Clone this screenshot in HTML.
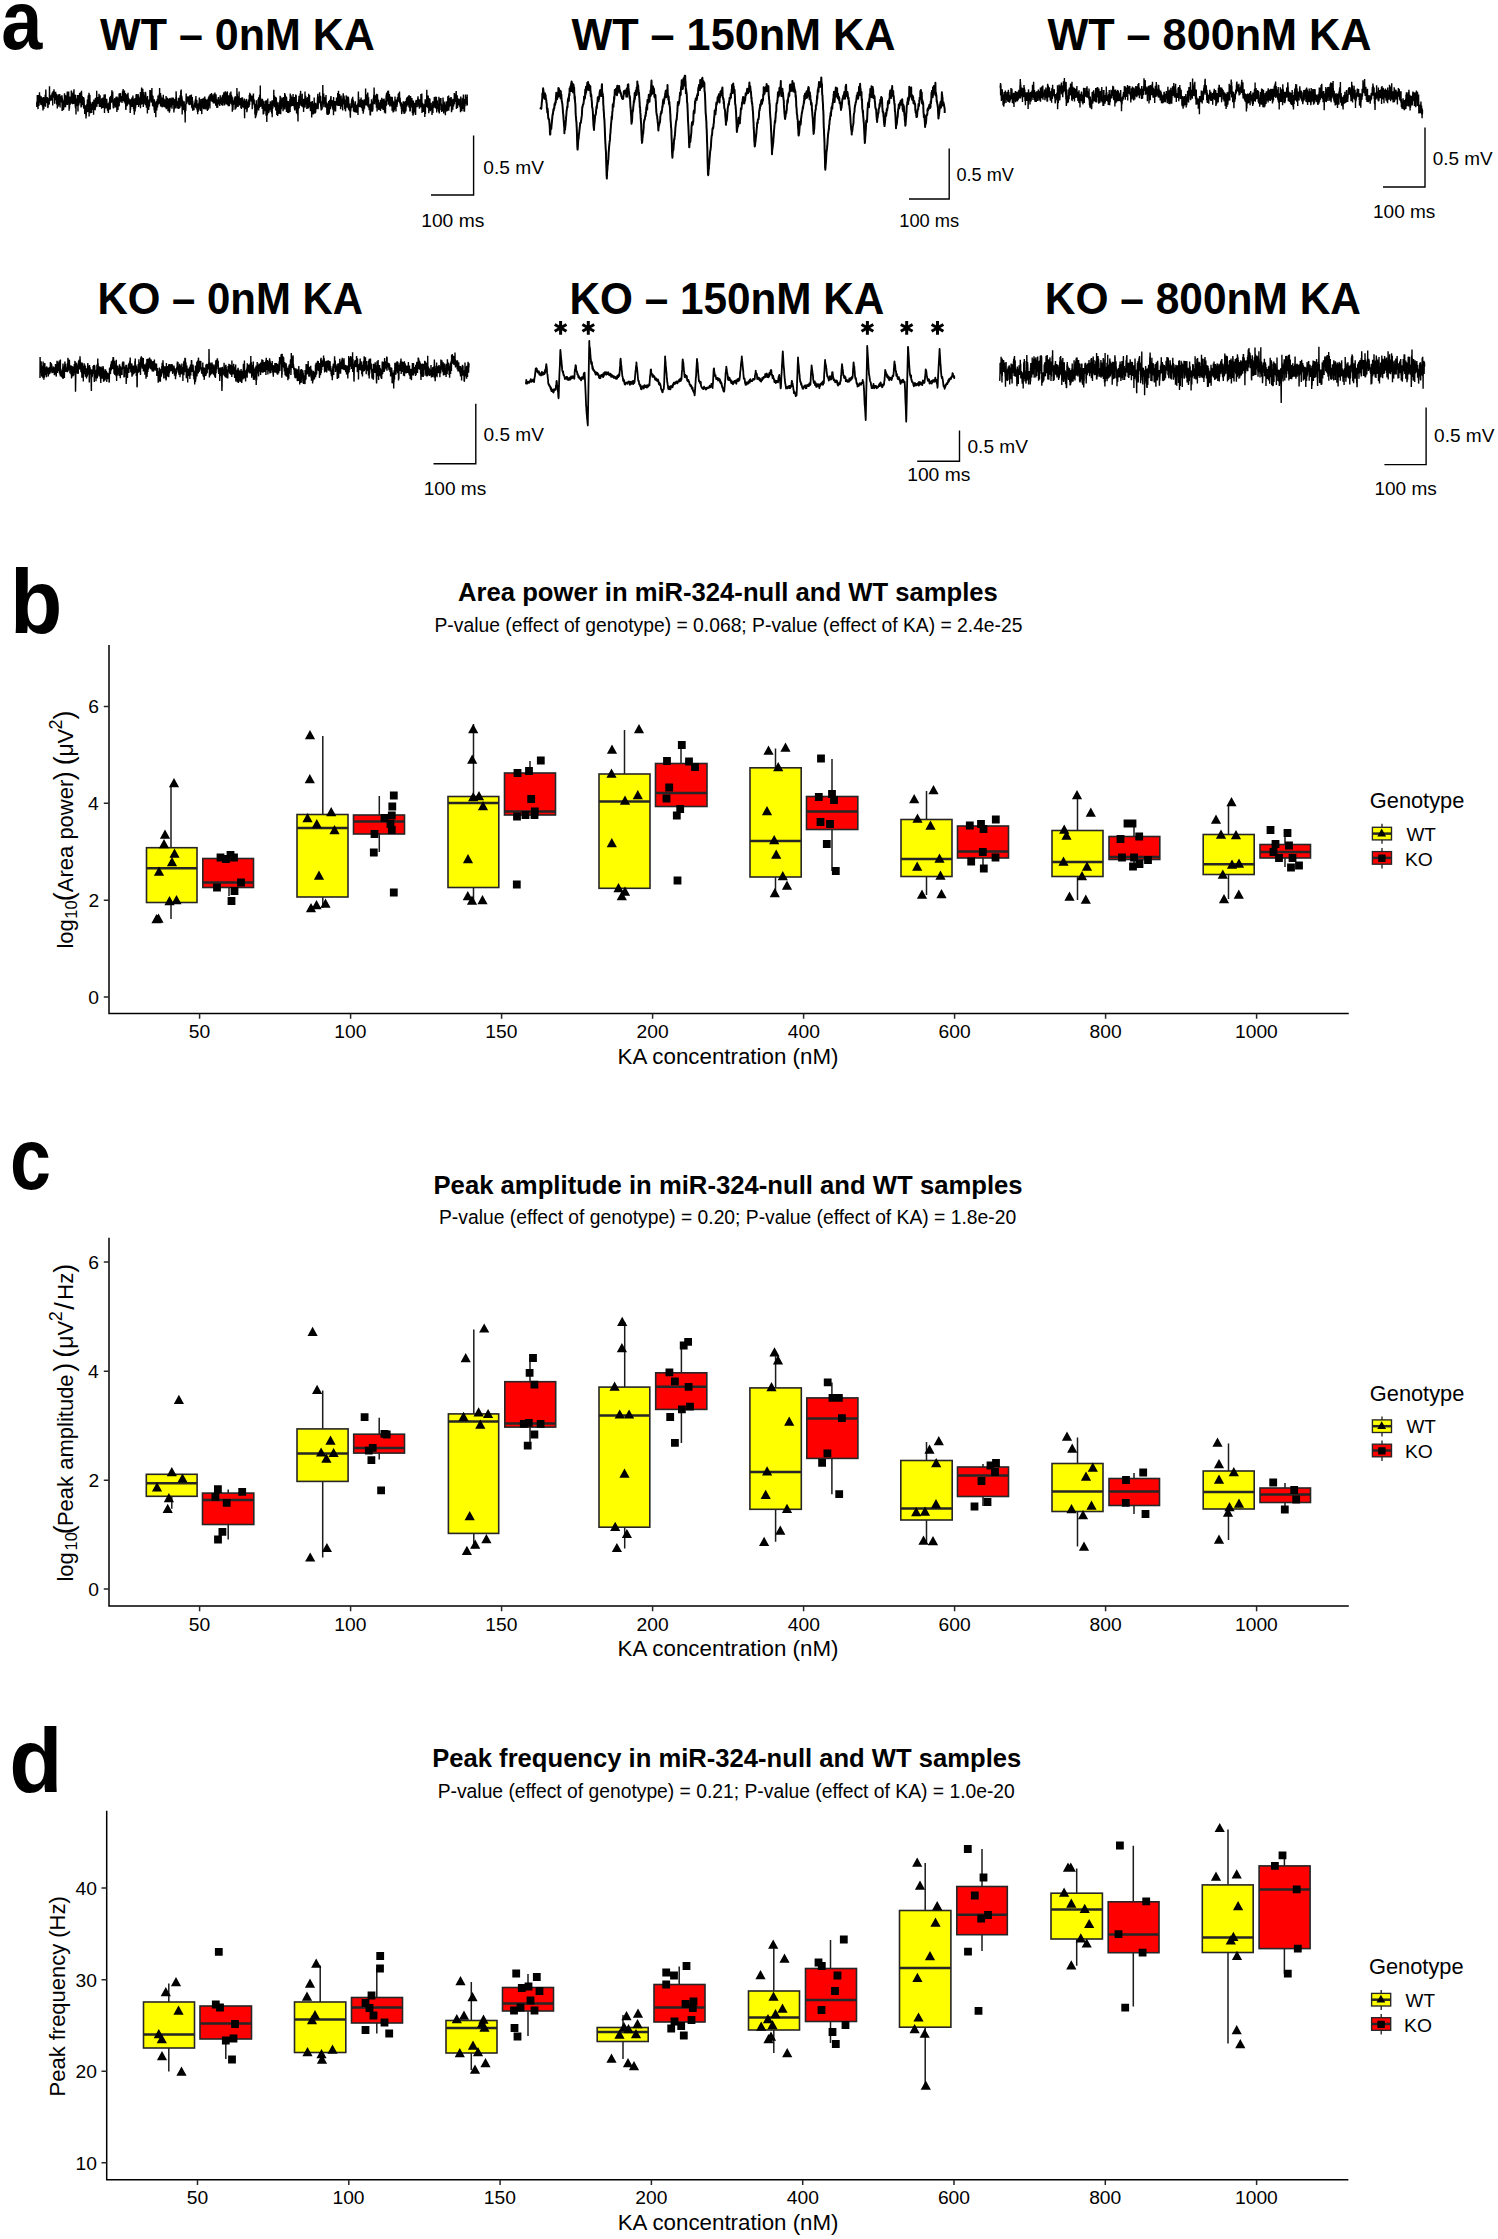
<!DOCTYPE html>
<html><head><meta charset="utf-8"><title>Figure</title><style>html,body{margin:0;padding:0;background:#fff;}svg{display:block;}text{font-family:"Liberation Sans",sans-serif;}</style></head><body>
<svg width="1498" height="2239" viewBox="0 0 1498 2239">
<rect width="1498" height="2239" fill="#fff"/>
<text transform="translate(1.17,48.57) scale(0.7383,0.8292)" x="0" y="0" font-size="100" font-weight="bold">a</text>
<text x="100.1" y="49.9" font-size="44" font-weight="bold" textLength="274.8" lengthAdjust="spacingAndGlyphs" fill="#000">WT – 0nM KA</text>
<text x="571.4" y="49.9" font-size="44" font-weight="bold" textLength="324.15" lengthAdjust="spacingAndGlyphs" fill="#000">WT – 150nM KA</text>
<text x="1047.4" y="49.9" font-size="44" font-weight="bold" textLength="324.15" lengthAdjust="spacingAndGlyphs" fill="#000">WT – 800nM KA</text>
<text x="97.38" y="313.6" font-size="44" font-weight="bold" textLength="265.74" lengthAdjust="spacingAndGlyphs" fill="#000">KO – 0nM KA</text>
<text x="569.56" y="313.6" font-size="44" font-weight="bold" textLength="314.72" lengthAdjust="spacingAndGlyphs" fill="#000">KO – 150nM KA</text>
<text x="1044.75" y="313.6" font-size="44" font-weight="bold" textLength="316.23" lengthAdjust="spacingAndGlyphs" fill="#000">KO – 800nM KA</text>
<path d="M431 195H473.6V135.5" fill="none" stroke="#000" stroke-width="1.4"/>
<text x="483.29" y="173.5" font-size="18.8" textLength="60.61" lengthAdjust="spacingAndGlyphs" fill="#000">0.5 mV</text>
<text x="421.22" y="226.5" font-size="18.8" textLength="63.04" lengthAdjust="spacingAndGlyphs" fill="#000">100 ms</text>
<path d="M909 199H949.2V148.5" fill="none" stroke="#000" stroke-width="1.4"/>
<text x="956.52" y="180.5" font-size="18.8" textLength="57.39" lengthAdjust="spacingAndGlyphs" fill="#000">0.5 mV</text>
<text x="899.28" y="226.5" font-size="18.8" textLength="59.94" lengthAdjust="spacingAndGlyphs" fill="#000">100 ms</text>
<path d="M1383 187H1425V127.4" fill="none" stroke="#000" stroke-width="1.4"/>
<text x="1432.7" y="164.7" font-size="18.8" textLength="59.91" lengthAdjust="spacingAndGlyphs" fill="#000">0.5 mV</text>
<text x="1373.03" y="218.1" font-size="18.8" textLength="62.32" lengthAdjust="spacingAndGlyphs" fill="#000">100 ms</text>
<path d="M433.5 463.8H475.8V403.8" fill="none" stroke="#000" stroke-width="1.4"/>
<text x="483.49" y="441" font-size="18.8" textLength="60.41" lengthAdjust="spacingAndGlyphs" fill="#000">0.5 mV</text>
<text x="423.73" y="495" font-size="18.8" textLength="62.53" lengthAdjust="spacingAndGlyphs" fill="#000">100 ms</text>
<path d="M917.2 461.2H959.5V430.5" fill="none" stroke="#000" stroke-width="1.4"/>
<text x="967.49" y="453" font-size="18.8" textLength="60.41" lengthAdjust="spacingAndGlyphs" fill="#000">0.5 mV</text>
<text x="907.22" y="480.8" font-size="18.8" textLength="63.04" lengthAdjust="spacingAndGlyphs" fill="#000">100 ms</text>
<path d="M1384.4 464.6H1426.1V407.4" fill="none" stroke="#000" stroke-width="1.4"/>
<text x="1434.09" y="442.4" font-size="18.8" textLength="60.31" lengthAdjust="spacingAndGlyphs" fill="#000">0.5 mV</text>
<text x="1374.43" y="494.5" font-size="18.8" textLength="62.32" lengthAdjust="spacingAndGlyphs" fill="#000">100 ms</text>
<polyline points="36.7,102.3 36.8,106.9 37.0,103.8 37.1,100.7 37.2,104.0 37.3,95.1 37.5,102.9 37.6,99.5 37.7,96.1 37.8,103.9 38.0,109.1 38.1,106.1 38.2,103.4 38.3,97.8 38.5,95.1 38.6,98.9 38.7,97.2 38.8,100.4 39.0,105.9 39.1,102.1 39.2,100.0 39.3,99.8 39.5,92.2 39.6,100.8 39.7,98.6 39.8,95.0 40.0,97.6 40.1,97.2 40.2,100.5 40.3,96.5 40.5,102.9 40.6,99.0 40.7,97.2 40.8,104.8 41.0,99.0 41.1,100.0 41.2,96.2 41.3,105.1 41.5,100.8 41.6,103.4 41.7,100.5 41.8,103.0 42.0,97.4 42.1,100.9 42.2,98.0 42.3,102.0 42.5,106.4 42.6,101.7 42.7,103.6 42.8,104.7 43.0,110.4 43.1,107.1 43.2,97.5 43.3,108.9 43.5,97.0 43.6,97.6 43.7,103.9 43.8,108.9 44.0,99.5 44.1,97.6 44.2,100.6 44.3,102.1 44.5,106.3 44.6,101.0 44.7,98.7 44.8,98.2 45.0,99.9 45.1,100.9 45.2,94.8 45.3,97.7 45.5,101.1 45.6,106.7 45.7,99.9 45.8,89.5 46.0,95.9 46.1,99.9 46.2,97.2 46.3,103.3 46.5,98.1 46.6,101.5 46.7,101.6 46.8,98.3 47.0,98.4 47.1,99.4 47.2,96.9 47.3,101.5 47.5,98.9 47.6,101.8 47.7,97.7 47.8,108.1 48.0,103.9 48.1,107.2 48.2,99.2 48.3,100.1 48.5,103.2 48.6,102.5 48.7,102.1 48.8,103.8 49.0,102.4 49.1,104.7 49.2,98.1 49.3,103.9 49.5,86.2 49.6,101.0 49.7,101.6 49.8,97.7 50.0,99.4 50.1,99.1 50.2,100.8 50.3,95.4 50.5,96.9 50.6,100.5 50.7,96.9 50.8,97.1 51.0,100.6 51.1,99.1 51.2,95.9 51.3,94.7 51.5,99.5 51.6,100.0 51.7,99.2 51.8,98.5 52.0,95.1 52.1,92.7 52.2,95.3 52.3,94.7 52.5,92.5 52.6,95.6 52.7,105.5 52.8,92.2 53.0,92.7 53.1,96.7 53.2,91.1 53.3,92.4 53.5,92.4 53.6,94.0 53.7,97.6 53.8,96.6 54.0,89.3 54.1,93.8 54.2,91.5 54.3,96.8 54.5,93.9 54.6,100.2 54.7,103.8 54.8,95.6 55.0,97.8 55.1,100.3 55.2,95.1 55.3,92.4 55.5,100.2 55.6,99.8 55.7,91.7 55.8,98.8 56.0,97.4 56.1,97.1 56.2,99.8 56.3,94.2 56.5,94.4 56.6,104.5 56.7,102.0 56.8,99.2 57.0,99.9 57.1,100.6 57.2,99.6 57.3,108.5 57.5,97.4 57.6,102.0 57.7,95.5 57.8,102.4 58.0,106.9 58.1,100.1 58.2,97.4 58.3,94.2 58.5,104.8 58.6,97.8 58.7,101.2 58.8,103.1 59.0,96.7 59.1,100.5 59.2,105.4 59.3,97.0 59.5,99.0 59.6,100.2 59.7,93.9 59.8,98.3 60.0,103.4 60.1,107.6 60.2,96.2 60.3,100.0 60.5,101.2 60.6,98.7 60.7,97.5 60.8,99.1 61.0,98.4 61.1,101.4 61.2,99.7 61.3,100.4 61.5,95.5 61.6,102.2 61.7,101.4 61.8,102.8 62.0,95.3 62.1,110.9 62.2,103.7 62.3,97.7 62.5,108.2 62.6,106.7 62.7,102.2 62.8,109.1 63.0,106.4 63.1,100.4 63.2,101.5 63.3,105.5 63.5,110.1 63.6,101.9 63.7,108.7 63.8,103.7 64.0,100.0 64.1,107.6 64.2,98.7 64.3,101.1 64.5,93.3 64.6,99.9 64.7,104.1 64.8,95.9 65.0,94.7 65.1,106.4 65.2,102.7 65.3,97.3 65.5,99.7 65.6,107.3 65.7,95.3 65.8,103.6 66.0,101.9 66.1,101.1 66.2,99.4 66.3,102.7 66.5,96.0 66.6,99.9 66.7,104.8 66.8,98.9 67.0,100.1 67.1,102.9 67.2,93.2 67.3,91.5 67.5,105.1 67.6,101.1 67.7,101.9 67.8,98.4 68.0,100.5 68.1,103.5 68.2,100.2 68.3,98.5 68.5,97.3 68.6,95.0 68.7,91.5 68.8,99.4 69.0,99.3 69.1,110.7 69.2,98.7 69.3,96.7 69.5,108.4 69.6,98.2 69.7,99.6 69.8,104.6 70.0,104.6 70.1,104.5 70.2,103.0 70.3,96.6 70.5,97.7 70.6,98.2 70.7,102.3 70.8,98.7 71.0,103.8 71.1,100.4 71.2,100.6 71.3,90.6 71.5,99.7 71.6,94.2 71.7,102.4 71.8,98.3 72.0,101.8 72.1,101.6 72.2,96.9 72.3,96.3 72.5,103.2 72.6,104.3 72.7,96.0 72.8,92.9 73.0,102.6 73.1,93.7 73.2,99.3 73.3,91.4 73.5,103.9 73.6,101.2 73.7,98.3 73.8,95.1 74.0,89.2 74.1,99.8 74.2,103.0 74.3,101.4 74.5,95.6 74.6,103.7 74.7,102.3 74.8,95.0 75.0,94.6 75.1,97.6 75.2,106.2 75.3,99.0 75.5,108.3 75.6,106.3 75.7,94.9 75.8,100.5 76.0,114.6 76.1,101.7 76.2,104.6 76.3,103.3 76.5,100.9 76.6,99.2 76.7,103.3 76.8,104.1 77.0,104.8 77.1,105.9 77.2,98.3 77.3,99.1 77.5,105.7 77.6,103.3 77.7,95.0 77.8,98.6 78.0,111.4 78.1,100.5 78.2,100.5 78.3,102.6 78.5,102.7 78.6,95.0 78.7,97.3 78.8,105.6 79.0,95.2 79.1,98.7 79.2,103.5 79.3,97.0 79.5,96.6 79.6,92.9 79.7,93.1 79.8,100.2 80.0,97.8 80.1,96.5 80.2,93.5 80.3,102.0 80.5,102.7 80.6,96.6 80.7,93.0 80.8,92.3 81.0,105.8 81.1,107.5 81.2,95.2 81.3,98.9 81.5,90.7 81.6,95.8 81.7,106.8 81.8,102.7 82.0,103.2 82.1,98.8 82.2,96.1 82.3,99.1 82.5,104.9 82.6,102.1 82.7,103.3 82.8,103.5 83.0,98.1 83.1,101.7 83.2,97.8 83.3,97.5 83.5,103.8 83.6,97.0 83.7,108.5 83.8,103.9 84.0,98.2 84.1,101.7 84.2,100.3 84.3,109.0 84.5,108.2 84.6,106.9 84.7,114.0 84.9,108.4 85.0,107.9 85.1,105.8 85.2,105.3 85.4,112.1 85.5,114.3 85.6,111.1 85.7,112.8 85.9,112.1 86.0,118.6 86.1,112.7 86.2,116.2 86.4,110.6 86.5,107.6 86.6,104.3 86.7,105.6 86.9,110.9 87.0,104.7 87.1,112.3 87.2,105.8 87.4,99.4 87.5,106.7 87.6,103.4 87.7,112.0 87.9,106.7 88.0,99.3 88.1,103.0 88.2,96.4 88.4,95.4 88.5,100.7 88.6,102.7 88.7,98.4 88.9,104.6 89.0,92.8 89.1,116.6 89.2,100.9 89.4,94.2 89.5,101.9 89.6,99.2 89.7,105.4 89.9,95.0 90.0,104.2 90.1,101.0 90.2,108.6 90.4,113.3 90.5,102.4 90.6,103.4 90.7,104.7 90.9,105.3 91.0,110.0 91.1,104.2 91.2,103.8 91.4,106.8 91.5,107.2 91.6,113.0 91.7,105.4 91.9,105.2 92.0,109.9 92.1,109.6 92.2,103.5 92.4,105.9 92.5,101.8 92.6,110.0 92.7,103.7 92.9,104.2 93.0,105.1 93.1,103.1 93.2,106.8 93.4,110.0 93.5,107.6 93.6,114.7 93.7,106.8 93.9,99.6 94.0,105.9 94.1,103.6 94.2,109.5 94.4,104.8 94.5,106.9 94.6,99.9 94.7,102.3 94.9,105.4 95.0,103.3 95.1,104.3 95.2,110.2 95.4,98.6 95.5,98.2 95.6,107.7 95.7,102.9 95.9,98.9 96.0,102.6 96.1,104.3 96.2,97.5 96.4,103.6 96.5,99.2 96.6,105.1 96.7,90.8 96.9,106.7 97.0,98.9 97.1,103.9 97.2,97.1 97.4,101.5 97.5,104.0 97.6,100.2 97.7,98.4 97.9,97.3 98.0,97.5 98.1,103.6 98.2,96.9 98.4,103.6 98.5,101.1 98.6,100.2 98.7,98.6 98.9,99.7 99.0,93.8 99.1,104.3 99.2,100.2 99.4,107.0 99.5,99.3 99.6,99.3 99.7,102.4 99.9,101.2 100.0,98.5 100.1,95.2 100.2,100.0 100.4,101.0 100.5,106.4 100.6,106.7 100.7,99.8 100.9,106.9 101.0,99.8 101.1,101.0 101.2,101.8 101.4,99.8 101.5,105.9 101.6,108.7 101.7,98.2 101.9,103.4 102.0,101.4 102.1,103.0 102.2,98.5 102.4,105.4 102.5,102.9 102.6,102.3 102.7,108.1 102.9,97.4 103.0,100.0 103.1,103.2 103.2,104.8 103.4,101.5 103.5,104.2 103.6,107.8 103.7,101.9 103.9,102.1 104.0,103.9 104.1,94.4 104.2,106.7 104.4,107.0 104.5,113.0 104.6,100.2 104.7,107.1 104.9,107.8 105.0,109.0 105.1,101.6 105.2,94.2 105.4,106.4 105.5,107.2 105.6,107.2 105.7,103.4 105.9,102.7 106.0,105.6 106.1,102.2 106.2,102.2 106.4,106.9 106.5,108.0 106.6,101.6 106.7,98.7 106.9,101.9 107.0,108.6 107.1,104.7 107.2,108.7 107.4,108.5 107.5,110.8 107.6,105.0 107.7,107.0 107.9,110.1 108.0,105.2 108.1,103.2 108.2,111.4 108.4,113.0 108.5,103.8 108.6,109.2 108.7,108.9 108.9,107.9 109.0,105.4 109.1,103.4 109.2,101.7 109.4,109.8 109.5,105.5 109.6,107.2 109.7,97.2 109.9,107.5 110.0,106.6 110.1,103.4 110.2,109.6 110.4,101.8 110.5,101.0 110.6,96.1 110.7,96.8 110.9,100.8 111.0,99.9 111.1,103.0 111.2,96.0 111.4,100.1 111.5,94.7 111.6,97.7 111.7,96.1 111.9,90.2 112.0,102.3 112.1,96.0 112.2,96.6 112.4,101.0 112.5,96.2 112.6,97.4 112.7,91.4 112.9,101.7 113.0,104.5 113.1,100.5 113.2,106.8 113.4,108.4 113.5,105.5 113.6,101.7 113.7,105.9 113.9,106.0 114.0,103.8 114.1,107.7 114.2,105.1 114.4,98.8 114.5,102.6 114.6,104.1 114.7,99.0 114.9,98.3 115.0,104.3 115.1,106.0 115.2,100.2 115.4,106.1 115.5,100.3 115.6,99.3 115.7,107.5 115.9,104.4 116.0,96.7 116.1,97.3 116.2,103.8 116.4,100.0 116.5,100.0 116.6,97.7 116.7,102.0 116.9,112.0 117.0,96.5 117.1,109.2 117.2,99.2 117.4,97.9 117.5,105.8 117.6,101.5 117.7,101.3 117.9,106.8 118.0,110.1 118.1,103.9 118.2,98.2 118.4,98.1 118.5,101.9 118.6,106.2 118.7,103.9 118.9,103.3 119.0,106.5 119.1,93.4 119.2,105.4 119.4,102.1 119.5,101.7 119.6,103.1 119.7,100.1 119.9,96.8 120.0,92.9 120.1,101.9 120.2,95.6 120.4,99.8 120.5,93.3 120.6,99.6 120.7,101.4 120.9,97.8 121.0,100.7 121.1,95.9 121.2,96.6 121.4,99.0 121.5,98.0 121.6,99.5 121.7,97.8 121.9,100.8 122.0,103.0 122.1,98.8 122.2,99.8 122.4,97.2 122.5,91.4 122.6,98.7 122.7,98.6 122.9,90.8 123.0,94.4 123.1,89.1 123.2,96.4 123.4,101.2 123.5,96.2 123.6,93.1 123.7,100.4 123.9,98.6 124.0,97.7 124.1,100.6 124.2,97.0 124.4,102.5 124.5,90.6 124.6,101.3 124.7,96.6 124.9,101.7 125.0,97.7 125.1,94.9 125.2,103.7 125.4,96.8 125.5,92.9 125.6,101.7 125.7,108.0 125.9,109.8 126.0,108.9 126.1,95.4 126.2,102.5 126.4,98.7 126.5,103.1 126.6,94.6 126.7,104.2 126.9,102.2 127.0,106.2 127.1,105.7 127.2,101.1 127.4,94.2 127.5,102.7 127.6,97.7 127.7,100.4 127.9,104.8 128.0,92.7 128.1,99.2 128.2,96.5 128.4,101.4 128.5,102.5 128.6,102.2 128.7,102.9 128.9,98.4 129.0,99.6 129.1,102.0 129.2,103.5 129.4,102.6 129.5,99.7 129.6,102.4 129.7,104.5 129.9,99.5 130.0,100.4 130.1,105.9 130.2,112.9 130.4,104.4 130.5,99.3 130.6,109.8 130.7,105.5 130.9,99.2 131.0,104.2 131.1,104.5 131.2,106.8 131.4,98.9 131.5,106.6 131.6,100.8 131.7,103.4 131.9,97.4 132.0,107.0 132.1,103.0 132.2,98.7 132.4,103.9 132.5,105.1 132.6,106.1 132.8,105.9 132.9,95.5 133.0,98.9 133.1,103.2 133.3,104.6 133.4,99.5 133.5,109.0 133.6,107.0 133.8,98.6 133.9,101.1 134.0,110.9 134.1,99.3 134.3,114.8 134.4,113.2 134.5,101.9 134.6,108.3 134.8,110.6 134.9,100.9 135.0,98.5 135.1,111.6 135.3,104.2 135.4,98.0 135.5,108.4 135.6,107.7 135.8,104.5 135.9,101.9 136.0,97.7 136.1,94.4 136.3,103.6 136.4,102.1 136.5,94.1 136.6,95.9 136.8,96.1 136.9,97.4 137.0,98.8 137.1,104.9 137.3,99.6 137.4,103.8 137.5,100.0 137.6,103.8 137.8,99.5 137.9,104.0 138.0,97.6 138.1,93.9 138.3,105.0 138.4,95.8 138.5,96.4 138.6,106.9 138.8,99.7 138.9,101.4 139.0,102.2 139.1,103.1 139.3,105.0 139.4,100.0 139.5,97.2 139.6,104.7 139.8,100.3 139.9,98.6 140.0,103.0 140.1,103.2 140.3,101.1 140.4,91.9 140.5,108.3 140.6,99.7 140.8,94.2 140.9,101.8 141.0,104.6 141.1,103.8 141.3,100.5 141.4,100.6 141.5,91.4 141.6,87.5 141.8,103.1 141.9,98.9 142.0,98.7 142.1,91.6 142.3,104.3 142.4,95.0 142.5,100.7 142.6,91.7 142.8,88.8 142.9,98.2 143.0,99.4 143.1,92.8 143.3,107.1 143.4,95.4 143.5,103.1 143.6,102.2 143.8,92.2 143.9,99.9 144.0,94.7 144.1,99.1 144.3,98.0 144.4,102.6 144.5,96.0 144.6,101.4 144.8,102.5 144.9,104.2 145.0,96.8 145.1,103.1 145.3,103.5 145.4,105.1 145.5,91.7 145.6,93.7 145.8,93.8 145.9,99.8 146.0,97.2 146.1,100.9 146.3,102.0 146.4,107.6 146.5,107.5 146.6,102.2 146.8,103.9 146.9,97.8 147.0,102.6 147.1,104.5 147.3,103.5 147.4,113.5 147.5,96.0 147.6,103.8 147.8,106.2 147.9,109.7 148.0,107.8 148.1,99.5 148.3,102.3 148.4,107.9 148.5,106.2 148.6,109.9 148.8,107.4 148.9,103.9 149.0,102.9 149.1,106.6 149.3,100.4 149.4,101.5 149.5,106.5 149.6,99.6 149.8,102.5 149.9,89.9 150.0,96.3 150.1,98.9 150.3,100.5 150.4,97.2 150.5,97.6 150.6,93.6 150.8,96.3 150.9,99.3 151.0,92.2 151.1,90.2 151.3,99.5 151.4,102.6 151.5,101.1 151.6,93.1 151.8,94.9 151.9,88.1 152.0,99.0 152.1,100.6 152.3,95.2 152.4,101.2 152.5,101.0 152.6,106.0 152.8,100.4 152.9,103.2 153.0,95.7 153.1,101.7 153.3,106.7 153.4,99.9 153.5,102.2 153.6,105.9 153.8,105.2 153.9,103.4 154.0,105.2 154.1,109.8 154.3,99.2 154.4,111.5 154.5,109.1 154.6,113.1 154.8,101.5 154.9,111.7 155.0,107.2 155.1,106.1 155.3,103.6 155.4,105.6 155.5,107.0 155.6,102.3 155.8,117.3 155.9,106.0 156.0,110.0 156.1,108.3 156.3,108.0 156.4,100.8 156.5,101.4 156.6,101.6 156.8,110.4 156.9,101.1 157.0,107.4 157.1,105.8 157.3,99.1 157.4,104.0 157.5,107.4 157.6,104.5 157.8,102.5 157.9,105.5 158.0,95.4 158.1,98.5 158.3,100.3 158.4,102.6 158.5,104.3 158.6,96.6 158.8,98.9 158.9,103.1 159.0,102.6 159.1,95.4 159.3,94.0 159.4,96.1 159.5,98.9 159.6,88.1 159.8,103.2 159.9,97.0 160.0,102.1 160.1,104.2 160.3,97.1 160.4,93.3 160.5,92.9 160.6,106.4 160.8,97.7 160.9,100.5 161.0,95.6 161.1,99.3 161.3,102.7 161.4,104.0 161.5,102.1 161.6,98.4 161.8,101.7 161.9,101.5 162.0,107.3 162.1,100.2 162.3,97.5 162.4,103.8 162.5,98.5 162.6,107.0 162.8,106.8 162.9,100.0 163.0,99.8 163.1,103.8 163.3,94.8 163.4,105.3 163.5,106.5 163.6,102.3 163.8,101.9 163.9,99.2 164.0,98.6 164.1,103.7 164.3,103.6 164.4,100.4 164.5,106.9 164.6,101.7 164.8,107.1 164.9,99.6 165.0,104.8 165.1,106.0 165.3,107.5 165.4,102.4 165.5,103.7 165.6,103.9 165.8,107.7 165.9,99.8 166.0,102.3 166.1,96.0 166.3,109.3 166.4,103.5 166.5,101.4 166.6,102.3 166.8,105.8 166.9,101.7 167.0,104.2 167.1,97.7 167.3,98.6 167.4,108.4 167.5,104.4 167.6,98.2 167.8,105.2 167.9,108.0 168.0,111.3 168.1,102.2 168.3,106.0 168.4,102.2 168.5,98.7 168.6,101.3 168.8,104.8 168.9,102.7 169.0,103.6 169.1,102.4 169.3,104.9 169.4,112.7 169.5,105.9 169.6,107.5 169.8,111.2 169.9,97.9 170.0,98.6 170.1,100.2 170.3,98.3 170.4,107.6 170.5,98.7 170.6,100.6 170.8,106.9 170.9,99.8 171.0,104.0 171.1,106.0 171.3,100.0 171.4,107.0 171.5,100.2 171.6,103.5 171.8,101.0 171.9,97.6 172.0,108.7 172.1,98.7 172.3,99.8 172.4,100.2 172.5,100.0 172.6,102.9 172.8,97.7 172.9,100.9 173.0,105.2 173.1,97.6 173.3,102.2 173.4,98.0 173.5,102.9 173.6,105.0 173.8,101.4 173.9,112.6 174.0,100.0 174.1,110.5 174.3,105.5 174.4,107.5 174.5,102.4 174.6,108.5 174.8,107.5 174.9,99.1 175.0,104.4 175.1,103.6 175.3,107.4 175.4,98.8 175.5,106.0 175.6,104.0 175.8,108.3 175.9,96.9 176.0,105.7 176.1,91.3 176.3,96.8 176.4,100.6 176.5,97.5 176.6,105.1 176.8,100.5 176.9,103.1 177.0,103.0 177.1,106.3 177.3,101.3 177.4,108.5 177.5,104.2 177.6,107.2 177.8,108.3 177.9,108.2 178.0,103.4 178.1,104.5 178.3,104.5 178.4,107.8 178.5,107.5 178.6,98.1 178.8,98.3 178.9,109.0 179.0,101.1 179.1,107.0 179.3,101.7 179.4,105.9 179.5,105.0 179.6,99.5 179.8,107.8 179.9,107.5 180.0,104.7 180.1,95.2 180.3,99.1 180.4,103.6 180.5,105.1 180.7,97.9 180.8,90.8 180.9,96.6 181.0,103.0 181.2,89.4 181.3,105.8 181.4,98.9 181.5,106.5 181.7,95.7 181.8,100.1 181.9,103.4 182.0,97.2 182.2,114.4 182.3,106.0 182.4,99.8 182.5,103.6 182.7,100.7 182.8,101.5 182.9,107.7 183.0,103.7 183.2,109.9 183.3,103.4 183.4,107.4 183.5,106.8 183.7,109.4 183.8,104.1 183.9,107.6 184.0,108.0 184.2,101.2 184.3,110.6 184.4,109.1 184.5,105.2 184.7,111.3 184.8,112.5 184.9,107.3 185.0,110.8 185.2,122.4 185.3,110.0 185.4,108.5 185.5,107.2 185.7,103.7 185.8,110.9 185.9,105.7 186.0,102.0 186.2,93.5 186.3,104.0 186.4,100.7 186.5,101.7 186.7,101.8 186.8,100.1 186.9,102.0 187.0,103.6 187.2,97.6 187.3,100.1 187.4,96.4 187.5,101.4 187.7,97.3 187.8,97.2 187.9,99.4 188.0,98.4 188.2,96.2 188.3,99.7 188.4,101.7 188.5,99.1 188.7,97.4 188.8,104.5 188.9,100.4 189.0,96.9 189.2,96.8 189.3,99.6 189.4,104.8 189.5,105.0 189.7,102.9 189.8,95.3 189.9,98.4 190.0,104.7 190.2,102.6 190.3,100.1 190.4,102.0 190.5,97.6 190.7,99.8 190.8,100.1 190.9,94.9 191.0,101.9 191.2,96.6 191.3,100.7 191.4,94.5 191.5,104.1 191.7,107.5 191.8,97.3 191.9,102.7 192.0,97.0 192.2,108.6 192.3,96.9 192.4,101.5 192.5,101.5 192.7,110.8 192.8,100.8 192.9,106.9 193.0,110.2 193.2,107.7 193.3,105.1 193.4,108.3 193.5,105.4 193.7,109.9 193.8,109.5 193.9,107.9 194.0,110.3 194.2,104.7 194.3,104.7 194.4,106.3 194.5,106.9 194.7,102.5 194.8,105.9 194.9,105.5 195.0,102.9 195.2,101.7 195.3,100.1 195.4,106.7 195.5,98.7 195.7,107.8 195.8,100.3 195.9,96.0 196.0,104.6 196.2,102.9 196.3,108.6 196.4,102.6 196.5,102.7 196.7,106.6 196.8,99.9 196.9,100.8 197.0,109.8 197.2,107.5 197.3,104.9 197.4,111.7 197.5,104.1 197.7,114.3 197.8,103.5 197.9,107.5 198.0,107.2 198.2,111.9 198.3,108.4 198.4,107.8 198.5,108.2 198.7,109.2 198.8,109.2 198.9,102.6 199.0,102.7 199.2,105.4 199.3,98.1 199.4,97.6 199.5,105.1 199.7,105.5 199.8,102.5 199.9,101.0 200.0,100.6 200.2,105.0 200.3,111.0 200.4,103.1 200.5,106.2 200.7,104.4 200.8,103.9 200.9,108.0 201.0,99.1 201.2,103.0 201.3,106.4 201.4,105.6 201.5,98.9 201.7,111.6 201.8,114.1 201.9,102.3 202.0,108.0 202.2,106.0 202.3,104.3 202.4,98.4 202.5,106.0 202.7,104.3 202.8,99.1 202.9,106.2 203.0,99.7 203.2,106.1 203.3,102.1 203.4,99.7 203.5,109.3 203.7,106.7 203.8,103.9 203.9,97.7 204.0,99.7 204.2,103.5 204.3,99.3 204.4,98.9 204.5,103.1 204.7,102.6 204.8,96.4 204.9,108.7 205.0,101.5 205.2,109.4 205.3,101.3 205.4,101.1 205.5,98.9 205.7,104.3 205.8,100.7 205.9,102.7 206.0,106.6 206.2,108.2 206.3,104.0 206.4,102.3 206.5,103.1 206.7,100.0 206.8,109.5 206.9,106.9 207.0,99.6 207.2,100.1 207.3,102.3 207.4,110.9 207.5,99.3 207.7,104.3 207.8,105.1 207.9,100.2 208.0,102.9 208.2,109.7 208.3,107.9 208.4,97.5 208.5,104.2 208.7,102.1 208.8,105.9 208.9,96.4 209.0,100.9 209.2,102.9 209.3,95.5 209.4,99.2 209.5,98.9 209.7,100.5 209.8,96.3 209.9,108.6 210.0,101.0 210.2,94.3 210.3,95.3 210.4,94.1 210.5,98.7 210.7,98.6 210.8,101.2 210.9,99.6 211.0,95.8 211.2,96.6 211.3,100.5 211.4,101.1 211.5,93.1 211.7,96.1 211.8,101.2 211.9,95.5 212.0,98.3 212.2,94.4 212.3,102.1 212.4,96.4 212.5,95.8 212.7,99.3 212.8,96.9 212.9,98.5 213.0,102.2 213.2,97.4 213.3,97.8 213.4,103.4 213.5,97.2 213.7,97.2 213.8,101.7 213.9,93.7 214.0,103.3 214.2,98.4 214.3,96.8 214.4,97.9 214.5,97.1 214.7,103.0 214.8,98.2 214.9,92.6 215.0,98.3 215.2,103.6 215.3,100.1 215.4,98.7 215.5,97.1 215.7,105.8 215.8,99.4 215.9,104.1 216.0,94.3 216.2,101.2 216.3,99.1 216.4,101.8 216.5,103.7 216.7,101.7 216.8,105.0 216.9,108.0 217.0,104.2 217.2,99.4 217.3,107.6 217.4,101.1 217.5,103.7 217.7,107.7 217.8,103.8 217.9,102.5 218.0,102.0 218.2,97.7 218.3,100.5 218.4,97.0 218.5,103.0 218.7,99.2 218.8,100.7 218.9,104.5 219.0,103.4 219.2,101.3 219.3,103.3 219.4,102.9 219.5,100.3 219.7,102.9 219.8,106.0 219.9,99.9 220.0,102.1 220.2,95.2 220.3,98.3 220.4,102.2 220.5,100.3 220.7,102.9 220.8,100.9 220.9,101.2 221.0,101.6 221.2,99.2 221.3,104.0 221.4,98.3 221.5,100.9 221.7,105.2 221.8,100.4 221.9,97.2 222.0,97.2 222.2,101.0 222.3,101.1 222.4,95.6 222.5,95.7 222.7,105.7 222.8,94.7 222.9,103.8 223.0,98.8 223.2,95.6 223.3,97.3 223.4,97.0 223.5,97.2 223.7,100.1 223.8,92.2 223.9,103.0 224.0,100.7 224.2,95.8 224.3,92.9 224.4,105.4 224.5,92.6 224.7,99.9 224.8,100.8 224.9,93.9 225.0,103.1 225.2,92.3 225.3,91.3 225.4,93.1 225.5,94.5 225.7,103.0 225.8,92.6 225.9,104.6 226.0,97.7 226.2,100.8 226.3,98.8 226.4,93.7 226.5,95.4 226.7,98.3 226.8,98.2 226.9,104.4 227.0,93.1 227.2,91.5 227.3,92.0 227.4,91.8 227.5,96.4 227.7,98.6 227.8,105.1 227.9,98.2 228.0,95.6 228.2,100.4 228.3,106.3 228.4,96.6 228.6,95.3 228.7,100.7 228.8,101.7 228.9,101.7 229.1,101.2 229.2,102.7 229.3,105.8 229.4,105.8 229.6,102.6 229.7,100.0 229.8,95.2 229.9,95.9 230.1,92.9 230.2,96.0 230.3,98.8 230.4,101.5 230.6,93.6 230.7,103.7 230.8,97.8 230.9,91.4 231.1,100.2 231.2,95.5 231.3,96.0 231.4,99.4 231.6,95.6 231.7,100.5 231.8,101.3 231.9,105.3 232.1,97.5 232.2,96.7 232.3,111.7 232.4,99.4 232.6,107.1 232.7,101.4 232.8,100.5 232.9,110.3 233.1,105.3 233.2,100.3 233.3,101.0 233.4,104.9 233.6,101.6 233.7,104.4 233.8,101.2 233.9,102.0 234.1,103.8 234.2,102.1 234.3,97.6 234.4,103.3 234.6,98.9 234.7,101.2 234.8,100.8 234.9,98.3 235.1,109.7 235.2,96.2 235.3,106.6 235.4,96.9 235.6,99.7 235.7,104.9 235.8,101.4 235.9,101.9 236.1,108.4 236.2,103.5 236.3,105.7 236.4,101.5 236.6,100.8 236.7,100.6 236.8,106.7 236.9,88.0 237.1,101.9 237.2,102.3 237.3,93.8 237.4,101.4 237.6,99.7 237.7,97.0 237.8,101.7 237.9,96.6 238.1,106.9 238.2,96.3 238.3,96.8 238.4,99.8 238.6,101.5 238.7,104.1 238.8,102.8 238.9,101.9 239.1,91.5 239.2,99.9 239.3,101.4 239.4,105.5 239.6,97.8 239.7,103.5 239.8,100.5 239.9,99.0 240.1,102.1 240.2,101.4 240.3,102.7 240.4,101.9 240.6,105.7 240.7,105.4 240.8,98.0 240.9,108.0 241.1,107.4 241.2,105.2 241.3,102.5 241.4,109.1 241.6,100.0 241.7,102.3 241.8,97.5 241.9,101.9 242.1,105.7 242.2,99.4 242.3,104.1 242.4,97.3 242.6,103.1 242.7,107.6 242.8,100.4 242.9,101.2 243.1,106.2 243.2,106.2 243.3,102.5 243.4,104.0 243.6,103.7 243.7,107.8 243.8,107.1 243.9,106.1 244.1,102.5 244.2,99.9 244.3,98.6 244.4,107.9 244.6,118.3 244.7,108.9 244.8,110.1 244.9,106.3 245.1,108.0 245.2,102.2 245.3,106.5 245.4,101.2 245.6,107.9 245.7,100.5 245.8,109.1 245.9,104.9 246.1,107.5 246.2,106.3 246.3,99.0 246.4,99.4 246.6,108.4 246.7,105.9 246.8,107.4 246.9,112.3 247.1,106.9 247.2,110.5 247.3,103.5 247.4,101.6 247.6,104.8 247.7,104.4 247.8,105.0 247.9,106.7 248.1,106.6 248.2,108.0 248.3,101.0 248.4,99.6 248.6,103.5 248.7,104.4 248.8,102.0 248.9,101.4 249.1,107.1 249.2,101.3 249.3,94.9 249.4,96.7 249.6,104.9 249.7,101.6 249.8,92.7 249.9,94.7 250.1,99.6 250.2,96.8 250.3,100.1 250.4,94.0 250.6,98.1 250.7,99.5 250.8,100.8 250.9,98.8 251.1,98.4 251.2,98.4 251.3,101.0 251.4,101.7 251.6,96.6 251.7,96.5 251.8,100.1 251.9,95.6 252.1,98.9 252.2,109.2 252.3,102.0 252.4,98.3 252.6,98.2 252.7,97.6 252.8,96.2 252.9,99.4 253.1,103.4 253.2,104.4 253.3,104.1 253.4,93.5 253.6,102.6 253.7,99.0 253.8,103.1 253.9,102.7 254.1,102.3 254.2,99.4 254.3,104.5 254.4,105.4 254.6,107.9 254.7,106.9 254.8,103.7 254.9,113.5 255.1,114.5 255.2,107.4 255.3,103.9 255.4,118.3 255.6,115.9 255.7,112.7 255.8,103.7 255.9,116.6 256.1,114.2 256.2,107.4 256.3,100.3 256.4,115.1 256.6,106.8 256.7,109.5 256.8,111.3 256.9,112.7 257.1,107.1 257.2,110.1 257.3,108.4 257.4,106.2 257.6,108.6 257.7,105.2 257.8,104.8 257.9,104.7 258.1,98.9 258.2,102.0 258.3,99.8 258.4,106.5 258.6,97.4 258.7,110.6 258.8,103.4 258.9,102.3 259.1,97.1 259.2,99.8 259.3,107.9 259.4,101.4 259.6,94.7 259.7,104.1 259.8,107.0 259.9,98.6 260.1,100.2 260.2,106.3 260.3,85.5 260.4,105.1 260.6,97.9 260.7,102.2 260.8,105.7 260.9,104.3 261.1,103.4 261.2,106.7 261.3,99.5 261.4,103.1 261.6,99.9 261.7,104.6 261.8,101.8 261.9,100.5 262.1,101.1 262.2,108.9 262.3,98.8 262.4,101.0 262.6,99.4 262.7,102.3 262.8,100.2 262.9,102.7 263.1,103.5 263.2,114.5 263.3,108.9 263.4,105.6 263.6,101.3 263.7,105.8 263.8,114.0 263.9,106.8 264.1,111.5 264.2,109.2 264.3,107.9 264.4,106.3 264.6,106.5 264.7,105.5 264.8,104.0 264.9,106.8 265.1,110.6 265.2,108.8 265.3,100.7 265.4,109.2 265.6,108.6 265.7,105.2 265.8,111.0 265.9,110.4 266.1,115.6 266.2,100.3 266.3,111.9 266.4,105.1 266.6,110.2 266.7,112.0 266.8,122.1 266.9,111.2 267.1,107.4 267.2,113.8 267.3,112.7 267.4,115.2 267.6,100.0 267.7,110.6 267.8,98.4 267.9,110.9 268.1,109.4 268.2,105.9 268.3,110.4 268.4,109.2 268.6,112.3 268.7,113.3 268.8,107.9 268.9,106.4 269.1,104.0 269.2,111.6 269.3,106.3 269.4,105.6 269.6,108.9 269.7,104.0 269.8,105.4 269.9,106.2 270.1,110.0 270.2,102.0 270.3,101.4 270.4,103.4 270.6,102.9 270.7,102.4 270.8,108.2 270.9,103.1 271.1,112.0 271.2,108.5 271.3,104.7 271.4,104.0 271.6,107.0 271.7,113.6 271.8,105.9 271.9,100.4 272.1,104.2 272.2,117.2 272.3,100.3 272.4,102.7 272.6,103.9 272.7,101.5 272.8,108.8 272.9,100.9 273.1,103.0 273.2,105.4 273.3,105.6 273.4,102.4 273.6,103.9 273.7,102.9 273.8,89.8 273.9,106.0 274.1,103.9 274.2,102.3 274.3,106.3 274.4,95.5 274.6,107.3 274.7,99.9 274.8,98.3 274.9,97.9 275.1,103.4 275.2,99.4 275.3,104.9 275.4,96.7 275.6,107.3 275.7,102.0 275.8,110.4 276.0,105.3 276.1,102.5 276.2,103.6 276.3,97.6 276.5,104.5 276.6,101.0 276.7,103.7 276.8,115.1 277.0,102.9 277.1,109.7 277.2,109.8 277.3,106.9 277.5,107.9 277.6,106.0 277.7,116.0 277.8,111.3 278.0,113.3 278.1,102.2 278.2,108.6 278.3,104.8 278.5,113.4 278.6,107.7 278.7,105.6 278.8,108.8 279.0,108.8 279.1,107.5 279.2,113.9 279.3,111.1 279.5,107.7 279.6,108.9 279.7,104.8 279.8,100.3 280.0,105.4 280.1,95.8 280.2,108.4 280.3,102.7 280.5,96.6 280.6,104.4 280.7,114.2 280.8,100.8 281.0,102.8 281.1,105.2 281.2,98.5 281.3,109.3 281.5,101.8 281.6,104.7 281.7,106.8 281.8,103.1 282.0,106.5 282.1,97.5 282.2,98.3 282.3,104.7 282.5,101.2 282.6,101.5 282.7,104.0 282.8,106.3 283.0,109.0 283.1,111.2 283.2,109.0 283.3,106.8 283.5,99.3 283.6,98.7 283.7,97.0 283.8,99.8 284.0,102.0 284.1,108.7 284.2,97.6 284.3,102.8 284.5,98.0 284.6,99.7 284.7,92.9 284.8,109.4 285.0,100.8 285.1,99.8 285.2,100.2 285.3,94.5 285.5,103.8 285.6,102.0 285.7,104.4 285.8,107.5 286.0,104.6 286.1,99.8 286.2,100.8 286.3,96.6 286.5,112.0 286.6,97.4 286.7,108.2 286.8,100.2 287.0,105.1 287.1,104.4 287.2,100.9 287.3,108.8 287.5,108.4 287.6,106.2 287.7,109.4 287.8,113.1 288.0,101.7 288.1,104.4 288.2,101.1 288.3,103.6 288.5,105.5 288.6,105.6 288.7,106.9 288.8,113.1 289.0,110.0 289.1,104.8 289.2,108.3 289.3,103.7 289.5,109.6 289.6,103.7 289.7,104.6 289.8,99.3 290.0,102.5 290.1,112.0 290.2,93.6 290.3,102.9 290.5,100.3 290.6,100.3 290.7,107.1 290.8,98.7 291.0,95.3 291.1,100.3 291.2,100.4 291.3,103.3 291.5,106.1 291.6,103.3 291.7,103.7 291.8,97.6 292.0,96.8 292.1,101.4 292.2,102.4 292.3,103.7 292.5,102.6 292.6,98.4 292.7,98.0 292.8,105.8 293.0,104.7 293.1,94.0 293.2,103.7 293.3,103.5 293.5,98.7 293.6,97.1 293.7,105.6 293.8,104.1 294.0,97.0 294.1,102.2 294.2,107.2 294.3,100.7 294.5,109.1 294.6,97.0 294.7,110.5 294.8,101.7 295.0,98.9 295.1,101.5 295.2,106.3 295.3,97.9 295.5,107.8 295.6,106.3 295.7,94.5 295.8,105.4 296.0,109.5 296.1,102.3 296.2,95.2 296.3,109.5 296.5,111.0 296.6,113.4 296.7,103.9 296.8,103.8 297.0,106.1 297.1,113.6 297.2,104.8 297.3,109.0 297.5,102.1 297.6,114.6 297.7,108.5 297.8,108.8 298.0,121.6 298.1,111.8 298.2,109.5 298.3,106.7 298.5,105.4 298.6,99.6 298.7,108.7 298.8,103.6 299.0,95.7 299.1,97.1 299.2,108.0 299.3,103.1 299.5,102.8 299.6,99.7 299.7,103.6 299.8,104.6 300.0,103.2 300.1,96.4 300.2,93.5 300.3,100.1 300.5,102.7 300.6,90.7 300.7,97.2 300.8,98.9 301.0,101.4 301.1,105.9 301.2,99.9 301.3,105.4 301.5,100.7 301.6,106.1 301.7,99.9 301.8,102.7 302.0,106.6 302.1,103.2 302.2,93.7 302.3,102.3 302.5,105.5 302.6,103.9 302.7,99.4 302.8,101.8 303.0,106.7 303.1,107.4 303.2,105.6 303.3,100.7 303.5,99.7 303.6,111.9 303.7,98.7 303.8,107.9 304.0,103.5 304.1,105.2 304.2,104.3 304.3,101.6 304.5,105.2 304.6,98.7 304.7,100.9 304.8,103.0 305.0,91.6 305.1,107.5 305.2,101.2 305.3,100.7 305.5,97.4 305.6,100.8 305.7,95.9 305.8,97.4 306.0,98.8 306.1,101.8 306.2,101.7 306.3,99.4 306.5,100.3 306.6,105.0 306.7,99.8 306.8,109.0 307.0,105.7 307.1,100.5 307.2,97.8 307.3,103.7 307.5,107.4 307.6,103.7 307.7,103.4 307.8,96.9 308.0,106.0 308.1,98.2 308.2,108.6 308.3,102.4 308.5,108.6 308.6,104.6 308.7,93.8 308.8,101.2 309.0,103.9 309.1,107.1 309.2,100.9 309.3,103.6 309.5,95.0 309.6,102.8 309.7,101.6 309.8,105.3 310.0,102.9 310.1,102.8 310.2,103.8 310.3,107.4 310.5,111.2 310.6,109.7 310.7,111.0 310.8,103.1 311.0,101.9 311.1,103.5 311.2,103.9 311.3,110.5 311.5,107.9 311.6,107.3 311.7,117.5 311.8,107.3 312.0,111.8 312.1,108.3 312.2,103.6 312.3,101.0 312.5,105.2 312.6,109.1 312.7,109.5 312.8,112.3 313.0,109.3 313.1,114.5 313.2,104.2 313.3,104.2 313.5,110.1 313.6,106.4 313.7,111.4 313.8,113.6 314.0,108.8 314.1,106.0 314.2,97.5 314.3,106.5 314.5,108.7 314.6,102.2 314.7,109.3 314.8,108.5 315.0,108.2 315.1,111.2 315.2,113.5 315.3,103.0 315.5,106.3 315.6,107.9 315.7,112.6 315.8,106.4 316.0,108.3 316.1,105.9 316.2,106.1 316.3,105.9 316.5,109.3 316.6,106.7 316.7,108.1 316.8,104.7 317.0,102.9 317.1,103.6 317.2,107.6 317.3,103.9 317.5,97.2 317.6,105.0 317.7,98.3 317.8,93.8 318.0,102.2 318.1,109.3 318.2,105.7 318.3,104.5 318.5,98.6 318.6,97.2 318.7,97.2 318.8,99.6 319.0,98.1 319.1,101.3 319.2,101.8 319.3,97.2 319.5,103.0 319.6,92.2 319.7,98.8 319.8,99.1 320.0,98.5 320.1,100.9 320.2,101.0 320.3,103.2 320.5,104.0 320.6,95.7 320.7,106.5 320.8,104.8 321.0,108.2 321.1,109.1 321.2,110.4 321.3,108.6 321.5,103.3 321.6,109.1 321.7,103.2 321.8,101.4 322.0,102.9 322.1,109.4 322.2,106.0 322.3,102.0 322.5,101.0 322.6,96.9 322.7,103.6 322.8,85.0 323.0,99.4 323.1,97.3 323.2,96.0 323.3,101.8 323.5,97.1 323.6,104.4 323.7,93.5 323.9,107.2 324.0,96.7 324.1,102.2 324.2,97.4 324.4,97.6 324.5,100.5 324.6,103.7 324.7,99.1 324.9,98.7 325.0,99.9 325.1,97.2 325.2,97.8 325.4,104.0 325.5,107.1 325.6,107.3 325.7,104.2 325.9,105.6 326.0,95.0 326.1,102.0 326.2,103.7 326.4,107.2 326.5,107.3 326.6,105.2 326.7,105.8 326.9,114.4 327.0,102.4 327.1,106.2 327.2,104.3 327.4,103.7 327.5,105.3 327.6,107.4 327.7,104.2 327.9,114.9 328.0,107.0 328.1,107.3 328.2,114.4 328.4,114.4 328.5,113.6 328.6,112.9 328.7,100.9 328.9,106.2 329.0,107.0 329.1,104.9 329.2,113.6 329.4,111.2 329.5,103.5 329.6,101.0 329.7,99.7 329.9,100.4 330.0,105.5 330.1,106.8 330.2,101.5 330.4,109.2 330.5,101.9 330.6,103.9 330.7,97.3 330.9,100.3 331.0,96.1 331.1,101.2 331.2,104.2 331.4,100.3 331.5,100.6 331.6,106.1 331.7,100.1 331.9,106.6 332.0,103.9 332.1,100.5 332.2,100.2 332.4,105.0 332.5,108.4 332.6,104.3 332.7,100.4 332.9,103.9 333.0,110.1 333.1,108.0 333.2,106.1 333.4,106.9 333.5,115.3 333.6,96.9 333.7,102.3 333.9,111.7 334.0,109.9 334.1,108.9 334.2,103.8 334.4,110.6 334.5,103.7 334.6,104.3 334.7,102.8 334.9,108.4 335.0,101.1 335.1,108.0 335.2,103.3 335.4,108.0 335.5,103.4 335.6,111.6 335.7,103.7 335.9,104.4 336.0,102.5 336.1,102.2 336.2,104.1 336.4,104.7 336.5,97.4 336.6,100.5 336.7,103.4 336.9,99.4 337.0,101.8 337.1,104.8 337.2,104.6 337.4,105.5 337.5,102.4 337.6,105.3 337.7,93.0 337.9,96.6 338.0,95.0 338.1,96.3 338.2,101.5 338.4,98.1 338.5,90.7 338.6,105.9 338.7,102.1 338.9,98.9 339.0,96.9 339.1,95.2 339.2,94.8 339.4,94.8 339.5,102.5 339.6,93.9 339.7,102.8 339.9,105.7 340.0,100.7 340.1,106.1 340.2,104.3 340.4,101.8 340.5,101.8 340.6,108.8 340.7,109.2 340.9,97.0 341.0,102.5 341.1,95.6 341.2,100.3 341.4,106.7 341.5,102.5 341.6,98.8 341.7,104.7 341.9,104.4 342.0,104.0 342.1,105.3 342.2,102.4 342.4,102.2 342.5,103.1 342.6,103.6 342.7,110.6 342.9,96.4 343.0,96.8 343.1,96.8 343.2,93.2 343.4,96.5 343.5,95.7 343.6,103.5 343.7,104.5 343.9,95.4 344.0,100.7 344.1,96.2 344.2,99.1 344.4,103.2 344.5,101.8 344.6,102.4 344.7,109.3 344.9,106.0 345.0,101.6 345.1,101.8 345.2,99.5 345.4,105.2 345.5,111.3 345.6,110.5 345.7,105.2 345.9,102.0 346.0,104.2 346.1,100.3 346.2,95.9 346.4,95.5 346.5,105.6 346.6,101.5 346.7,97.8 346.9,106.5 347.0,105.8 347.1,107.8 347.2,102.1 347.4,98.7 347.5,104.0 347.6,96.5 347.7,99.3 347.9,105.3 348.0,96.4 348.1,101.5 348.2,100.1 348.4,97.1 348.5,109.6 348.6,98.6 348.7,101.3 348.9,104.5 349.0,109.9 349.1,108.0 349.2,104.1 349.4,104.5 349.5,111.3 349.6,108.7 349.7,108.7 349.9,109.8 350.0,111.1 350.1,109.0 350.2,114.9 350.4,117.8 350.5,105.9 350.6,107.5 350.7,111.5 350.9,109.4 351.0,105.3 351.1,103.1 351.2,103.4 351.4,108.0 351.5,108.2 351.6,100.5 351.7,104.8 351.9,98.7 352.0,107.6 352.1,101.0 352.2,100.0 352.4,98.1 352.5,104.3 352.6,105.9 352.7,96.8 352.9,106.9 353.0,99.5 353.1,101.3 353.2,100.1 353.4,107.3 353.5,111.3 353.6,101.2 353.7,108.3 353.9,103.6 354.0,111.8 354.1,106.4 354.2,103.6 354.4,112.3 354.5,107.1 354.6,108.3 354.7,110.7 354.9,105.7 355.0,108.9 355.1,109.5 355.2,109.5 355.4,101.2 355.5,108.3 355.6,112.0 355.7,112.1 355.9,107.3 356.0,109.7 356.1,107.1 356.2,107.2 356.4,104.8 356.5,110.2 356.6,112.7 356.7,110.5 356.9,112.7 357.0,110.3 357.1,110.8 357.2,109.7 357.4,109.9 357.5,104.5 357.6,107.6 357.7,104.1 357.9,103.3 358.0,115.0 358.1,103.9 358.2,102.6 358.4,91.5 358.5,105.5 358.6,105.6 358.7,96.9 358.9,103.9 359.0,106.4 359.1,99.6 359.2,107.3 359.4,102.9 359.5,104.9 359.6,99.6 359.7,103.1 359.9,104.7 360.0,105.6 360.1,100.1 360.2,100.4 360.4,107.1 360.5,100.3 360.6,100.6 360.7,102.7 360.9,99.0 361.0,107.6 361.1,97.6 361.2,101.0 361.4,106.2 361.5,104.5 361.6,100.9 361.7,108.2 361.9,107.7 362.0,106.9 362.1,103.4 362.2,108.5 362.4,99.7 362.5,111.0 362.6,110.3 362.7,100.7 362.9,101.9 363.0,104.0 363.1,107.3 363.2,113.7 363.4,106.2 363.5,111.9 363.6,108.7 363.7,106.1 363.9,102.2 364.0,109.5 364.1,107.3 364.2,99.2 364.4,101.4 364.5,108.4 364.6,99.9 364.7,106.2 364.9,103.4 365.0,103.1 365.1,99.8 365.2,100.9 365.4,105.3 365.5,102.8 365.6,88.6 365.7,96.1 365.9,103.7 366.0,93.9 366.1,97.2 366.2,95.7 366.4,103.7 366.5,94.7 366.6,101.0 366.7,100.9 366.9,105.6 367.0,101.1 367.1,99.6 367.2,100.5 367.4,99.2 367.5,99.2 367.6,103.4 367.7,92.5 367.9,96.0 368.0,102.4 368.1,107.2 368.2,101.9 368.4,100.4 368.5,101.1 368.6,97.3 368.7,104.4 368.9,108.0 369.0,107.2 369.1,106.9 369.2,110.3 369.4,105.6 369.5,109.2 369.6,108.0 369.7,104.4 369.9,107.6 370.0,108.9 370.1,115.3 370.2,110.9 370.4,110.6 370.5,115.5 370.6,104.1 370.7,103.8 370.9,109.7 371.0,111.6 371.1,110.6 371.2,111.2 371.4,110.3 371.5,99.3 371.6,107.7 371.8,103.7 371.9,110.6 372.0,109.9 372.1,102.2 372.3,104.3 372.4,101.4 372.5,111.8 372.6,106.3 372.8,110.2 372.9,108.1 373.0,103.2 373.1,104.1 373.3,98.0 373.4,102.3 373.5,101.1 373.6,98.4 373.8,95.0 373.9,103.0 374.0,97.2 374.1,87.5 374.3,98.8 374.4,104.2 374.5,103.8 374.6,100.9 374.8,97.0 374.9,99.2 375.0,100.8 375.1,95.7 375.3,95.8 375.4,96.7 375.5,99.0 375.6,99.3 375.8,97.3 375.9,102.2 376.0,101.8 376.1,104.9 376.3,96.6 376.4,107.7 376.5,93.8 376.6,103.2 376.8,105.2 376.9,107.1 377.0,106.0 377.1,111.6 377.3,102.8 377.4,97.9 377.5,94.3 377.6,102.5 377.8,103.2 377.9,98.7 378.0,107.7 378.1,108.5 378.3,105.2 378.4,105.3 378.5,99.9 378.6,107.1 378.8,110.0 378.9,104.3 379.0,104.9 379.1,102.2 379.3,109.0 379.4,103.5 379.5,108.6 379.6,103.4 379.8,106.3 379.9,109.6 380.0,107.1 380.1,108.3 380.3,106.3 380.4,102.4 380.5,110.9 380.6,99.7 380.8,105.1 380.9,108.7 381.0,104.4 381.1,106.4 381.3,100.2 381.4,106.2 381.5,108.7 381.6,104.1 381.8,97.8 381.9,99.7 382.0,108.7 382.1,105.0 382.3,100.7 382.4,100.2 382.5,102.9 382.6,102.4 382.8,105.6 382.9,104.2 383.0,105.2 383.1,109.9 383.3,102.4 383.4,98.9 383.5,102.7 383.6,109.6 383.8,105.7 383.9,104.5 384.0,105.0 384.1,98.6 384.3,106.3 384.4,102.1 384.5,112.8 384.6,102.7 384.8,102.4 384.9,103.8 385.0,108.4 385.1,101.0 385.3,105.4 385.4,100.6 385.5,113.5 385.6,106.9 385.8,102.4 385.9,101.0 386.0,103.0 386.1,95.2 386.3,101.1 386.4,105.7 386.5,93.2 386.6,93.3 386.8,92.7 386.9,98.3 387.0,94.7 387.1,97.2 387.3,101.5 387.4,97.7 387.5,94.6 387.6,100.5 387.8,90.8 387.9,94.1 388.0,99.7 388.1,96.5 388.3,104.8 388.4,91.0 388.5,90.7 388.6,97.6 388.8,98.1 388.9,101.8 389.0,99.9 389.1,101.2 389.3,100.9 389.4,94.0 389.5,97.2 389.6,96.4 389.8,106.6 389.9,98.9 390.0,102.7 390.1,98.0 390.3,99.9 390.4,101.3 390.5,96.5 390.6,97.3 390.8,101.8 390.9,102.4 391.0,105.4 391.1,99.5 391.3,105.3 391.4,106.5 391.5,101.5 391.6,100.4 391.8,101.1 391.9,105.8 392.0,96.7 392.1,110.7 392.3,97.2 392.4,102.4 392.5,104.2 392.6,106.0 392.8,103.3 392.9,100.6 393.0,104.5 393.1,112.5 393.3,105.2 393.4,109.6 393.5,101.7 393.6,107.5 393.8,111.9 393.9,106.3 394.0,101.4 394.1,109.9 394.3,110.5 394.4,109.8 394.5,104.3 394.6,105.1 394.8,104.2 394.9,103.8 395.0,96.6 395.1,108.4 395.3,105.7 395.4,99.8 395.5,108.7 395.6,99.7 395.8,107.9 395.9,108.8 396.0,111.4 396.1,99.6 396.3,104.5 396.4,106.5 396.5,100.8 396.6,106.8 396.8,101.0 396.9,107.0 397.0,102.4 397.1,105.1 397.3,102.6 397.4,97.3 397.5,100.2 397.6,100.5 397.8,99.5 397.9,101.4 398.0,99.0 398.1,100.7 398.3,93.8 398.4,101.7 398.5,98.3 398.6,94.8 398.8,96.9 398.9,93.1 399.0,94.5 399.1,101.0 399.3,102.1 399.4,97.7 399.5,91.5 399.6,95.9 399.8,103.2 399.9,102.6 400.0,103.3 400.1,97.7 400.3,101.4 400.4,104.4 400.5,105.6 400.6,102.5 400.8,103.9 400.9,106.6 401.0,102.8 401.1,102.3 401.3,109.1 401.4,107.3 401.5,102.4 401.6,112.4 401.8,114.1 401.9,110.5 402.0,107.7 402.1,109.4 402.3,110.7 402.4,107.2 402.5,110.7 402.6,106.0 402.8,109.0 402.9,104.1 403.0,107.2 403.1,107.9 403.3,101.2 403.4,109.6 403.5,110.6 403.6,112.1 403.8,111.5 403.9,109.5 404.0,104.6 404.1,114.0 404.3,108.1 404.4,102.0 404.5,105.3 404.6,107.9 404.8,109.8 404.9,108.6 405.0,113.2 405.1,101.5 405.3,106.1 405.4,101.1 405.5,101.5 405.6,109.3 405.8,105.0 405.9,111.4 406.0,108.6 406.1,106.7 406.3,105.4 406.4,99.0 406.5,99.2 406.6,99.9 406.8,97.9 406.9,99.5 407.0,106.6 407.1,100.8 407.3,97.9 407.4,97.0 407.5,99.4 407.6,104.1 407.8,99.5 407.9,97.7 408.0,104.9 408.1,98.2 408.3,96.1 408.4,97.7 408.5,98.3 408.6,97.1 408.8,101.5 408.9,107.6 409.0,100.8 409.1,95.1 409.3,103.6 409.4,104.8 409.5,99.6 409.6,99.4 409.8,106.0 409.9,111.5 410.0,101.6 410.1,111.4 410.3,109.8 410.4,105.2 410.5,102.0 410.6,96.1 410.8,104.2 410.9,99.2 411.0,107.6 411.1,101.3 411.3,106.8 411.4,100.1 411.5,105.1 411.6,101.0 411.8,106.1 411.9,98.0 412.0,100.8 412.1,100.4 412.3,103.5 412.4,113.2 412.5,105.9 412.6,104.0 412.8,102.5 412.9,115.5 413.0,115.2 413.1,107.4 413.3,103.3 413.4,100.6 413.5,112.5 413.6,114.4 413.8,105.7 413.9,109.3 414.0,110.9 414.1,111.9 414.3,105.0 414.4,106.8 414.5,105.9 414.6,102.7 414.8,109.3 414.9,105.0 415.0,112.6 415.1,108.0 415.3,104.3 415.4,104.9 415.5,103.3 415.6,114.9 415.8,103.4 415.9,100.5 416.0,102.3 416.1,101.3 416.3,99.9 416.4,105.5 416.5,104.0 416.6,103.6 416.8,106.4 416.9,106.7 417.0,101.0 417.1,107.1 417.3,104.2 417.4,102.2 417.5,104.4 417.6,102.9 417.8,98.1 417.9,102.1 418.0,96.2 418.1,104.9 418.3,98.4 418.4,103.2 418.5,103.3 418.6,98.9 418.8,106.7 418.9,100.5 419.0,103.5 419.1,99.5 419.3,106.1 419.4,108.7 419.5,104.4 419.7,104.6 419.8,99.5 419.9,103.3 420.0,100.6 420.2,107.5 420.3,99.2 420.4,103.8 420.5,102.3 420.7,107.1 420.8,104.0 420.9,93.9 421.0,106.8 421.2,98.0 421.3,105.1 421.4,95.6 421.5,102.7 421.7,105.2 421.8,93.5 421.9,97.7 422.0,113.0 422.2,103.3 422.3,111.9 422.4,105.7 422.5,102.8 422.7,103.7 422.8,104.4 422.9,105.5 423.0,108.6 423.2,106.7 423.3,112.0 423.4,107.2 423.5,104.2 423.7,109.5 423.8,106.5 423.9,112.1 424.0,109.0 424.2,106.0 424.3,110.0 424.4,105.7 424.5,108.4 424.7,104.0 424.8,117.1 424.9,107.3 425.0,104.1 425.2,99.3 425.3,113.5 425.4,113.9 425.5,108.6 425.7,104.0 425.8,107.3 425.9,103.7 426.0,102.0 426.2,106.8 426.3,106.9 426.4,100.3 426.5,106.8 426.7,100.4 426.8,89.8 426.9,96.1 427.0,103.7 427.2,101.5 427.3,104.2 427.4,102.6 427.5,105.8 427.7,96.4 427.8,103.7 427.9,108.2 428.0,98.7 428.2,95.4 428.3,100.1 428.4,102.5 428.5,103.5 428.7,103.2 428.8,113.3 428.9,98.2 429.0,98.9 429.2,104.8 429.3,100.2 429.4,100.8 429.5,103.3 429.7,109.5 429.8,101.1 429.9,98.5 430.0,105.8 430.2,106.5 430.3,111.2 430.4,105.5 430.5,105.5 430.7,105.1 430.8,106.5 430.9,103.6 431.0,107.3 431.2,102.8 431.3,110.3 431.4,107.8 431.5,109.4 431.7,105.7 431.8,108.1 431.9,105.8 432.0,114.9 432.2,109.8 432.3,106.4 432.4,109.1 432.5,109.3 432.7,106.9 432.8,101.2 432.9,112.9 433.0,105.2 433.2,103.6 433.3,103.1 433.4,107.6 433.5,103.0 433.7,106.2 433.8,105.0 433.9,105.8 434.0,107.7 434.2,101.4 434.3,97.1 434.4,101.8 434.5,104.4 434.7,105.5 434.8,105.4 434.9,99.8 435.0,102.0 435.2,102.4 435.3,97.3 435.4,96.7 435.5,108.4 435.7,98.2 435.8,102.4 435.9,99.9 436.0,102.0 436.2,101.6 436.3,99.2 436.4,96.7 436.5,101.1 436.7,112.6 436.8,104.9 436.9,100.3 437.0,106.0 437.2,108.4 437.3,100.4 437.4,104.1 437.5,107.0 437.7,104.4 437.8,104.2 437.9,108.9 438.0,106.2 438.2,105.8 438.3,105.9 438.4,108.8 438.5,110.9 438.7,105.6 438.8,112.2 438.9,96.8 439.0,107.2 439.2,109.2 439.3,113.5 439.4,111.5 439.5,98.5 439.7,104.5 439.8,105.0 439.9,99.1 440.0,98.9 440.2,100.7 440.3,101.4 440.4,105.5 440.5,104.6 440.7,97.9 440.8,101.2 440.9,98.0 441.0,110.3 441.2,103.6 441.3,104.6 441.4,106.4 441.5,104.6 441.7,112.0 441.8,108.9 441.9,110.6 442.0,106.7 442.2,110.0 442.3,105.1 442.4,110.5 442.5,108.4 442.7,111.3 442.8,105.1 442.9,107.7 443.0,97.5 443.2,101.1 443.3,106.7 443.4,102.6 443.5,105.7 443.7,113.4 443.8,102.8 443.9,109.5 444.0,102.7 444.2,105.6 444.3,107.5 444.4,104.7 444.5,103.9 444.7,109.8 444.8,111.5 444.9,101.5 445.0,104.6 445.2,108.4 445.3,112.7 445.4,115.2 445.5,106.2 445.7,111.3 445.8,111.9 445.9,104.4 446.0,106.6 446.2,104.5 446.3,109.0 446.4,105.3 446.5,108.1 446.7,102.7 446.8,101.2 446.9,106.1 447.0,104.7 447.2,111.3 447.3,107.2 447.4,110.2 447.5,108.0 447.7,108.2 447.8,96.2 447.9,101.5 448.0,101.4 448.2,104.1 448.3,105.4 448.4,107.6 448.5,105.1 448.7,95.4 448.8,110.7 448.9,104.0 449.0,105.1 449.2,102.3 449.3,107.1 449.4,105.8 449.5,98.0 449.7,101.2 449.8,104.6 449.9,104.4 450.0,106.3 450.2,100.0 450.3,102.0 450.4,100.3 450.5,101.2 450.7,98.8 450.8,104.6 450.9,96.9 451.0,101.7 451.2,97.3 451.3,103.8 451.4,102.5 451.5,112.3 451.7,100.5 451.8,111.2 451.9,102.0 452.0,106.7 452.2,106.5 452.3,99.7 452.4,105.0 452.5,108.6 452.7,100.1 452.8,109.8 452.9,98.8 453.0,106.2 453.2,100.9 453.3,100.7 453.4,106.4 453.5,106.5 453.7,105.0 453.8,100.8 453.9,103.5 454.0,100.5 454.2,104.4 454.3,93.1 454.4,100.7 454.5,104.2 454.7,97.7 454.8,97.1 454.9,94.9 455.0,99.1 455.2,97.5 455.3,102.0 455.4,94.6 455.5,100.4 455.7,96.9 455.8,93.9 455.9,95.6 456.0,92.9 456.2,91.1 456.3,97.6 456.4,109.0 456.5,97.8 456.7,102.2 456.8,99.5 456.9,96.6 457.0,102.7 457.2,95.2 457.3,105.6 457.4,97.6 457.5,108.0 457.7,104.7 457.8,102.2 457.9,100.7 458.0,100.0 458.2,100.3 458.3,102.2 458.4,103.3 458.5,101.8 458.7,99.6 458.8,102.2 458.9,98.6 459.0,105.6 459.2,98.9 459.3,104.9 459.4,99.6 459.5,104.2 459.7,102.9 459.8,104.1 459.9,107.2 460.0,102.2 460.2,100.6 460.3,103.5 460.4,108.4 460.5,112.3 460.7,102.2 460.8,96.4 460.9,100.6 461.0,107.9 461.2,106.5 461.3,109.8 461.4,107.3 461.5,111.0 461.7,107.9 461.8,105.9 461.9,111.2 462.0,105.0 462.2,104.2 462.3,107.7 462.4,98.3 462.5,101.1 462.7,101.2 462.8,104.9 462.9,104.6 463.0,97.8 463.2,108.9 463.3,106.5 463.4,94.6 463.5,106.4 463.7,100.5 463.8,99.4 463.9,100.2 464.0,111.6 464.2,100.8 464.3,106.1 464.4,103.9 464.5,111.8 464.7,100.7 464.8,99.0 464.9,104.6 465.0,106.6 465.2,100.7 465.3,103.8 465.4,96.0 465.5,94.5 465.7,103.8 465.8,99.7 465.9,102.3 466.0,98.3 466.2,97.3 466.3,99.7 466.4,100.1 466.5,101.3 466.7,101.4 466.8,100.7 466.9,105.8 467.0,100.7 467.2,94.6 467.3,105.0" fill="none" stroke="#000" stroke-width="1.4" stroke-linejoin="bevel"/>
<polyline points="1000.0,86.0 1000.1,85.7 1000.3,86.9 1000.4,88.2 1000.5,83.1 1000.6,95.3 1000.8,84.4 1000.9,85.3 1001.0,89.9 1001.1,95.1 1001.3,96.7 1001.4,100.9 1001.5,95.0 1001.6,92.6 1001.8,91.7 1001.9,94.9 1002.0,98.5 1002.1,97.5 1002.3,89.3 1002.4,98.0 1002.5,100.0 1002.6,95.3 1002.8,95.5 1002.9,94.5 1003.0,102.8 1003.1,105.3 1003.3,102.7 1003.4,96.3 1003.5,96.7 1003.6,105.5 1003.8,106.6 1003.9,103.0 1004.0,98.0 1004.1,92.0 1004.3,100.6 1004.4,103.8 1004.5,97.9 1004.6,94.7 1004.8,98.9 1004.9,99.0 1005.0,96.7 1005.1,97.2 1005.3,90.6 1005.4,98.0 1005.5,91.6 1005.6,96.0 1005.8,95.9 1005.9,98.6 1006.0,103.1 1006.1,95.9 1006.3,100.2 1006.4,94.4 1006.5,99.3 1006.6,98.6 1006.8,97.8 1006.9,96.8 1007.0,95.9 1007.1,92.2 1007.3,93.4 1007.4,91.8 1007.5,100.3 1007.6,94.6 1007.8,101.6 1007.9,100.3 1008.0,96.7 1008.1,102.0 1008.3,95.9 1008.4,89.8 1008.5,94.7 1008.6,97.0 1008.8,96.5 1008.9,92.1 1009.0,99.8 1009.1,94.6 1009.3,101.3 1009.4,97.9 1009.5,102.7 1009.6,100.6 1009.8,95.3 1009.9,101.7 1010.0,95.3 1010.1,97.2 1010.3,100.4 1010.4,96.3 1010.5,99.2 1010.6,98.6 1010.8,97.0 1010.9,92.5 1011.0,88.0 1011.1,91.0 1011.3,91.0 1011.4,99.3 1011.5,94.5 1011.6,95.4 1011.8,93.5 1011.9,88.8 1012.0,92.7 1012.1,97.2 1012.3,100.4 1012.4,103.0 1012.5,100.6 1012.6,102.2 1012.8,95.7 1012.9,101.3 1013.0,100.8 1013.1,93.3 1013.3,98.4 1013.4,98.1 1013.5,104.0 1013.6,98.7 1013.8,92.8 1013.9,98.3 1014.0,106.9 1014.1,92.7 1014.3,97.4 1014.4,99.1 1014.5,97.5 1014.6,99.1 1014.8,93.2 1014.9,95.3 1015.0,95.6 1015.1,97.9 1015.3,93.6 1015.4,91.1 1015.5,100.4 1015.6,102.2 1015.8,99.8 1015.9,97.9 1016.0,100.7 1016.1,96.4 1016.3,99.0 1016.4,93.0 1016.5,91.8 1016.6,95.5 1016.8,97.6 1016.9,98.8 1017.0,99.5 1017.1,92.5 1017.3,99.3 1017.4,101.4 1017.5,95.6 1017.6,94.1 1017.8,93.4 1017.9,97.8 1018.0,91.5 1018.1,100.1 1018.3,96.8 1018.4,93.5 1018.5,97.0 1018.6,98.3 1018.8,93.3 1018.9,89.8 1019.0,92.3 1019.1,90.4 1019.3,95.4 1019.4,95.0 1019.5,98.4 1019.6,92.5 1019.8,94.0 1019.9,90.8 1020.0,85.6 1020.1,85.8 1020.3,79.0 1020.4,91.7 1020.5,82.0 1020.6,98.5 1020.8,84.8 1020.9,90.6 1021.0,90.7 1021.1,96.5 1021.3,89.2 1021.4,93.1 1021.5,91.1 1021.6,94.0 1021.8,92.4 1021.9,87.5 1022.0,91.4 1022.1,91.6 1022.3,96.7 1022.4,88.4 1022.5,102.1 1022.6,90.8 1022.8,95.6 1022.9,95.8 1023.0,95.4 1023.1,89.5 1023.3,96.2 1023.4,87.9 1023.5,92.6 1023.6,92.1 1023.8,89.1 1023.9,97.2 1024.0,85.1 1024.1,97.0 1024.3,91.1 1024.4,87.6 1024.5,94.6 1024.6,94.6 1024.8,89.5 1024.9,93.6 1025.0,101.0 1025.1,94.4 1025.3,94.2 1025.4,105.3 1025.5,96.2 1025.6,96.7 1025.8,97.0 1025.9,94.5 1026.0,92.2 1026.1,99.2 1026.3,99.5 1026.4,96.1 1026.5,92.6 1026.6,95.7 1026.8,98.7 1026.9,101.0 1027.0,92.9 1027.1,95.6 1027.3,98.1 1027.4,98.7 1027.5,97.3 1027.6,95.9 1027.8,100.7 1027.9,99.2 1028.0,92.1 1028.1,109.1 1028.3,101.3 1028.4,93.3 1028.5,89.4 1028.6,90.6 1028.8,93.3 1028.9,92.9 1029.0,95.4 1029.1,101.1 1029.3,97.6 1029.4,96.1 1029.5,97.3 1029.6,95.1 1029.8,98.0 1029.9,100.1 1030.0,104.4 1030.1,96.9 1030.3,92.9 1030.4,99.8 1030.5,92.8 1030.6,92.6 1030.8,96.8 1030.9,101.0 1031.0,91.8 1031.1,101.4 1031.3,94.4 1031.4,98.6 1031.5,93.6 1031.6,92.4 1031.8,96.0 1031.9,90.4 1032.0,91.5 1032.1,97.0 1032.3,93.0 1032.4,93.3 1032.5,84.7 1032.6,89.8 1032.8,89.1 1032.9,89.3 1033.0,99.9 1033.1,87.2 1033.3,86.7 1033.4,89.2 1033.5,88.9 1033.6,81.8 1033.8,88.3 1033.9,98.1 1034.0,93.8 1034.1,94.3 1034.3,92.8 1034.4,92.9 1034.5,90.0 1034.6,95.1 1034.8,100.6 1034.9,93.9 1035.0,98.6 1035.1,101.9 1035.3,92.6 1035.4,97.9 1035.5,95.9 1035.6,96.0 1035.8,94.4 1035.9,97.7 1036.0,93.8 1036.1,92.1 1036.3,102.1 1036.4,96.4 1036.5,91.2 1036.6,96.4 1036.8,100.6 1036.9,99.5 1037.0,97.2 1037.1,92.6 1037.3,101.1 1037.4,96.8 1037.5,94.9 1037.6,95.9 1037.8,93.4 1037.9,97.4 1038.0,90.7 1038.1,94.3 1038.3,93.4 1038.4,89.6 1038.5,96.1 1038.6,92.0 1038.8,93.3 1038.9,100.8 1039.0,95.8 1039.1,98.0 1039.3,92.6 1039.4,98.5 1039.5,91.0 1039.6,92.7 1039.8,94.1 1039.9,99.4 1040.0,92.9 1040.1,95.2 1040.3,96.8 1040.4,87.5 1040.5,101.7 1040.6,97.7 1040.8,90.3 1040.9,91.0 1041.0,97.7 1041.1,96.8 1041.3,94.0 1041.4,88.6 1041.5,96.8 1041.6,97.8 1041.8,86.6 1041.9,92.3 1042.0,98.2 1042.1,88.2 1042.3,92.2 1042.4,96.6 1042.5,88.6 1042.6,93.9 1042.8,85.6 1042.9,97.2 1043.0,99.8 1043.1,94.7 1043.3,94.4 1043.4,94.7 1043.5,95.8 1043.6,92.2 1043.8,95.2 1043.9,96.6 1044.0,94.5 1044.1,95.7 1044.3,93.2 1044.4,95.8 1044.5,89.6 1044.6,91.4 1044.8,92.6 1044.9,100.3 1045.0,99.2 1045.1,90.1 1045.3,92.8 1045.4,91.8 1045.5,89.7 1045.6,90.9 1045.8,96.8 1045.9,87.6 1046.0,98.3 1046.1,91.7 1046.3,94.8 1046.4,94.3 1046.5,92.4 1046.6,96.2 1046.8,92.4 1046.9,94.5 1047.0,101.4 1047.1,91.7 1047.3,98.5 1047.4,88.5 1047.5,101.7 1047.6,83.7 1047.8,91.8 1047.9,84.7 1048.0,91.4 1048.1,90.9 1048.3,85.7 1048.4,91.8 1048.5,95.4 1048.6,92.7 1048.8,89.6 1048.9,95.7 1049.0,97.5 1049.1,88.2 1049.3,93.3 1049.4,87.2 1049.5,89.2 1049.6,94.3 1049.8,94.7 1049.9,96.0 1050.0,91.0 1050.1,96.6 1050.3,100.5 1050.4,95.4 1050.5,97.1 1050.6,93.9 1050.8,97.4 1050.9,100.7 1051.0,95.4 1051.1,91.6 1051.3,94.1 1051.4,96.7 1051.5,93.3 1051.6,102.7 1051.8,88.2 1051.9,95.7 1052.0,96.1 1052.1,98.6 1052.3,98.7 1052.4,93.9 1052.5,95.6 1052.6,84.8 1052.8,90.6 1052.9,93.9 1053.0,92.7 1053.1,94.4 1053.3,90.6 1053.4,92.1 1053.5,95.3 1053.6,96.1 1053.8,92.2 1053.9,95.5 1054.0,89.3 1054.1,96.6 1054.3,89.3 1054.4,95.4 1054.5,94.1 1054.6,98.6 1054.8,97.1 1054.9,98.2 1055.0,95.8 1055.1,101.6 1055.3,103.4 1055.4,94.1 1055.5,97.6 1055.6,99.1 1055.8,98.8 1055.9,94.6 1056.0,96.7 1056.1,95.6 1056.3,94.7 1056.4,96.9 1056.5,99.6 1056.6,95.8 1056.8,92.8 1056.9,95.9 1057.0,95.6 1057.1,97.6 1057.3,101.8 1057.4,101.0 1057.5,85.2 1057.6,109.3 1057.8,102.2 1057.9,91.0 1058.0,96.4 1058.1,91.0 1058.3,103.0 1058.4,89.9 1058.5,97.5 1058.6,93.1 1058.8,95.5 1058.9,92.8 1059.0,86.5 1059.1,84.5 1059.3,91.0 1059.4,90.3 1059.5,88.4 1059.6,95.3 1059.8,100.4 1059.9,87.8 1060.0,97.8 1060.1,90.6 1060.3,88.6 1060.4,87.4 1060.5,87.4 1060.6,86.0 1060.8,86.2 1060.9,86.1 1061.0,84.8 1061.1,84.3 1061.3,90.8 1061.4,82.4 1061.5,89.9 1061.6,93.8 1061.8,87.4 1061.9,89.5 1062.0,94.6 1062.1,92.2 1062.3,85.6 1062.4,89.3 1062.5,88.7 1062.6,94.1 1062.8,97.3 1062.9,87.1 1063.0,92.2 1063.1,92.7 1063.3,91.9 1063.4,81.3 1063.5,84.5 1063.6,85.0 1063.8,85.0 1063.9,82.9 1064.0,90.9 1064.1,89.2 1064.3,87.1 1064.4,77.9 1064.5,91.3 1064.6,81.0 1064.8,90.7 1064.9,87.0 1065.0,91.7 1065.1,87.5 1065.3,90.7 1065.4,87.5 1065.5,93.9 1065.6,94.3 1065.8,92.6 1065.9,99.5 1066.0,91.4 1066.1,82.0 1066.3,105.1 1066.4,105.9 1066.5,99.7 1066.6,94.6 1066.8,97.5 1066.9,89.5 1067.0,94.2 1067.1,97.3 1067.3,99.8 1067.4,98.0 1067.5,103.2 1067.6,102.2 1067.8,100.6 1067.9,96.1 1068.0,99.1 1068.1,102.4 1068.3,97.6 1068.4,102.0 1068.5,95.3 1068.6,98.3 1068.8,90.4 1068.9,89.4 1069.0,91.7 1069.1,99.3 1069.3,87.4 1069.4,90.4 1069.5,92.1 1069.6,93.4 1069.8,91.6 1069.9,89.2 1070.0,88.5 1070.1,92.0 1070.3,95.4 1070.4,94.1 1070.5,85.6 1070.6,83.5 1070.8,88.1 1070.9,93.4 1071.0,94.9 1071.1,89.0 1071.3,85.6 1071.4,86.4 1071.5,92.3 1071.6,89.3 1071.8,100.1 1071.9,88.5 1072.0,81.7 1072.1,101.1 1072.3,96.6 1072.4,86.6 1072.5,87.2 1072.6,86.4 1072.8,95.6 1072.9,91.6 1073.0,94.7 1073.1,87.4 1073.3,91.4 1073.4,98.9 1073.5,88.6 1073.6,90.0 1073.8,99.3 1073.9,93.4 1074.0,93.7 1074.1,89.9 1074.3,92.6 1074.4,87.8 1074.5,101.5 1074.6,94.6 1074.8,95.4 1074.9,91.2 1075.0,89.8 1075.1,92.4 1075.3,88.8 1075.4,91.7 1075.5,89.6 1075.6,95.1 1075.8,90.2 1075.9,96.1 1076.0,97.9 1076.1,91.1 1076.3,91.6 1076.4,93.5 1076.5,88.5 1076.6,95.2 1076.8,97.2 1076.9,86.0 1077.0,96.2 1077.1,93.1 1077.3,91.5 1077.4,92.6 1077.5,91.8 1077.6,98.3 1077.8,92.6 1077.9,101.1 1078.0,95.8 1078.1,99.7 1078.3,92.1 1078.4,94.6 1078.5,101.1 1078.6,94.7 1078.8,93.0 1078.9,102.9 1079.0,90.2 1079.1,99.5 1079.3,94.7 1079.4,102.6 1079.5,97.5 1079.6,94.7 1079.8,103.6 1079.9,93.8 1080.0,107.5 1080.1,98.7 1080.3,96.6 1080.4,96.3 1080.5,97.9 1080.6,95.7 1080.8,98.9 1080.9,97.1 1081.0,95.0 1081.1,100.9 1081.3,97.4 1081.4,91.6 1081.5,98.5 1081.6,92.0 1081.8,96.8 1081.9,95.5 1082.0,98.4 1082.1,100.8 1082.3,102.8 1082.4,97.9 1082.5,99.8 1082.6,97.5 1082.8,100.4 1082.9,102.7 1083.0,104.4 1083.1,94.5 1083.3,101.1 1083.4,96.5 1083.5,97.0 1083.6,87.8 1083.8,100.4 1083.9,91.7 1084.0,93.0 1084.1,94.5 1084.3,102.9 1084.4,89.6 1084.5,90.2 1084.7,87.9 1084.8,92.4 1084.9,91.6 1085.0,96.4 1085.2,94.4 1085.3,91.2 1085.4,94.8 1085.5,93.7 1085.7,95.4 1085.8,94.7 1085.9,95.9 1086.0,95.2 1086.2,97.1 1086.3,87.7 1086.4,95.5 1086.5,95.4 1086.7,93.4 1086.8,97.0 1086.9,92.2 1087.0,86.3 1087.2,90.6 1087.3,96.2 1087.4,97.8 1087.5,95.3 1087.7,91.2 1087.8,96.1 1087.9,97.2 1088.0,96.1 1088.2,95.2 1088.3,96.4 1088.4,93.4 1088.5,97.7 1088.7,95.7 1088.8,99.2 1088.9,96.4 1089.0,88.4 1089.2,97.2 1089.3,101.6 1089.4,99.4 1089.5,105.0 1089.7,97.0 1089.8,105.9 1089.9,102.7 1090.0,107.7 1090.2,106.5 1090.3,96.5 1090.4,99.5 1090.5,105.5 1090.7,107.1 1090.8,106.9 1090.9,99.4 1091.0,104.7 1091.2,100.9 1091.3,108.7 1091.4,106.5 1091.5,99.6 1091.7,109.2 1091.8,100.4 1091.9,100.5 1092.0,101.3 1092.2,91.9 1092.3,103.7 1092.4,101.1 1092.5,97.5 1092.7,103.7 1092.8,92.8 1092.9,102.5 1093.0,95.0 1093.2,101.5 1093.3,90.9 1093.4,91.0 1093.5,99.4 1093.7,90.3 1093.8,95.2 1093.9,93.2 1094.0,96.6 1094.2,100.4 1094.3,93.8 1094.4,101.2 1094.5,98.5 1094.7,97.4 1094.8,100.4 1094.9,94.7 1095.0,100.8 1095.2,95.1 1095.3,95.8 1095.4,102.2 1095.5,95.3 1095.7,88.1 1095.8,98.1 1095.9,92.8 1096.0,94.8 1096.2,101.1 1096.3,88.6 1096.4,99.0 1096.5,98.9 1096.7,102.5 1096.8,90.7 1096.9,87.8 1097.0,95.3 1097.2,97.3 1097.3,91.0 1097.4,96.3 1097.5,86.9 1097.7,95.4 1097.8,87.6 1097.9,89.4 1098.0,93.5 1098.2,94.4 1098.3,97.2 1098.4,97.3 1098.5,94.6 1098.7,103.8 1098.8,94.1 1098.9,88.5 1099.0,101.2 1099.2,99.5 1099.3,97.2 1099.4,97.4 1099.5,93.6 1099.7,100.5 1099.8,100.9 1099.9,102.9 1100.0,91.7 1100.2,96.0 1100.3,91.1 1100.4,98.0 1100.5,98.4 1100.7,99.9 1100.8,99.0 1100.9,99.5 1101.0,98.5 1101.2,95.2 1101.3,95.4 1101.4,101.4 1101.5,89.2 1101.7,94.4 1101.8,87.1 1101.9,99.6 1102.0,100.2 1102.2,102.2 1102.3,98.4 1102.4,97.9 1102.5,102.8 1102.7,101.8 1102.8,98.4 1102.9,96.7 1103.0,106.0 1103.2,98.5 1103.3,100.5 1103.4,89.9 1103.5,101.0 1103.7,106.0 1103.8,101.7 1103.9,90.0 1104.0,96.8 1104.2,102.7 1104.3,99.4 1104.4,98.6 1104.5,98.8 1104.7,95.1 1104.8,95.8 1104.9,103.7 1105.0,95.4 1105.2,98.2 1105.3,102.2 1105.4,99.8 1105.5,101.4 1105.7,95.2 1105.8,100.6 1105.9,100.6 1106.0,92.9 1106.2,98.4 1106.3,86.6 1106.4,94.6 1106.5,97.5 1106.7,98.6 1106.8,91.9 1106.9,97.7 1107.0,99.3 1107.2,101.0 1107.3,99.2 1107.4,100.8 1107.5,100.7 1107.7,100.1 1107.8,101.8 1107.9,99.8 1108.0,95.4 1108.2,100.0 1108.3,104.9 1108.4,98.0 1108.5,95.3 1108.7,94.0 1108.8,101.7 1108.9,96.5 1109.0,99.6 1109.2,90.0 1109.3,94.5 1109.4,105.1 1109.5,104.6 1109.7,105.3 1109.8,95.0 1109.9,96.4 1110.0,98.5 1110.2,102.3 1110.3,95.3 1110.4,97.0 1110.5,97.3 1110.7,94.4 1110.8,94.5 1110.9,96.1 1111.0,89.8 1111.2,98.1 1111.3,94.0 1111.4,90.3 1111.5,98.5 1111.7,91.5 1111.8,98.3 1111.9,98.0 1112.0,94.7 1112.2,91.7 1112.3,95.4 1112.4,91.4 1112.5,95.3 1112.7,92.1 1112.8,85.8 1112.9,91.0 1113.0,95.9 1113.2,92.4 1113.3,95.4 1113.4,90.0 1113.5,86.5 1113.7,98.4 1113.8,100.1 1113.9,97.5 1114.0,90.7 1114.2,91.3 1114.3,94.7 1114.4,89.8 1114.5,92.9 1114.7,97.0 1114.8,99.6 1114.9,106.4 1115.0,94.9 1115.2,91.1 1115.3,94.4 1115.4,100.0 1115.5,89.4 1115.7,96.6 1115.8,93.9 1115.9,103.3 1116.0,100.2 1116.2,97.3 1116.3,93.7 1116.4,96.4 1116.5,94.8 1116.7,101.7 1116.8,97.7 1116.9,99.5 1117.0,91.1 1117.2,98.0 1117.3,95.6 1117.4,101.0 1117.5,89.9 1117.7,94.1 1117.8,94.6 1117.9,90.6 1118.0,101.3 1118.2,90.6 1118.3,93.0 1118.4,92.3 1118.5,91.8 1118.7,97.8 1118.8,95.0 1118.9,101.3 1119.0,97.5 1119.2,100.0 1119.3,95.9 1119.4,98.3 1119.5,93.3 1119.7,94.1 1119.8,97.0 1119.9,97.6 1120.0,100.9 1120.2,98.6 1120.3,96.8 1120.4,100.7 1120.5,92.3 1120.7,90.1 1120.8,98.4 1120.9,102.3 1121.0,97.5 1121.2,101.8 1121.3,102.8 1121.4,101.1 1121.5,111.2 1121.7,100.3 1121.8,101.7 1121.9,98.8 1122.0,104.3 1122.2,99.5 1122.3,97.3 1122.4,98.9 1122.5,96.5 1122.7,100.2 1122.8,100.1 1122.9,99.6 1123.0,97.7 1123.2,94.0 1123.3,99.3 1123.4,96.7 1123.5,92.0 1123.7,95.3 1123.8,96.3 1123.9,97.2 1124.0,93.5 1124.2,95.0 1124.3,89.9 1124.4,86.0 1124.5,91.1 1124.7,91.9 1124.8,88.5 1124.9,89.5 1125.0,92.5 1125.2,94.6 1125.3,99.8 1125.4,86.6 1125.5,92.1 1125.7,89.3 1125.8,92.1 1125.9,87.6 1126.0,94.8 1126.2,93.2 1126.3,96.1 1126.4,95.5 1126.5,92.7 1126.7,94.3 1126.8,97.0 1126.9,91.7 1127.0,88.1 1127.2,88.9 1127.3,90.9 1127.4,91.0 1127.5,84.9 1127.7,100.6 1127.8,94.3 1127.9,94.5 1128.0,92.9 1128.2,92.3 1128.3,90.4 1128.4,86.3 1128.5,88.8 1128.7,86.3 1128.8,91.5 1128.9,93.6 1129.0,87.0 1129.2,89.0 1129.3,91.1 1129.4,88.6 1129.5,93.0 1129.7,86.7 1129.8,85.9 1129.9,90.1 1130.0,94.7 1130.2,92.7 1130.3,95.5 1130.4,92.1 1130.5,93.3 1130.7,96.9 1130.8,102.6 1130.9,95.6 1131.0,96.4 1131.2,96.8 1131.3,95.7 1131.4,93.3 1131.5,88.3 1131.7,94.6 1131.8,98.3 1131.9,89.3 1132.0,99.4 1132.2,94.5 1132.3,90.1 1132.4,86.5 1132.5,93.8 1132.7,89.7 1132.8,91.6 1132.9,96.1 1133.0,97.8 1133.2,94.2 1133.3,87.8 1133.4,91.0 1133.5,92.4 1133.7,100.4 1133.8,95.1 1133.9,92.0 1134.0,87.6 1134.2,89.8 1134.3,97.2 1134.4,90.7 1134.5,95.3 1134.7,93.1 1134.8,99.4 1134.9,92.0 1135.0,90.0 1135.2,92.4 1135.3,96.4 1135.4,92.4 1135.5,89.5 1135.7,90.8 1135.8,86.1 1135.9,91.5 1136.0,90.9 1136.2,88.3 1136.3,86.3 1136.4,95.8 1136.5,88.1 1136.7,88.9 1136.8,97.3 1136.9,88.8 1137.0,87.0 1137.2,89.6 1137.3,95.7 1137.4,88.1 1137.5,88.6 1137.7,86.9 1137.8,86.8 1137.9,85.9 1138.0,84.1 1138.2,85.8 1138.3,87.6 1138.4,86.2 1138.5,95.4 1138.7,94.1 1138.8,83.1 1138.9,91.4 1139.0,91.3 1139.2,87.6 1139.3,91.2 1139.4,98.3 1139.5,90.1 1139.7,95.6 1139.8,91.7 1139.9,91.9 1140.0,88.6 1140.2,94.8 1140.3,92.6 1140.4,89.0 1140.5,91.4 1140.7,92.2 1140.8,92.9 1140.9,93.3 1141.0,89.5 1141.2,92.2 1141.3,95.9 1141.4,89.9 1141.5,98.9 1141.7,87.0 1141.8,86.0 1141.9,94.9 1142.0,90.1 1142.2,89.2 1142.3,89.0 1142.4,97.2 1142.5,98.7 1142.7,94.4 1142.8,95.9 1142.9,90.2 1143.0,89.2 1143.2,91.6 1143.3,91.3 1143.4,94.9 1143.5,88.7 1143.7,86.9 1143.8,90.1 1143.9,91.0 1144.0,78.3 1144.2,90.1 1144.3,80.0 1144.4,89.4 1144.5,86.1 1144.7,88.1 1144.8,79.9 1144.9,88.2 1145.0,88.6 1145.2,80.3 1145.3,86.6 1145.4,94.7 1145.5,92.9 1145.7,87.7 1145.8,86.2 1145.9,89.3 1146.0,88.8 1146.2,87.4 1146.3,90.0 1146.4,93.0 1146.5,88.5 1146.7,87.5 1146.8,91.5 1146.9,93.7 1147.0,93.9 1147.2,95.0 1147.3,92.8 1147.4,101.3 1147.5,90.5 1147.7,94.0 1147.8,89.0 1147.9,94.0 1148.0,86.8 1148.2,86.8 1148.3,93.1 1148.4,94.3 1148.5,95.5 1148.7,85.8 1148.8,95.2 1148.9,90.8 1149.0,103.4 1149.2,89.4 1149.3,88.6 1149.4,92.1 1149.5,97.4 1149.7,91.4 1149.8,89.1 1149.9,89.2 1150.0,91.0 1150.2,85.1 1150.3,100.2 1150.4,94.0 1150.5,90.6 1150.7,90.6 1150.8,91.5 1150.9,89.8 1151.0,92.0 1151.2,88.5 1151.3,89.3 1151.4,85.4 1151.5,95.2 1151.7,89.2 1151.8,88.7 1151.9,92.1 1152.0,84.3 1152.2,91.2 1152.3,92.4 1152.4,90.2 1152.5,81.7 1152.7,94.6 1152.8,94.3 1152.9,87.8 1153.0,97.4 1153.2,87.9 1153.3,89.1 1153.4,97.7 1153.5,96.1 1153.7,91.9 1153.8,95.0 1153.9,90.2 1154.0,88.8 1154.2,90.5 1154.3,97.9 1154.4,97.0 1154.5,93.6 1154.7,103.0 1154.8,95.4 1154.9,90.4 1155.0,95.0 1155.2,94.3 1155.3,85.8 1155.4,87.0 1155.5,96.9 1155.7,86.7 1155.8,91.2 1155.9,95.9 1156.0,97.0 1156.2,90.4 1156.3,81.9 1156.4,91.6 1156.5,94.5 1156.7,90.4 1156.8,84.5 1156.9,89.6 1157.0,95.4 1157.2,94.9 1157.3,89.6 1157.4,93.3 1157.5,90.6 1157.7,93.9 1157.8,89.0 1157.9,92.7 1158.0,89.5 1158.2,97.6 1158.3,90.9 1158.4,93.4 1158.5,89.6 1158.7,84.9 1158.8,92.2 1158.9,88.1 1159.0,96.6 1159.2,97.6 1159.3,91.9 1159.4,89.5 1159.5,96.5 1159.7,91.9 1159.8,96.6 1159.9,97.1 1160.0,92.7 1160.2,100.6 1160.3,95.3 1160.4,97.1 1160.5,94.5 1160.7,90.4 1160.8,95.3 1160.9,93.5 1161.0,99.1 1161.2,92.3 1161.3,96.4 1161.4,98.4 1161.5,103.2 1161.7,94.8 1161.8,97.9 1161.9,94.7 1162.0,94.6 1162.2,96.5 1162.3,103.3 1162.4,103.1 1162.5,99.1 1162.7,95.8 1162.8,103.2 1162.9,96.2 1163.0,100.0 1163.2,99.9 1163.3,102.7 1163.4,99.2 1163.5,96.5 1163.7,95.2 1163.8,95.5 1163.9,95.2 1164.0,92.1 1164.2,92.1 1164.3,102.2 1164.4,99.8 1164.5,93.3 1164.7,95.6 1164.8,94.7 1164.9,98.0 1165.0,95.0 1165.2,96.7 1165.3,98.2 1165.4,102.3 1165.5,97.0 1165.7,98.0 1165.8,94.0 1165.9,95.1 1166.0,98.5 1166.2,95.5 1166.3,90.9 1166.4,95.0 1166.5,97.8 1166.7,96.5 1166.8,97.6 1166.9,94.9 1167.0,99.2 1167.2,100.7 1167.3,103.2 1167.4,99.2 1167.5,95.8 1167.7,99.7 1167.8,90.7 1167.9,86.8 1168.0,101.8 1168.2,95.6 1168.3,90.4 1168.4,100.9 1168.5,101.2 1168.7,97.5 1168.8,93.7 1168.9,104.1 1169.1,93.8 1169.2,94.7 1169.3,94.5 1169.4,96.2 1169.6,89.7 1169.7,94.1 1169.8,98.5 1169.9,104.2 1170.1,95.9 1170.2,96.2 1170.3,98.4 1170.4,101.0 1170.6,102.6 1170.7,96.0 1170.8,91.2 1170.9,87.7 1171.1,103.2 1171.2,98.3 1171.3,100.1 1171.4,99.8 1171.6,98.6 1171.7,103.7 1171.8,97.0 1171.9,100.6 1172.1,92.1 1172.2,96.0 1172.3,91.3 1172.4,90.8 1172.6,86.2 1172.7,92.4 1172.8,91.6 1172.9,96.1 1173.1,89.4 1173.2,87.9 1173.3,88.5 1173.4,87.3 1173.6,94.5 1173.7,94.0 1173.8,83.1 1173.9,94.8 1174.1,88.5 1174.2,93.7 1174.3,87.5 1174.4,97.5 1174.6,86.3 1174.7,89.5 1174.8,94.3 1174.9,88.8 1175.1,95.1 1175.2,88.7 1175.3,95.3 1175.4,97.8 1175.6,83.7 1175.7,96.2 1175.8,95.3 1175.9,89.2 1176.1,93.8 1176.2,93.4 1176.3,102.1 1176.4,93.0 1176.6,96.5 1176.7,96.0 1176.8,95.0 1176.9,96.2 1177.1,93.2 1177.2,97.9 1177.3,93.2 1177.4,93.8 1177.6,93.4 1177.7,93.7 1177.8,97.1 1177.9,97.6 1178.1,87.7 1178.2,90.1 1178.3,94.0 1178.4,94.5 1178.6,87.0 1178.7,96.6 1178.8,101.3 1178.9,92.1 1179.1,90.4 1179.2,87.8 1179.3,90.3 1179.4,88.6 1179.6,91.3 1179.7,92.3 1179.8,85.0 1179.9,94.5 1180.1,93.6 1180.2,88.0 1180.3,96.9 1180.4,99.1 1180.6,90.5 1180.7,96.2 1180.8,92.5 1180.9,93.6 1181.1,95.4 1181.2,89.7 1181.3,97.4 1181.4,95.3 1181.6,96.9 1181.7,97.7 1181.8,96.5 1181.9,104.8 1182.1,100.3 1182.2,106.2 1182.3,96.1 1182.4,98.9 1182.6,97.1 1182.7,97.7 1182.8,101.6 1182.9,103.2 1183.1,108.8 1183.2,98.0 1183.3,101.9 1183.4,99.5 1183.6,97.3 1183.7,97.4 1183.8,96.6 1183.9,106.4 1184.1,99.3 1184.2,101.0 1184.3,95.9 1184.4,100.2 1184.6,98.1 1184.7,96.8 1184.8,98.5 1184.9,96.0 1185.1,105.0 1185.2,98.2 1185.3,97.8 1185.4,97.0 1185.6,97.6 1185.7,98.5 1185.8,94.1 1185.9,98.7 1186.1,103.7 1186.2,107.4 1186.3,104.4 1186.4,103.9 1186.6,105.6 1186.7,96.6 1186.8,104.9 1186.9,102.9 1187.1,100.5 1187.2,98.1 1187.3,100.5 1187.4,100.8 1187.6,90.8 1187.7,97.6 1187.8,98.1 1187.9,97.6 1188.1,90.6 1188.2,91.9 1188.3,90.6 1188.4,95.9 1188.6,102.6 1188.7,94.8 1188.8,95.5 1188.9,87.0 1189.1,89.3 1189.2,93.9 1189.3,90.7 1189.4,89.5 1189.6,89.7 1189.7,91.0 1189.8,94.4 1189.9,93.8 1190.1,96.2 1190.2,92.7 1190.3,99.5 1190.4,81.9 1190.6,92.1 1190.7,100.2 1190.8,92.4 1190.9,89.9 1191.1,91.1 1191.2,94.9 1191.3,97.4 1191.4,91.1 1191.6,96.3 1191.7,90.4 1191.8,95.1 1191.9,93.5 1192.1,97.3 1192.2,95.8 1192.3,98.7 1192.4,90.8 1192.6,78.4 1192.7,95.9 1192.8,94.3 1192.9,91.6 1193.1,89.2 1193.2,86.8 1193.3,91.0 1193.4,93.2 1193.6,94.5 1193.7,88.6 1193.8,85.4 1193.9,93.5 1194.1,95.8 1194.2,92.1 1194.3,83.3 1194.4,96.3 1194.6,84.9 1194.7,94.6 1194.8,81.8 1194.9,87.7 1195.1,93.9 1195.2,91.5 1195.3,94.6 1195.4,96.3 1195.6,99.2 1195.7,98.8 1195.8,89.3 1195.9,94.1 1196.1,104.7 1196.2,95.6 1196.3,90.0 1196.4,100.9 1196.6,97.0 1196.7,97.2 1196.8,103.4 1196.9,102.7 1197.1,98.9 1197.2,104.6 1197.3,99.0 1197.4,99.7 1197.6,103.2 1197.7,98.4 1197.8,100.4 1197.9,102.4 1198.1,101.0 1198.2,98.6 1198.3,108.8 1198.4,101.3 1198.6,105.4 1198.7,99.6 1198.8,103.2 1198.9,98.9 1199.1,108.2 1199.2,102.0 1199.3,102.3 1199.4,114.3 1199.6,95.9 1199.7,101.6 1199.8,101.1 1199.9,101.3 1200.1,101.8 1200.2,95.9 1200.3,96.5 1200.4,101.8 1200.6,96.5 1200.7,99.5 1200.8,98.2 1200.9,101.9 1201.1,101.5 1201.2,101.2 1201.3,90.4 1201.4,98.5 1201.6,96.5 1201.7,100.7 1201.8,97.3 1201.9,101.3 1202.1,90.7 1202.2,103.6 1202.3,96.3 1202.4,96.9 1202.6,94.5 1202.7,92.6 1202.8,98.7 1202.9,94.1 1203.1,99.8 1203.2,100.1 1203.3,98.7 1203.4,95.9 1203.6,92.4 1203.7,90.1 1203.8,87.5 1203.9,90.5 1204.1,94.7 1204.2,85.1 1204.3,90.1 1204.4,88.0 1204.6,84.8 1204.7,87.2 1204.8,86.8 1204.9,81.2 1205.1,79.6 1205.2,78.8 1205.3,93.2 1205.4,91.1 1205.6,85.6 1205.7,92.8 1205.8,90.5 1205.9,88.5 1206.1,95.0 1206.2,86.5 1206.3,85.3 1206.4,89.2 1206.6,91.0 1206.7,99.6 1206.8,100.2 1206.9,90.1 1207.1,95.7 1207.2,102.0 1207.3,102.6 1207.4,92.8 1207.6,103.0 1207.7,100.0 1207.8,99.1 1207.9,102.2 1208.1,94.6 1208.2,99.9 1208.3,96.7 1208.4,99.7 1208.6,96.9 1208.7,100.2 1208.8,103.8 1208.9,97.5 1209.1,95.9 1209.2,95.0 1209.3,95.6 1209.4,95.1 1209.6,99.4 1209.7,94.3 1209.8,89.8 1209.9,96.3 1210.1,96.8 1210.2,98.0 1210.3,97.3 1210.4,93.6 1210.6,96.3 1210.7,99.9 1210.8,100.6 1210.9,91.7 1211.1,100.9 1211.2,93.7 1211.3,96.6 1211.4,100.8 1211.6,100.1 1211.7,98.5 1211.8,98.3 1211.9,99.3 1212.1,93.5 1212.2,96.4 1212.3,96.5 1212.4,96.7 1212.6,93.1 1212.7,104.7 1212.8,96.4 1212.9,99.2 1213.1,93.9 1213.2,95.7 1213.3,93.9 1213.4,93.4 1213.6,94.4 1213.7,91.5 1213.8,96.1 1213.9,98.9 1214.1,90.5 1214.2,90.8 1214.3,88.7 1214.4,97.2 1214.6,99.8 1214.7,97.8 1214.8,92.3 1214.9,96.1 1215.1,98.6 1215.2,100.1 1215.3,100.0 1215.4,91.7 1215.6,90.0 1215.7,95.7 1215.8,91.3 1215.9,106.1 1216.1,95.0 1216.2,104.7 1216.3,101.8 1216.4,97.9 1216.6,97.9 1216.7,101.9 1216.8,103.7 1216.9,95.4 1217.1,97.2 1217.2,92.9 1217.3,100.5 1217.4,94.8 1217.6,97.6 1217.7,95.2 1217.8,93.2 1217.9,97.2 1218.1,96.0 1218.2,102.4 1218.3,95.9 1218.4,87.7 1218.6,98.6 1218.7,92.9 1218.8,94.8 1218.9,96.9 1219.1,84.8 1219.2,86.0 1219.3,84.8 1219.4,92.5 1219.6,88.4 1219.7,93.2 1219.8,93.1 1219.9,87.1 1220.1,89.1 1220.2,94.1 1220.3,97.0 1220.4,96.7 1220.6,90.7 1220.7,93.4 1220.8,94.5 1220.9,94.7 1221.1,90.1 1221.2,94.8 1221.3,90.2 1221.4,87.8 1221.6,102.2 1221.7,87.5 1221.8,89.2 1221.9,92.2 1222.1,90.8 1222.2,95.3 1222.3,91.9 1222.4,88.9 1222.6,94.9 1222.7,90.8 1222.8,93.7 1222.9,91.7 1223.1,89.9 1223.2,99.6 1223.3,98.1 1223.4,94.8 1223.6,96.4 1223.7,91.6 1223.8,92.7 1223.9,97.3 1224.1,101.5 1224.2,95.5 1224.3,96.9 1224.4,92.6 1224.6,99.6 1224.7,95.0 1224.8,95.2 1224.9,92.8 1225.1,98.7 1225.2,106.0 1225.3,102.9 1225.4,93.7 1225.6,106.0 1225.7,97.2 1225.8,101.1 1225.9,100.5 1226.1,108.9 1226.2,94.2 1226.3,101.1 1226.4,98.8 1226.6,96.8 1226.7,100.7 1226.8,93.9 1226.9,107.0 1227.1,102.1 1227.2,92.2 1227.3,99.1 1227.4,94.1 1227.6,99.7 1227.7,97.2 1227.8,104.7 1227.9,104.1 1228.1,92.8 1228.2,96.7 1228.3,91.7 1228.4,99.1 1228.6,96.5 1228.7,99.6 1228.8,100.8 1228.9,92.7 1229.1,94.9 1229.2,83.8 1229.3,94.0 1229.4,91.4 1229.6,92.5 1229.7,88.8 1229.8,100.4 1229.9,86.2 1230.1,87.9 1230.2,87.8 1230.3,94.2 1230.4,91.9 1230.6,91.7 1230.7,84.9 1230.8,94.0 1230.9,91.2 1231.1,86.8 1231.2,79.4 1231.3,93.8 1231.4,90.8 1231.6,82.0 1231.7,96.8 1231.8,97.4 1231.9,85.9 1232.1,96.9 1232.2,97.2 1232.3,91.9 1232.4,93.8 1232.6,95.0 1232.7,102.3 1232.8,95.4 1232.9,97.9 1233.1,97.0 1233.2,95.1 1233.3,100.1 1233.4,92.9 1233.6,92.1 1233.7,92.0 1233.8,101.9 1233.9,108.3 1234.1,101.0 1234.2,98.7 1234.3,98.9 1234.4,100.3 1234.6,97.2 1234.7,94.0 1234.8,101.8 1234.9,96.0 1235.1,94.5 1235.2,97.0 1235.3,99.3 1235.4,93.5 1235.6,95.0 1235.7,89.9 1235.8,89.6 1235.9,93.3 1236.1,93.5 1236.2,91.4 1236.3,93.2 1236.4,86.7 1236.6,83.2 1236.7,82.9 1236.8,89.7 1236.9,81.4 1237.1,90.6 1237.2,89.0 1237.3,91.5 1237.4,85.4 1237.6,84.5 1237.7,90.8 1237.8,85.4 1237.9,87.9 1238.1,89.4 1238.2,88.9 1238.3,90.4 1238.4,91.4 1238.6,89.2 1238.7,90.8 1238.8,92.6 1238.9,83.8 1239.1,95.5 1239.2,92.2 1239.3,88.0 1239.4,90.1 1239.6,94.5 1239.7,90.0 1239.8,91.5 1239.9,93.6 1240.1,94.6 1240.2,89.7 1240.3,89.6 1240.4,87.4 1240.6,88.6 1240.7,91.7 1240.8,89.9 1240.9,85.7 1241.1,91.2 1241.2,85.6 1241.3,84.9 1241.4,85.2 1241.6,82.0 1241.7,92.9 1241.8,79.7 1241.9,87.3 1242.1,89.2 1242.2,83.6 1242.3,92.1 1242.4,93.1 1242.6,92.7 1242.7,89.2 1242.8,95.2 1242.9,82.3 1243.1,98.4 1243.2,93.5 1243.3,94.0 1243.4,92.2 1243.6,96.8 1243.7,91.2 1243.8,94.4 1243.9,95.7 1244.1,98.6 1244.2,89.2 1244.3,96.6 1244.4,96.8 1244.6,100.5 1244.7,94.7 1244.8,93.1 1244.9,97.3 1245.1,97.7 1245.2,95.6 1245.3,96.6 1245.4,102.0 1245.6,99.4 1245.7,101.7 1245.8,94.0 1245.9,98.6 1246.1,94.5 1246.2,103.5 1246.3,104.9 1246.4,111.5 1246.6,102.8 1246.7,99.9 1246.8,108.4 1246.9,107.2 1247.1,96.6 1247.2,99.3 1247.3,95.1 1247.4,95.8 1247.6,93.5 1247.7,95.7 1247.8,103.1 1247.9,102.1 1248.1,103.5 1248.2,93.9 1248.3,99.4 1248.4,98.7 1248.6,94.6 1248.7,102.0 1248.8,102.5 1248.9,97.8 1249.1,101.1 1249.2,97.5 1249.3,102.8 1249.4,102.5 1249.6,92.8 1249.7,95.3 1249.8,101.8 1249.9,99.0 1250.1,105.3 1250.2,97.0 1250.3,94.6 1250.4,100.4 1250.6,96.2 1250.7,91.0 1250.8,94.2 1250.9,99.8 1251.1,97.3 1251.2,97.1 1251.3,98.1 1251.4,98.9 1251.6,99.8 1251.7,96.1 1251.8,101.6 1251.9,98.5 1252.1,95.1 1252.2,101.3 1252.3,103.8 1252.4,94.3 1252.6,101.2 1252.7,106.0 1252.8,101.3 1252.9,92.5 1253.1,100.1 1253.2,104.2 1253.3,103.8 1253.4,99.4 1253.6,99.3 1253.7,97.2 1253.8,95.0 1254.0,95.1 1254.1,99.7 1254.2,96.4 1254.3,92.2 1254.5,89.3 1254.6,93.5 1254.7,101.1 1254.8,88.6 1255.0,96.1 1255.1,82.6 1255.2,100.4 1255.3,101.6 1255.5,98.0 1255.6,98.3 1255.7,97.1 1255.8,94.6 1256.0,97.5 1256.1,88.0 1256.2,93.2 1256.3,90.4 1256.5,96.9 1256.6,98.3 1256.7,99.2 1256.8,97.5 1257.0,94.2 1257.1,98.0 1257.2,98.2 1257.3,94.9 1257.5,95.1 1257.6,93.1 1257.7,89.9 1257.8,98.0 1258.0,95.7 1258.1,97.8 1258.2,96.9 1258.3,102.1 1258.5,91.0 1258.6,97.6 1258.7,102.2 1258.8,103.5 1259.0,98.7 1259.1,103.3 1259.2,100.3 1259.3,98.2 1259.5,99.3 1259.6,101.2 1259.7,106.8 1259.8,97.8 1260.0,98.1 1260.1,98.2 1260.2,94.4 1260.3,99.5 1260.5,92.1 1260.6,104.6 1260.7,101.2 1260.8,92.1 1261.0,98.3 1261.1,94.6 1261.2,98.5 1261.3,99.2 1261.5,97.0 1261.6,88.4 1261.7,104.7 1261.8,100.6 1262.0,97.0 1262.1,90.9 1262.2,96.2 1262.3,88.9 1262.5,100.9 1262.6,98.9 1262.7,97.7 1262.8,100.8 1263.0,107.2 1263.1,98.0 1263.2,100.5 1263.3,98.4 1263.5,89.8 1263.6,105.9 1263.7,102.3 1263.8,102.9 1264.0,99.6 1264.1,107.6 1264.2,101.2 1264.3,98.4 1264.5,103.1 1264.6,99.2 1264.7,94.9 1264.8,99.3 1265.0,106.4 1265.1,93.1 1265.2,97.6 1265.3,97.9 1265.5,97.5 1265.6,100.8 1265.7,101.3 1265.8,93.1 1266.0,101.5 1266.1,103.9 1266.2,94.1 1266.3,91.2 1266.5,96.8 1266.6,95.4 1266.7,95.6 1266.8,94.9 1267.0,91.8 1267.1,100.1 1267.2,100.5 1267.3,91.7 1267.5,96.9 1267.6,97.8 1267.7,97.2 1267.8,91.1 1268.0,90.1 1268.1,102.5 1268.2,88.2 1268.3,91.5 1268.5,93.6 1268.6,95.8 1268.7,89.7 1268.8,92.3 1269.0,100.2 1269.1,100.3 1269.2,94.9 1269.3,92.0 1269.5,91.9 1269.6,97.7 1269.7,90.9 1269.8,98.5 1270.0,92.3 1270.1,89.6 1270.2,90.0 1270.3,101.1 1270.5,91.6 1270.6,94.2 1270.7,94.4 1270.8,88.7 1271.0,95.4 1271.1,96.4 1271.2,99.1 1271.3,92.8 1271.5,92.7 1271.6,96.0 1271.7,97.8 1271.8,99.8 1272.0,89.1 1272.1,92.6 1272.2,98.2 1272.3,96.5 1272.5,103.4 1272.6,99.5 1272.7,88.8 1272.8,101.9 1273.0,94.3 1273.1,94.4 1273.2,94.8 1273.3,89.8 1273.5,100.6 1273.6,90.0 1273.7,88.9 1273.8,94.1 1274.0,93.9 1274.1,97.0 1274.2,86.3 1274.3,91.8 1274.5,90.3 1274.6,85.5 1274.7,86.0 1274.8,96.4 1275.0,84.6 1275.1,90.0 1275.2,83.3 1275.3,89.0 1275.5,93.0 1275.6,81.5 1275.7,89.1 1275.8,97.9 1276.0,90.9 1276.1,93.0 1276.2,85.9 1276.3,91.3 1276.5,89.1 1276.6,96.7 1276.7,91.9 1276.8,91.8 1277.0,94.6 1277.1,89.7 1277.2,94.8 1277.3,93.6 1277.5,96.4 1277.6,97.3 1277.7,97.6 1277.8,99.7 1278.0,99.1 1278.1,93.1 1278.2,87.1 1278.3,101.7 1278.5,101.0 1278.6,101.0 1278.7,97.4 1278.8,103.0 1279.0,94.1 1279.1,93.2 1279.2,109.4 1279.3,95.3 1279.5,99.6 1279.6,99.2 1279.7,100.7 1279.8,97.3 1280.0,100.1 1280.1,101.9 1280.2,93.3 1280.3,87.3 1280.5,99.5 1280.6,88.2 1280.7,98.7 1280.8,97.1 1281.0,101.5 1281.1,97.7 1281.2,101.9 1281.3,95.5 1281.5,89.3 1281.6,100.1 1281.7,99.3 1281.8,97.0 1282.0,99.4 1282.1,96.8 1282.2,91.3 1282.3,92.9 1282.5,97.8 1282.6,105.3 1282.7,99.2 1282.8,84.3 1283.0,94.8 1283.1,89.3 1283.2,92.6 1283.3,89.2 1283.5,97.3 1283.6,96.7 1283.7,96.1 1283.8,97.6 1284.0,95.3 1284.1,97.1 1284.2,102.7 1284.3,95.9 1284.5,92.3 1284.6,100.2 1284.7,91.7 1284.8,103.2 1285.0,96.6 1285.1,99.3 1285.2,93.8 1285.3,101.6 1285.5,94.0 1285.6,91.7 1285.7,94.0 1285.8,93.8 1286.0,94.9 1286.1,96.7 1286.2,97.7 1286.3,95.7 1286.5,94.6 1286.6,92.2 1286.7,87.6 1286.8,91.9 1287.0,96.7 1287.1,93.8 1287.2,96.2 1287.3,94.3 1287.5,97.5 1287.6,87.1 1287.7,87.2 1287.8,82.3 1288.0,87.1 1288.1,92.3 1288.2,87.2 1288.3,101.3 1288.5,92.5 1288.6,91.0 1288.7,97.5 1288.8,97.3 1289.0,100.4 1289.1,94.7 1289.2,95.2 1289.3,98.6 1289.5,101.9 1289.6,100.0 1289.7,98.4 1289.8,93.8 1290.0,92.2 1290.1,101.5 1290.2,96.1 1290.3,98.8 1290.5,92.9 1290.6,103.8 1290.7,103.1 1290.8,99.2 1291.0,102.5 1291.1,94.5 1291.2,94.5 1291.3,92.7 1291.5,105.1 1291.6,100.9 1291.7,101.8 1291.8,103.3 1292.0,101.3 1292.1,98.1 1292.2,89.9 1292.3,102.0 1292.5,104.8 1292.6,102.1 1292.7,97.4 1292.8,100.4 1293.0,106.7 1293.1,103.6 1293.2,97.2 1293.3,102.7 1293.5,109.6 1293.6,98.0 1293.7,95.0 1293.8,100.4 1294.0,98.6 1294.1,104.1 1294.2,95.0 1294.3,92.0 1294.5,97.6 1294.6,91.6 1294.7,97.4 1294.8,88.4 1295.0,91.5 1295.1,90.4 1295.2,94.0 1295.3,100.5 1295.5,98.5 1295.6,86.5 1295.7,99.9 1295.8,84.0 1296.0,98.0 1296.1,88.8 1296.2,92.0 1296.3,93.8 1296.5,93.5 1296.6,84.4 1296.7,101.8 1296.8,97.9 1297.0,97.0 1297.1,88.4 1297.2,94.9 1297.3,91.4 1297.5,99.1 1297.6,95.5 1297.7,106.0 1297.8,96.3 1298.0,99.2 1298.1,100.2 1298.2,95.7 1298.3,99.1 1298.5,94.8 1298.6,96.5 1298.7,91.5 1298.8,96.5 1299.0,94.3 1299.1,100.4 1299.2,93.8 1299.3,92.2 1299.5,96.0 1299.6,87.7 1299.7,94.1 1299.8,86.2 1300.0,91.5 1300.1,95.0 1300.2,91.2 1300.3,91.5 1300.5,96.7 1300.6,91.7 1300.7,98.0 1300.8,98.1 1301.0,96.9 1301.1,90.4 1301.2,99.4 1301.3,91.4 1301.5,91.6 1301.6,94.6 1301.7,92.1 1301.8,101.2 1302.0,92.2 1302.1,97.3 1302.2,100.2 1302.3,101.2 1302.5,101.8 1302.6,97.8 1302.7,102.5 1302.8,104.1 1303.0,99.8 1303.1,102.3 1303.2,99.3 1303.3,97.3 1303.5,98.7 1303.6,93.1 1303.7,98.2 1303.8,90.0 1304.0,99.8 1304.1,96.6 1304.2,100.6 1304.3,92.4 1304.5,94.2 1304.6,93.3 1304.7,91.4 1304.8,94.2 1305.0,96.1 1305.1,89.7 1305.2,96.6 1305.3,91.4 1305.5,94.6 1305.6,94.8 1305.7,98.8 1305.8,94.5 1306.0,101.7 1306.1,88.5 1306.2,99.2 1306.3,99.8 1306.5,99.7 1306.6,102.1 1306.7,87.4 1306.8,100.4 1307.0,99.8 1307.1,98.6 1307.2,97.6 1307.3,89.6 1307.5,100.3 1307.6,105.1 1307.7,98.4 1307.8,95.4 1308.0,91.2 1308.1,102.3 1308.2,95.5 1308.3,94.2 1308.5,92.1 1308.6,92.3 1308.7,96.4 1308.8,93.7 1309.0,98.0 1309.1,92.8 1309.2,88.5 1309.3,96.5 1309.5,102.0 1309.6,99.7 1309.7,96.1 1309.8,96.7 1310.0,98.8 1310.1,91.7 1310.2,91.6 1310.3,102.5 1310.5,94.4 1310.6,100.6 1310.7,100.6 1310.8,105.2 1311.0,103.2 1311.1,97.3 1311.2,88.1 1311.3,96.0 1311.5,97.6 1311.6,96.1 1311.7,101.8 1311.8,91.5 1312.0,96.2 1312.1,101.8 1312.2,92.4 1312.3,94.5 1312.5,93.7 1312.6,95.5 1312.7,99.4 1312.8,89.1 1313.0,95.0 1313.1,96.0 1313.2,92.4 1313.3,93.3 1313.5,97.1 1313.6,104.8 1313.7,95.4 1313.8,93.1 1314.0,92.1 1314.1,103.3 1314.2,97.7 1314.3,89.0 1314.5,103.4 1314.6,91.5 1314.7,97.7 1314.8,90.1 1315.0,94.6 1315.1,89.2 1315.2,99.1 1315.3,95.6 1315.5,94.2 1315.6,100.2 1315.7,93.9 1315.8,98.3 1316.0,99.3 1316.1,95.6 1316.2,101.7 1316.3,96.0 1316.5,96.6 1316.6,95.0 1316.7,97.9 1316.8,101.9 1317.0,98.9 1317.1,100.5 1317.2,100.6 1317.3,102.2 1317.5,98.4 1317.6,103.5 1317.7,104.5 1317.8,95.8 1318.0,105.0 1318.1,98.9 1318.2,94.0 1318.3,99.9 1318.5,100.9 1318.6,101.6 1318.7,101.2 1318.8,99.0 1319.0,103.6 1319.1,92.1 1319.2,97.1 1319.3,87.4 1319.5,100.5 1319.6,101.7 1319.7,88.5 1319.8,87.6 1320.0,95.9 1320.1,87.9 1320.2,92.5 1320.3,99.6 1320.5,94.5 1320.6,99.5 1320.7,90.8 1320.8,91.9 1321.0,97.5 1321.1,85.1 1321.2,95.9 1321.3,92.1 1321.5,97.0 1321.6,89.1 1321.7,94.3 1321.8,83.8 1322.0,97.6 1322.1,97.9 1322.2,92.4 1322.3,97.0 1322.5,93.6 1322.6,95.4 1322.7,99.0 1322.8,91.5 1323.0,93.8 1323.1,102.2 1323.2,95.4 1323.3,94.3 1323.5,96.7 1323.6,91.1 1323.7,95.5 1323.8,91.3 1324.0,97.1 1324.1,102.3 1324.2,110.2 1324.3,104.6 1324.5,93.5 1324.6,100.3 1324.7,97.6 1324.8,101.6 1325.0,99.4 1325.1,96.7 1325.2,99.3 1325.3,96.5 1325.5,99.1 1325.6,97.8 1325.7,96.8 1325.8,86.9 1326.0,97.9 1326.1,92.1 1326.2,89.8 1326.3,102.1 1326.5,99.2 1326.6,91.4 1326.7,94.1 1326.8,94.2 1327.0,88.6 1327.1,90.8 1327.2,92.3 1327.3,98.1 1327.5,90.3 1327.6,91.7 1327.7,98.2 1327.8,87.1 1328.0,101.0 1328.1,100.4 1328.2,87.2 1328.3,97.5 1328.5,87.9 1328.6,91.8 1328.7,96.1 1328.8,88.7 1329.0,92.2 1329.1,91.8 1329.2,86.7 1329.3,88.3 1329.5,90.0 1329.6,89.0 1329.7,95.2 1329.8,100.8 1330.0,91.2 1330.1,89.9 1330.2,84.1 1330.3,91.4 1330.5,89.1 1330.6,84.6 1330.7,82.5 1330.8,94.9 1331.0,88.7 1331.1,102.3 1331.2,94.3 1331.3,93.8 1331.5,82.8 1331.6,84.7 1331.7,92.1 1331.8,90.1 1332.0,98.5 1332.1,83.1 1332.2,89.1 1332.3,90.1 1332.5,89.3 1332.6,94.6 1332.7,96.8 1332.8,95.7 1333.0,87.2 1333.1,81.0 1333.2,95.0 1333.3,88.1 1333.5,96.0 1333.6,92.2 1333.7,94.4 1333.8,99.8 1334.0,100.5 1334.1,93.0 1334.2,90.8 1334.3,102.4 1334.5,94.4 1334.6,99.7 1334.7,93.4 1334.8,99.1 1335.0,97.6 1335.1,102.3 1335.2,105.5 1335.3,101.3 1335.5,99.6 1335.6,100.1 1335.7,94.5 1335.8,96.4 1336.0,104.7 1336.1,96.2 1336.2,93.3 1336.3,97.0 1336.5,96.0 1336.6,96.4 1336.7,100.2 1336.8,96.1 1337.0,98.3 1337.1,95.3 1337.2,103.0 1337.3,100.3 1337.5,108.0 1337.6,101.0 1337.7,94.7 1337.8,93.5 1338.0,97.2 1338.1,100.1 1338.2,99.0 1338.4,97.5 1338.5,100.0 1338.6,100.1 1338.7,101.5 1338.9,104.6 1339.0,91.4 1339.1,93.4 1339.2,97.4 1339.4,93.1 1339.5,88.6 1339.6,98.5 1339.7,90.0 1339.9,87.1 1340.0,94.7 1340.1,93.2 1340.2,92.1 1340.4,82.0 1340.5,93.8 1340.6,98.0 1340.7,102.8 1340.9,102.3 1341.0,99.9 1341.1,93.1 1341.2,95.5 1341.4,97.5 1341.5,96.3 1341.6,105.8 1341.7,100.3 1341.9,98.0 1342.0,97.1 1342.1,100.2 1342.2,101.1 1342.4,97.7 1342.5,97.9 1342.6,102.2 1342.7,97.6 1342.9,107.6 1343.0,104.6 1343.1,109.6 1343.2,99.9 1343.4,101.9 1343.5,96.5 1343.6,99.4 1343.7,103.6 1343.9,103.9 1344.0,95.0 1344.1,96.5 1344.2,99.7 1344.4,98.2 1344.5,101.1 1344.6,95.7 1344.7,97.6 1344.9,91.8 1345.0,103.2 1345.1,98.5 1345.2,98.9 1345.4,99.4 1345.5,97.6 1345.6,99.5 1345.7,101.1 1345.9,98.4 1346.0,100.8 1346.1,102.6 1346.2,94.6 1346.4,102.0 1346.5,89.9 1346.6,96.5 1346.7,97.4 1346.9,100.0 1347.0,96.2 1347.1,95.9 1347.2,94.4 1347.4,97.4 1347.5,98.9 1347.6,94.0 1347.7,102.0 1347.9,94.6 1348.0,98.5 1348.1,95.2 1348.2,91.4 1348.4,89.2 1348.5,92.1 1348.6,88.1 1348.7,92.4 1348.9,93.2 1349.0,93.7 1349.1,90.5 1349.2,87.1 1349.4,92.0 1349.5,93.8 1349.6,94.8 1349.7,93.6 1349.9,87.3 1350.0,90.0 1350.1,93.5 1350.2,92.7 1350.4,90.6 1350.5,90.8 1350.6,91.3 1350.7,96.8 1350.9,88.6 1351.0,101.3 1351.1,93.9 1351.2,98.3 1351.4,95.4 1351.5,101.1 1351.6,94.8 1351.7,81.7 1351.9,91.5 1352.0,101.1 1352.1,90.4 1352.2,89.8 1352.4,85.2 1352.5,96.3 1352.6,102.5 1352.7,91.3 1352.9,88.4 1353.0,97.8 1353.1,94.6 1353.2,90.1 1353.4,89.3 1353.5,96.5 1353.6,92.8 1353.7,89.9 1353.9,89.5 1354.0,92.0 1354.1,85.7 1354.2,99.1 1354.4,94.9 1354.5,98.0 1354.6,94.5 1354.7,94.8 1354.9,100.3 1355.0,90.9 1355.1,89.8 1355.2,95.2 1355.4,94.3 1355.5,107.9 1355.6,95.9 1355.7,97.3 1355.9,96.9 1356.0,101.3 1356.1,96.0 1356.2,99.2 1356.4,96.0 1356.5,97.5 1356.6,95.0 1356.7,92.6 1356.9,94.4 1357.0,97.2 1357.1,94.2 1357.2,89.0 1357.4,95.1 1357.5,88.6 1357.6,89.6 1357.7,92.3 1357.9,93.6 1358.0,94.8 1358.1,94.8 1358.2,89.1 1358.4,96.2 1358.5,92.9 1358.6,89.0 1358.7,97.1 1358.9,95.5 1359.0,96.7 1359.1,93.2 1359.2,100.1 1359.4,98.6 1359.5,105.6 1359.6,103.8 1359.7,95.7 1359.9,96.1 1360.0,99.3 1360.1,94.6 1360.2,93.9 1360.4,95.3 1360.5,93.2 1360.6,96.2 1360.7,107.8 1360.9,103.4 1361.0,95.8 1361.1,102.1 1361.2,98.8 1361.4,99.0 1361.5,95.6 1361.6,99.6 1361.7,98.5 1361.9,94.0 1362.0,99.8 1362.1,92.8 1362.2,88.7 1362.4,90.1 1362.5,96.5 1362.6,89.3 1362.7,89.6 1362.9,90.6 1363.0,80.3 1363.1,92.6 1363.2,90.4 1363.4,92.0 1363.5,90.5 1363.6,85.5 1363.7,88.9 1363.9,88.5 1364.0,89.3 1364.1,82.4 1364.2,92.9 1364.4,87.5 1364.5,93.4 1364.6,79.1 1364.7,85.4 1364.9,89.8 1365.0,92.4 1365.1,94.1 1365.2,96.0 1365.4,89.1 1365.5,93.8 1365.6,91.6 1365.7,88.4 1365.9,86.8 1366.0,89.5 1366.1,94.2 1366.2,93.6 1366.4,100.1 1366.5,93.4 1366.6,95.7 1366.7,89.9 1366.9,93.3 1367.0,102.1 1367.1,97.7 1367.2,97.4 1367.4,97.9 1367.5,88.7 1367.6,101.3 1367.7,100.5 1367.9,97.5 1368.0,99.1 1368.1,99.2 1368.2,97.3 1368.4,102.2 1368.5,95.4 1368.6,97.7 1368.7,99.5 1368.9,99.8 1369.0,98.9 1369.1,95.0 1369.2,97.0 1369.4,101.1 1369.5,98.2 1369.6,101.1 1369.7,96.2 1369.9,99.1 1370.0,100.0 1370.1,99.2 1370.2,103.8 1370.4,98.1 1370.5,100.5 1370.6,98.7 1370.7,100.5 1370.9,95.9 1371.0,100.2 1371.1,93.3 1371.2,96.9 1371.4,99.6 1371.5,96.4 1371.6,98.2 1371.7,94.9 1371.9,92.9 1372.0,95.2 1372.1,93.3 1372.2,90.3 1372.4,87.1 1372.5,87.8 1372.6,89.8 1372.7,93.0 1372.9,83.6 1373.0,90.2 1373.1,95.7 1373.2,85.6 1373.4,88.1 1373.5,89.2 1373.6,89.5 1373.7,92.2 1373.9,90.1 1374.0,95.8 1374.1,87.4 1374.2,99.3 1374.4,97.6 1374.5,103.7 1374.6,93.9 1374.7,97.7 1374.9,104.2 1375.0,109.9 1375.1,107.3 1375.2,97.5 1375.4,100.1 1375.5,96.6 1375.6,92.6 1375.7,94.9 1375.9,99.5 1376.0,92.7 1376.1,95.9 1376.2,96.5 1376.4,94.4 1376.5,98.4 1376.6,85.3 1376.7,95.1 1376.9,96.7 1377.0,97.7 1377.1,93.9 1377.2,93.3 1377.4,94.2 1377.5,91.4 1377.6,94.2 1377.7,95.6 1377.9,92.1 1378.0,100.5 1378.1,94.6 1378.2,98.5 1378.4,87.6 1378.5,94.0 1378.6,101.6 1378.7,94.0 1378.9,94.6 1379.0,100.4 1379.1,93.6 1379.2,93.0 1379.4,95.2 1379.5,91.2 1379.6,92.9 1379.7,92.1 1379.9,90.1 1380.0,98.3 1380.1,93.0 1380.2,95.5 1380.4,95.5 1380.5,97.8 1380.6,97.6 1380.7,92.3 1380.9,91.7 1381.0,94.6 1381.1,89.1 1381.2,96.1 1381.4,95.5 1381.5,86.9 1381.6,103.9 1381.7,92.8 1381.9,97.2 1382.0,85.9 1382.1,93.7 1382.2,94.8 1382.4,99.1 1382.5,90.5 1382.6,99.0 1382.7,90.2 1382.9,92.4 1383.0,99.2 1383.1,91.9 1383.2,87.8 1383.4,92.1 1383.5,93.9 1383.6,97.9 1383.7,99.7 1383.9,96.2 1384.0,103.2 1384.1,89.7 1384.2,93.0 1384.4,97.4 1384.5,94.6 1384.6,89.9 1384.7,96.4 1384.9,96.9 1385.0,93.7 1385.1,93.5 1385.2,93.2 1385.4,88.5 1385.5,96.6 1385.6,92.3 1385.7,96.7 1385.9,98.6 1386.0,92.7 1386.1,94.9 1386.2,100.7 1386.4,96.7 1386.5,94.4 1386.6,90.6 1386.7,89.7 1386.9,99.6 1387.0,92.0 1387.1,97.2 1387.2,102.0 1387.4,101.1 1387.5,94.0 1387.6,103.3 1387.7,87.4 1387.9,96.8 1388.0,97.6 1388.1,97.3 1388.2,98.1 1388.4,97.0 1388.5,95.4 1388.6,94.5 1388.7,92.7 1388.9,92.6 1389.0,99.6 1389.1,98.8 1389.2,90.4 1389.4,93.1 1389.5,84.8 1389.6,91.2 1389.7,92.0 1389.9,90.8 1390.0,95.8 1390.1,94.1 1390.2,91.3 1390.4,89.1 1390.5,91.8 1390.6,101.3 1390.7,86.5 1390.9,91.6 1391.0,97.1 1391.1,92.3 1391.2,90.4 1391.4,90.8 1391.5,96.2 1391.6,99.2 1391.7,83.2 1391.9,95.7 1392.0,93.1 1392.1,99.7 1392.2,97.6 1392.4,98.5 1392.5,96.9 1392.6,94.9 1392.7,91.2 1392.9,94.2 1393.0,96.6 1393.1,102.6 1393.2,96.5 1393.4,91.3 1393.5,96.9 1393.6,99.3 1393.7,101.7 1393.9,100.6 1394.0,94.9 1394.1,95.1 1394.2,87.2 1394.4,102.3 1394.5,88.8 1394.6,95.5 1394.7,101.0 1394.9,97.6 1395.0,89.8 1395.1,99.2 1395.2,98.3 1395.4,90.1 1395.5,93.0 1395.6,99.5 1395.7,97.0 1395.9,98.1 1396.0,89.7 1396.1,96.5 1396.2,99.6 1396.4,93.6 1396.5,95.8 1396.6,95.0 1396.7,96.0 1396.9,97.4 1397.0,91.4 1397.1,97.5 1397.2,95.3 1397.4,104.6 1397.5,96.1 1397.6,97.0 1397.7,93.9 1397.9,95.6 1398.0,91.8 1398.1,94.2 1398.2,93.1 1398.4,88.1 1398.5,89.9 1398.6,93.3 1398.7,96.7 1398.9,91.1 1399.0,91.8 1399.1,91.3 1399.2,89.0 1399.4,93.2 1399.5,99.4 1399.6,92.9 1399.7,91.3 1399.9,95.8 1400.0,99.6 1400.1,100.0 1400.2,96.9 1400.4,101.0 1400.5,92.0 1400.6,94.2 1400.7,96.5 1400.9,102.4 1401.0,91.3 1401.1,100.3 1401.2,99.0 1401.4,107.0 1401.5,99.1 1401.6,105.7 1401.7,104.2 1401.9,106.2 1402.0,108.6 1402.1,107.3 1402.2,105.9 1402.4,105.3 1402.5,102.7 1402.6,102.9 1402.7,108.7 1402.9,101.5 1403.0,105.3 1403.1,98.3 1403.2,107.5 1403.4,109.2 1403.5,106.1 1403.6,103.2 1403.7,105.8 1403.9,107.9 1404.0,99.9 1404.1,108.4 1404.2,102.1 1404.4,110.3 1404.5,106.3 1404.6,105.2 1404.7,104.4 1404.9,100.8 1405.0,105.3 1405.1,100.4 1405.2,105.6 1405.4,101.9 1405.5,99.7 1405.6,99.5 1405.7,104.2 1405.9,109.1 1406.0,94.8 1406.1,105.1 1406.2,102.5 1406.4,92.2 1406.5,98.9 1406.6,94.4 1406.7,96.0 1406.9,98.2 1407.0,103.1 1407.1,94.6 1407.2,106.3 1407.4,99.5 1407.5,101.5 1407.6,100.5 1407.7,93.6 1407.9,96.0 1408.0,98.9 1408.1,101.8 1408.2,92.0 1408.4,97.1 1408.5,103.5 1408.6,97.7 1408.7,106.5 1408.9,89.7 1409.0,92.6 1409.1,92.7 1409.2,106.4 1409.4,97.9 1409.5,105.2 1409.6,103.1 1409.7,96.7 1409.9,94.8 1410.0,101.2 1410.1,110.4 1410.2,99.6 1410.4,108.0 1410.5,95.9 1410.6,107.0 1410.7,98.4 1410.9,99.1 1411.0,102.5 1411.1,104.6 1411.2,99.7 1411.4,105.2 1411.5,102.7 1411.6,95.8 1411.7,101.0 1411.9,101.5 1412.0,100.9 1412.1,95.8 1412.2,105.5 1412.4,100.0 1412.5,100.8 1412.6,99.2 1412.7,95.9 1412.9,91.5 1413.0,101.0 1413.1,94.2 1413.2,98.2 1413.4,99.0 1413.5,96.0 1413.6,94.7 1413.7,95.6 1413.9,92.2 1414.0,101.0 1414.1,96.3 1414.2,100.1 1414.4,106.1 1414.5,95.7 1414.6,103.7 1414.7,98.8 1414.9,102.4 1415.0,94.0 1415.1,103.8 1415.2,92.6 1415.4,97.3 1415.5,100.5 1415.6,107.3 1415.7,104.2 1415.9,94.3 1416.0,106.3 1416.1,106.6 1416.2,94.0 1416.4,90.5 1416.5,98.8 1416.6,98.0 1416.7,99.1 1416.9,98.0 1417.0,97.3 1417.1,94.0 1417.2,97.0 1417.4,98.2 1417.5,91.7 1417.6,102.6 1417.7,106.0 1417.9,104.1 1418.0,97.1 1418.1,100.1 1418.2,98.4 1418.4,99.0 1418.5,105.2 1418.6,94.5 1418.7,102.6 1418.9,113.4 1419.0,104.4 1419.1,111.1 1419.2,110.2 1419.4,105.0 1419.5,105.1 1419.6,113.1 1419.7,112.2 1419.9,111.3 1420.0,104.4 1420.1,108.3 1420.2,108.7 1420.4,108.5 1420.5,110.4 1420.6,108.5 1420.7,113.3 1420.9,101.6 1421.0,104.3 1421.1,112.6 1421.2,109.9 1421.4,106.8 1421.5,108.8 1421.6,105.4 1421.7,114.4 1421.9,111.7 1422.0,113.0 1422.1,118.2 1422.2,108.4 1422.4,114.2 1422.5,110.3" fill="none" stroke="#000" stroke-width="1.4" stroke-linejoin="bevel"/>
<polyline points="40.0,378.1 40.1,357.1 40.3,366.6 40.4,366.9 40.5,370.1 40.6,363.0 40.8,368.3 40.9,369.3 41.0,373.1 41.1,361.2 41.3,366.1 41.4,366.4 41.5,372.8 41.6,376.6 41.8,375.8 41.9,366.3 42.0,369.9 42.1,368.2 42.3,369.6 42.4,365.9 42.5,369.3 42.6,368.1 42.8,370.6 42.9,367.6 43.0,378.2 43.1,361.5 43.3,365.6 43.4,365.6 43.5,368.5 43.6,371.4 43.8,367.6 43.9,379.7 44.0,369.4 44.1,373.7 44.3,367.9 44.4,365.4 44.5,377.5 44.6,365.4 44.8,363.0 44.9,366.3 45.0,370.2 45.1,375.2 45.3,368.8 45.4,369.1 45.5,371.4 45.6,373.5 45.8,367.3 45.9,371.7 46.0,368.2 46.1,372.1 46.3,372.2 46.4,374.2 46.5,377.2 46.6,368.0 46.8,366.4 46.9,370.5 47.0,370.1 47.1,370.1 47.3,373.3 47.4,370.8 47.5,373.7 47.6,370.7 47.8,370.2 47.9,367.5 48.0,373.7 48.1,371.5 48.3,376.4 48.4,374.3 48.5,370.1 48.6,373.2 48.8,372.2 48.9,372.2 49.0,367.5 49.1,373.7 49.3,373.2 49.4,368.1 49.5,373.7 49.6,373.7 49.8,367.5 49.9,367.0 50.0,371.8 50.1,373.2 50.3,370.7 50.4,362.1 50.5,364.1 50.6,369.8 50.8,363.3 50.9,370.9 51.0,370.8 51.1,363.0 51.3,366.9 51.4,368.7 51.5,367.8 51.6,364.3 51.8,365.5 51.9,366.3 52.0,373.2 52.1,370.0 52.3,372.4 52.4,369.4 52.5,371.1 52.6,372.9 52.8,369.4 52.9,367.7 53.0,372.5 53.1,369.7 53.3,369.4 53.4,368.8 53.5,366.5 53.6,372.4 53.8,368.4 53.9,369.0 54.0,370.8 54.1,367.2 54.3,373.9 54.4,375.2 54.5,367.5 54.6,370.4 54.8,370.9 54.9,370.8 55.0,372.0 55.1,373.0 55.3,369.1 55.4,374.3 55.5,364.0 55.6,367.3 55.8,374.6 55.9,369.2 56.0,371.9 56.1,374.8 56.3,376.6 56.4,365.5 56.5,366.5 56.6,366.2 56.8,365.9 56.9,369.4 57.0,360.7 57.1,369.4 57.3,367.4 57.4,373.1 57.5,361.4 57.6,369.7 57.8,365.8 57.9,364.6 58.0,370.7 58.1,370.9 58.3,362.6 58.4,371.2 58.5,367.2 58.6,367.1 58.8,366.9 58.9,368.7 59.0,367.0 59.1,369.9 59.3,360.4 59.4,373.5 59.5,371.3 59.6,368.2 59.8,372.0 59.9,369.9 60.0,373.2 60.1,375.1 60.3,373.0 60.4,359.6 60.5,376.4 60.6,371.7 60.8,374.2 60.9,368.7 61.0,371.3 61.1,371.2 61.3,374.4 61.4,375.2 61.5,373.9 61.6,373.7 61.8,376.2 61.9,377.2 62.0,375.6 62.1,371.7 62.3,376.1 62.4,370.6 62.5,373.7 62.6,378.2 62.8,366.9 62.9,367.9 63.0,363.5 63.1,379.0 63.3,372.2 63.4,373.2 63.5,372.2 63.6,370.5 63.8,367.4 63.9,371.4 64.0,366.7 64.1,372.4 64.3,375.7 64.4,378.0 64.5,365.6 64.6,367.1 64.8,364.9 64.9,361.6 65.0,363.3 65.1,367.0 65.3,371.2 65.4,372.0 65.5,363.9 65.6,369.8 65.8,366.5 65.9,368.2 66.0,371.3 66.1,371.2 66.3,371.0 66.4,368.6 66.5,368.5 66.6,368.4 66.8,369.6 66.9,368.1 67.0,369.0 67.1,367.7 67.3,372.3 67.4,363.3 67.5,365.4 67.6,367.0 67.8,366.2 67.9,357.8 68.0,370.2 68.1,371.5 68.3,359.3 68.4,360.3 68.5,370.3 68.6,359.5 68.8,365.5 68.9,364.8 69.0,363.7 69.1,366.8 69.3,361.6 69.4,359.8 69.5,364.0 69.6,365.9 69.8,367.8 69.9,370.6 70.0,373.6 70.1,370.4 70.3,368.7 70.4,371.2 70.5,365.3 70.6,367.6 70.8,367.9 70.9,365.3 71.0,374.5 71.1,368.0 71.3,366.9 71.4,368.8 71.5,378.4 71.6,377.7 71.8,374.0 71.9,375.5 72.0,366.0 72.1,369.3 72.3,373.7 72.4,368.3 72.5,366.5 72.6,368.7 72.8,374.1 72.9,376.4 73.0,366.5 73.1,376.2 73.3,368.3 73.4,375.2 73.5,374.1 73.6,370.4 73.8,375.4 73.9,370.4 74.0,367.3 74.1,370.8 74.3,363.9 74.4,367.9 74.5,371.5 74.6,367.4 74.8,373.1 74.9,361.5 75.0,360.9 75.1,364.5 75.3,368.9 75.4,376.9 75.5,391.8 75.6,388.0 75.8,375.8 75.9,368.1 76.0,368.5 76.1,362.5 76.3,369.0 76.4,364.0 76.5,368.1 76.6,369.7 76.8,363.6 76.9,367.8 77.0,368.4 77.1,370.7 77.3,373.4 77.4,370.4 77.5,365.6 77.6,369.3 77.8,367.3 77.9,369.7 78.0,373.9 78.1,373.2 78.3,373.6 78.4,365.4 78.5,361.3 78.6,363.2 78.8,365.9 78.9,362.8 79.0,359.7 79.1,363.2 79.3,367.5 79.4,361.1 79.5,363.4 79.6,369.5 79.8,359.4 79.9,364.7 80.0,356.2 80.1,358.9 80.3,361.8 80.4,367.1 80.5,364.1 80.6,362.3 80.8,367.3 80.9,371.3 81.0,371.8 81.1,363.6 81.3,369.9 81.4,365.9 81.5,371.2 81.6,373.1 81.8,364.9 81.9,377.7 82.0,362.4 82.1,370.5 82.3,363.2 82.4,368.1 82.5,376.0 82.6,375.2 82.8,377.5 82.9,369.0 83.0,366.5 83.1,366.5 83.3,381.5 83.4,374.2 83.5,366.7 83.6,370.4 83.8,370.0 83.9,373.9 84.0,367.9 84.1,363.3 84.3,367.0 84.4,372.0 84.5,370.0 84.6,367.5 84.8,364.6 84.9,374.2 85.0,371.8 85.1,366.2 85.3,367.5 85.4,376.8 85.5,368.8 85.6,375.2 85.8,369.7 85.9,369.9 86.0,369.0 86.1,373.3 86.3,373.2 86.4,368.2 86.5,378.6 86.6,370.6 86.8,370.3 86.9,377.1 87.0,369.8 87.1,372.0 87.3,373.7 87.4,376.2 87.5,366.3 87.6,368.6 87.8,362.9 87.9,374.1 88.0,372.8 88.1,373.8 88.3,372.6 88.4,368.8 88.5,373.4 88.6,367.0 88.8,367.4 88.9,369.7 89.0,374.9 89.1,365.9 89.3,382.5 89.4,368.1 89.5,364.9 89.6,371.6 89.8,367.7 89.9,373.6 90.0,374.4 90.1,367.2 90.3,373.1 90.4,369.0 90.5,372.2 90.6,369.2 90.8,370.6 90.9,372.4 91.0,379.4 91.1,378.4 91.3,388.0 91.4,390.9 91.5,376.8 91.6,377.9 91.8,369.6 91.9,372.1 92.0,372.6 92.1,369.8 92.3,376.6 92.4,375.9 92.5,371.6 92.6,371.0 92.8,371.5 92.9,373.4 93.0,373.4 93.1,366.1 93.3,374.0 93.4,373.4 93.5,370.1 93.6,368.6 93.8,365.1 93.9,372.9 94.0,369.2 94.1,370.2 94.3,382.0 94.4,366.6 94.5,364.9 94.6,375.6 94.8,366.1 94.9,371.2 95.0,373.5 95.1,369.9 95.3,378.3 95.4,374.0 95.5,374.5 95.6,371.3 95.8,370.0 95.9,373.1 96.0,381.2 96.1,373.5 96.3,375.7 96.4,375.2 96.5,369.7 96.6,375.8 96.8,370.5 96.9,365.4 97.0,364.7 97.1,373.9 97.3,378.4 97.4,373.2 97.5,374.6 97.6,365.6 97.8,358.5 97.9,376.5 98.0,373.4 98.1,363.3 98.3,370.6 98.4,369.7 98.5,369.6 98.6,366.3 98.8,372.3 98.9,373.8 99.0,366.2 99.1,373.2 99.3,366.4 99.4,375.0 99.5,371.9 99.6,376.5 99.8,375.0 99.9,367.1 100.0,369.5 100.1,374.0 100.3,376.1 100.4,378.6 100.5,369.3 100.6,373.2 100.8,383.0 100.9,374.0 101.0,369.9 101.1,366.5 101.3,375.0 101.4,376.8 101.5,370.2 101.6,376.4 101.8,377.4 101.9,378.6 102.0,375.6 102.1,371.9 102.3,370.1 102.4,376.5 102.5,367.6 102.6,378.8 102.8,375.4 102.9,371.9 103.0,365.9 103.1,369.7 103.3,367.2 103.4,368.9 103.5,374.9 103.6,381.8 103.8,369.0 103.9,369.9 104.0,381.3 104.1,373.6 104.3,374.8 104.4,370.8 104.5,379.8 104.6,374.2 104.8,377.0 104.9,377.5 105.0,380.6 105.1,376.4 105.3,372.8 105.4,377.6 105.5,375.5 105.6,369.3 105.8,374.0 105.9,370.7 106.0,376.3 106.1,375.2 106.3,375.9 106.4,371.0 106.5,379.6 106.6,378.3 106.8,381.9 106.9,373.1 107.0,375.8 107.1,375.1 107.3,379.3 107.4,374.7 107.5,379.2 107.6,372.5 107.8,378.2 107.9,376.7 108.0,375.5 108.1,374.5 108.3,374.4 108.4,378.1 108.5,378.1 108.6,377.3 108.8,374.1 108.9,373.3 109.0,377.2 109.1,382.0 109.3,382.4 109.4,376.5 109.5,369.3 109.6,367.6 109.8,374.3 109.9,368.5 110.0,370.7 110.1,368.9 110.3,371.4 110.4,368.9 110.5,374.0 110.6,370.0 110.8,364.5 110.9,368.6 111.0,363.8 111.1,366.2 111.3,370.6 111.4,361.3 111.5,368.2 111.6,365.3 111.8,369.0 111.9,364.5 112.0,367.6 112.1,364.0 112.3,367.7 112.4,363.8 112.5,359.8 112.6,363.2 112.8,362.7 112.9,369.3 113.0,359.7 113.1,357.0 113.3,368.1 113.4,361.1 113.5,357.3 113.6,360.6 113.8,361.6 113.9,363.4 114.0,373.8 114.1,364.9 114.3,368.6 114.4,368.6 114.5,364.9 114.6,360.8 114.8,375.1 114.9,366.5 115.0,365.5 115.1,371.2 115.3,366.0 115.4,367.5 115.5,373.5 115.6,368.2 115.8,371.0 115.9,368.9 116.0,376.2 116.1,364.3 116.3,359.7 116.4,370.8 116.5,369.0 116.6,381.1 116.8,370.5 116.9,370.4 117.0,372.9 117.1,371.0 117.3,372.2 117.4,366.4 117.5,368.7 117.6,375.6 117.8,365.5 117.9,368.7 118.0,371.8 118.1,373.4 118.3,370.8 118.4,373.2 118.5,374.0 118.6,371.4 118.8,368.2 118.9,373.0 119.0,369.0 119.1,369.2 119.3,376.1 119.4,373.1 119.5,366.9 119.6,364.3 119.8,367.8 119.9,371.8 120.0,373.0 120.1,370.4 120.3,378.2 120.4,369.8 120.5,366.3 120.6,369.6 120.8,373.4 120.9,371.4 121.0,370.8 121.1,374.4 121.3,373.3 121.4,375.1 121.5,367.2 121.6,370.2 121.8,369.4 121.9,368.8 122.0,375.1 122.1,369.5 122.3,369.2 122.4,362.4 122.5,365.4 122.6,368.1 122.8,366.3 122.9,361.6 123.0,367.4 123.1,364.6 123.3,368.7 123.4,367.2 123.5,368.6 123.6,361.5 123.8,362.7 123.9,369.0 124.0,377.4 124.1,369.5 124.3,369.8 124.4,366.8 124.5,377.0 124.6,371.0 124.8,370.4 124.9,372.7 125.0,369.9 125.1,366.5 125.3,373.2 125.4,372.3 125.5,367.7 125.6,368.9 125.8,371.9 125.9,364.7 126.0,369.8 126.2,383.9 126.3,372.9 126.4,381.2 126.5,364.9 126.7,371.6 126.8,370.6 126.9,372.9 127.0,370.4 127.2,368.1 127.3,371.4 127.4,369.1 127.5,378.0 127.7,368.1 127.8,370.9 127.9,372.3 128.0,370.1 128.2,367.4 128.3,367.5 128.4,366.7 128.5,363.9 128.7,367.2 128.8,372.9 128.9,371.9 129.0,362.7 129.2,369.0 129.3,365.4 129.4,364.6 129.5,363.9 129.7,368.1 129.8,361.2 129.9,361.1 130.0,369.2 130.2,357.6 130.3,362.4 130.4,366.2 130.5,364.4 130.7,363.7 130.8,372.2 130.9,370.4 131.0,366.9 131.2,369.7 131.3,366.0 131.4,365.3 131.5,371.6 131.7,372.6 131.8,363.3 131.9,374.2 132.0,376.8 132.2,373.0 132.3,365.4 132.4,373.0 132.5,368.1 132.7,375.5 132.8,371.0 132.9,370.8 133.0,367.9 133.2,370.9 133.3,371.7 133.4,365.6 133.5,368.4 133.7,366.7 133.8,374.2 133.9,370.6 134.0,367.7 134.2,373.3 134.3,369.4 134.4,367.8 134.5,366.8 134.7,372.6 134.8,368.3 134.9,361.0 135.0,365.2 135.2,366.4 135.3,358.5 135.4,371.2 135.5,372.6 135.7,364.4 135.8,372.1 135.9,370.2 136.0,369.4 136.2,365.4 136.3,376.1 136.4,370.6 136.5,366.6 136.7,372.7 136.8,373.1 136.9,375.9 137.0,387.3 137.2,385.8 137.3,371.5 137.4,372.1 137.5,370.7 137.7,372.5 137.8,373.2 137.9,369.3 138.0,369.7 138.2,364.1 138.3,367.8 138.4,365.4 138.5,371.2 138.7,372.5 138.8,365.6 138.9,359.2 139.0,368.9 139.2,371.6 139.3,366.7 139.4,362.2 139.5,370.3 139.7,364.6 139.8,368.2 139.9,367.1 140.0,370.6 140.2,362.4 140.3,372.2 140.4,368.4 140.5,375.1 140.7,362.4 140.8,357.5 140.9,364.9 141.0,359.4 141.2,364.5 141.3,356.3 141.4,366.7 141.5,363.5 141.7,365.6 141.8,362.3 141.9,357.3 142.0,366.7 142.2,367.5 142.3,368.6 142.4,360.9 142.5,363.7 142.7,365.6 142.8,361.6 142.9,364.2 143.0,365.0 143.2,368.4 143.3,358.1 143.4,371.4 143.5,366.2 143.7,366.7 143.8,364.5 143.9,371.0 144.0,369.8 144.2,367.7 144.3,371.2 144.4,365.3 144.5,370.7 144.7,364.3 144.8,366.3 144.9,374.8 145.0,365.4 145.2,365.0 145.3,367.2 145.4,368.9 145.5,370.3 145.7,368.8 145.8,368.6 145.9,368.8 146.0,378.8 146.2,362.7 146.3,370.3 146.4,372.5 146.5,365.6 146.7,371.7 146.8,371.6 146.9,359.0 147.0,376.9 147.2,373.3 147.3,371.1 147.4,365.8 147.5,368.1 147.7,365.8 147.8,365.5 147.9,372.1 148.0,359.3 148.2,358.6 148.3,364.7 148.4,369.6 148.5,362.3 148.7,368.8 148.8,363.0 148.9,364.8 149.0,364.6 149.2,365.8 149.3,366.3 149.4,363.0 149.5,359.6 149.7,357.5 149.8,367.7 149.9,364.3 150.0,367.0 150.2,360.2 150.3,365.4 150.4,366.8 150.5,368.4 150.7,363.5 150.8,369.2 150.9,359.3 151.0,363.8 151.2,361.2 151.3,360.3 151.4,366.1 151.5,369.8 151.7,363.4 151.8,364.7 151.9,364.6 152.0,365.0 152.2,370.6 152.3,371.5 152.4,361.8 152.5,369.6 152.7,369.5 152.8,365.9 152.9,361.0 153.0,366.7 153.2,362.4 153.3,368.5 153.4,368.0 153.5,371.7 153.7,367.0 153.8,366.0 153.9,363.6 154.0,366.3 154.2,361.9 154.3,362.1 154.4,359.6 154.5,364.0 154.7,364.2 154.8,370.5 154.9,365.4 155.0,363.2 155.2,368.5 155.3,368.6 155.4,363.6 155.5,366.5 155.7,365.1 155.8,366.0 155.9,367.9 156.0,367.4 156.2,366.4 156.3,371.1 156.4,368.1 156.5,363.5 156.7,368.9 156.8,376.0 156.9,373.7 157.0,375.2 157.2,374.1 157.3,370.4 157.4,368.0 157.5,368.7 157.7,374.0 157.8,373.0 157.9,374.7 158.0,371.8 158.2,382.8 158.3,370.9 158.4,379.5 158.5,372.7 158.7,379.3 158.8,381.7 158.9,381.2 159.0,380.0 159.2,376.4 159.3,368.3 159.4,367.6 159.5,375.0 159.7,377.5 159.8,368.5 159.9,378.2 160.0,373.6 160.2,368.9 160.3,373.8 160.4,381.7 160.5,369.9 160.7,373.2 160.8,373.1 160.9,369.8 161.0,375.6 161.2,376.7 161.3,373.2 161.4,376.5 161.5,371.0 161.7,373.3 161.8,365.9 161.9,374.4 162.0,369.3 162.2,362.7 162.3,369.3 162.4,363.7 162.5,365.0 162.7,372.4 162.8,372.3 162.9,365.3 163.0,360.3 163.2,371.8 163.3,364.7 163.4,372.6 163.5,372.8 163.7,371.7 163.8,378.4 163.9,373.4 164.0,370.1 164.2,369.0 164.3,371.0 164.4,372.6 164.5,366.3 164.7,370.6 164.8,372.2 164.9,366.3 165.0,367.4 165.2,374.2 165.3,367.5 165.4,378.4 165.5,375.9 165.7,376.2 165.8,375.0 165.9,375.5 166.0,380.5 166.2,379.1 166.3,379.1 166.4,363.1 166.5,375.6 166.7,376.5 166.8,370.6 166.9,374.3 167.0,370.1 167.2,370.0 167.3,365.9 167.4,374.2 167.5,371.4 167.7,369.3 167.8,369.2 167.9,371.8 168.0,376.2 168.2,376.2 168.3,371.2 168.4,367.3 168.5,373.2 168.7,364.3 168.8,377.3 168.9,374.5 169.0,369.4 169.2,370.8 169.3,368.8 169.4,373.3 169.5,368.1 169.7,371.9 169.8,368.9 169.9,364.1 170.0,370.9 170.2,369.0 170.3,366.8 170.4,364.9 170.5,367.5 170.7,367.4 170.8,365.7 170.9,366.1 171.0,367.2 171.2,364.5 171.3,371.2 171.4,369.0 171.5,370.1 171.7,364.0 171.8,365.7 171.9,368.1 172.0,367.3 172.2,364.9 172.3,365.1 172.4,369.9 172.5,371.3 172.7,374.0 172.8,366.8 172.9,370.9 173.0,371.3 173.2,369.3 173.3,368.8 173.4,368.4 173.5,371.8 173.7,371.9 173.8,365.5 173.9,367.7 174.0,365.9 174.2,370.1 174.3,367.8 174.4,371.4 174.5,375.7 174.7,368.7 174.8,375.1 174.9,372.1 175.0,370.9 175.2,371.2 175.3,371.4 175.4,374.6 175.5,379.3 175.7,372.3 175.8,370.5 175.9,376.2 176.0,373.9 176.2,368.1 176.3,374.0 176.4,369.1 176.5,370.9 176.7,372.4 176.8,367.1 176.9,368.3 177.0,370.6 177.2,362.9 177.3,367.0 177.4,361.4 177.5,369.2 177.7,367.7 177.8,364.5 177.9,365.8 178.0,362.0 178.2,368.4 178.3,365.6 178.4,369.4 178.5,372.8 178.7,367.7 178.8,365.6 178.9,374.8 179.0,367.6 179.2,374.4 179.3,371.9 179.4,374.7 179.5,368.4 179.7,363.8 179.8,368.3 179.9,370.9 180.0,377.3 180.2,367.2 180.3,372.4 180.4,365.3 180.5,369.1 180.7,374.7 180.8,374.3 180.9,372.2 181.0,370.8 181.2,372.2 181.3,374.0 181.4,369.8 181.5,369.7 181.7,370.9 181.8,371.4 181.9,363.4 182.0,369.1 182.2,368.7 182.3,369.7 182.4,367.3 182.5,373.7 182.7,372.5 182.8,369.8 182.9,380.9 183.0,372.2 183.2,373.9 183.3,370.0 183.4,370.8 183.5,372.2 183.7,365.2 183.8,361.9 183.9,375.2 184.0,360.7 184.2,361.6 184.3,365.7 184.4,364.0 184.5,366.7 184.7,372.2 184.8,369.1 184.9,357.7 185.0,363.4 185.2,366.6 185.3,365.3 185.4,358.3 185.5,363.8 185.7,370.8 185.8,366.9 185.9,365.1 186.0,362.5 186.2,372.1 186.3,378.3 186.4,366.2 186.5,373.7 186.7,370.6 186.8,366.6 186.9,365.6 187.0,373.0 187.2,371.5 187.3,369.3 187.4,373.2 187.5,374.1 187.7,382.4 187.8,372.0 187.9,369.5 188.0,368.4 188.2,374.3 188.3,375.4 188.4,371.5 188.5,375.9 188.7,372.4 188.8,371.0 188.9,370.0 189.0,372.1 189.2,372.8 189.3,370.5 189.4,367.8 189.5,367.7 189.7,376.4 189.8,369.7 189.9,379.1 190.0,366.6 190.2,371.6 190.3,370.6 190.4,366.5 190.5,364.5 190.7,367.8 190.8,375.5 190.9,367.0 191.0,371.4 191.2,371.3 191.3,371.7 191.4,359.9 191.5,366.0 191.7,360.2 191.8,369.6 191.9,370.4 192.0,371.7 192.2,370.2 192.3,372.0 192.4,371.3 192.5,369.0 192.7,371.1 192.8,364.6 192.9,369.2 193.0,364.8 193.2,366.9 193.3,370.6 193.4,376.1 193.5,370.7 193.7,374.7 193.8,373.3 193.9,379.1 194.0,377.4 194.2,373.5 194.3,380.0 194.4,378.1 194.5,377.0 194.7,384.6 194.8,378.4 194.9,376.1 195.0,370.2 195.2,372.7 195.3,382.0 195.4,365.4 195.5,381.7 195.7,372.7 195.8,372.0 195.9,379.6 196.0,368.0 196.2,371.5 196.3,369.2 196.4,370.7 196.5,375.0 196.7,376.6 196.8,361.7 196.9,363.1 197.0,376.3 197.2,368.5 197.3,372.8 197.4,371.8 197.5,364.2 197.7,360.5 197.8,367.0 197.9,365.1 198.0,369.6 198.2,365.4 198.3,373.5 198.4,357.8 198.5,358.0 198.7,363.1 198.8,361.0 198.9,366.5 199.0,363.7 199.2,372.1 199.3,368.0 199.4,369.4 199.5,365.8 199.7,368.1 199.8,366.8 199.9,364.8 200.0,369.6 200.2,360.7 200.3,366.5 200.4,365.8 200.5,368.3 200.7,366.9 200.8,361.0 200.9,367.3 201.0,369.3 201.2,369.7 201.3,371.3 201.4,371.1 201.5,370.1 201.7,373.8 201.8,367.2 201.9,371.0 202.0,369.9 202.2,371.0 202.3,371.7 202.4,368.9 202.5,369.5 202.7,371.0 202.8,362.4 202.9,373.0 203.0,375.7 203.2,371.4 203.3,370.9 203.4,371.7 203.5,377.1 203.7,370.8 203.8,376.9 203.9,367.3 204.0,370.6 204.2,379.2 204.3,379.8 204.4,367.9 204.5,374.8 204.7,372.0 204.8,373.7 204.9,376.3 205.0,372.3 205.2,376.0 205.3,373.2 205.4,374.3 205.5,373.0 205.7,368.5 205.8,370.1 205.9,364.6 206.0,375.8 206.2,369.2 206.3,368.1 206.4,372.2 206.5,373.9 206.7,371.1 206.8,368.9 206.9,363.7 207.0,370.9 207.2,373.1 207.3,367.3 207.4,368.9 207.5,364.4 207.7,364.8 207.8,367.7 207.9,366.4 208.0,368.9 208.2,367.7 208.3,365.1 208.4,364.6 208.5,369.3 208.7,362.7 208.8,369.5 208.9,366.3 209.0,349.0 209.2,364.3 209.3,366.5 209.4,377.6 209.5,367.4 209.7,363.0 209.8,371.6 209.9,363.8 210.0,362.5 210.2,369.1 210.3,371.6 210.4,375.5 210.5,369.0 210.7,364.5 210.8,367.8 210.9,372.9 211.0,374.0 211.2,364.4 211.3,374.3 211.4,366.9 211.5,363.2 211.7,370.5 211.8,368.5 211.9,362.4 212.1,364.5 212.2,368.5 212.3,370.3 212.4,364.3 212.6,373.2 212.7,365.6 212.8,365.4 212.9,372.0 213.1,374.2 213.2,368.4 213.3,368.9 213.4,371.3 213.6,374.6 213.7,368.7 213.8,369.8 213.9,368.4 214.1,364.4 214.2,373.8 214.3,369.7 214.4,375.4 214.6,369.6 214.7,376.8 214.8,372.5 214.9,375.5 215.1,366.3 215.2,368.5 215.3,368.7 215.4,377.9 215.6,371.9 215.7,367.7 215.8,360.5 215.9,364.8 216.1,373.3 216.2,365.5 216.3,369.2 216.4,359.8 216.6,367.3 216.7,369.4 216.8,366.5 216.9,360.6 217.1,360.0 217.2,366.3 217.3,359.8 217.4,358.3 217.6,364.7 217.7,360.0 217.8,361.5 217.9,364.4 218.1,365.3 218.2,361.0 218.3,367.1 218.4,372.6 218.6,371.3 218.7,373.4 218.8,373.8 218.9,370.9 219.1,372.2 219.2,368.0 219.3,368.7 219.4,369.7 219.6,368.5 219.7,380.9 219.8,378.6 219.9,367.4 220.1,375.9 220.2,373.7 220.3,374.8 220.4,374.4 220.6,376.2 220.7,367.4 220.8,367.9 220.9,369.5 221.1,374.4 221.2,370.5 221.3,369.7 221.4,368.7 221.6,372.4 221.7,373.5 221.8,383.9 221.9,390.9 222.1,385.9 222.2,374.7 222.3,366.9 222.4,368.3 222.6,369.8 222.7,369.2 222.8,370.4 222.9,369.5 223.1,374.8 223.2,369.6 223.3,374.8 223.4,371.0 223.6,369.0 223.7,371.0 223.8,368.8 223.9,371.5 224.1,362.7 224.2,371.7 224.3,375.3 224.4,375.9 224.6,368.8 224.7,367.5 224.8,376.4 224.9,366.3 225.1,371.3 225.2,370.5 225.3,372.9 225.4,375.5 225.6,377.4 225.7,364.7 225.8,371.1 225.9,364.7 226.1,370.2 226.2,367.1 226.3,372.1 226.4,371.3 226.6,374.6 226.7,375.9 226.8,374.2 226.9,376.6 227.1,378.1 227.2,373.2 227.3,373.4 227.4,370.3 227.6,369.4 227.7,375.5 227.8,378.5 227.9,372.7 228.1,365.9 228.2,368.5 228.3,372.0 228.4,371.1 228.6,366.7 228.7,370.5 228.8,370.0 228.9,363.8 229.1,365.2 229.2,371.3 229.3,365.4 229.4,368.1 229.6,373.7 229.7,372.2 229.8,371.7 229.9,364.4 230.1,366.3 230.2,369.1 230.3,369.0 230.4,372.2 230.6,372.0 230.7,373.2 230.8,374.8 230.9,368.6 231.1,365.1 231.2,372.4 231.3,369.4 231.4,369.4 231.6,366.6 231.7,367.7 231.8,377.1 231.9,360.6 232.1,370.4 232.2,368.7 232.3,370.0 232.4,365.5 232.6,367.5 232.7,365.7 232.8,366.6 232.9,366.1 233.1,374.4 233.2,372.4 233.3,370.8 233.4,370.6 233.6,367.1 233.7,363.8 233.8,371.3 233.9,366.7 234.1,368.5 234.2,367.4 234.3,369.5 234.4,369.6 234.6,377.0 234.7,378.0 234.8,372.5 234.9,375.0 235.1,372.9 235.2,374.5 235.3,371.9 235.4,375.4 235.6,367.9 235.7,364.5 235.8,381.4 235.9,374.9 236.1,374.4 236.2,376.5 236.3,375.1 236.4,377.6 236.6,370.3 236.7,372.1 236.8,379.8 236.9,376.0 237.1,372.3 237.2,369.9 237.3,382.3 237.4,379.4 237.6,377.7 237.7,369.7 237.8,372.9 237.9,370.7 238.1,367.7 238.2,372.8 238.3,373.4 238.4,383.1 238.6,369.6 238.7,378.6 238.8,375.9 238.9,377.3 239.1,375.0 239.2,378.2 239.3,374.0 239.4,378.9 239.6,377.2 239.7,370.6 239.8,373.6 239.9,381.5 240.1,381.3 240.2,371.3 240.3,376.0 240.4,381.4 240.6,377.0 240.7,372.7 240.8,377.9 240.9,376.2 241.1,369.1 241.2,377.7 241.3,376.5 241.4,378.3 241.6,382.8 241.7,382.7 241.8,381.7 241.9,381.8 242.1,371.3 242.2,370.7 242.3,376.0 242.4,374.3 242.6,375.8 242.7,371.9 242.8,375.7 242.9,379.4 243.1,372.3 243.2,372.1 243.3,370.2 243.4,363.8 243.6,370.9 243.7,370.7 243.8,372.4 243.9,368.5 244.1,376.7 244.2,375.2 244.3,378.6 244.4,360.5 244.6,368.8 244.7,373.8 244.8,373.0 244.9,372.9 245.1,371.3 245.2,375.6 245.3,370.3 245.4,371.0 245.6,381.6 245.7,370.8 245.8,375.8 245.9,372.6 246.1,375.1 246.2,372.1 246.3,375.7 246.4,376.4 246.6,371.2 246.7,369.5 246.8,368.9 246.9,367.6 247.1,376.8 247.2,377.8 247.3,363.2 247.4,367.0 247.6,370.5 247.7,373.2 247.8,364.8 247.9,367.0 248.1,369.5 248.2,372.1 248.3,365.0 248.4,372.2 248.6,364.5 248.7,371.3 248.8,364.9 248.9,365.8 249.1,370.0 249.2,368.3 249.3,369.4 249.4,365.8 249.6,365.2 249.7,371.0 249.8,373.5 249.9,367.8 250.1,367.8 250.2,363.2 250.3,373.6 250.4,364.9 250.6,368.1 250.7,372.0 250.8,355.9 250.9,365.7 251.1,361.9 251.2,365.7 251.3,367.7 251.4,362.2 251.6,372.7 251.7,377.8 251.8,367.5 251.9,368.9 252.1,375.9 252.2,370.8 252.3,365.0 252.4,371.7 252.6,367.0 252.7,374.7 252.8,366.9 252.9,375.3 253.1,364.6 253.2,368.8 253.3,361.4 253.4,379.8 253.6,369.9 253.7,368.7 253.8,371.7 253.9,370.9 254.1,372.5 254.2,380.0 254.3,377.7 254.4,369.9 254.6,373.3 254.7,372.0 254.8,374.6 254.9,368.8 255.1,371.6 255.2,367.2 255.3,375.6 255.4,370.9 255.6,378.3 255.7,374.4 255.8,368.1 255.9,380.6 256.1,365.6 256.2,385.0 256.3,380.3 256.4,379.9 256.6,380.1 256.7,377.7 256.8,372.2 256.9,369.5 257.1,372.5 257.2,361.9 257.3,373.2 257.4,371.1 257.6,372.1 257.7,369.2 257.8,365.1 257.9,371.2 258.1,369.2 258.2,369.3 258.3,371.2 258.4,374.5 258.6,376.4 258.7,366.4 258.8,372.0 258.9,363.4 259.1,366.5 259.2,366.6 259.3,369.8 259.4,370.4 259.6,371.7 259.7,370.4 259.8,369.5 259.9,364.0 260.1,371.0 260.2,364.6 260.3,370.6 260.4,366.2 260.6,374.9 260.7,362.4 260.8,367.9 260.9,369.9 261.1,363.5 261.2,363.9 261.3,371.8 261.4,363.0 261.6,366.5 261.7,363.1 261.8,363.3 261.9,359.3 262.1,372.5 262.2,366.4 262.3,368.9 262.4,372.1 262.6,370.0 262.7,366.5 262.8,372.7 262.9,360.0 263.1,372.5 263.2,369.4 263.3,367.2 263.4,370.1 263.6,371.8 263.7,364.5 263.8,368.2 263.9,365.4 264.1,366.2 264.2,369.8 264.3,364.6 264.4,362.0 264.6,364.7 264.7,372.0 264.8,370.9 264.9,368.7 265.1,371.7 265.2,364.7 265.3,362.8 265.4,362.1 265.6,366.9 265.7,367.1 265.8,360.4 265.9,374.9 266.1,368.4 266.2,358.9 266.3,357.8 266.4,365.8 266.6,365.7 266.7,360.4 266.8,364.9 266.9,364.8 267.1,364.4 267.2,370.1 267.3,360.0 267.4,364.8 267.6,360.3 267.7,365.8 267.8,366.3 267.9,374.4 268.1,362.0 268.2,366.7 268.3,365.4 268.4,366.4 268.6,363.3 268.7,361.4 268.8,363.5 268.9,362.9 269.1,369.8 269.2,365.1 269.3,371.5 269.4,362.0 269.6,358.3 269.7,363.0 269.8,363.7 269.9,373.4 270.1,360.6 270.2,368.3 270.3,363.7 270.4,362.6 270.6,369.0 270.7,362.9 270.8,373.0 270.9,368.4 271.1,369.1 271.2,365.3 271.3,368.0 271.4,370.5 271.6,363.7 271.7,366.7 271.8,363.8 271.9,366.4 272.1,368.7 272.2,360.9 272.3,368.8 272.4,366.5 272.6,372.6 272.7,364.9 272.8,368.4 272.9,369.1 273.1,374.7 273.2,370.4 273.3,376.7 273.4,374.0 273.6,366.9 273.7,365.3 273.8,369.6 273.9,372.9 274.1,369.7 274.2,366.2 274.3,372.1 274.4,368.9 274.6,366.6 274.7,370.8 274.8,368.9 274.9,363.1 275.1,368.8 275.2,370.9 275.3,365.8 275.4,363.0 275.6,371.3 275.7,372.7 275.8,367.7 275.9,369.2 276.1,365.4 276.2,368.6 276.3,362.9 276.4,367.1 276.6,369.4 276.7,366.1 276.8,368.2 276.9,369.1 277.1,374.1 277.2,367.1 277.3,363.8 277.4,366.5 277.6,366.7 277.7,371.5 277.8,374.7 277.9,364.9 278.1,370.2 278.2,371.5 278.3,368.3 278.4,368.5 278.6,365.5 278.7,373.1 278.8,370.5 278.9,363.3 279.1,367.8 279.2,361.3 279.3,367.4 279.4,368.7 279.6,356.9 279.7,362.4 279.8,362.3 279.9,371.0 280.1,364.4 280.2,364.4 280.3,360.8 280.4,361.5 280.6,363.2 280.7,361.0 280.8,362.4 280.9,359.4 281.1,354.9 281.2,360.8 281.3,359.9 281.4,353.9 281.6,358.1 281.7,365.4 281.8,377.7 281.9,374.5 282.1,374.2 282.2,353.8 282.3,361.7 282.4,366.4 282.6,358.8 282.7,362.6 282.8,357.5 282.9,362.9 283.1,361.6 283.2,356.5 283.3,367.0 283.4,363.3 283.6,365.3 283.7,357.5 283.8,367.9 283.9,362.8 284.1,368.6 284.2,361.9 284.3,371.4 284.4,366.0 284.6,368.1 284.7,366.4 284.8,362.3 284.9,368.5 285.1,374.3 285.2,374.8 285.3,368.9 285.4,375.6 285.6,370.3 285.7,366.4 285.8,370.8 285.9,371.6 286.1,375.6 286.2,363.3 286.3,376.6 286.4,375.4 286.6,374.6 286.7,367.0 286.8,366.5 286.9,376.6 287.1,371.6 287.2,376.8 287.3,368.5 287.4,375.8 287.6,375.3 287.7,368.1 287.8,372.2 287.9,380.3 288.1,370.3 288.2,377.5 288.3,373.0 288.4,369.1 288.6,370.4 288.7,368.2 288.8,378.7 288.9,365.4 289.1,366.3 289.2,370.5 289.3,373.8 289.4,364.3 289.6,365.5 289.7,367.4 289.8,366.5 289.9,367.5 290.1,364.4 290.2,366.4 290.3,369.0 290.4,361.3 290.6,359.3 290.7,362.4 290.8,365.6 290.9,375.1 291.1,368.0 291.2,366.5 291.3,352.9 291.4,356.8 291.6,366.4 291.7,361.5 291.8,360.8 291.9,366.6 292.1,368.0 292.2,365.5 292.3,364.0 292.4,356.3 292.6,362.7 292.7,367.1 292.8,363.3 292.9,358.6 293.1,355.4 293.2,364.0 293.3,368.2 293.4,363.8 293.6,366.6 293.7,369.8 293.8,366.9 293.9,369.2 294.1,367.9 294.2,368.2 294.3,373.6 294.4,374.6 294.6,372.1 294.7,367.9 294.8,375.6 294.9,377.5 295.1,377.5 295.2,377.7 295.3,375.2 295.4,374.4 295.6,377.5 295.7,377.9 295.8,377.9 295.9,372.2 296.1,368.4 296.2,377.0 296.3,376.9 296.4,376.6 296.6,377.6 296.7,369.6 296.8,373.2 296.9,378.1 297.1,373.7 297.2,374.9 297.3,381.1 297.5,378.3 297.6,373.4 297.7,376.4 297.8,372.4 298.0,376.9 298.1,370.0 298.2,368.7 298.3,381.0 298.5,379.0 298.6,371.7 298.7,377.1 298.8,365.9 299.0,375.5 299.1,379.8 299.2,378.5 299.3,376.4 299.5,375.7 299.6,377.1 299.7,384.4 299.8,374.8 300.0,377.6 300.1,379.8 300.2,373.6 300.3,382.9 300.5,369.6 300.6,376.1 300.7,375.3 300.8,376.7 301.0,371.9 301.1,375.3 301.2,377.9 301.3,373.5 301.5,380.1 301.6,369.0 301.7,375.9 301.8,382.7 302.0,372.8 302.1,376.7 302.2,374.9 302.3,374.0 302.5,378.5 302.6,370.8 302.7,377.7 302.8,370.2 303.0,374.5 303.1,378.4 303.2,373.1 303.3,375.5 303.5,384.1 303.6,376.1 303.7,376.7 303.8,378.3 304.0,378.1 304.1,376.0 304.2,375.2 304.3,377.3 304.5,377.8 304.6,381.7 304.7,376.9 304.8,379.7 305.0,384.1 305.1,370.0 305.2,375.3 305.3,374.8 305.5,374.8 305.6,380.3 305.7,373.2 305.8,374.4 306.0,379.4 306.1,364.0 306.2,366.6 306.3,366.3 306.5,370.2 306.6,371.5 306.7,365.6 306.8,373.9 307.0,374.5 307.1,365.1 307.2,366.0 307.3,364.3 307.5,370.9 307.6,367.0 307.7,372.7 307.8,373.7 308.0,369.9 308.1,367.0 308.2,361.0 308.3,372.4 308.5,373.5 308.6,372.0 308.7,368.9 308.8,376.5 309.0,372.4 309.1,375.4 309.2,375.9 309.3,376.7 309.5,375.4 309.6,366.7 309.7,374.2 309.8,372.3 310.0,370.6 310.1,369.2 310.2,369.0 310.3,370.9 310.5,371.7 310.6,373.2 310.7,365.8 310.8,369.7 311.0,375.9 311.1,377.6 311.2,372.3 311.3,371.6 311.5,380.8 311.6,369.6 311.7,377.6 311.8,376.8 312.0,375.0 312.1,377.7 312.2,376.2 312.3,373.1 312.5,376.5 312.6,383.5 312.7,374.6 312.8,378.0 313.0,381.6 313.1,370.8 313.2,374.4 313.3,371.0 313.5,375.4 313.6,373.1 313.7,379.8 313.8,374.3 314.0,378.1 314.1,376.3 314.2,377.3 314.3,372.0 314.5,379.2 314.6,375.1 314.7,374.5 314.8,372.1 315.0,376.7 315.1,372.6 315.2,371.3 315.3,373.5 315.5,364.5 315.6,377.2 315.7,370.4 315.8,375.4 316.0,366.4 316.1,362.8 316.2,366.5 316.3,371.1 316.5,374.0 316.6,374.0 316.7,372.5 316.8,364.7 317.0,365.2 317.1,368.3 317.2,369.3 317.3,362.5 317.5,362.3 317.6,360.8 317.7,370.5 317.8,362.4 318.0,367.3 318.1,366.7 318.2,368.5 318.3,361.0 318.5,367.5 318.6,371.1 318.7,370.3 318.8,366.8 319.0,371.5 319.1,369.8 319.2,367.8 319.3,369.5 319.5,378.0 319.6,367.3 319.7,363.1 319.8,371.6 320.0,371.8 320.1,370.5 320.2,367.8 320.3,371.9 320.5,375.3 320.6,373.0 320.7,359.0 320.8,363.4 321.0,359.1 321.1,357.8 321.2,372.9 321.3,368.9 321.5,362.7 321.6,361.7 321.7,370.0 321.8,364.1 322.0,366.4 322.1,361.0 322.2,360.5 322.3,362.8 322.5,364.4 322.6,367.1 322.7,361.6 322.8,366.3 323.0,361.3 323.1,359.5 323.2,361.1 323.3,360.8 323.5,357.9 323.6,355.6 323.7,365.0 323.8,364.1 324.0,366.5 324.1,357.9 324.2,363.1 324.3,359.6 324.5,370.5 324.6,372.4 324.7,368.7 324.8,372.1 325.0,361.3 325.1,366.6 325.2,368.2 325.3,369.6 325.5,367.8 325.6,370.0 325.7,368.2 325.8,365.7 326.0,371.4 326.1,364.5 326.2,368.6 326.3,367.7 326.5,360.8 326.6,363.0 326.7,372.5 326.8,364.4 327.0,366.7 327.1,362.2 327.2,368.1 327.3,364.2 327.5,367.7 327.6,367.4 327.7,360.8 327.8,364.1 328.0,366.7 328.1,360.3 328.2,364.5 328.3,370.6 328.5,366.9 328.6,360.4 328.7,366.2 328.8,368.1 329.0,362.8 329.1,363.2 329.2,367.8 329.3,363.2 329.5,367.3 329.6,370.3 329.7,360.9 329.8,368.1 330.0,371.5 330.1,361.6 330.2,366.7 330.3,370.0 330.5,367.2 330.6,370.3 330.7,365.9 330.8,370.6 331.0,368.1 331.1,374.3 331.2,372.1 331.3,372.6 331.5,376.3 331.6,374.4 331.7,370.6 331.8,372.1 332.0,370.3 332.1,375.0 332.2,377.8 332.3,380.1 332.5,375.6 332.6,369.3 332.7,374.8 332.8,367.6 333.0,365.9 333.1,366.9 333.2,371.9 333.3,363.7 333.5,371.6 333.6,368.6 333.7,375.1 333.8,368.2 334.0,366.3 334.1,363.3 334.2,364.0 334.3,367.7 334.5,361.2 334.6,356.2 334.7,364.1 334.8,365.5 335.0,365.1 335.1,364.7 335.2,362.8 335.3,360.4 335.5,372.0 335.6,369.4 335.7,368.2 335.8,365.2 336.0,364.2 336.1,366.5 336.2,370.1 336.3,368.3 336.5,368.1 336.6,370.7 336.7,366.2 336.8,365.7 337.0,367.9 337.1,368.9 337.2,376.8 337.3,379.0 337.5,366.4 337.6,367.7 337.7,370.9 337.8,363.6 338.0,368.9 338.1,376.5 338.2,368.5 338.3,371.5 338.5,375.5 338.6,378.1 338.7,370.2 338.8,370.7 339.0,371.6 339.1,373.7 339.2,363.1 339.3,370.6 339.5,367.4 339.6,369.7 339.7,370.6 339.8,358.7 340.0,371.3 340.1,367.3 340.2,365.3 340.3,368.3 340.5,368.0 340.6,373.7 340.7,368.4 340.8,368.5 341.0,366.1 341.1,367.7 341.2,361.5 341.3,367.8 341.5,365.7 341.6,368.1 341.7,368.4 341.8,359.6 342.0,366.8 342.1,367.9 342.2,369.2 342.3,357.7 342.5,366.9 342.6,360.2 342.7,362.7 342.8,366.8 343.0,367.8 343.1,366.1 343.2,364.6 343.3,364.5 343.5,369.2 343.6,369.7 343.7,367.2 343.8,360.2 344.0,358.3 344.1,361.1 344.2,365.4 344.3,370.3 344.5,365.9 344.6,365.5 344.7,367.0 344.8,366.7 345.0,366.0 345.1,364.9 345.2,365.3 345.3,367.5 345.5,368.4 345.6,366.4 345.7,372.1 345.8,364.9 346.0,371.2 346.1,367.0 346.2,372.4 346.3,366.4 346.5,370.6 346.6,374.6 346.7,374.2 346.8,368.0 347.0,369.1 347.1,367.0 347.2,370.2 347.3,365.5 347.5,369.9 347.6,368.1 347.7,370.7 347.8,378.6 348.0,370.3 348.1,370.3 348.2,373.5 348.3,368.5 348.5,366.9 348.6,372.6 348.7,356.1 348.8,363.7 349.0,363.0 349.1,372.4 349.2,368.4 349.3,367.7 349.5,365.2 349.6,366.2 349.7,369.8 349.8,357.5 350.0,360.2 350.1,365.0 350.2,359.8 350.3,365.8 350.5,365.7 350.6,366.8 350.7,356.0 350.8,362.9 351.0,366.2 351.1,360.5 351.2,366.0 351.3,361.1 351.5,357.8 351.6,369.0 351.7,357.2 351.8,363.4 352.0,362.7 352.1,361.1 352.2,361.4 352.3,357.3 352.5,365.3 352.6,352.3 352.7,372.0 352.8,363.4 353.0,358.9 353.1,366.8 353.2,368.9 353.3,370.2 353.5,364.5 353.6,365.7 353.7,367.5 353.8,374.9 354.0,381.6 354.1,380.1 354.2,371.1 354.3,367.3 354.5,365.5 354.6,363.3 354.7,361.2 354.8,363.3 355.0,366.7 355.1,366.4 355.2,360.1 355.3,365.1 355.5,362.9 355.6,364.8 355.7,366.2 355.8,365.4 356.0,367.2 356.1,366.4 356.2,367.0 356.3,363.5 356.5,357.8 356.6,356.0 356.7,364.3 356.8,364.4 357.0,359.8 357.1,360.8 357.2,358.2 357.3,372.0 357.5,358.8 357.6,359.9 357.7,370.7 357.8,372.2 358.0,366.9 358.1,371.2 358.2,371.6 358.3,367.2 358.5,379.5 358.6,371.4 358.7,370.7 358.8,368.7 359.0,370.0 359.1,364.1 359.2,366.9 359.3,367.2 359.5,367.4 359.6,364.2 359.7,366.0 359.8,362.8 360.0,369.9 360.1,359.8 360.2,358.5 360.3,363.7 360.5,366.6 360.6,361.8 360.7,364.3 360.8,364.4 361.0,365.9 361.1,370.8 361.2,361.4 361.3,363.2 361.5,366.5 361.6,365.7 361.7,368.7 361.8,374.3 362.0,370.7 362.1,366.7 362.2,371.6 362.3,371.0 362.5,376.5 362.6,364.8 362.7,369.6 362.8,372.0 363.0,370.8 363.1,368.0 363.2,364.0 363.3,362.5 363.5,361.5 363.6,365.5 363.7,366.0 363.8,362.4 364.0,360.6 364.1,363.2 364.2,356.2 364.3,371.2 364.5,358.8 364.6,362.6 364.7,361.6 364.8,361.6 365.0,363.0 365.1,357.9 365.2,369.8 365.3,363.8 365.5,357.3 365.6,369.2 365.7,366.8 365.8,364.3 366.0,366.0 366.1,362.4 366.2,374.3 366.3,367.3 366.5,365.1 366.6,361.5 366.7,364.1 366.8,361.0 367.0,367.8 367.1,366.6 367.2,365.3 367.3,367.8 367.5,370.1 367.6,368.8 367.7,366.7 367.8,371.3 368.0,368.1 368.1,369.6 368.2,367.9 368.3,366.8 368.5,375.6 368.6,364.7 368.7,360.6 368.8,361.6 369.0,363.0 369.1,374.4 369.2,378.4 369.3,358.8 369.5,369.9 369.6,365.8 369.7,373.4 369.8,367.2 370.0,363.2 370.1,369.0 370.2,366.0 370.3,365.9 370.5,358.6 370.6,367.0 370.7,367.0 370.8,366.8 371.0,366.0 371.1,369.2 371.2,367.4 371.3,363.5 371.5,370.5 371.6,364.1 371.7,371.4 371.8,371.6 372.0,378.5 372.1,375.7 372.2,377.0 372.3,376.7 372.5,371.5 372.6,376.3 372.7,376.7 372.8,368.7 373.0,371.2 373.1,378.8 373.2,379.2 373.3,379.6 373.5,377.1 373.6,363.7 373.7,368.1 373.8,364.1 374.0,364.7 374.1,372.7 374.2,367.9 374.3,366.7 374.5,366.2 374.6,366.6 374.7,364.9 374.8,364.2 375.0,372.9 375.1,368.9 375.2,362.3 375.3,366.8 375.5,368.8 375.6,365.6 375.7,370.6 375.8,366.4 376.0,369.7 376.1,370.6 376.2,370.9 376.3,374.4 376.5,382.2 376.6,383.5 376.7,380.8 376.8,371.5 377.0,361.5 377.1,372.8 377.2,361.3 377.3,363.2 377.5,376.0 377.6,369.0 377.7,376.2 377.8,368.5 378.0,368.2 378.1,360.1 378.2,369.0 378.3,372.1 378.5,371.2 378.6,380.0 378.7,374.0 378.8,373.1 379.0,375.5 379.1,373.5 379.2,374.1 379.3,369.2 379.5,364.9 379.6,371.4 379.7,370.9 379.8,373.6 380.0,375.8 380.1,372.8 380.2,367.8 380.3,373.9 380.5,376.5 380.6,368.7 380.7,376.4 380.8,370.2 381.0,370.8 381.1,378.3 381.2,372.2 381.3,376.0 381.5,375.2 381.6,373.1 381.7,378.9 381.8,373.9 382.0,375.0 382.1,372.1 382.2,363.0 382.3,361.6 382.5,367.2 382.6,368.7 382.7,374.1 382.8,370.8 383.0,364.7 383.1,366.1 383.2,366.4 383.4,367.0 383.5,366.5 383.6,361.8 383.7,367.3 383.9,366.9 384.0,368.9 384.1,371.9 384.2,369.2 384.4,371.2 384.5,366.0 384.6,357.9 384.7,370.0 384.9,363.4 385.0,363.0 385.1,362.9 385.2,362.1 385.4,367.6 385.5,363.3 385.6,361.3 385.7,362.3 385.9,365.1 386.0,361.4 386.1,363.6 386.2,368.8 386.4,363.4 386.5,364.8 386.6,366.4 386.7,356.5 386.9,369.5 387.0,370.8 387.1,357.2 387.2,363.9 387.4,366.6 387.5,363.7 387.6,366.8 387.7,363.7 387.9,363.9 388.0,367.4 388.1,365.2 388.2,367.5 388.4,362.8 388.5,363.9 388.6,364.1 388.7,366.6 388.9,369.6 389.0,364.8 389.1,364.5 389.2,363.2 389.4,370.4 389.5,366.5 389.6,364.6 389.7,369.1 389.9,368.2 390.0,372.1 390.1,370.1 390.2,371.0 390.4,367.7 390.5,367.5 390.6,376.6 390.7,370.8 390.9,367.2 391.0,375.4 391.1,374.8 391.2,374.2 391.4,371.7 391.5,375.0 391.6,375.6 391.7,367.8 391.9,376.4 392.0,370.5 392.1,383.2 392.2,379.6 392.4,373.5 392.5,374.8 392.6,375.8 392.7,374.3 392.9,375.1 393.0,372.4 393.1,383.4 393.2,378.5 393.4,376.0 393.5,381.1 393.6,374.7 393.7,388.4 393.9,372.6 394.0,382.2 394.1,370.3 394.2,371.7 394.4,372.5 394.5,379.4 394.6,371.4 394.7,374.6 394.9,362.7 395.0,365.2 395.1,371.6 395.2,369.0 395.4,374.8 395.5,370.2 395.6,373.5 395.7,369.4 395.9,365.1 396.0,374.4 396.1,363.8 396.2,362.6 396.4,369.9 396.5,365.8 396.6,365.9 396.7,365.4 396.9,371.4 397.0,362.3 397.1,361.2 397.2,366.2 397.4,361.3 397.5,367.6 397.6,369.4 397.7,373.2 397.9,365.3 398.0,362.3 398.1,365.0 398.2,372.5 398.4,370.4 398.5,380.6 398.6,373.3 398.7,375.1 398.9,379.0 399.0,366.5 399.1,364.7 399.2,367.9 399.4,368.3 399.5,368.3 399.6,366.1 399.7,367.7 399.9,366.8 400.0,363.0 400.1,368.4 400.2,369.8 400.4,370.9 400.5,362.3 400.6,361.6 400.7,360.8 400.9,362.2 401.0,358.6 401.1,364.4 401.2,373.9 401.4,364.5 401.5,366.2 401.6,362.6 401.7,365.5 401.9,365.0 402.0,367.3 402.1,366.5 402.2,361.5 402.4,370.0 402.5,372.0 402.6,363.5 402.7,364.7 402.9,364.3 403.0,367.3 403.1,371.5 403.2,363.2 403.4,362.1 403.5,375.8 403.6,368.7 403.7,369.5 403.9,362.4 404.0,368.6 404.1,370.1 404.2,365.1 404.4,361.2 404.5,376.2 404.6,367.9 404.7,363.0 404.9,364.7 405.0,367.9 405.1,363.9 405.2,364.3 405.4,365.6 405.5,370.5 405.6,371.7 405.7,370.4 405.9,367.7 406.0,373.4 406.1,371.5 406.2,365.7 406.4,372.0 406.5,371.4 406.6,367.8 406.7,369.5 406.9,365.6 407.0,368.1 407.1,369.2 407.2,371.0 407.4,372.8 407.5,372.6 407.6,370.2 407.7,368.2 407.9,366.2 408.0,369.8 408.1,373.1 408.2,372.1 408.4,361.9 408.5,370.1 408.6,367.9 408.7,370.6 408.9,370.2 409.0,374.2 409.1,374.7 409.2,372.3 409.4,370.6 409.5,365.4 409.6,375.7 409.7,371.4 409.9,375.1 410.0,370.5 410.1,375.3 410.2,379.0 410.4,375.4 410.5,372.6 410.6,377.4 410.7,374.3 410.9,368.8 411.0,377.9 411.1,370.3 411.2,372.5 411.4,380.2 411.5,379.4 411.6,373.2 411.7,370.8 411.9,372.3 412.0,375.5 412.1,368.9 412.2,373.2 412.4,363.0 412.5,373.7 412.6,364.9 412.7,365.7 412.9,372.0 413.0,371.6 413.1,368.3 413.2,366.5 413.4,375.5 413.5,362.9 413.6,369.8 413.7,369.0 413.9,370.7 414.0,367.9 414.1,369.9 414.2,369.7 414.4,367.0 414.5,370.1 414.6,370.7 414.7,370.5 414.9,373.8 415.0,367.5 415.1,373.0 415.2,369.9 415.4,368.7 415.5,376.0 415.6,372.3 415.7,364.7 415.9,370.0 416.0,370.7 416.1,374.9 416.2,367.4 416.4,366.6 416.5,366.9 416.6,371.5 416.7,362.8 416.9,362.5 417.0,361.8 417.1,365.1 417.2,368.3 417.4,363.7 417.5,372.9 417.6,368.6 417.7,363.5 417.9,363.0 418.0,363.2 418.1,365.5 418.2,357.6 418.4,368.0 418.5,369.3 418.6,358.6 418.7,358.6 418.9,363.4 419.0,364.4 419.1,364.2 419.2,360.6 419.4,364.9 419.5,362.3 419.6,363.7 419.7,369.1 419.9,361.6 420.0,370.0 420.1,363.5 420.2,363.7 420.4,365.0 420.5,368.2 420.6,374.0 420.7,371.4 420.9,375.1 421.0,379.9 421.1,368.3 421.2,368.9 421.4,371.4 421.5,364.1 421.6,375.4 421.7,370.0 421.9,372.5 422.0,369.6 422.1,371.9 422.2,363.6 422.4,376.8 422.5,368.2 422.6,367.7 422.7,375.7 422.9,370.5 423.0,372.2 423.1,368.7 423.2,376.9 423.4,368.7 423.5,363.9 423.6,368.2 423.7,363.7 423.9,367.4 424.0,366.4 424.1,368.8 424.2,368.0 424.4,367.3 424.5,369.7 424.6,367.4 424.7,360.8 424.9,363.8 425.0,362.8 425.1,375.8 425.2,369.6 425.4,367.1 425.5,361.6 425.6,366.7 425.7,373.7 425.9,367.3 426.0,364.8 426.1,371.2 426.2,365.7 426.4,370.1 426.5,369.0 426.6,367.3 426.7,376.4 426.9,362.7 427.0,373.6 427.1,371.2 427.2,371.5 427.4,369.6 427.5,376.2 427.6,371.3 427.7,355.8 427.9,371.3 428.0,368.7 428.1,371.6 428.2,371.9 428.4,366.6 428.5,367.8 428.6,368.1 428.7,369.7 428.9,371.9 429.0,375.1 429.1,370.0 429.2,368.2 429.4,376.0 429.5,370.3 429.6,374.7 429.7,369.4 429.9,373.4 430.0,370.1 430.1,370.2 430.2,373.0 430.4,373.9 430.5,375.4 430.6,373.8 430.7,369.8 430.9,370.1 431.0,365.1 431.1,368.0 431.2,369.9 431.4,377.6 431.5,371.3 431.6,377.5 431.7,370.3 431.9,375.0 432.0,373.6 432.1,373.0 432.2,369.6 432.4,372.5 432.5,376.9 432.6,372.1 432.7,367.9 432.9,367.3 433.0,370.9 433.1,368.7 433.2,369.1 433.4,369.0 433.5,375.2 433.6,371.3 433.7,367.8 433.9,366.7 434.0,368.5 434.1,377.5 434.2,368.2 434.4,359.5 434.5,367.5 434.6,370.3 434.7,365.7 434.9,369.0 435.0,378.2 435.1,378.6 435.2,381.3 435.4,372.6 435.5,373.1 435.6,369.8 435.7,368.4 435.9,375.9 436.0,374.5 436.1,368.0 436.2,371.1 436.4,365.5 436.5,373.0 436.6,362.6 436.7,373.9 436.9,365.9 437.0,377.2 437.1,375.1 437.2,369.5 437.4,369.5 437.5,366.3 437.6,366.9 437.7,366.7 437.9,367.2 438.0,372.6 438.1,368.1 438.2,373.1 438.4,368.4 438.5,370.3 438.6,370.9 438.7,369.8 438.9,365.1 439.0,373.1 439.1,364.9 439.2,371.4 439.4,371.0 439.5,368.4 439.6,369.5 439.7,370.7 439.9,377.2 440.0,370.1 440.1,366.5 440.2,373.0 440.4,373.5 440.5,368.8 440.6,372.1 440.7,373.4 440.9,359.5 441.0,370.1 441.1,364.8 441.2,363.4 441.4,364.2 441.5,365.3 441.6,361.6 441.7,363.4 441.9,360.3 442.0,365.9 442.1,366.3 442.2,363.2 442.4,365.0 442.5,371.7 442.6,362.2 442.7,371.4 442.9,371.4 443.0,369.5 443.1,372.2 443.2,362.2 443.4,375.3 443.5,365.9 443.6,375.1 443.7,375.4 443.9,368.5 444.0,373.5 444.1,373.0 444.2,371.7 444.4,370.8 444.5,372.1 444.6,364.7 444.7,363.5 444.9,374.7 445.0,364.9 445.1,365.3 445.2,371.3 445.4,367.7 445.5,367.9 445.6,368.8 445.7,374.9 445.9,371.1 446.0,369.2 446.1,377.1 446.2,370.5 446.4,369.2 446.5,372.2 446.6,367.3 446.7,363.7 446.9,365.2 447.0,366.7 447.1,374.3 447.2,372.5 447.4,359.3 447.5,362.0 447.6,366.9 447.7,367.4 447.9,366.8 448.0,364.8 448.1,370.7 448.2,367.4 448.4,362.4 448.5,366.4 448.6,369.4 448.7,370.1 448.9,365.9 449.0,363.5 449.1,375.0 449.2,366.5 449.4,369.0 449.5,365.8 449.6,377.8 449.7,374.7 449.9,366.6 450.0,371.6 450.1,367.5 450.2,371.1 450.4,369.7 450.5,369.7 450.6,374.1 450.7,362.8 450.9,367.6 451.0,361.8 451.1,367.9 451.2,360.7 451.4,371.1 451.5,365.4 451.6,355.1 451.7,362.5 451.9,355.5 452.0,361.8 452.1,360.0 452.2,354.1 452.4,358.9 452.5,360.2 452.6,363.0 452.7,355.2 452.9,363.7 453.0,359.9 453.1,356.4 453.2,360.6 453.4,357.3 453.5,359.4 453.6,363.7 453.7,364.6 453.9,363.7 454.0,356.0 454.1,359.2 454.2,362.3 454.4,361.4 454.5,361.7 454.6,359.5 454.7,356.3 454.9,358.6 455.0,352.5 455.1,362.2 455.2,365.7 455.4,359.4 455.5,367.4 455.6,364.5 455.7,360.0 455.9,364.6 456.0,365.7 456.1,364.6 456.2,362.3 456.4,364.6 456.5,363.0 456.6,366.6 456.7,361.1 456.9,363.9 457.0,361.9 457.1,366.3 457.2,369.4 457.4,360.2 457.5,362.5 457.6,360.7 457.7,364.6 457.9,367.8 458.0,371.4 458.1,363.9 458.2,368.3 458.4,366.3 458.5,367.0 458.6,363.2 458.7,362.4 458.9,367.6 459.0,369.4 459.1,365.9 459.2,370.7 459.4,365.9 459.5,372.0 459.6,371.4 459.7,369.3 459.9,369.1 460.0,373.2 460.1,373.6 460.2,371.4 460.4,368.6 460.5,376.5 460.6,375.0 460.7,366.0 460.9,369.8 461.0,374.0 461.1,374.2 461.2,367.4 461.4,371.4 461.5,371.7 461.6,380.5 461.7,371.3 461.9,373.2 462.0,370.4 462.1,375.7 462.2,371.6 462.4,374.1 462.5,364.8 462.6,374.3 462.7,374.9 462.9,375.3 463.0,365.8 463.1,371.2 463.2,375.8 463.4,372.4 463.5,371.5 463.6,370.8 463.7,370.4 463.9,370.9 464.0,374.0 464.1,381.0 464.2,381.4 464.4,381.3 464.5,379.9 464.6,377.6 464.7,372.1 464.9,377.3 465.0,362.5 465.1,370.2 465.2,370.9 465.4,366.9 465.5,369.3 465.6,372.5 465.7,375.9 465.9,366.9 466.0,375.9 466.1,372.6 466.2,374.8 466.4,372.1 466.5,368.9 466.6,378.7 466.7,366.1 466.9,371.1 467.0,365.7 467.1,370.6 467.2,366.7 467.4,371.8 467.5,377.1 467.6,371.3 467.7,371.6 467.9,364.4 468.0,364.1 468.1,361.7 468.2,365.1 468.4,364.6 468.5,370.8 468.6,372.8 468.7,365.9 468.9,367.5 469.0,363.3" fill="none" stroke="#000" stroke-width="1.4" stroke-linejoin="bevel"/>
<polyline points="999.7,380.9 999.8,379.1 1000.0,374.0 1000.1,363.1 1000.2,371.3 1000.3,370.2 1000.5,362.4 1000.6,370.9 1000.7,373.8 1000.8,372.6 1001.0,370.9 1001.1,356.7 1001.2,361.5 1001.3,367.8 1001.5,363.7 1001.6,359.5 1001.7,372.3 1001.8,375.5 1002.0,382.5 1002.1,366.8 1002.2,358.5 1002.3,375.7 1002.5,368.4 1002.6,368.7 1002.7,370.7 1002.8,367.0 1003.0,364.1 1003.1,365.0 1003.2,368.9 1003.3,366.4 1003.5,372.0 1003.6,360.1 1003.7,362.6 1003.8,365.8 1004.0,365.4 1004.1,370.6 1004.2,365.1 1004.3,369.1 1004.5,363.4 1004.6,362.6 1004.7,372.8 1004.8,371.4 1005.0,372.0 1005.1,372.9 1005.2,377.1 1005.3,371.7 1005.5,386.7 1005.6,367.8 1005.7,370.8 1005.8,371.9 1006.0,379.7 1006.1,362.0 1006.2,373.1 1006.3,380.4 1006.5,378.1 1006.6,373.4 1006.7,376.1 1006.8,375.1 1007.0,374.7 1007.1,371.5 1007.2,370.5 1007.3,369.9 1007.5,380.9 1007.6,369.4 1007.7,372.6 1007.8,368.5 1008.0,380.0 1008.1,375.9 1008.2,371.4 1008.3,366.4 1008.5,374.0 1008.6,373.3 1008.7,370.5 1008.8,372.2 1009.0,369.9 1009.1,370.8 1009.2,365.2 1009.3,367.1 1009.5,367.9 1009.6,372.7 1009.7,384.6 1009.8,367.6 1010.0,378.9 1010.1,375.0 1010.2,377.2 1010.3,378.0 1010.5,375.3 1010.6,370.6 1010.7,377.8 1010.8,375.4 1011.0,379.3 1011.1,363.5 1011.2,372.2 1011.3,375.0 1011.5,374.9 1011.6,375.3 1011.7,374.1 1011.8,376.8 1012.0,375.2 1012.1,383.5 1012.2,364.3 1012.3,365.9 1012.5,366.7 1012.6,369.0 1012.7,367.3 1012.8,366.3 1013.0,367.0 1013.1,373.2 1013.2,369.4 1013.3,366.5 1013.5,361.2 1013.6,369.1 1013.7,359.1 1013.8,373.0 1014.0,367.3 1014.1,376.0 1014.2,357.4 1014.3,372.6 1014.5,356.0 1014.6,375.8 1014.7,360.0 1014.8,364.2 1015.0,365.0 1015.1,376.1 1015.2,360.4 1015.3,376.8 1015.5,373.8 1015.6,368.5 1015.7,376.0 1015.8,373.4 1016.0,376.4 1016.1,374.1 1016.2,375.4 1016.3,369.6 1016.5,370.4 1016.6,371.4 1016.7,370.8 1016.8,381.7 1017.0,386.2 1017.1,375.2 1017.2,382.9 1017.3,366.5 1017.5,373.7 1017.6,375.2 1017.7,372.5 1017.8,377.0 1018.0,376.2 1018.1,376.2 1018.2,368.7 1018.3,384.0 1018.5,369.7 1018.6,372.1 1018.7,369.1 1018.8,374.2 1019.0,369.3 1019.1,365.2 1019.2,373.4 1019.3,374.9 1019.5,371.3 1019.6,365.2 1019.7,373.2 1019.8,368.2 1020.0,366.7 1020.1,367.1 1020.2,364.6 1020.3,359.8 1020.5,373.3 1020.6,372.1 1020.7,363.7 1020.8,378.0 1021.0,376.2 1021.1,373.8 1021.2,378.7 1021.3,371.2 1021.5,372.6 1021.6,372.4 1021.7,372.6 1021.8,377.0 1022.0,373.2 1022.1,381.5 1022.2,382.3 1022.3,383.8 1022.5,374.9 1022.6,377.5 1022.7,381.1 1022.8,373.6 1023.0,382.1 1023.1,379.5 1023.2,388.4 1023.3,371.8 1023.5,379.1 1023.6,376.0 1023.7,365.9 1023.8,362.2 1024.0,369.9 1024.1,371.6 1024.2,366.6 1024.3,358.9 1024.5,372.1 1024.6,370.6 1024.7,370.7 1024.8,376.2 1025.0,381.5 1025.1,372.3 1025.2,375.3 1025.3,374.5 1025.5,373.3 1025.6,378.4 1025.7,374.6 1025.8,376.3 1026.0,383.3 1026.1,383.6 1026.2,361.1 1026.3,380.8 1026.5,372.1 1026.6,366.5 1026.7,369.3 1026.8,355.1 1027.0,364.3 1027.1,379.7 1027.2,371.7 1027.3,367.0 1027.5,377.4 1027.6,362.1 1027.7,372.5 1027.8,364.4 1028.0,376.0 1028.1,373.7 1028.2,380.9 1028.3,371.0 1028.5,378.0 1028.6,384.5 1028.7,383.6 1028.8,371.5 1029.0,379.0 1029.1,378.1 1029.2,373.9 1029.3,376.6 1029.5,371.0 1029.6,371.7 1029.7,375.4 1029.8,376.5 1030.0,372.5 1030.1,377.7 1030.2,373.4 1030.3,384.5 1030.5,367.4 1030.6,381.5 1030.7,377.0 1030.8,363.0 1031.0,376.8 1031.1,374.3 1031.2,372.2 1031.3,368.5 1031.5,368.6 1031.6,374.6 1031.7,377.5 1031.8,373.4 1032.0,363.9 1032.1,368.6 1032.2,357.4 1032.3,369.7 1032.5,372.6 1032.6,361.9 1032.7,371.9 1032.8,367.1 1033.0,367.9 1033.1,365.0 1033.2,374.5 1033.3,373.2 1033.5,368.9 1033.6,372.6 1033.7,359.1 1033.8,366.9 1034.0,356.2 1034.1,365.9 1034.2,377.7 1034.3,362.8 1034.5,360.5 1034.6,367.3 1034.7,359.4 1034.8,361.4 1035.0,362.8 1035.1,360.6 1035.2,365.0 1035.3,367.1 1035.5,358.2 1035.6,368.6 1035.7,359.7 1035.8,377.5 1036.0,357.2 1036.1,374.4 1036.2,364.7 1036.3,372.5 1036.5,363.8 1036.6,372.9 1036.7,375.9 1036.8,366.1 1037.0,359.7 1037.1,372.1 1037.2,361.7 1037.3,364.2 1037.5,367.2 1037.6,365.0 1037.7,356.6 1037.8,361.1 1038.0,365.7 1038.1,371.7 1038.2,364.9 1038.3,366.5 1038.5,376.5 1038.6,380.7 1038.7,370.1 1038.8,361.0 1039.0,373.9 1039.1,370.7 1039.2,371.0 1039.3,374.5 1039.5,367.0 1039.6,379.5 1039.7,363.4 1039.8,360.4 1040.0,368.6 1040.1,359.9 1040.2,362.7 1040.3,355.7 1040.5,371.3 1040.6,368.2 1040.7,364.6 1040.8,361.5 1041.0,355.2 1041.1,355.8 1041.2,366.9 1041.3,374.1 1041.5,372.9 1041.6,356.2 1041.7,362.1 1041.8,385.8 1042.0,372.4 1042.1,375.0 1042.2,374.9 1042.3,382.9 1042.5,373.6 1042.6,376.0 1042.7,378.8 1042.8,378.3 1043.0,382.3 1043.1,378.8 1043.2,380.1 1043.3,372.3 1043.5,375.5 1043.6,375.7 1043.7,380.5 1043.8,380.3 1044.0,375.7 1044.1,373.5 1044.2,364.5 1044.3,365.6 1044.5,371.4 1044.6,376.5 1044.7,370.8 1044.8,362.8 1045.0,363.7 1045.1,362.1 1045.2,366.4 1045.3,365.8 1045.5,376.3 1045.6,370.1 1045.7,365.9 1045.8,369.0 1046.0,360.8 1046.1,355.8 1046.2,369.3 1046.3,372.2 1046.5,368.8 1046.6,362.0 1046.7,360.6 1046.8,373.2 1047.0,365.4 1047.1,370.8 1047.2,354.9 1047.3,362.4 1047.5,360.6 1047.6,362.7 1047.7,368.4 1047.8,379.6 1048.0,359.2 1048.1,366.4 1048.2,370.1 1048.3,365.9 1048.5,366.8 1048.6,359.4 1048.7,365.0 1048.8,379.7 1049.0,360.7 1049.1,363.8 1049.2,367.9 1049.3,365.9 1049.5,368.8 1049.6,365.4 1049.7,365.6 1049.8,360.4 1050.0,357.4 1050.1,363.0 1050.2,374.7 1050.3,366.1 1050.5,363.0 1050.6,370.6 1050.7,361.4 1050.8,365.1 1051.0,380.9 1051.1,367.0 1051.2,364.2 1051.3,367.5 1051.5,376.6 1051.6,367.5 1051.7,362.7 1051.8,362.0 1052.0,366.6 1052.1,367.4 1052.2,355.9 1052.3,357.7 1052.5,363.6 1052.6,350.2 1052.7,356.3 1052.8,371.4 1053.0,367.2 1053.1,368.2 1053.2,369.4 1053.3,381.1 1053.5,372.5 1053.6,365.2 1053.7,374.4 1053.8,379.4 1054.0,365.9 1054.1,380.2 1054.2,377.7 1054.3,366.6 1054.5,365.7 1054.6,366.1 1054.7,366.5 1054.8,367.0 1055.0,370.8 1055.1,363.8 1055.2,371.2 1055.3,366.2 1055.5,361.1 1055.6,371.7 1055.7,373.5 1055.8,374.7 1056.0,364.7 1056.1,371.6 1056.2,367.8 1056.3,369.3 1056.5,375.6 1056.6,364.1 1056.7,369.5 1056.8,368.2 1057.0,377.4 1057.1,373.1 1057.2,369.8 1057.3,367.1 1057.5,373.4 1057.6,367.8 1057.7,374.7 1057.8,364.7 1058.0,367.7 1058.1,367.2 1058.2,367.9 1058.3,370.2 1058.5,375.8 1058.6,380.1 1058.7,368.8 1058.8,369.5 1059.0,369.4 1059.1,367.8 1059.2,378.2 1059.3,374.7 1059.5,365.2 1059.6,371.2 1059.7,361.4 1059.8,375.5 1060.0,362.2 1060.1,356.9 1060.2,361.9 1060.3,361.7 1060.5,366.1 1060.6,359.4 1060.7,355.9 1060.8,374.5 1061.0,361.5 1061.1,361.8 1061.2,359.6 1061.3,367.6 1061.5,370.6 1061.6,372.5 1061.7,371.9 1061.8,385.1 1062.0,366.5 1062.1,371.5 1062.2,361.8 1062.3,369.6 1062.5,366.8 1062.6,371.5 1062.7,367.0 1062.8,358.1 1063.0,374.3 1063.1,363.1 1063.2,380.6 1063.3,374.9 1063.5,366.1 1063.6,382.1 1063.7,377.2 1063.8,369.7 1064.0,381.2 1064.1,366.1 1064.2,362.7 1064.3,362.3 1064.5,378.4 1064.6,377.9 1064.7,371.7 1064.8,379.2 1065.0,371.6 1065.1,370.3 1065.2,377.1 1065.3,372.7 1065.5,371.6 1065.6,384.3 1065.7,379.5 1065.8,373.9 1066.0,380.2 1066.1,382.4 1066.2,374.3 1066.3,388.1 1066.5,387.5 1066.6,388.0 1066.7,383.3 1066.8,373.4 1067.0,364.2 1067.1,370.6 1067.2,369.2 1067.3,361.9 1067.5,372.4 1067.6,365.5 1067.7,370.6 1067.8,367.2 1068.0,366.6 1068.1,368.0 1068.2,376.9 1068.3,378.3 1068.5,379.8 1068.6,376.3 1068.7,371.2 1068.8,367.7 1069.0,377.5 1069.1,379.1 1069.2,374.0 1069.3,374.1 1069.5,368.9 1069.6,368.2 1069.7,382.0 1069.8,374.9 1070.0,376.8 1070.1,385.5 1070.2,370.0 1070.3,376.8 1070.5,385.0 1070.6,382.5 1070.7,381.1 1070.9,379.1 1071.0,383.3 1071.1,381.6 1071.2,373.6 1071.4,381.2 1071.5,376.3 1071.6,370.1 1071.7,372.3 1071.9,369.5 1072.0,368.0 1072.1,373.9 1072.2,363.5 1072.4,380.7 1072.5,373.8 1072.6,372.4 1072.7,381.8 1072.9,369.9 1073.0,369.8 1073.1,381.5 1073.2,369.8 1073.4,375.5 1073.5,374.9 1073.6,375.6 1073.7,379.0 1073.9,370.0 1074.0,367.0 1074.1,360.2 1074.2,367.9 1074.4,364.4 1074.5,372.9 1074.6,372.3 1074.7,368.5 1074.9,375.1 1075.0,380.4 1075.1,365.8 1075.2,371.8 1075.4,368.7 1075.5,369.7 1075.6,364.5 1075.7,361.3 1075.9,375.7 1076.0,367.3 1076.1,358.9 1076.2,365.5 1076.4,357.5 1076.5,363.0 1076.6,367.2 1076.7,375.5 1076.9,364.0 1077.0,370.1 1077.1,357.5 1077.2,370.5 1077.4,364.3 1077.5,368.6 1077.6,362.8 1077.7,364.8 1077.9,376.4 1078.0,370.1 1078.1,370.9 1078.2,362.8 1078.4,360.0 1078.5,371.1 1078.6,360.1 1078.7,366.6 1078.9,374.3 1079.0,371.8 1079.1,372.4 1079.2,371.9 1079.4,363.3 1079.5,376.1 1079.6,381.5 1079.7,371.1 1079.9,372.3 1080.0,382.6 1080.1,374.4 1080.2,380.1 1080.4,381.4 1080.5,375.5 1080.6,374.5 1080.7,367.8 1080.9,369.8 1081.0,370.6 1081.1,363.7 1081.2,370.4 1081.4,379.4 1081.5,377.3 1081.6,374.6 1081.7,366.8 1081.9,363.5 1082.0,375.7 1082.1,380.1 1082.2,382.9 1082.4,370.4 1082.5,380.0 1082.6,384.7 1082.7,377.5 1082.9,374.6 1083.0,373.6 1083.1,375.3 1083.2,383.1 1083.4,367.9 1083.5,379.1 1083.6,372.3 1083.7,387.5 1083.9,381.1 1084.0,376.6 1084.1,380.9 1084.2,372.6 1084.4,370.9 1084.5,369.2 1084.6,373.8 1084.7,370.5 1084.9,364.0 1085.0,373.0 1085.1,368.6 1085.2,362.8 1085.4,371.8 1085.5,362.8 1085.6,367.8 1085.7,365.1 1085.9,367.9 1086.0,379.2 1086.1,379.1 1086.2,383.5 1086.4,375.6 1086.5,364.7 1086.6,374.0 1086.7,364.7 1086.9,366.1 1087.0,369.9 1087.1,371.3 1087.2,375.3 1087.4,363.5 1087.5,365.4 1087.6,368.1 1087.7,373.2 1087.9,367.9 1088.0,373.2 1088.1,371.8 1088.2,364.6 1088.4,369.7 1088.5,363.0 1088.6,364.5 1088.7,371.2 1088.9,367.5 1089.0,359.9 1089.1,366.8 1089.2,364.6 1089.4,364.9 1089.5,367.3 1089.6,376.3 1089.7,370.0 1089.9,373.5 1090.0,368.1 1090.1,368.5 1090.2,362.7 1090.4,368.9 1090.5,365.4 1090.6,369.3 1090.7,372.8 1090.9,369.8 1091.0,358.7 1091.1,367.9 1091.2,360.0 1091.4,378.3 1091.5,358.1 1091.6,375.2 1091.7,365.0 1091.9,368.1 1092.0,367.3 1092.1,377.8 1092.2,364.9 1092.4,373.4 1092.5,381.1 1092.6,361.9 1092.7,368.3 1092.9,366.4 1093.0,360.4 1093.1,360.5 1093.2,356.5 1093.4,366.4 1093.5,366.5 1093.6,368.0 1093.7,373.7 1093.9,361.1 1094.0,359.9 1094.1,372.0 1094.2,371.9 1094.4,375.3 1094.5,373.4 1094.6,364.0 1094.7,374.1 1094.9,367.9 1095.0,373.5 1095.1,375.0 1095.2,367.4 1095.4,366.8 1095.5,367.7 1095.6,368.7 1095.7,364.4 1095.9,360.8 1096.0,365.3 1096.1,367.6 1096.2,365.8 1096.4,367.1 1096.5,379.5 1096.6,353.1 1096.7,368.8 1096.9,379.5 1097.0,360.7 1097.1,375.8 1097.2,364.8 1097.4,376.4 1097.5,361.2 1097.6,370.5 1097.7,370.0 1097.9,364.6 1098.0,356.1 1098.1,362.7 1098.2,364.9 1098.4,360.1 1098.5,358.5 1098.6,359.4 1098.7,374.1 1098.9,362.2 1099.0,371.8 1099.1,376.4 1099.2,376.5 1099.4,373.7 1099.5,371.6 1099.6,376.5 1099.7,368.1 1099.9,374.5 1100.0,376.8 1100.1,371.8 1100.2,370.8 1100.4,376.1 1100.5,370.4 1100.6,369.9 1100.7,369.0 1100.9,360.0 1101.0,372.1 1101.1,377.8 1101.2,370.0 1101.4,364.9 1101.5,362.9 1101.6,376.1 1101.7,362.4 1101.9,373.3 1102.0,369.6 1102.1,376.2 1102.2,376.1 1102.4,372.0 1102.5,366.2 1102.6,366.7 1102.7,372.0 1102.9,367.1 1103.0,364.5 1103.1,368.2 1103.2,358.0 1103.4,379.1 1103.5,373.4 1103.6,359.4 1103.7,374.0 1103.9,372.4 1104.0,365.5 1104.1,377.0 1104.2,373.4 1104.4,377.7 1104.5,382.4 1104.6,373.9 1104.7,370.6 1104.9,386.6 1105.0,375.5 1105.1,353.0 1105.2,381.8 1105.4,378.8 1105.5,379.1 1105.6,376.0 1105.7,373.1 1105.9,376.3 1106.0,379.1 1106.1,366.8 1106.2,371.5 1106.4,375.2 1106.5,372.6 1106.6,373.5 1106.7,372.0 1106.9,373.7 1107.0,362.7 1107.1,381.2 1107.2,369.9 1107.4,365.2 1107.5,365.5 1107.6,369.5 1107.7,354.7 1107.9,374.1 1108.0,378.7 1108.1,376.9 1108.2,377.7 1108.4,376.9 1108.5,371.9 1108.6,371.0 1108.7,372.1 1108.9,370.0 1109.0,367.8 1109.1,377.8 1109.2,364.7 1109.4,376.0 1109.5,371.7 1109.6,373.5 1109.7,361.0 1109.9,358.5 1110.0,369.3 1110.1,369.6 1110.2,369.1 1110.4,376.4 1110.5,363.4 1110.6,361.6 1110.7,366.0 1110.9,367.3 1111.0,362.9 1111.1,374.6 1111.2,363.2 1111.4,369.9 1111.5,371.3 1111.6,374.4 1111.7,365.9 1111.9,370.2 1112.0,370.2 1112.1,366.3 1112.2,384.7 1112.4,370.0 1112.5,367.1 1112.6,361.8 1112.7,379.4 1112.9,372.1 1113.0,367.3 1113.1,363.0 1113.2,362.2 1113.4,371.1 1113.5,379.0 1113.6,368.7 1113.7,370.2 1113.9,367.6 1114.0,366.8 1114.1,361.7 1114.2,363.8 1114.4,365.5 1114.5,378.4 1114.6,368.8 1114.7,367.2 1114.9,355.3 1115.0,364.1 1115.1,357.0 1115.2,364.1 1115.4,370.2 1115.5,361.4 1115.6,368.8 1115.7,367.9 1115.9,361.2 1116.0,363.0 1116.1,377.7 1116.2,366.3 1116.4,377.9 1116.5,378.5 1116.6,372.2 1116.7,377.5 1116.9,373.2 1117.0,386.2 1117.1,371.3 1117.2,379.5 1117.4,369.6 1117.5,372.9 1117.6,376.8 1117.7,382.1 1117.9,373.7 1118.0,371.1 1118.1,368.9 1118.2,376.2 1118.4,377.6 1118.5,367.9 1118.6,374.2 1118.7,369.6 1118.9,374.5 1119.0,368.9 1119.1,370.1 1119.2,377.6 1119.4,368.3 1119.5,365.2 1119.6,365.3 1119.7,364.9 1119.9,373.9 1120.0,366.7 1120.1,361.5 1120.2,364.7 1120.4,376.8 1120.5,366.6 1120.6,375.3 1120.7,369.6 1120.9,380.9 1121.0,374.4 1121.1,374.5 1121.2,368.5 1121.4,378.1 1121.5,376.2 1121.6,364.0 1121.7,372.2 1121.9,362.9 1122.0,361.1 1122.1,370.5 1122.2,372.6 1122.4,371.3 1122.5,372.8 1122.6,371.7 1122.7,378.2 1122.9,372.4 1123.0,379.9 1123.1,364.8 1123.2,366.8 1123.4,356.0 1123.5,370.8 1123.6,372.3 1123.7,373.9 1123.9,374.3 1124.0,367.2 1124.1,369.4 1124.2,366.0 1124.4,372.9 1124.5,372.2 1124.6,380.1 1124.7,373.9 1124.9,373.2 1125.0,368.0 1125.1,373.1 1125.2,375.7 1125.4,370.1 1125.5,371.7 1125.6,376.4 1125.7,372.9 1125.9,364.9 1126.0,366.8 1126.1,360.2 1126.2,360.3 1126.4,367.4 1126.5,357.4 1126.6,357.7 1126.7,355.3 1126.9,355.6 1127.0,365.9 1127.1,369.5 1127.2,372.8 1127.4,364.2 1127.5,366.6 1127.6,372.8 1127.7,368.0 1127.9,362.8 1128.0,365.9 1128.1,377.0 1128.2,366.5 1128.4,370.5 1128.5,369.0 1128.6,376.2 1128.7,378.0 1128.9,376.3 1129.0,367.4 1129.1,368.0 1129.2,365.8 1129.4,362.6 1129.5,368.5 1129.6,368.2 1129.7,374.1 1129.9,367.2 1130.0,362.8 1130.1,375.1 1130.2,359.2 1130.4,372.1 1130.5,369.7 1130.6,371.9 1130.7,373.4 1130.9,361.8 1131.0,369.1 1131.1,369.0 1131.2,368.3 1131.4,380.2 1131.5,371.3 1131.6,367.1 1131.7,376.3 1131.9,373.8 1132.0,363.6 1132.1,364.6 1132.2,362.7 1132.4,362.0 1132.5,366.4 1132.6,373.3 1132.7,374.9 1132.9,375.3 1133.0,366.7 1133.1,367.3 1133.2,375.9 1133.4,374.0 1133.5,365.3 1133.6,368.3 1133.7,365.6 1133.9,388.1 1134.0,371.2 1134.1,375.9 1134.2,377.1 1134.4,377.2 1134.5,367.9 1134.6,379.1 1134.7,373.2 1134.9,364.3 1135.0,358.5 1135.1,362.7 1135.2,371.1 1135.4,373.1 1135.5,369.9 1135.6,373.9 1135.7,371.9 1135.9,371.2 1136.0,377.2 1136.1,370.7 1136.2,380.4 1136.4,379.6 1136.5,377.2 1136.6,391.0 1136.7,393.3 1136.9,375.5 1137.0,369.0 1137.1,370.3 1137.2,370.4 1137.4,363.0 1137.5,381.5 1137.6,375.6 1137.7,372.1 1137.9,377.3 1138.0,360.9 1138.1,367.6 1138.2,382.5 1138.4,374.9 1138.5,375.3 1138.6,372.5 1138.7,365.7 1138.9,359.0 1139.0,371.2 1139.1,357.5 1139.2,367.4 1139.4,370.5 1139.5,359.2 1139.6,356.1 1139.7,365.6 1139.9,363.9 1140.0,365.6 1140.1,364.2 1140.2,362.6 1140.4,367.0 1140.5,367.8 1140.6,383.3 1140.7,377.0 1140.9,370.4 1141.0,363.7 1141.1,369.3 1141.2,370.1 1141.4,376.8 1141.5,367.0 1141.6,373.5 1141.8,351.5 1141.9,368.0 1142.0,374.6 1142.1,371.7 1142.3,380.4 1142.4,367.4 1142.5,375.1 1142.6,376.6 1142.8,384.5 1142.9,378.6 1143.0,374.8 1143.1,370.2 1143.3,367.8 1143.4,375.1 1143.5,376.8 1143.6,371.4 1143.8,376.1 1143.9,373.8 1144.0,369.7 1144.1,376.7 1144.3,375.7 1144.4,370.8 1144.5,374.6 1144.6,395.3 1144.8,379.9 1144.9,383.2 1145.0,375.2 1145.1,383.6 1145.3,376.9 1145.4,381.3 1145.5,372.3 1145.6,366.0 1145.8,369.8 1145.9,373.9 1146.0,369.8 1146.1,369.7 1146.3,368.9 1146.4,375.5 1146.5,376.8 1146.6,373.2 1146.8,387.6 1146.9,378.2 1147.0,372.9 1147.1,388.0 1147.3,379.3 1147.4,368.6 1147.5,377.8 1147.6,376.3 1147.8,384.9 1147.9,376.5 1148.0,373.0 1148.1,368.7 1148.3,368.0 1148.4,372.4 1148.5,369.6 1148.6,364.7 1148.8,376.1 1148.9,378.3 1149.0,369.3 1149.1,368.2 1149.3,365.1 1149.4,366.2 1149.5,369.7 1149.6,368.8 1149.8,357.2 1149.9,362.8 1150.0,357.7 1150.1,352.6 1150.3,358.8 1150.4,373.7 1150.5,361.6 1150.6,366.7 1150.8,369.8 1150.9,381.0 1151.0,370.6 1151.1,376.0 1151.3,373.0 1151.4,370.1 1151.5,373.4 1151.6,372.5 1151.8,379.6 1151.9,357.8 1152.0,381.3 1152.1,366.2 1152.3,369.7 1152.4,368.3 1152.5,369.4 1152.6,375.6 1152.8,366.0 1152.9,367.9 1153.0,363.2 1153.1,363.0 1153.3,375.1 1153.4,367.4 1153.5,364.5 1153.6,371.7 1153.8,375.4 1153.9,372.4 1154.0,373.3 1154.1,380.6 1154.3,382.2 1154.4,375.4 1154.5,382.4 1154.6,375.5 1154.8,368.3 1154.9,374.5 1155.0,377.6 1155.1,374.0 1155.3,364.1 1155.4,366.3 1155.5,381.5 1155.6,381.7 1155.8,380.9 1155.9,386.7 1156.0,380.3 1156.1,374.6 1156.3,370.6 1156.4,362.2 1156.5,365.0 1156.6,377.2 1156.8,364.1 1156.9,364.8 1157.0,367.9 1157.1,369.4 1157.3,372.8 1157.4,380.5 1157.5,367.7 1157.6,360.8 1157.8,363.6 1157.9,370.4 1158.0,370.5 1158.1,374.3 1158.3,373.8 1158.4,375.2 1158.5,375.3 1158.6,372.6 1158.8,370.9 1158.9,377.1 1159.0,369.9 1159.1,378.4 1159.3,369.9 1159.4,385.7 1159.5,383.7 1159.6,375.9 1159.8,380.7 1159.9,377.7 1160.0,375.4 1160.1,373.9 1160.3,369.8 1160.4,373.7 1160.5,365.5 1160.6,368.3 1160.8,369.3 1160.9,369.5 1161.0,366.4 1161.1,364.9 1161.3,357.3 1161.4,371.8 1161.5,368.9 1161.6,371.7 1161.8,373.1 1161.9,370.6 1162.0,373.0 1162.1,370.6 1162.3,373.6 1162.4,362.1 1162.5,373.3 1162.6,380.6 1162.8,367.1 1162.9,363.9 1163.0,367.6 1163.1,380.9 1163.3,378.8 1163.4,381.1 1163.5,373.4 1163.6,373.2 1163.8,378.3 1163.9,368.5 1164.0,368.9 1164.1,369.5 1164.3,370.8 1164.4,365.1 1164.5,380.3 1164.6,371.8 1164.8,372.7 1164.9,377.8 1165.0,370.8 1165.1,373.6 1165.3,369.0 1165.4,371.5 1165.5,378.2 1165.6,366.2 1165.8,373.6 1165.9,373.1 1166.0,368.1 1166.1,360.8 1166.3,366.6 1166.4,366.3 1166.5,366.3 1166.6,370.8 1166.8,366.1 1166.9,361.7 1167.0,357.0 1167.1,358.9 1167.3,365.4 1167.4,361.1 1167.5,362.0 1167.6,361.4 1167.8,365.3 1167.9,364.1 1168.0,375.2 1168.1,357.5 1168.3,359.7 1168.4,360.3 1168.5,366.4 1168.6,373.0 1168.8,378.2 1168.9,372.9 1169.0,370.6 1169.1,370.5 1169.3,369.4 1169.4,364.4 1169.5,364.7 1169.6,372.5 1169.8,365.4 1169.9,369.6 1170.0,365.2 1170.1,360.2 1170.3,363.5 1170.4,374.4 1170.5,378.4 1170.6,364.9 1170.8,373.0 1170.9,373.3 1171.0,367.4 1171.1,373.5 1171.3,379.2 1171.4,365.7 1171.5,367.4 1171.6,379.4 1171.8,366.0 1171.9,367.4 1172.0,371.0 1172.1,371.0 1172.3,365.3 1172.4,363.8 1172.5,365.0 1172.6,368.8 1172.8,357.7 1172.9,366.6 1173.0,372.8 1173.1,372.9 1173.3,363.0 1173.4,374.6 1173.5,379.7 1173.6,369.0 1173.8,378.2 1173.9,364.2 1174.0,366.8 1174.1,366.4 1174.3,369.3 1174.4,371.8 1174.5,370.4 1174.6,376.4 1174.8,376.4 1174.9,374.4 1175.0,368.4 1175.1,369.7 1175.3,374.4 1175.4,371.9 1175.5,384.8 1175.6,370.7 1175.8,367.2 1175.9,364.8 1176.0,372.4 1176.1,373.4 1176.3,371.7 1176.4,365.9 1176.5,365.6 1176.6,372.0 1176.8,385.8 1176.9,372.3 1177.0,375.6 1177.1,376.1 1177.3,369.2 1177.4,373.2 1177.5,366.9 1177.6,365.3 1177.8,372.4 1177.9,374.8 1178.0,374.3 1178.1,373.9 1178.3,370.3 1178.4,377.2 1178.5,382.9 1178.6,371.0 1178.8,361.0 1178.9,375.7 1179.0,375.7 1179.1,382.2 1179.3,360.2 1179.4,381.6 1179.5,389.9 1179.6,370.2 1179.8,376.1 1179.9,365.7 1180.0,382.3 1180.1,370.7 1180.3,378.0 1180.4,385.9 1180.5,365.1 1180.6,376.0 1180.8,374.4 1180.9,378.2 1181.0,373.7 1181.1,360.7 1181.3,371.1 1181.4,367.7 1181.5,374.5 1181.6,374.6 1181.8,362.4 1181.9,372.2 1182.0,363.4 1182.1,375.3 1182.3,386.9 1182.4,372.3 1182.5,372.0 1182.6,378.3 1182.8,370.0 1182.9,372.3 1183.0,367.4 1183.1,365.5 1183.3,364.2 1183.4,371.9 1183.5,369.7 1183.6,370.5 1183.8,367.2 1183.9,368.2 1184.0,360.8 1184.1,369.1 1184.3,378.7 1184.4,364.3 1184.5,362.5 1184.6,375.3 1184.8,372.5 1184.9,372.2 1185.0,364.2 1185.1,367.7 1185.3,369.7 1185.4,361.0 1185.5,375.4 1185.6,368.2 1185.8,362.6 1185.9,369.4 1186.0,370.6 1186.1,377.2 1186.3,370.3 1186.4,378.0 1186.5,373.3 1186.6,375.3 1186.8,369.5 1186.9,361.0 1187.0,372.5 1187.1,382.4 1187.3,369.6 1187.4,374.2 1187.5,370.7 1187.6,377.8 1187.8,378.3 1187.9,367.7 1188.0,376.6 1188.1,377.1 1188.3,380.4 1188.4,384.9 1188.5,380.8 1188.6,383.8 1188.8,376.6 1188.9,379.6 1189.0,369.9 1189.1,368.7 1189.3,380.9 1189.4,369.7 1189.5,367.3 1189.6,361.6 1189.8,372.2 1189.9,374.9 1190.0,367.8 1190.1,366.2 1190.3,372.8 1190.4,376.9 1190.5,374.3 1190.6,377.3 1190.8,370.9 1190.9,371.0 1191.0,379.1 1191.1,390.5 1191.3,373.1 1191.4,373.3 1191.5,374.8 1191.6,376.0 1191.8,384.6 1191.9,370.8 1192.0,372.0 1192.1,376.6 1192.3,370.1 1192.4,377.5 1192.5,371.6 1192.6,369.7 1192.8,364.0 1192.9,371.0 1193.0,367.1 1193.1,366.9 1193.3,364.7 1193.4,375.4 1193.5,375.4 1193.6,372.3 1193.8,370.7 1193.9,373.7 1194.0,371.5 1194.1,368.4 1194.3,378.7 1194.4,373.0 1194.5,372.9 1194.6,373.4 1194.8,374.8 1194.9,376.6 1195.0,375.4 1195.1,356.2 1195.3,366.6 1195.4,369.5 1195.5,374.4 1195.6,365.1 1195.8,379.4 1195.9,377.3 1196.0,363.4 1196.1,376.1 1196.3,374.5 1196.4,365.8 1196.5,375.2 1196.6,367.5 1196.8,379.6 1196.9,358.8 1197.0,375.7 1197.1,373.7 1197.3,361.4 1197.4,383.6 1197.5,367.1 1197.6,358.0 1197.8,377.7 1197.9,364.6 1198.0,373.4 1198.1,371.3 1198.3,375.9 1198.4,362.8 1198.5,374.1 1198.6,375.1 1198.8,370.0 1198.9,374.5 1199.0,372.5 1199.1,361.7 1199.3,372.2 1199.4,376.3 1199.5,366.5 1199.6,369.4 1199.8,362.4 1199.9,377.9 1200.0,371.4 1200.1,366.0 1200.3,366.5 1200.4,369.8 1200.5,368.9 1200.6,376.4 1200.8,367.8 1200.9,366.5 1201.0,369.0 1201.1,366.6 1201.3,372.0 1201.4,373.1 1201.5,354.7 1201.6,376.1 1201.8,377.3 1201.9,371.4 1202.0,368.3 1202.1,371.3 1202.3,373.4 1202.4,367.2 1202.5,358.6 1202.6,369.7 1202.8,377.3 1202.9,370.2 1203.0,377.9 1203.1,376.6 1203.3,374.0 1203.4,378.4 1203.5,376.1 1203.6,377.2 1203.8,364.5 1203.9,381.9 1204.0,370.3 1204.1,358.7 1204.3,377.5 1204.4,368.6 1204.5,366.2 1204.6,375.8 1204.8,365.7 1204.9,367.9 1205.0,356.9 1205.1,371.4 1205.3,372.4 1205.4,363.5 1205.5,375.2 1205.6,367.0 1205.8,360.6 1205.9,362.3 1206.0,370.3 1206.1,368.6 1206.3,366.0 1206.4,378.5 1206.5,370.4 1206.6,373.6 1206.8,371.9 1206.9,365.1 1207.0,374.5 1207.1,375.9 1207.3,376.5 1207.4,379.0 1207.5,384.0 1207.6,387.0 1207.8,384.2 1207.9,375.0 1208.0,365.8 1208.1,373.9 1208.3,386.7 1208.4,372.3 1208.5,370.9 1208.6,368.3 1208.8,380.5 1208.9,371.3 1209.0,376.3 1209.1,383.2 1209.3,378.6 1209.4,378.7 1209.5,374.6 1209.6,382.2 1209.8,372.8 1209.9,370.8 1210.0,375.6 1210.1,382.0 1210.3,382.2 1210.4,375.9 1210.5,377.6 1210.6,377.3 1210.8,375.2 1210.9,376.0 1211.0,364.8 1211.1,385.8 1211.3,370.0 1211.4,367.9 1211.5,369.4 1211.6,376.5 1211.8,370.8 1211.9,370.2 1212.0,375.8 1212.2,372.7 1212.3,369.6 1212.4,373.2 1212.5,374.5 1212.7,371.4 1212.8,372.1 1212.9,367.9 1213.0,368.8 1213.2,369.2 1213.3,363.5 1213.4,377.5 1213.5,375.2 1213.7,370.2 1213.8,365.1 1213.9,371.2 1214.0,361.5 1214.2,367.2 1214.3,370.5 1214.4,369.1 1214.5,369.1 1214.7,380.0 1214.8,373.8 1214.9,375.2 1215.0,369.6 1215.2,375.8 1215.3,375.8 1215.4,363.9 1215.5,374.1 1215.7,374.8 1215.8,373.7 1215.9,379.2 1216.0,365.4 1216.2,366.1 1216.3,373.5 1216.4,376.3 1216.5,368.8 1216.7,378.1 1216.8,372.9 1216.9,373.4 1217.0,372.0 1217.2,363.8 1217.3,363.5 1217.4,372.7 1217.5,370.5 1217.7,372.1 1217.8,380.9 1217.9,372.7 1218.0,369.9 1218.2,377.1 1218.3,372.3 1218.4,374.6 1218.5,365.6 1218.7,376.5 1218.8,373.6 1218.9,371.2 1219.0,363.7 1219.2,373.1 1219.3,381.6 1219.4,375.3 1219.5,367.4 1219.7,376.7 1219.8,368.3 1219.9,367.3 1220.0,364.7 1220.2,370.8 1220.3,370.2 1220.4,373.7 1220.5,365.7 1220.7,362.2 1220.8,361.2 1220.9,366.1 1221.0,364.6 1221.2,360.5 1221.3,372.0 1221.4,369.6 1221.5,365.6 1221.7,366.4 1221.8,358.9 1221.9,364.8 1222.0,374.2 1222.2,369.7 1222.3,364.0 1222.4,372.4 1222.5,374.5 1222.7,377.1 1222.8,363.4 1222.9,369.7 1223.0,364.3 1223.2,377.9 1223.3,381.1 1223.4,377.5 1223.5,372.8 1223.7,371.5 1223.8,370.7 1223.9,370.1 1224.0,367.3 1224.2,373.8 1224.3,376.4 1224.4,370.9 1224.5,364.7 1224.7,366.5 1224.8,353.4 1224.9,374.5 1225.0,373.7 1225.2,364.0 1225.3,365.1 1225.4,367.3 1225.5,370.4 1225.7,369.2 1225.8,373.1 1225.9,373.7 1226.0,355.6 1226.2,368.5 1226.3,365.1 1226.4,370.6 1226.5,356.3 1226.7,356.7 1226.8,365.2 1226.9,370.1 1227.0,365.3 1227.2,369.0 1227.3,356.3 1227.4,372.6 1227.5,381.4 1227.7,373.6 1227.8,364.9 1227.9,377.5 1228.0,368.1 1228.2,364.4 1228.3,380.0 1228.4,366.8 1228.5,376.6 1228.7,370.9 1228.8,371.6 1228.9,364.5 1229.0,379.2 1229.2,376.5 1229.3,360.7 1229.4,375.1 1229.5,365.5 1229.7,365.6 1229.8,360.1 1229.9,368.4 1230.0,367.6 1230.2,376.9 1230.3,367.4 1230.4,375.5 1230.5,369.7 1230.7,373.3 1230.8,379.0 1230.9,366.5 1231.0,358.6 1231.2,365.2 1231.3,373.1 1231.4,383.4 1231.5,379.6 1231.7,366.1 1231.8,363.3 1231.9,370.2 1232.0,367.7 1232.2,360.7 1232.3,364.2 1232.4,360.5 1232.5,364.5 1232.7,378.0 1232.8,356.0 1232.9,363.5 1233.0,357.9 1233.2,365.9 1233.3,368.2 1233.4,368.8 1233.5,364.2 1233.7,370.2 1233.8,378.8 1233.9,368.9 1234.0,381.6 1234.2,367.6 1234.3,366.2 1234.4,372.0 1234.5,361.4 1234.7,370.1 1234.8,367.2 1234.9,365.3 1235.0,368.5 1235.2,365.7 1235.3,358.9 1235.4,367.3 1235.5,364.7 1235.7,373.7 1235.8,372.4 1235.9,366.2 1236.0,371.4 1236.2,369.8 1236.3,372.6 1236.4,381.7 1236.5,357.9 1236.7,365.8 1236.8,363.6 1236.9,365.4 1237.0,369.0 1237.2,377.3 1237.3,367.2 1237.4,354.2 1237.5,357.4 1237.7,375.4 1237.8,356.6 1237.9,359.5 1238.0,357.8 1238.2,365.0 1238.3,368.0 1238.4,359.9 1238.5,373.2 1238.7,361.8 1238.8,365.0 1238.9,373.0 1239.0,378.8 1239.2,369.0 1239.3,365.2 1239.4,369.0 1239.5,377.0 1239.7,372.0 1239.8,377.8 1239.9,362.4 1240.0,362.2 1240.2,363.4 1240.3,372.4 1240.4,370.4 1240.5,362.1 1240.7,363.4 1240.8,360.2 1240.9,370.0 1241.0,373.1 1241.2,375.6 1241.3,372.7 1241.4,374.8 1241.5,366.7 1241.7,366.3 1241.8,366.5 1241.9,369.6 1242.0,368.9 1242.2,361.2 1242.3,369.9 1242.4,362.2 1242.5,368.7 1242.7,373.8 1242.8,357.0 1242.9,361.9 1243.0,364.2 1243.2,360.5 1243.3,354.0 1243.4,361.6 1243.5,354.1 1243.7,371.0 1243.8,364.2 1243.9,363.1 1244.0,363.5 1244.2,357.4 1244.3,365.3 1244.4,368.3 1244.5,369.0 1244.7,371.8 1244.8,371.8 1244.9,385.3 1245.0,373.4 1245.2,369.7 1245.3,360.6 1245.4,373.0 1245.5,373.5 1245.7,364.2 1245.8,365.3 1245.9,365.4 1246.0,364.8 1246.2,367.2 1246.3,360.2 1246.4,364.0 1246.5,364.8 1246.7,366.3 1246.8,369.2 1246.9,363.7 1247.0,363.9 1247.2,371.2 1247.3,366.1 1247.4,361.4 1247.5,357.1 1247.7,368.6 1247.8,371.3 1247.9,355.2 1248.0,360.1 1248.2,353.0 1248.3,349.6 1248.4,365.9 1248.5,367.4 1248.7,360.5 1248.8,351.5 1248.9,348.3 1249.0,348.6 1249.2,363.2 1249.3,363.4 1249.4,352.5 1249.5,351.9 1249.7,363.5 1249.8,356.1 1249.9,356.7 1250.0,352.9 1250.2,368.3 1250.3,356.6 1250.4,355.5 1250.5,359.6 1250.7,362.9 1250.8,366.2 1250.9,366.1 1251.0,364.9 1251.2,361.9 1251.3,368.6 1251.4,377.8 1251.5,380.3 1251.7,379.8 1251.8,366.6 1251.9,359.0 1252.0,365.7 1252.2,373.1 1252.3,355.3 1252.4,372.4 1252.5,364.6 1252.7,371.1 1252.8,360.3 1252.9,364.7 1253.0,364.3 1253.2,376.0 1253.3,367.0 1253.4,361.2 1253.5,363.7 1253.7,366.2 1253.8,373.8 1253.9,362.2 1254.0,362.7 1254.2,370.5 1254.3,364.5 1254.4,357.1 1254.5,375.3 1254.7,373.1 1254.8,369.3 1254.9,361.2 1255.0,347.6 1255.2,362.8 1255.3,361.2 1255.4,354.3 1255.5,358.1 1255.7,367.3 1255.8,369.1 1255.9,375.1 1256.0,371.0 1256.2,363.0 1256.3,369.4 1256.4,355.9 1256.5,358.3 1256.7,355.5 1256.8,368.0 1256.9,359.7 1257.0,361.8 1257.2,366.3 1257.3,360.0 1257.4,366.8 1257.5,356.2 1257.7,361.9 1257.8,371.5 1257.9,363.2 1258.0,376.8 1258.2,371.5 1258.3,364.0 1258.4,366.0 1258.5,372.4 1258.7,365.4 1258.8,366.1 1258.9,351.2 1259.0,367.5 1259.2,358.7 1259.3,366.2 1259.4,364.8 1259.5,364.6 1259.7,370.0 1259.8,362.3 1259.9,365.8 1260.0,377.6 1260.2,366.8 1260.3,373.6 1260.4,372.3 1260.5,370.2 1260.7,369.6 1260.8,347.3 1260.9,368.9 1261.0,370.3 1261.2,365.6 1261.3,368.0 1261.4,367.0 1261.5,361.4 1261.7,376.7 1261.8,365.2 1261.9,367.2 1262.0,366.8 1262.2,374.8 1262.3,369.5 1262.4,373.8 1262.5,383.2 1262.7,378.6 1262.8,377.0 1262.9,372.8 1263.0,373.1 1263.2,365.5 1263.3,362.4 1263.4,366.6 1263.5,368.3 1263.7,365.7 1263.8,368.3 1263.9,364.0 1264.0,366.4 1264.2,362.3 1264.3,365.2 1264.4,358.8 1264.5,376.2 1264.7,371.5 1264.8,364.9 1264.9,363.8 1265.0,374.7 1265.2,372.1 1265.3,376.5 1265.4,362.3 1265.5,371.6 1265.7,364.1 1265.8,371.5 1265.9,377.9 1266.0,386.1 1266.2,367.3 1266.3,373.9 1266.4,372.6 1266.5,372.6 1266.7,378.7 1266.8,369.3 1266.9,378.3 1267.0,377.5 1267.2,372.1 1267.3,370.3 1267.4,379.0 1267.5,374.1 1267.7,376.7 1267.8,368.9 1267.9,373.3 1268.0,378.8 1268.2,376.2 1268.3,370.9 1268.4,366.9 1268.5,380.4 1268.7,377.8 1268.8,367.4 1268.9,365.9 1269.0,366.2 1269.2,375.9 1269.3,370.3 1269.4,375.2 1269.5,372.0 1269.7,383.8 1269.8,375.1 1269.9,375.7 1270.0,373.2 1270.2,357.7 1270.3,370.1 1270.4,374.3 1270.5,375.4 1270.7,365.4 1270.8,377.2 1270.9,368.3 1271.0,360.0 1271.2,367.6 1271.3,370.9 1271.4,376.2 1271.5,361.3 1271.7,385.2 1271.8,362.5 1271.9,373.2 1272.0,382.3 1272.2,377.9 1272.3,371.2 1272.4,369.3 1272.5,381.8 1272.7,376.2 1272.8,386.3 1272.9,369.1 1273.0,373.2 1273.2,385.8 1273.3,375.0 1273.4,364.1 1273.5,373.2 1273.7,378.6 1273.8,361.5 1273.9,368.5 1274.0,381.9 1274.2,364.3 1274.3,363.1 1274.4,374.6 1274.5,373.8 1274.7,373.6 1274.8,374.9 1274.9,371.3 1275.0,373.1 1275.2,367.9 1275.3,368.7 1275.4,363.4 1275.5,374.2 1275.7,373.0 1275.8,367.3 1275.9,376.6 1276.0,372.9 1276.2,371.7 1276.3,369.0 1276.4,384.9 1276.5,375.0 1276.7,372.2 1276.8,374.9 1276.9,371.1 1277.0,357.5 1277.2,372.4 1277.3,370.2 1277.4,375.2 1277.5,371.5 1277.7,377.0 1277.8,371.6 1277.9,369.6 1278.0,381.0 1278.2,371.6 1278.3,375.2 1278.4,372.1 1278.5,374.9 1278.7,370.6 1278.8,375.2 1278.9,372.1 1279.0,382.1 1279.2,369.8 1279.3,386.1 1279.4,380.5 1279.5,371.4 1279.7,383.4 1279.8,376.9 1279.9,375.2 1280.0,374.0 1280.2,375.1 1280.3,383.4 1280.4,377.8 1280.5,375.4 1280.7,368.3 1280.8,378.3 1280.9,384.8 1281.0,386.8 1281.2,403.0 1281.3,390.8 1281.4,380.1 1281.5,378.6 1281.7,377.8 1281.8,377.3 1281.9,354.8 1282.0,372.6 1282.2,363.0 1282.3,377.8 1282.4,366.3 1282.5,377.6 1282.7,376.4 1282.8,374.2 1282.9,370.7 1283.1,381.4 1283.2,375.3 1283.3,373.6 1283.4,370.3 1283.6,364.8 1283.7,372.9 1283.8,369.8 1283.9,363.2 1284.1,361.6 1284.2,359.2 1284.3,363.6 1284.4,364.9 1284.6,363.9 1284.7,370.4 1284.8,380.4 1284.9,372.1 1285.1,371.9 1285.2,373.6 1285.3,370.3 1285.4,371.6 1285.6,364.1 1285.7,356.3 1285.8,372.5 1285.9,355.9 1286.1,359.6 1286.2,364.0 1286.3,366.1 1286.4,377.8 1286.6,369.0 1286.7,367.3 1286.8,367.0 1286.9,355.9 1287.1,357.9 1287.2,369.8 1287.3,363.4 1287.4,361.4 1287.6,370.9 1287.7,365.2 1287.8,367.9 1287.9,368.7 1288.1,366.2 1288.2,365.9 1288.3,370.8 1288.4,374.1 1288.6,355.0 1288.7,370.8 1288.8,365.9 1288.9,380.6 1289.1,373.1 1289.2,372.1 1289.3,366.3 1289.4,354.4 1289.6,366.5 1289.7,366.6 1289.8,370.4 1289.9,364.5 1290.1,365.8 1290.2,379.1 1290.3,359.5 1290.4,377.4 1290.6,369.2 1290.7,365.3 1290.8,375.5 1290.9,372.6 1291.1,375.5 1291.2,374.6 1291.3,370.3 1291.4,371.6 1291.6,378.6 1291.7,379.2 1291.8,369.7 1291.9,364.8 1292.1,365.8 1292.2,371.0 1292.3,377.2 1292.4,372.8 1292.6,373.2 1292.7,372.2 1292.8,363.2 1292.9,371.1 1293.1,371.6 1293.2,376.7 1293.3,376.0 1293.4,366.4 1293.6,366.6 1293.7,372.0 1293.8,368.8 1293.9,374.0 1294.1,370.3 1294.2,372.5 1294.3,373.2 1294.4,368.0 1294.6,376.8 1294.7,364.5 1294.8,372.1 1294.9,365.7 1295.1,356.5 1295.2,368.5 1295.3,365.0 1295.4,364.8 1295.6,368.9 1295.7,364.5 1295.8,374.1 1295.9,378.8 1296.1,374.2 1296.2,373.6 1296.3,375.9 1296.4,370.9 1296.6,374.4 1296.7,372.8 1296.8,373.7 1296.9,363.8 1297.1,364.2 1297.2,376.8 1297.3,366.9 1297.4,369.6 1297.6,370.0 1297.7,373.8 1297.8,365.3 1297.9,367.1 1298.1,373.0 1298.2,373.3 1298.3,369.8 1298.4,365.5 1298.6,364.7 1298.7,375.6 1298.8,371.5 1298.9,373.1 1299.1,386.4 1299.2,375.5 1299.3,365.5 1299.4,369.4 1299.6,375.5 1299.7,368.8 1299.8,364.2 1299.9,369.4 1300.1,370.1 1300.2,369.4 1300.3,361.1 1300.4,372.2 1300.6,373.9 1300.7,367.3 1300.8,364.3 1300.9,366.0 1301.1,368.2 1301.2,372.7 1301.3,382.0 1301.4,367.9 1301.6,367.9 1301.7,359.8 1301.8,368.4 1301.9,372.1 1302.1,369.4 1302.2,362.9 1302.3,368.9 1302.4,364.0 1302.6,363.6 1302.7,363.0 1302.8,368.1 1302.9,370.4 1303.1,371.6 1303.2,372.0 1303.3,380.5 1303.4,365.2 1303.6,380.3 1303.7,368.1 1303.8,376.7 1303.9,377.1 1304.1,379.6 1304.2,369.7 1304.3,377.5 1304.4,378.9 1304.6,375.7 1304.7,371.0 1304.8,366.8 1304.9,375.9 1305.1,375.4 1305.2,373.7 1305.3,376.5 1305.4,367.2 1305.6,377.9 1305.7,370.2 1305.8,387.1 1305.9,369.4 1306.1,367.6 1306.2,370.0 1306.3,375.8 1306.4,377.5 1306.6,380.8 1306.7,375.8 1306.8,370.8 1306.9,376.9 1307.1,361.9 1307.2,364.4 1307.3,374.9 1307.4,375.4 1307.6,370.8 1307.7,367.6 1307.8,369.5 1307.9,365.1 1308.1,363.9 1308.2,369.0 1308.3,367.5 1308.4,370.7 1308.6,369.2 1308.7,361.1 1308.8,371.1 1308.9,372.1 1309.1,365.8 1309.2,380.8 1309.3,366.0 1309.4,375.2 1309.6,372.4 1309.7,364.5 1309.8,371.5 1309.9,368.9 1310.1,365.1 1310.2,367.4 1310.3,375.9 1310.4,377.0 1310.6,374.2 1310.7,368.1 1310.8,373.9 1310.9,373.8 1311.1,369.8 1311.2,370.0 1311.3,371.0 1311.4,370.6 1311.6,372.3 1311.7,389.1 1311.8,381.6 1311.9,366.0 1312.1,385.5 1312.2,375.1 1312.3,366.1 1312.4,367.5 1312.6,365.6 1312.7,364.8 1312.8,372.3 1312.9,367.6 1313.1,360.4 1313.2,369.6 1313.3,372.5 1313.4,380.9 1313.6,369.3 1313.7,373.5 1313.8,378.1 1313.9,370.6 1314.1,366.9 1314.2,360.9 1314.3,369.7 1314.4,369.9 1314.6,367.7 1314.7,376.4 1314.8,377.9 1314.9,366.9 1315.1,369.3 1315.2,361.4 1315.3,364.1 1315.4,370.2 1315.6,369.7 1315.7,373.5 1315.8,377.3 1315.9,369.7 1316.1,369.1 1316.2,370.6 1316.3,369.1 1316.4,372.0 1316.6,358.9 1316.7,372.1 1316.8,365.3 1316.9,373.8 1317.1,366.8 1317.2,368.4 1317.3,370.3 1317.4,379.2 1317.6,385.9 1317.7,367.1 1317.8,378.8 1317.9,364.2 1318.1,364.9 1318.2,362.0 1318.3,362.6 1318.4,361.8 1318.6,364.2 1318.7,364.7 1318.8,362.3 1318.9,346.8 1319.1,367.8 1319.2,371.4 1319.3,364.4 1319.4,367.1 1319.6,383.1 1319.7,371.6 1319.8,369.5 1319.9,375.8 1320.1,373.8 1320.2,377.4 1320.3,373.7 1320.4,378.1 1320.6,382.6 1320.7,369.4 1320.8,381.0 1320.9,372.7 1321.1,384.8 1321.2,384.1 1321.3,376.8 1321.4,375.9 1321.6,384.7 1321.7,380.2 1321.8,383.8 1321.9,375.8 1322.1,371.1 1322.2,364.9 1322.3,362.4 1322.4,375.2 1322.6,374.8 1322.7,378.4 1322.8,372.8 1322.9,372.2 1323.1,370.9 1323.2,373.8 1323.3,369.0 1323.4,360.3 1323.6,365.6 1323.7,369.5 1323.8,370.1 1323.9,364.7 1324.1,375.1 1324.2,366.4 1324.3,365.1 1324.4,362.6 1324.6,362.5 1324.7,364.2 1324.8,356.6 1324.9,361.3 1325.1,364.6 1325.2,363.0 1325.3,365.4 1325.4,366.7 1325.6,363.5 1325.7,371.0 1325.8,370.7 1325.9,367.5 1326.1,364.8 1326.2,362.5 1326.3,356.2 1326.4,372.5 1326.6,359.8 1326.7,364.8 1326.8,359.4 1326.9,360.3 1327.1,361.1 1327.2,355.0 1327.3,365.0 1327.4,371.0 1327.6,373.8 1327.7,367.1 1327.8,366.7 1327.9,372.9 1328.1,376.8 1328.2,360.1 1328.3,373.1 1328.4,374.0 1328.6,366.0 1328.7,352.0 1328.8,380.7 1328.9,365.9 1329.1,364.2 1329.2,373.1 1329.3,355.9 1329.4,362.1 1329.6,369.6 1329.7,374.4 1329.8,362.5 1329.9,360.9 1330.1,371.5 1330.2,369.7 1330.3,359.1 1330.4,376.0 1330.6,368.7 1330.7,376.8 1330.8,379.2 1330.9,370.9 1331.1,373.1 1331.2,367.8 1331.3,379.8 1331.4,368.9 1331.6,370.0 1331.7,372.4 1331.8,375.6 1331.9,372.8 1332.1,379.3 1332.2,372.1 1332.3,367.4 1332.4,364.3 1332.6,369.0 1332.7,374.7 1332.8,370.8 1332.9,371.5 1333.1,367.0 1333.2,367.4 1333.3,365.4 1333.4,370.1 1333.6,368.4 1333.7,380.4 1333.8,360.2 1333.9,369.6 1334.1,370.5 1334.2,369.9 1334.3,374.3 1334.4,372.1 1334.6,369.2 1334.7,369.6 1334.8,376.0 1334.9,362.6 1335.1,366.6 1335.2,364.0 1335.3,380.0 1335.4,361.2 1335.6,365.0 1335.7,364.3 1335.8,366.9 1335.9,371.1 1336.1,370.6 1336.2,370.7 1336.3,369.2 1336.4,371.8 1336.6,365.2 1336.7,368.8 1336.8,377.6 1336.9,382.8 1337.1,375.1 1337.2,362.5 1337.3,363.1 1337.4,376.0 1337.6,377.2 1337.7,378.1 1337.8,373.6 1337.9,371.8 1338.1,386.4 1338.2,373.7 1338.3,374.0 1338.4,369.0 1338.6,363.8 1338.7,365.8 1338.8,370.7 1338.9,377.5 1339.1,361.9 1339.2,363.0 1339.3,368.6 1339.4,370.4 1339.6,368.2 1339.7,370.2 1339.8,365.2 1339.9,375.1 1340.1,370.1 1340.2,363.9 1340.3,380.8 1340.4,363.2 1340.6,365.8 1340.7,368.0 1340.8,372.3 1340.9,370.8 1341.1,376.1 1341.2,372.1 1341.3,369.1 1341.4,371.8 1341.6,360.4 1341.7,361.4 1341.8,369.0 1341.9,369.3 1342.1,373.3 1342.2,368.7 1342.3,369.3 1342.4,376.8 1342.6,375.3 1342.7,374.2 1342.8,375.7 1342.9,377.6 1343.1,381.6 1343.2,381.1 1343.3,371.2 1343.4,381.5 1343.6,369.7 1343.7,379.2 1343.8,379.5 1343.9,371.0 1344.1,384.9 1344.2,373.2 1344.3,373.9 1344.4,368.2 1344.6,373.9 1344.7,372.6 1344.8,370.9 1344.9,377.7 1345.1,374.6 1345.2,357.1 1345.3,363.9 1345.4,363.5 1345.6,366.3 1345.7,362.4 1345.8,366.6 1345.9,381.8 1346.1,367.1 1346.2,372.8 1346.3,373.5 1346.4,374.2 1346.6,374.1 1346.7,366.3 1346.8,367.3 1346.9,365.7 1347.1,377.6 1347.2,373.6 1347.3,363.7 1347.4,367.7 1347.6,368.9 1347.7,367.6 1347.8,367.8 1347.9,362.2 1348.1,371.3 1348.2,366.3 1348.3,365.6 1348.4,375.5 1348.6,372.8 1348.7,378.1 1348.8,366.0 1348.9,376.7 1349.1,378.7 1349.2,375.2 1349.3,376.7 1349.4,371.5 1349.6,374.0 1349.7,381.0 1349.8,384.4 1349.9,378.0 1350.1,365.3 1350.2,372.0 1350.3,365.5 1350.4,378.4 1350.6,376.7 1350.7,373.9 1350.8,371.7 1350.9,365.2 1351.1,364.5 1351.2,367.6 1351.3,367.1 1351.4,357.4 1351.6,362.9 1351.7,367.9 1351.8,356.1 1351.9,361.5 1352.1,355.2 1352.2,354.4 1352.3,370.9 1352.4,372.4 1352.6,356.0 1352.7,364.9 1352.8,381.2 1352.9,366.3 1353.1,369.7 1353.2,370.1 1353.3,371.1 1353.4,368.1 1353.6,383.3 1353.7,380.7 1353.8,375.2 1354.0,363.7 1354.1,363.3 1354.2,376.0 1354.3,366.3 1354.5,373.3 1354.6,367.3 1354.7,364.3 1354.8,367.0 1355.0,365.6 1355.1,378.8 1355.2,360.2 1355.3,367.5 1355.5,376.6 1355.6,368.5 1355.7,369.7 1355.8,376.3 1356.0,375.5 1356.1,373.6 1356.2,367.7 1356.3,374.7 1356.5,373.4 1356.6,379.6 1356.7,383.3 1356.8,371.9 1357.0,387.2 1357.1,386.8 1357.2,378.7 1357.3,368.2 1357.5,374.2 1357.6,366.8 1357.7,364.9 1357.8,373.8 1358.0,373.4 1358.1,363.4 1358.2,371.3 1358.3,373.2 1358.5,364.5 1358.6,368.8 1358.7,361.8 1358.8,365.0 1359.0,378.7 1359.1,367.1 1359.2,364.9 1359.3,367.1 1359.5,363.4 1359.6,366.9 1359.7,364.8 1359.8,360.6 1360.0,368.4 1360.1,360.0 1360.2,363.4 1360.3,371.3 1360.5,373.2 1360.6,371.4 1360.7,365.2 1360.8,364.8 1361.0,364.8 1361.1,375.2 1361.2,358.1 1361.3,376.6 1361.5,370.6 1361.6,360.1 1361.7,351.2 1361.8,354.7 1362.0,368.9 1362.1,369.0 1362.2,359.7 1362.3,363.2 1362.5,359.7 1362.6,369.3 1362.7,360.7 1362.8,365.0 1363.0,364.9 1363.1,366.3 1363.2,365.0 1363.3,368.4 1363.5,376.1 1363.6,370.3 1363.7,366.6 1363.8,359.9 1364.0,365.4 1364.1,368.2 1364.2,372.6 1364.3,366.7 1364.5,373.7 1364.6,370.1 1364.7,376.2 1364.8,372.9 1365.0,353.2 1365.1,360.6 1365.2,377.4 1365.3,374.4 1365.5,370.7 1365.6,366.4 1365.7,359.4 1365.8,376.5 1366.0,364.7 1366.1,367.0 1366.2,369.7 1366.3,363.3 1366.5,372.4 1366.6,362.3 1366.7,361.6 1366.8,374.5 1367.0,367.2 1367.1,366.8 1367.2,363.9 1367.3,361.5 1367.5,368.6 1367.6,364.2 1367.7,350.4 1367.8,368.3 1368.0,363.2 1368.1,362.2 1368.2,366.3 1368.3,359.6 1368.5,370.9 1368.6,363.2 1368.7,369.4 1368.8,358.8 1369.0,366.7 1369.1,361.7 1369.2,360.6 1369.3,369.3 1369.5,364.1 1369.6,366.6 1369.7,368.9 1369.8,367.5 1370.0,368.3 1370.1,369.0 1370.2,370.2 1370.3,372.8 1370.5,371.8 1370.6,367.2 1370.7,374.0 1370.8,372.9 1371.0,373.8 1371.1,384.4 1371.2,382.1 1371.3,370.9 1371.5,363.8 1371.6,366.3 1371.7,374.1 1371.8,383.7 1372.0,376.4 1372.1,367.2 1372.2,369.9 1372.3,373.0 1372.5,376.3 1372.6,359.7 1372.7,376.2 1372.8,366.6 1373.0,366.0 1373.1,367.2 1373.2,369.1 1373.3,368.5 1373.5,367.7 1373.6,365.7 1373.7,361.6 1373.8,374.4 1374.0,354.3 1374.1,360.3 1374.2,362.7 1374.3,364.5 1374.5,367.4 1374.6,360.8 1374.7,361.6 1374.8,360.5 1375.0,373.6 1375.1,366.1 1375.2,377.3 1375.3,369.5 1375.5,366.7 1375.6,360.6 1375.7,369.1 1375.8,361.9 1376.0,377.9 1376.1,362.3 1376.2,365.8 1376.3,355.6 1376.5,358.8 1376.6,361.9 1376.7,367.6 1376.8,370.4 1377.0,373.9 1377.1,362.0 1377.2,361.6 1377.3,369.3 1377.5,359.4 1377.6,370.3 1377.7,361.5 1377.8,361.6 1378.0,362.2 1378.1,369.9 1378.2,372.8 1378.3,362.9 1378.5,381.1 1378.6,374.3 1378.7,379.0 1378.8,372.5 1379.0,357.0 1379.1,369.6 1379.2,378.6 1379.3,377.8 1379.5,383.4 1379.6,371.2 1379.7,369.3 1379.8,366.5 1380.0,369.6 1380.1,372.4 1380.2,366.8 1380.3,370.2 1380.5,372.4 1380.6,362.6 1380.7,369.3 1380.8,376.9 1381.0,377.3 1381.1,369.3 1381.2,372.4 1381.3,362.6 1381.5,369.2 1381.6,362.6 1381.7,374.2 1381.8,355.4 1382.0,370.3 1382.1,368.9 1382.2,366.2 1382.3,368.3 1382.5,375.0 1382.6,359.1 1382.7,378.3 1382.8,365.3 1383.0,358.7 1383.1,363.3 1383.2,365.4 1383.3,366.1 1383.5,365.9 1383.6,366.9 1383.7,368.5 1383.8,360.3 1384.0,374.1 1384.1,368.1 1384.2,365.8 1384.3,370.6 1384.5,373.0 1384.6,355.9 1384.7,365.1 1384.8,367.7 1385.0,363.6 1385.1,369.7 1385.2,370.1 1385.3,366.9 1385.5,364.5 1385.6,370.7 1385.7,358.6 1385.8,366.2 1386.0,367.0 1386.1,361.9 1386.2,364.5 1386.3,369.0 1386.5,357.6 1386.6,372.7 1386.7,372.1 1386.8,368.8 1387.0,377.4 1387.1,366.9 1387.2,368.0 1387.3,360.6 1387.5,369.2 1387.6,371.5 1387.7,368.1 1387.8,367.7 1388.0,367.5 1388.1,351.2 1388.2,379.5 1388.3,363.5 1388.5,367.1 1388.6,370.8 1388.7,368.3 1388.8,365.2 1389.0,357.9 1389.1,363.7 1389.2,369.9 1389.3,368.6 1389.5,365.8 1389.6,354.2 1389.7,373.5 1389.8,365.5 1390.0,368.5 1390.1,366.8 1390.2,371.5 1390.3,360.5 1390.5,368.9 1390.6,374.2 1390.7,369.1 1390.8,361.8 1391.0,370.0 1391.1,359.3 1391.2,367.4 1391.3,367.6 1391.5,369.3 1391.6,353.3 1391.7,371.9 1391.8,366.7 1392.0,364.9 1392.1,358.9 1392.2,371.0 1392.3,355.7 1392.5,382.3 1392.6,371.9 1392.7,374.0 1392.8,366.8 1393.0,367.9 1393.1,371.4 1393.2,370.2 1393.3,374.9 1393.5,373.5 1393.6,376.2 1393.7,378.6 1393.8,361.8 1394.0,363.3 1394.1,369.9 1394.2,360.5 1394.3,371.9 1394.5,365.6 1394.6,372.2 1394.7,364.0 1394.8,369.7 1395.0,367.2 1395.1,374.4 1395.2,366.4 1395.3,369.5 1395.5,365.0 1395.6,368.0 1395.7,367.9 1395.8,358.6 1396.0,365.9 1396.1,369.7 1396.2,374.6 1396.3,367.0 1396.5,360.6 1396.6,366.9 1396.7,365.4 1396.8,363.7 1397.0,369.7 1397.1,356.1 1397.2,358.8 1397.3,364.7 1397.5,365.0 1397.6,368.3 1397.7,367.4 1397.8,363.2 1398.0,378.6 1398.1,372.2 1398.2,377.3 1398.3,363.6 1398.5,366.0 1398.6,366.8 1398.7,363.2 1398.8,378.3 1399.0,365.5 1399.1,370.9 1399.2,371.1 1399.3,366.2 1399.5,363.4 1399.6,364.8 1399.7,363.0 1399.8,361.6 1400.0,373.3 1400.1,364.6 1400.2,362.8 1400.3,360.5 1400.5,368.4 1400.6,361.3 1400.7,359.0 1400.8,363.1 1401.0,367.1 1401.1,375.2 1401.2,368.4 1401.3,380.4 1401.5,367.5 1401.6,368.8 1401.7,370.2 1401.8,371.5 1402.0,365.7 1402.1,378.6 1402.2,365.2 1402.3,381.6 1402.5,377.1 1402.6,373.4 1402.7,375.0 1402.8,373.6 1403.0,366.1 1403.1,368.9 1403.2,358.9 1403.3,362.3 1403.5,368.2 1403.6,361.6 1403.7,364.0 1403.8,362.5 1404.0,371.6 1404.1,356.8 1404.2,354.2 1404.3,366.0 1404.5,371.1 1404.6,358.0 1404.7,354.6 1404.8,374.0 1405.0,370.6 1405.1,365.3 1405.2,367.4 1405.3,363.4 1405.5,365.6 1405.6,363.2 1405.7,360.6 1405.8,378.8 1406.0,369.2 1406.1,374.0 1406.2,369.6 1406.3,365.7 1406.5,362.7 1406.6,362.7 1406.7,362.9 1406.8,373.6 1407.0,382.3 1407.1,370.8 1407.2,380.5 1407.3,375.7 1407.5,373.3 1407.6,379.6 1407.7,371.0 1407.8,368.5 1408.0,366.0 1408.1,365.9 1408.2,357.8 1408.3,356.9 1408.5,357.3 1408.6,374.2 1408.7,367.2 1408.8,374.6 1409.0,360.1 1409.1,373.5 1409.2,367.0 1409.3,366.7 1409.5,368.0 1409.6,370.1 1409.7,356.7 1409.8,366.8 1410.0,368.7 1410.1,364.5 1410.2,368.7 1410.3,368.0 1410.5,369.6 1410.6,374.8 1410.7,365.1 1410.8,365.4 1411.0,372.7 1411.1,374.1 1411.2,372.3 1411.3,387.0 1411.5,377.8 1411.6,367.1 1411.7,355.5 1411.8,363.5 1412.0,349.6 1412.1,367.4 1412.2,368.5 1412.3,358.3 1412.5,362.9 1412.6,369.2 1412.7,377.0 1412.8,371.3 1413.0,372.0 1413.1,373.4 1413.2,371.1 1413.3,380.6 1413.5,379.1 1413.6,359.1 1413.7,363.6 1413.8,365.0 1414.0,368.8 1414.1,374.2 1414.2,374.1 1414.3,362.4 1414.5,376.4 1414.6,372.0 1414.7,382.0 1414.8,368.8 1415.0,364.5 1415.1,360.2 1415.2,361.9 1415.3,366.2 1415.5,373.4 1415.6,367.5 1415.7,369.1 1415.8,367.4 1416.0,372.1 1416.1,371.8 1416.2,364.0 1416.3,371.7 1416.5,371.1 1416.6,371.2 1416.7,363.7 1416.8,361.1 1417.0,365.6 1417.1,368.7 1417.2,367.2 1417.3,365.0 1417.5,373.6 1417.6,377.7 1417.7,377.0 1417.8,370.0 1418.0,368.8 1418.1,376.9 1418.2,371.1 1418.3,369.5 1418.5,378.2 1418.6,383.6 1418.7,381.7 1418.8,373.4 1419.0,379.4 1419.1,370.5 1419.2,369.3 1419.3,364.7 1419.5,369.2 1419.6,371.2 1419.7,368.0 1419.8,363.9 1420.0,363.0 1420.1,365.3 1420.2,376.6 1420.3,366.2 1420.5,362.3 1420.6,366.5 1420.7,380.4 1420.8,369.5 1421.0,369.6 1421.1,364.5 1421.2,366.9 1421.3,366.1 1421.5,375.5 1421.6,370.5 1421.7,364.6 1421.8,371.2 1422.0,370.8 1422.1,367.0 1422.2,357.7 1422.3,365.8 1422.5,366.8 1422.6,368.6 1422.7,356.8 1422.8,376.4 1423.0,369.5 1423.1,388.8 1423.2,372.0 1423.3,373.0 1423.5,367.1 1423.6,363.1 1423.7,369.0 1423.8,360.9 1424.0,361.4 1424.1,374.0 1424.2,367.7 1424.3,364.4 1424.5,362.2 1424.6,366.5" fill="none" stroke="#000" stroke-width="1.4" stroke-linejoin="bevel"/>
<polyline points="540.6,109.2 540.6,108.6 540.8,107.8 540.9,108.1 541.1,108.5 541.3,108.7 541.4,107.3 541.6,105.3 541.8,102.6 541.9,101.5 542.1,100.3 542.3,96.8 542.4,93.4 542.6,93.3 542.8,98.1 542.9,94.0 543.1,88.2 543.3,92.2 543.4,93.2 543.4,89.9 543.6,92.2 543.8,93.1 543.9,93.0 544.1,96.4 544.3,95.0 544.4,94.2 544.6,97.4 544.8,98.8 544.9,93.2 545.1,95.9 545.3,94.4 545.4,96.5 545.6,95.3 545.8,98.7 545.9,99.5 546.1,100.0 546.3,100.0 546.4,102.3 546.6,102.8 546.8,104.5 546.9,108.8 547.1,109.1 547.3,112.4 547.4,111.4 547.6,108.6 547.8,111.7 547.9,112.7 548.1,116.3 548.3,118.4 548.4,118.0 548.6,119.4 548.8,119.2 548.9,120.0 549.1,119.3 549.3,121.8 549.4,122.6 549.6,125.3 549.8,127.6 549.9,132.0 550.1,134.6 550.1,134.4 550.3,134.4 550.4,131.3 550.6,128.8 550.8,127.1 550.9,126.4 551.1,127.7 551.3,128.8 551.4,126.7 551.6,125.0 551.8,122.8 551.9,121.9 552.1,119.7 552.3,117.6 552.4,115.9 552.6,114.7 552.8,113.7 552.9,114.8 553.1,112.1 553.3,110.6 553.4,109.2 553.6,110.8 553.8,109.5 553.9,108.6 554.1,107.6 554.3,108.4 554.4,105.4 554.6,104.0 554.8,105.8 554.9,103.3 555.1,104.3 555.3,104.1 555.4,102.1 555.6,101.1 555.8,102.4 555.9,98.5 556.1,95.7 556.3,92.7 556.4,94.7 556.6,95.2 556.8,98.2 556.9,98.5 557.1,99.2 557.3,97.9 557.4,96.8 557.6,96.7 557.8,93.5 557.9,93.0 558.1,96.7 558.3,93.0 558.4,87.9 558.6,96.4 558.8,92.5 558.9,88.5 559.1,92.9 559.3,90.8 559.4,89.9 559.5,91.8 559.6,90.8 559.8,90.8 559.9,93.8 560.1,96.5 560.3,93.2 560.4,95.1 560.6,98.2 560.8,91.3 560.9,94.8 561.1,94.5 561.3,94.4 561.4,96.2 561.6,99.5 561.8,101.5 561.9,101.2 562.1,102.6 562.3,103.6 562.4,104.2 562.6,106.9 562.8,109.1 562.9,111.1 563.1,113.7 563.3,114.6 563.4,116.4 563.6,119.6 563.8,121.4 563.9,123.6 564.1,125.8 564.3,127.8 564.4,133.2 564.4,130.1 564.6,128.8 564.8,128.0 564.9,130.0 565.1,128.9 565.3,126.5 565.4,126.4 565.6,124.1 565.8,121.1 566.0,119.4 566.1,116.5 566.3,115.4 566.5,112.2 566.6,111.2 566.8,109.9 567.0,108.4 567.1,107.0 567.3,107.3 567.5,107.4 567.6,105.3 567.8,101.3 568.0,99.1 568.1,99.7 568.3,98.8 568.5,99.0 568.6,97.2 568.8,101.0 569.0,98.1 569.1,93.9 569.3,95.6 569.5,95.4 569.6,88.4 569.8,90.8 570.0,89.9 570.1,90.2 570.3,87.3 570.5,86.2 570.6,86.2 570.8,90.3 571.0,90.9 571.1,84.5 571.3,83.0 571.5,91.0 571.6,81.6 571.8,82.3 572.0,84.2 572.1,86.5 572.3,89.5 572.5,89.2 572.6,86.3 572.8,89.6 572.9,84.1 573.0,88.5 573.1,92.4 573.3,87.6 573.5,84.8 573.6,86.1 573.8,92.6 574.0,89.1 574.1,87.6 574.3,92.8 574.5,95.7 574.6,99.0 574.8,96.2 575.0,100.1 575.1,102.4 575.3,103.4 575.5,107.3 575.6,112.5 575.8,115.4 576.0,117.3 576.1,119.2 576.3,121.5 576.5,122.6 576.6,125.4 576.8,129.1 577.0,134.7 577.1,139.7 577.3,146.1 577.5,148.9 577.5,147.9 577.6,149.6 577.8,147.4 578.0,143.8 578.1,142.2 578.3,138.6 578.5,139.1 578.6,138.9 578.8,135.6 579.0,134.2 579.1,133.6 579.3,131.4 579.5,129.7 579.6,128.8 579.8,126.8 580.0,125.6 580.1,123.9 580.3,122.8 580.5,122.5 580.6,122.7 580.8,123.0 581.0,121.3 581.1,120.6 581.3,119.3 581.5,117.7 581.6,116.9 581.8,115.9 582.0,113.1 582.1,109.7 582.3,106.9 582.5,107.5 582.6,106.2 582.8,105.4 583.0,104.6 583.1,104.7 583.3,104.0 583.5,103.9 583.6,102.5 583.8,101.4 584.0,99.1 584.1,96.4 584.3,97.2 584.5,98.8 584.6,97.6 584.8,98.3 585.0,97.9 585.1,92.6 585.3,89.6 585.5,94.8 585.6,91.7 585.8,92.1 586.0,86.7 586.1,92.6 586.3,90.1 586.5,88.2 586.6,87.9 586.8,89.1 587.0,88.0 587.1,86.5 587.3,82.8 587.5,87.5 587.6,84.2 587.8,85.5 588.0,87.1 588.1,81.9 588.3,89.9 588.5,87.5 588.6,87.2 588.8,87.7 589.0,84.5 589.0,86.2 589.1,89.1 589.3,85.4 589.5,85.7 589.6,86.5 589.8,89.1 590.0,90.3 590.1,87.3 590.3,86.3 590.5,93.4 590.6,91.0 590.8,96.3 591.0,94.8 591.1,94.3 591.3,95.2 591.5,98.1 591.6,100.3 591.8,101.1 592.0,104.4 592.1,107.5 592.3,107.5 592.5,108.2 592.6,109.5 592.8,111.1 593.0,114.6 593.1,118.4 593.3,121.8 593.5,125.7 593.6,126.0 593.8,128.3 593.9,126.9 594.0,129.9 594.1,126.8 594.3,124.4 594.5,122.8 594.6,122.5 594.8,120.2 595.0,117.7 595.1,115.1 595.3,115.1 595.5,114.9 595.6,115.0 595.8,114.2 596.0,112.7 596.1,110.0 596.3,109.1 596.5,106.4 596.6,107.0 596.8,108.3 597.0,105.3 597.1,104.6 597.3,102.8 597.5,101.9 597.6,100.5 597.8,97.2 598.0,98.9 598.1,99.7 598.3,99.0 598.5,101.2 598.6,99.3 598.8,97.1 599.0,99.2 599.1,98.1 599.3,96.1 599.5,94.1 599.6,93.2 599.8,91.8 600.0,90.8 600.1,91.1 600.3,89.9 600.5,91.8 600.6,92.7 600.8,93.5 601.0,92.3 601.1,93.3 601.3,96.1 601.5,93.8 601.6,91.8 601.6,93.1 601.8,85.5 602.0,84.2 602.1,91.8 602.3,92.1 602.5,95.0 602.6,94.0 602.8,94.0 603.0,95.9 603.1,96.5 603.3,105.0 603.5,105.5 603.6,109.9 603.8,111.6 604.0,114.1 604.1,117.6 604.3,118.6 604.5,121.6 604.6,124.2 604.8,128.4 605.0,134.4 605.1,136.9 605.3,141.9 605.5,144.7 605.6,147.2 605.8,149.9 606.0,152.4 606.1,158.5 606.3,165.4 606.5,170.1 606.6,175.5 606.8,177.3 606.8,178.6 607.0,175.4 607.1,171.4 607.3,170.7 607.5,167.7 607.6,165.0 607.8,164.8 608.0,162.7 608.1,161.1 608.3,159.4 608.5,156.5 608.6,153.7 608.8,151.2 609.0,148.6 609.1,146.7 609.3,144.8 609.5,142.9 609.6,141.5 609.8,140.9 610.0,139.4 610.1,136.0 610.3,133.6 610.5,132.6 610.6,129.8 610.8,128.0 611.0,124.7 611.1,123.8 611.3,121.4 611.5,120.2 611.6,116.8 611.8,119.5 612.0,117.6 612.1,116.4 612.3,112.0 612.5,111.0 612.6,110.3 612.8,104.2 613.0,106.2 613.1,107.0 613.3,105.1 613.5,106.8 613.6,102.9 613.8,103.3 614.0,99.6 614.1,97.1 614.3,99.1 614.5,95.7 614.6,95.8 614.8,89.9 615.0,90.4 615.1,93.4 615.3,93.9 615.5,92.2 615.6,94.3 615.8,89.6 616.0,92.2 616.1,88.8 616.3,93.3 616.5,92.1 616.7,91.7 616.8,92.4 617.0,95.2 617.2,86.0 617.3,85.7 617.5,89.5 617.7,86.0 617.7,87.6 617.8,92.7 618.0,89.4 618.2,89.1 618.3,89.1 618.5,91.5 618.7,88.5 618.8,88.8 619.0,89.1 619.2,86.0 619.3,87.5 619.5,91.1 619.7,89.8 619.8,89.9 620.0,91.1 620.2,91.1 620.3,93.1 620.5,92.5 620.7,93.7 620.8,92.9 621.0,93.9 621.2,95.3 621.3,95.7 621.5,96.6 621.7,96.7 621.8,97.1 622.0,98.3 622.0,97.0 622.2,96.8 622.3,96.9 622.5,98.0 622.7,98.2 622.8,99.1 623.0,98.7 623.2,98.6 623.3,96.5 623.5,96.1 623.7,94.2 623.8,91.5 624.0,91.1 624.2,92.5 624.3,93.8 624.5,90.8 624.7,93.1 624.8,91.9 625.0,90.5 625.2,91.1 625.3,92.3 625.5,90.7 625.7,93.2 625.8,92.3 626.0,91.3 626.2,93.8 626.3,96.6 626.5,90.4 626.7,89.2 626.8,88.6 627.0,96.7 627.2,91.4 627.3,91.9 627.5,89.9 627.7,88.6 627.8,84.7 628.0,89.5 628.2,89.6 628.2,91.1 628.3,84.3 628.5,87.9 628.7,89.5 628.8,91.4 629.0,91.7 629.2,93.9 629.3,95.7 629.5,96.8 629.7,98.5 629.8,96.1 630.0,98.2 630.2,102.0 630.3,104.3 630.5,107.5 630.7,108.6 630.8,110.6 631.0,114.1 631.2,116.5 631.3,119.6 631.5,123.7 631.5,122.0 631.7,122.5 631.8,122.3 632.0,120.5 632.2,118.3 632.3,114.7 632.5,112.3 632.7,110.6 632.8,111.5 633.0,111.0 633.2,107.9 633.3,106.9 633.5,105.2 633.7,103.7 633.8,101.1 634.0,102.3 634.2,102.0 634.3,98.0 634.5,97.5 634.7,93.1 634.8,99.4 635.0,97.6 635.2,96.1 635.3,94.6 635.5,92.7 635.7,92.4 635.8,90.8 636.0,90.3 636.2,90.8 636.3,91.4 636.5,95.0 636.7,87.4 636.8,91.2 637.0,88.3 637.2,85.9 637.3,88.3 637.3,81.4 637.5,88.3 637.7,84.1 637.8,85.1 638.0,88.7 638.2,85.7 638.3,89.0 638.5,89.8 638.7,93.1 638.8,94.8 639.0,92.5 639.2,97.0 639.3,97.6 639.5,100.8 639.7,103.5 639.8,107.2 640.0,106.9 640.2,110.1 640.3,112.9 640.5,114.0 640.7,118.5 640.8,119.1 641.0,122.3 641.2,125.3 641.3,129.5 641.5,133.7 641.7,137.8 641.8,140.8 642.0,140.2 642.0,142.9 642.2,142.0 642.3,140.7 642.5,137.3 642.7,136.9 642.8,134.8 643.0,133.4 643.2,133.7 643.3,131.8 643.5,129.5 643.7,127.3 643.8,123.5 644.0,122.9 644.2,120.2 644.3,119.9 644.5,119.7 644.7,119.9 644.8,119.6 645.0,117.4 645.2,116.8 645.3,115.4 645.5,116.1 645.7,115.8 645.8,112.4 646.0,114.0 646.2,109.7 646.3,107.5 646.5,109.3 646.7,108.8 646.8,105.0 647.0,105.0 647.2,109.5 647.3,104.5 647.5,100.0 647.7,100.4 647.8,103.6 648.0,101.3 648.2,101.0 648.3,101.4 648.5,99.8 648.7,97.2 648.8,94.7 649.0,98.7 649.2,96.0 649.3,98.2 649.5,101.7 649.7,98.5 649.8,96.7 650.0,96.0 650.2,96.6 650.3,96.4 650.5,90.5 650.7,93.2 650.8,95.6 651.0,91.4 651.2,85.4 651.3,84.1 651.5,80.6 651.7,85.5 651.8,94.1 652.0,91.9 652.2,91.0 652.3,91.6 652.5,89.7 652.5,91.7 652.7,90.1 652.8,88.3 653.0,86.6 653.2,90.2 653.3,92.8 653.5,88.1 653.7,88.7 653.8,93.4 654.0,88.9 654.2,92.6 654.3,94.8 654.5,97.0 654.7,96.7 654.8,95.9 655.0,97.6 655.2,95.1 655.3,94.9 655.5,95.7 655.7,101.0 655.8,100.7 656.0,106.0 656.2,108.9 656.3,111.6 656.5,113.0 656.7,114.2 656.8,115.5 657.0,115.7 657.2,116.3 657.3,119.0 657.5,118.9 657.7,122.0 657.8,122.8 658.0,124.2 658.2,126.8 658.3,129.7 658.4,130.4 658.5,128.3 658.7,127.1 658.8,125.7 659.0,125.5 659.2,124.9 659.3,124.1 659.5,123.2 659.7,122.6 659.8,122.9 660.0,121.8 660.2,119.5 660.3,116.4 660.5,115.7 660.7,114.1 660.8,113.3 661.0,114.1 661.2,113.0 661.3,111.4 661.5,111.2 661.7,112.7 661.8,110.7 662.0,110.3 662.2,108.1 662.3,106.2 662.5,106.6 662.7,106.8 662.8,103.8 663.0,100.9 663.2,100.9 663.3,99.6 663.5,99.9 663.7,101.3 663.8,103.6 664.0,101.5 664.2,100.2 664.3,99.8 664.5,98.3 664.7,96.7 664.8,97.4 665.0,96.8 665.2,93.5 665.3,96.1 665.5,92.9 665.7,90.8 665.8,94.3 666.0,91.9 666.2,97.3 666.3,94.4 666.5,93.7 666.7,91.5 666.8,91.9 667.0,94.4 667.2,89.4 667.4,92.5 667.5,92.5 667.5,85.0 667.7,92.0 667.9,95.1 668.0,95.7 668.2,96.6 668.4,100.0 668.5,96.2 668.7,96.9 668.9,100.7 669.0,104.0 669.2,102.9 669.4,102.0 669.5,103.8 669.7,106.3 669.9,107.0 670.0,108.1 670.2,113.0 670.4,115.1 670.5,119.1 670.7,121.4 670.9,124.0 671.0,126.7 671.2,128.3 671.4,131.0 671.5,136.0 671.7,139.7 671.9,145.2 672.0,151.5 672.2,154.6 672.4,157.4 672.4,157.7 672.5,156.9 672.7,152.7 672.9,150.5 673.0,150.0 673.2,150.5 673.4,149.4 673.5,148.4 673.7,145.4 673.9,143.2 674.0,141.0 674.2,138.9 674.4,138.4 674.5,139.1 674.7,135.9 674.9,135.8 675.0,134.0 675.2,131.5 675.4,127.6 675.5,127.1 675.7,125.2 675.9,123.3 676.0,122.0 676.2,121.0 676.4,120.3 676.5,119.3 676.7,119.6 676.9,116.2 677.0,115.6 677.2,112.7 677.4,111.4 677.5,108.2 677.7,105.1 677.9,102.4 678.0,102.0 678.2,103.1 678.4,105.2 678.5,104.9 678.7,102.7 678.9,103.4 679.0,103.3 679.2,101.6 679.4,100.1 679.5,99.3 679.7,97.0 679.9,94.9 680.0,92.7 680.2,95.7 680.4,93.4 680.5,95.2 680.7,94.4 680.9,89.3 681.0,89.3 681.2,86.6 681.4,89.3 681.5,85.2 681.7,80.3 681.9,86.7 682.0,88.3 682.2,87.7 682.4,87.2 682.5,89.1 682.7,89.1 682.9,88.2 683.0,83.5 683.2,83.6 683.4,79.1 683.5,78.5 683.7,80.2 683.9,78.0 684.0,78.7 684.2,85.4 684.4,80.4 684.5,77.9 684.7,75.8 684.9,79.8 685.0,82.0 685.0,78.0 685.2,75.7 685.4,83.3 685.5,81.0 685.7,84.9 685.9,93.3 686.0,88.7 686.2,90.1 686.4,92.1 686.5,92.5 686.7,93.6 686.9,97.3 687.0,102.0 687.2,102.5 687.4,103.8 687.5,107.3 687.7,111.4 687.9,116.2 688.0,120.2 688.2,123.3 688.4,126.7 688.5,128.9 688.7,133.1 688.9,137.2 689.0,142.3 689.2,146.0 689.2,147.2 689.4,146.8 689.5,143.8 689.7,142.3 689.9,142.2 690.0,141.0 690.2,142.2 690.4,141.0 690.5,139.4 690.7,138.4 690.9,136.1 691.0,135.6 691.2,134.0 691.4,131.1 691.5,127.6 691.7,125.2 691.9,124.0 692.0,122.3 692.2,122.9 692.4,124.7 692.5,125.0 692.7,124.4 692.9,123.8 693.0,121.5 693.2,122.2 693.4,118.7 693.5,114.3 693.7,111.7 693.9,110.6 694.0,113.2 694.2,113.3 694.4,111.5 694.5,113.0 694.7,110.1 694.9,105.4 695.0,101.6 695.2,103.9 695.4,101.0 695.5,100.3 695.7,98.5 695.9,99.6 696.0,99.2 696.2,98.3 696.4,97.8 696.5,99.3 696.7,100.0 696.9,96.1 697.0,99.0 697.2,95.1 697.4,94.7 697.5,93.9 697.7,94.8 697.9,94.3 698.0,95.2 698.2,89.6 698.4,87.7 698.5,89.0 698.7,86.9 698.9,89.0 699.0,84.9 699.2,86.4 699.4,88.1 699.5,88.7 699.7,87.6 699.9,90.1 700.0,88.6 700.2,79.9 700.4,83.2 700.5,83.0 700.7,83.8 700.9,85.1 701.0,87.5 701.2,87.8 701.4,86.2 701.5,87.4 701.7,85.2 701.9,80.2 702.0,78.8 702.2,82.2 702.4,77.7 702.5,80.2 702.7,81.6 702.9,83.9 703.0,83.3 703.2,81.3 703.2,86.3 703.4,81.5 703.5,84.5 703.7,81.6 703.9,84.9 704.0,86.3 704.2,85.5 704.4,82.9 704.5,91.3 704.7,91.3 704.9,93.3 705.0,95.3 705.2,100.0 705.4,105.5 705.5,108.8 705.7,113.7 705.9,115.1 706.0,116.1 706.2,119.8 706.4,122.0 706.5,126.8 706.7,129.6 706.9,135.2 707.0,140.4 707.2,144.7 707.4,151.1 707.5,157.9 707.7,163.7 707.9,170.4 708.0,174.7 708.1,173.1 708.2,175.2 708.4,173.5 708.5,170.9 708.7,169.3 708.9,168.2 709.0,165.3 709.2,164.2 709.4,161.4 709.5,159.3 709.7,157.6 709.9,154.8 710.0,153.6 710.2,150.7 710.4,150.7 710.5,149.8 710.7,148.2 710.9,146.8 711.0,144.5 711.2,141.0 711.4,138.1 711.5,137.4 711.7,135.6 711.9,135.6 712.0,135.2 712.2,132.8 712.4,129.7 712.5,128.5 712.7,128.6 712.9,127.5 713.0,128.8 713.2,127.8 713.4,127.1 713.5,124.8 713.7,123.4 713.9,122.7 714.0,119.2 714.2,117.6 714.4,115.4 714.5,115.4 714.7,110.6 714.9,110.5 715.0,112.7 715.2,114.3 715.4,112.6 715.5,114.3 715.7,108.8 715.9,111.0 716.0,108.2 716.2,104.3 716.4,102.5 716.5,103.9 716.7,104.5 716.9,103.6 717.0,102.0 717.2,102.6 717.4,102.1 717.6,97.5 717.7,99.0 717.9,98.0 718.1,100.3 718.2,96.2 718.4,98.7 718.6,95.9 718.7,100.3 718.9,94.3 719.1,94.4 719.2,95.0 719.4,96.5 719.6,102.4 719.7,95.4 719.9,94.6 720.1,95.9 720.2,97.3 720.4,91.8 720.6,95.1 720.7,94.2 720.9,91.7 721.1,91.7 721.2,90.7 721.4,92.5 721.5,90.4 721.6,90.9 721.7,95.1 721.9,94.5 722.1,88.9 722.2,90.0 722.4,87.4 722.6,92.7 722.7,96.5 722.9,97.6 723.1,97.8 723.2,99.3 723.4,98.6 723.6,99.1 723.7,103.5 723.9,101.4 724.1,104.7 724.2,107.2 724.4,108.4 724.6,108.7 724.7,109.2 724.9,109.6 725.1,111.6 725.2,114.5 725.4,116.7 725.6,118.8 725.7,120.5 725.9,123.0 725.9,124.8 726.1,122.5 726.2,122.1 726.4,121.1 726.6,121.0 726.7,120.5 726.9,119.6 727.1,116.5 727.2,115.0 727.4,112.2 727.6,111.2 727.7,108.9 727.9,107.4 728.1,106.1 728.2,105.7 728.4,103.9 728.6,104.8 728.7,104.7 728.9,104.9 729.1,101.7 729.2,100.9 729.4,101.4 729.6,97.7 729.7,99.7 729.9,98.3 730.1,98.6 730.2,98.6 730.4,98.4 730.6,95.5 730.7,94.0 730.9,97.6 731.1,93.5 731.2,93.3 731.4,92.7 731.6,92.0 731.7,89.6 731.9,89.3 732.1,85.0 732.2,88.3 732.4,86.4 732.6,87.7 732.7,92.9 732.9,89.9 733.1,87.8 733.2,83.6 733.4,88.9 733.4,87.6 733.6,91.5 733.7,86.4 733.9,90.6 734.1,89.2 734.2,90.5 734.4,90.8 734.6,90.0 734.7,94.5 734.9,95.9 735.1,103.1 735.2,104.4 735.4,104.5 735.6,106.1 735.7,107.5 735.9,109.9 736.1,112.8 736.2,116.1 736.4,120.4 736.6,124.1 736.7,128.3 736.9,132.0 736.9,130.4 737.1,130.7 737.2,128.5 737.4,128.3 737.6,126.5 737.7,126.3 737.9,126.7 738.1,126.1 738.2,124.6 738.4,121.3 738.6,117.8 738.7,118.2 738.9,121.0 739.1,120.0 739.2,121.1 739.4,118.8 739.6,123.0 739.7,123.4 739.9,123.3 740.0,117.0 740.1,120.0 740.2,117.2 740.4,114.9 740.6,113.5 740.7,111.8 740.9,108.2 741.1,108.8 741.2,109.5 741.4,109.2 741.6,107.4 741.7,106.7 741.9,104.3 742.1,102.4 742.2,103.0 742.4,102.9 742.6,100.6 742.7,99.5 742.9,98.3 743.1,96.9 743.2,100.6 743.4,101.1 743.6,97.8 743.7,100.1 743.9,97.6 744.1,100.4 744.2,103.6 744.4,102.7 744.6,101.9 744.7,97.3 744.9,97.4 745.0,97.4 745.1,100.3 745.2,98.8 745.4,97.0 745.6,94.6 745.7,93.3 745.9,93.2 746.1,94.4 746.2,95.0 746.4,94.3 746.6,93.3 746.7,93.1 746.9,91.1 747.1,89.6 747.2,88.8 747.4,89.6 747.6,89.8 747.7,91.4 747.9,89.8 748.1,93.1 748.2,89.8 748.4,89.6 748.6,88.6 748.7,90.8 748.9,91.5 749.1,88.2 749.2,85.9 749.4,82.5 749.6,86.7 749.7,85.9 749.8,86.9 749.9,86.8 750.1,86.2 750.2,86.3 750.4,88.1 750.6,90.8 750.7,92.5 750.9,91.4 751.1,94.1 751.2,95.8 751.4,98.6 751.6,97.8 751.7,101.9 751.9,101.6 752.1,103.9 752.2,103.0 752.4,105.9 752.6,106.8 752.7,109.6 752.9,111.0 753.1,114.2 753.2,116.7 753.4,120.8 753.6,123.6 753.7,127.7 753.9,130.3 754.1,133.9 754.2,138.0 754.4,141.6 754.6,143.9 754.7,146.5 754.7,146.1 754.9,146.0 755.1,145.1 755.2,143.3 755.4,142.1 755.6,140.7 755.7,139.4 755.9,137.7 756.1,136.2 756.2,134.2 756.4,133.2 756.6,129.8 756.7,129.0 756.9,127.6 757.1,124.2 757.2,122.5 757.4,122.9 757.6,123.4 757.7,123.1 757.9,119.9 758.1,119.3 758.2,119.7 758.4,119.1 758.6,119.1 758.7,117.6 758.9,116.8 759.1,112.8 759.2,111.1 759.4,109.9 759.6,110.4 759.7,108.0 759.9,108.9 760.1,106.5 760.2,104.6 760.4,106.6 760.6,105.3 760.7,105.6 760.9,103.2 761.1,102.5 761.2,101.1 761.4,101.3 761.6,100.0 761.7,103.5 761.9,99.8 762.1,103.8 762.2,100.7 762.4,101.9 762.6,99.9 762.7,99.6 762.9,100.7 763.1,97.4 763.2,94.6 763.4,95.8 763.6,95.1 763.7,87.2 763.9,93.0 764.1,93.0 764.2,87.5 764.4,91.6 764.6,93.8 764.7,88.8 764.9,89.7 765.1,89.2 765.2,90.6 765.4,91.1 765.6,87.3 765.7,87.1 765.9,89.8 766.1,89.8 766.2,88.3 766.4,91.3 766.6,83.9 766.7,88.2 766.9,87.6 767.1,87.7 767.2,88.5 767.3,86.2 767.4,86.2 767.6,91.0 767.7,86.2 767.9,85.9 768.1,89.9 768.3,90.2 768.4,86.2 768.6,92.8 768.8,96.5 768.9,96.1 769.1,99.5 769.3,100.1 769.4,103.6 769.6,103.4 769.8,106.0 769.9,110.5 770.1,113.7 770.3,117.0 770.4,117.9 770.6,120.0 770.8,123.6 770.9,125.9 771.1,130.7 771.3,133.9 771.4,137.4 771.6,142.2 771.8,145.8 771.9,149.3 772.0,154.2 772.1,151.0 772.3,149.8 772.4,148.8 772.6,147.3 772.8,146.4 772.9,144.8 773.1,143.2 773.3,142.0 773.4,139.2 773.6,136.9 773.8,134.6 773.9,132.7 774.1,129.3 774.3,127.8 774.4,125.5 774.6,124.4 774.8,121.6 774.9,120.8 775.1,122.7 775.3,121.5 775.4,118.8 775.6,117.2 775.8,112.9 775.9,112.8 776.1,111.6 776.3,111.1 776.4,106.1 776.6,103.4 776.8,103.0 776.9,102.8 777.1,103.2 777.3,101.7 777.4,101.0 777.6,98.9 777.8,96.0 777.9,92.8 778.1,97.0 778.3,91.9 778.4,94.4 778.6,96.4 778.8,92.6 778.9,95.4 779.1,94.6 779.3,91.8 779.4,88.0 779.6,89.7 779.8,87.6 779.9,91.4 780.1,92.2 780.3,90.6 780.4,89.1 780.6,86.5 780.8,81.0 780.9,88.3 780.9,87.8 781.1,89.5 781.3,95.9 781.4,93.5 781.6,91.8 781.8,92.7 781.9,91.0 782.1,89.5 782.3,89.6 782.4,88.8 782.6,93.0 782.8,96.5 782.9,92.4 783.1,94.5 783.3,97.3 783.4,97.9 783.6,100.0 783.8,100.6 783.9,104.4 784.1,107.7 784.3,110.3 784.4,112.6 784.6,114.1 784.8,116.8 784.9,117.4 785.1,119.0 785.1,117.0 785.3,117.4 785.4,117.4 785.6,115.2 785.8,114.3 785.9,112.0 786.1,113.5 786.3,113.2 786.4,111.7 786.6,110.5 786.8,110.0 786.9,105.3 787.1,104.7 787.3,101.9 787.4,100.2 787.6,103.0 787.8,102.1 787.9,101.2 788.1,98.6 788.3,97.2 788.4,97.2 788.6,94.7 788.8,93.2 788.9,96.5 789.1,93.9 789.3,95.8 789.4,92.8 789.6,92.1 789.8,90.9 789.9,85.0 790.1,88.8 790.3,84.6 790.4,86.1 790.6,90.7 790.8,89.0 790.9,91.0 791.1,89.7 791.3,90.2 791.4,88.9 791.6,90.7 791.8,86.7 791.9,87.3 792.1,83.9 792.3,89.0 792.4,81.0 792.6,87.7 792.8,87.7 792.9,86.5 793.0,84.8 793.1,84.6 793.3,88.4 793.4,91.4 793.6,85.6 793.8,83.2 793.9,85.5 794.1,86.1 794.3,87.6 794.4,88.0 794.6,91.1 794.8,89.3 794.9,91.5 795.1,92.7 795.3,91.1 795.4,91.8 795.6,97.0 795.8,95.3 795.9,97.7 796.1,100.2 796.3,106.7 796.4,107.1 796.6,108.3 796.8,112.9 796.9,114.3 797.1,114.3 797.3,117.0 797.4,118.8 797.6,119.4 797.8,119.8 797.9,124.2 798.1,127.9 798.3,130.0 798.4,132.9 798.6,135.3 798.6,135.6 798.8,135.1 798.9,134.1 799.1,133.0 799.3,131.6 799.4,130.0 799.6,127.4 799.8,123.4 799.9,121.4 800.1,122.5 800.3,124.5 800.4,124.8 800.6,124.7 800.8,122.8 800.9,121.9 801.1,118.2 801.3,117.8 801.4,116.1 801.6,114.9 801.8,112.9 801.9,113.4 802.1,112.0 802.3,110.7 802.4,110.8 802.6,108.9 802.8,107.3 802.9,106.8 803.1,108.1 803.3,105.4 803.4,105.3 803.6,104.0 803.8,103.4 803.9,101.0 804.1,102.9 804.3,95.7 804.4,98.9 804.6,97.8 804.8,99.6 804.9,94.0 805.1,98.6 805.3,93.4 805.4,97.9 805.6,98.4 805.8,97.9 805.9,96.1 806.1,95.3 806.3,96.8 806.4,94.5 806.6,91.3 806.8,91.5 806.9,97.8 807.1,97.6 807.3,96.1 807.4,93.6 807.6,93.0 807.8,92.3 807.9,91.3 808.1,88.6 808.3,88.5 808.4,91.1 808.4,86.9 808.6,90.2 808.8,87.8 808.9,90.9 809.1,95.6 809.3,92.5 809.4,96.8 809.6,99.1 809.8,92.2 809.9,93.4 810.1,97.4 810.3,95.6 810.4,98.8 810.6,100.5 810.8,100.0 810.9,102.9 811.1,104.7 811.3,104.0 811.4,102.4 811.6,104.0 811.8,105.3 811.9,109.5 812.1,110.8 812.3,112.8 812.4,115.0 812.6,116.9 812.8,118.4 812.9,121.5 813.1,124.5 813.3,128.0 813.4,131.1 813.6,132.5 813.6,133.9 813.8,132.8 813.9,132.2 814.1,129.6 814.3,128.4 814.4,125.2 814.6,121.8 814.8,116.4 814.9,115.7 815.1,112.7 815.3,111.4 815.4,110.0 815.6,109.5 815.8,109.6 815.9,105.3 816.1,105.7 816.3,105.4 816.4,104.6 816.6,103.7 816.8,100.5 816.9,100.1 817.1,95.9 817.3,98.6 817.4,96.5 817.6,93.2 817.8,89.9 817.9,91.6 818.1,91.1 818.3,87.8 818.5,91.8 818.6,87.7 818.8,84.7 819.0,82.0 819.1,84.8 819.3,85.1 819.5,87.0 819.6,87.2 819.8,84.0 820.0,84.6 820.1,86.8 820.3,84.8 820.5,82.7 820.6,85.1 820.8,81.9 821.0,83.6 821.0,82.0 821.1,81.2 821.3,77.4 821.5,82.0 821.6,82.2 821.8,86.0 822.0,84.3 822.1,92.4 822.3,95.2 822.5,95.4 822.6,98.9 822.8,102.0 823.0,104.5 823.1,108.8 823.3,110.8 823.5,115.1 823.6,121.0 823.8,127.6 824.0,130.3 824.1,134.1 824.3,138.1 824.5,143.1 824.6,148.9 824.8,154.2 825.0,161.5 825.1,167.9 825.2,166.8 825.3,169.7 825.5,167.3 825.6,165.7 825.8,163.6 826.0,160.6 826.1,159.6 826.3,154.6 826.5,152.2 826.6,151.7 826.8,149.9 827.0,148.4 827.1,147.0 827.3,145.5 827.5,142.9 827.6,140.5 827.8,138.0 828.0,135.8 828.1,133.7 828.3,133.1 828.5,131.2 828.6,130.6 828.8,128.9 829.0,129.2 829.1,125.2 829.3,124.9 829.5,123.3 829.6,120.7 829.8,119.2 830.0,120.0 830.1,117.4 830.3,115.8 830.5,115.6 830.6,113.1 830.8,113.5 831.0,115.7 831.1,111.3 831.3,111.8 831.5,107.5 831.6,108.2 831.8,106.8 832.0,106.3 832.1,107.0 832.3,108.6 832.5,103.4 832.6,104.7 832.8,102.3 833.0,102.8 833.1,99.8 833.3,98.5 833.5,98.0 833.6,94.6 833.8,94.6 834.0,91.8 834.1,94.6 834.3,96.2 834.5,101.6 834.6,102.1 834.8,98.5 835.0,94.6 835.1,95.5 835.3,95.0 835.5,92.4 835.6,90.6 835.8,87.6 836.0,91.5 836.1,96.5 836.3,91.7 836.5,94.2 836.5,92.5 836.6,94.5 836.8,94.5 837.0,94.8 837.1,88.2 837.3,94.0 837.5,96.5 837.6,96.0 837.8,98.2 838.0,93.8 838.1,95.5 838.3,97.7 838.5,96.4 838.6,98.7 838.8,99.2 839.0,100.3 839.1,97.1 839.3,98.6 839.5,101.0 839.6,103.0 839.8,103.3 840.0,102.3 840.1,103.6 840.3,103.0 840.5,103.5 840.6,105.6 840.8,108.0 841.0,109.3 841.0,110.0 841.1,108.4 841.3,108.2 841.5,107.6 841.6,107.1 841.8,104.6 842.0,103.8 842.1,101.1 842.3,100.5 842.5,98.5 842.6,99.0 842.8,97.9 843.0,98.1 843.1,96.8 843.3,95.4 843.5,98.7 843.6,98.1 843.8,96.4 844.0,93.9 844.1,96.0 844.3,91.9 844.5,93.1 844.6,95.6 844.8,95.1 845.0,98.8 845.1,94.4 845.3,93.1 845.5,91.9 845.6,86.6 845.8,89.0 845.8,85.9 846.0,90.6 846.1,84.7 846.3,93.4 846.5,92.5 846.6,95.7 846.8,95.3 847.0,94.7 847.1,96.5 847.3,92.0 847.5,92.2 847.6,95.9 847.8,94.1 848.0,98.8 848.1,98.8 848.3,97.6 848.5,97.5 848.6,97.8 848.8,104.2 849.0,100.8 849.1,102.0 849.3,105.5 849.5,106.7 849.6,108.1 849.8,109.9 850.0,111.7 850.1,113.8 850.3,116.4 850.5,119.6 850.6,122.1 850.8,124.6 851.0,126.6 851.1,127.6 851.3,130.3 851.5,130.4 851.6,130.1 851.7,134.6 851.8,132.5 852.0,131.7 852.1,131.6 852.3,131.0 852.5,129.3 852.6,127.6 852.8,126.3 853.0,125.6 853.1,125.2 853.3,123.7 853.5,122.8 853.6,118.6 853.8,115.5 854.0,113.4 854.1,113.2 854.3,112.5 854.5,111.5 854.6,109.4 854.8,107.3 855.0,106.2 855.1,105.8 855.3,104.6 855.5,104.3 855.6,102.8 855.8,101.9 856.0,102.3 856.1,100.8 856.3,100.2 856.5,98.1 856.6,99.0 856.8,95.4 857.0,96.2 857.1,96.1 857.3,97.6 857.5,94.1 857.6,92.7 857.8,95.5 858.0,95.6 858.1,98.7 858.3,97.3 858.5,95.9 858.6,93.2 858.8,93.6 859.0,89.1 859.1,86.8 859.3,92.9 859.5,88.8 859.6,89.7 859.8,91.4 859.9,91.1 860.0,93.2 860.1,83.8 860.3,89.2 860.5,95.3 860.6,88.7 860.8,95.3 861.0,94.4 861.1,93.6 861.3,95.0 861.5,92.1 861.6,97.1 861.8,100.5 862.0,99.3 862.1,103.6 862.3,108.9 862.5,109.6 862.6,110.0 862.8,112.7 863.0,111.1 863.1,114.6 863.3,117.1 863.5,118.8 863.6,121.5 863.8,122.1 864.0,125.7 864.1,128.1 864.3,132.4 864.5,136.0 864.6,139.3 864.8,140.9 864.8,143.1 865.0,142.2 865.1,139.2 865.3,136.5 865.5,134.5 865.6,131.5 865.8,129.9 866.0,125.8 866.1,122.7 866.3,120.6 866.5,120.8 866.6,122.5 866.8,122.2 867.0,121.8 867.1,119.2 867.3,115.3 867.5,111.0 867.6,108.7 867.8,106.9 868.0,103.5 868.1,104.7 868.3,102.3 868.5,103.6 868.6,103.3 868.8,104.8 869.0,107.3 869.2,99.0 869.3,98.9 869.5,101.2 869.7,94.3 869.8,94.9 870.0,94.5 870.2,94.6 870.3,89.0 870.5,92.0 870.7,91.8 870.8,96.7 871.0,90.9 871.2,90.6 871.3,93.2 871.5,86.2 871.7,94.0 871.8,91.1 871.8,97.3 872.0,93.0 872.2,92.6 872.3,91.4 872.5,91.4 872.7,86.9 872.8,92.9 873.0,88.9 873.2,90.9 873.3,97.7 873.5,95.8 873.7,95.1 873.8,98.1 874.0,95.6 874.2,97.8 874.3,97.1 874.5,96.3 874.7,99.2 874.8,101.9 875.0,102.0 875.2,105.1 875.3,107.3 875.5,108.1 875.7,108.3 875.8,109.0 876.0,109.0 876.2,109.4 876.3,112.5 876.5,115.5 876.7,118.1 876.8,119.7 877.0,118.6 877.1,122.0 877.2,120.0 877.3,118.0 877.5,115.9 877.7,117.6 877.8,115.7 878.0,114.4 878.2,113.8 878.3,113.7 878.5,112.5 878.7,109.5 878.8,108.9 879.0,108.4 879.2,107.7 879.3,107.6 879.5,104.0 879.7,104.5 879.8,106.1 880.0,102.9 880.2,103.5 880.3,99.8 880.5,102.7 880.7,101.0 880.8,101.6 880.9,101.0 881.0,99.3 881.2,97.1 881.3,97.1 881.5,101.3 881.7,100.1 881.8,97.7 882.0,99.6 882.2,103.4 882.3,106.8 882.5,108.9 882.7,111.9 882.8,111.0 883.0,111.9 883.2,111.9 883.3,113.2 883.5,116.3 883.7,116.8 883.8,118.7 884.0,122.1 884.2,124.0 884.3,124.7 884.4,124.0 884.5,126.1 884.7,124.0 884.8,124.1 885.0,121.6 885.2,120.2 885.3,117.3 885.5,116.3 885.7,112.9 885.8,115.0 886.0,116.0 886.2,115.3 886.3,114.1 886.5,113.1 886.7,109.9 886.8,109.0 887.0,110.5 887.2,110.4 887.3,108.3 887.5,108.4 887.7,106.8 887.8,103.3 888.0,101.6 888.2,101.2 888.3,100.7 888.5,103.3 888.7,103.7 888.8,100.8 889.0,103.3 889.2,103.1 889.3,98.8 889.5,98.4 889.7,97.7 889.8,93.1 890.0,95.0 890.2,90.4 890.3,96.4 890.5,93.2 890.7,91.7 890.8,90.7 891.0,91.0 891.2,97.9 891.3,92.8 891.5,92.9 891.7,92.3 891.8,88.6 892.0,94.2 892.2,86.1 892.3,95.5 892.5,91.2 892.7,93.3 892.8,91.1 892.8,94.1 893.0,95.9 893.2,91.0 893.3,96.1 893.5,95.2 893.7,96.1 893.8,97.2 894.0,100.7 894.2,100.5 894.3,102.9 894.5,104.5 894.7,104.0 894.8,108.6 895.0,111.6 895.2,112.0 895.3,113.9 895.5,116.3 895.7,121.6 895.8,122.6 896.0,128.3 896.0,125.9 896.2,123.7 896.3,124.2 896.5,125.3 896.7,123.7 896.8,123.9 897.0,121.8 897.2,119.1 897.3,118.1 897.5,117.4 897.7,116.8 897.8,114.9 898.0,112.0 898.2,108.9 898.3,109.8 898.5,107.8 898.7,106.6 898.8,104.4 899.0,105.4 899.2,108.2 899.3,107.2 899.5,106.4 899.7,104.9 899.8,103.0 900.0,103.8 900.2,103.9 900.3,104.3 900.5,102.5 900.7,100.7 900.8,104.7 901.0,100.8 901.2,103.9 901.3,101.0 901.5,102.6 901.7,101.2 901.8,101.3 901.9,100.2 902.0,101.8 902.2,99.2 902.3,100.2 902.5,104.9 902.7,109.5 902.8,104.3 903.0,104.7 903.2,111.2 903.3,104.6 903.5,106.0 903.7,106.0 903.8,106.2 904.0,108.1 904.2,112.1 904.3,113.7 904.5,115.7 904.7,116.2 904.8,119.4 905.0,120.8 905.2,123.0 905.3,125.8 905.4,125.5 905.5,124.8 905.7,122.5 905.8,120.9 906.0,118.4 906.2,116.5 906.3,113.8 906.5,112.0 906.7,107.4 906.8,105.5 907.0,105.0 907.2,105.0 907.3,102.0 907.5,102.1 907.7,101.5 907.8,98.7 908.0,99.0 908.2,104.1 908.3,97.6 908.5,101.2 908.7,98.8 908.8,100.5 909.0,98.1 909.2,93.0 909.3,86.7 909.5,92.5 909.6,93.2 909.7,91.3 909.8,92.8 910.0,96.2 910.2,93.0 910.3,95.2 910.5,93.8 910.7,89.1 910.8,89.1 911.0,91.5 911.2,87.5 911.3,95.7 911.5,97.7 911.7,97.4 911.8,98.7 912.0,95.0 912.2,98.9 912.3,99.8 912.5,98.8 912.7,98.5 912.8,95.9 913.0,98.3 913.2,97.2 913.3,100.2 913.5,103.2 913.7,102.6 913.8,102.1 914.0,103.1 914.2,100.9 914.3,102.1 914.5,104.2 914.7,102.9 914.8,103.1 915.0,103.9 915.2,105.8 915.3,109.8 915.5,110.9 915.7,112.6 915.8,111.9 916.0,112.2 916.2,113.4 916.3,115.4 916.5,117.1 916.6,114.3 916.7,116.4 916.8,116.3 917.0,116.6 917.2,114.5 917.3,112.7 917.5,111.3 917.7,109.3 917.8,109.5 918.0,108.7 918.2,109.4 918.3,107.0 918.5,104.0 918.7,106.0 918.8,106.2 919.0,105.2 919.2,102.9 919.3,100.4 919.5,101.6 919.7,97.4 919.9,98.6 920.0,98.9 920.2,96.4 920.4,91.1 920.5,95.7 920.7,91.4 920.9,90.1 921.0,94.9 921.2,96.7 921.4,97.2 921.5,98.1 921.5,99.3 921.7,92.4 921.9,99.5 922.0,103.3 922.2,100.4 922.4,100.2 922.5,101.2 922.7,104.1 922.9,102.0 923.0,102.4 923.2,103.2 923.4,109.9 923.5,112.6 923.7,113.7 923.9,117.1 924.0,115.3 924.2,116.0 924.4,115.1 924.5,117.2 924.7,120.5 924.9,123.2 925.0,125.5 925.1,126.9 925.2,125.2 925.4,124.5 925.5,124.3 925.7,124.0 925.9,123.2 926.0,122.2 926.2,120.1 926.4,116.0 926.5,116.3 926.7,115.1 926.9,115.3 927.0,115.1 927.2,114.7 927.4,112.9 927.5,109.6 927.7,110.1 927.9,108.3 928.0,109.7 928.2,110.2 928.4,108.8 928.5,109.5 928.7,108.0 928.9,106.5 929.0,108.5 929.2,106.0 929.4,104.7 929.5,106.9 929.7,105.1 929.9,105.8 930.0,104.2 930.2,107.9 930.4,107.3 930.5,107.1 930.7,101.3 930.9,103.6 931.0,102.9 931.2,100.3 931.4,97.3 931.5,92.7 931.7,95.4 931.9,93.6 932.0,90.7 932.2,95.0 932.4,93.2 932.5,92.7 932.7,97.3 932.9,91.3 933.0,87.5 933.2,87.3 933.4,94.7 933.5,93.2 933.7,91.1 933.9,86.1 934.0,88.1 934.2,86.8 934.4,90.3 934.5,89.7 934.7,90.7 934.9,93.2 934.9,91.8 935.0,90.6 935.2,92.7 935.4,82.8 935.5,88.7 935.7,95.5 935.9,94.5 936.0,92.9 936.2,95.2 936.4,95.4 936.5,97.2 936.7,101.4 936.9,100.8 937.0,102.8 937.2,103.0 937.4,104.3 937.5,104.8 937.7,106.3 937.9,107.6 938.0,109.9 938.2,113.8 938.4,117.9 938.4,118.5 938.5,118.3 938.7,116.3 938.9,115.4 939.0,113.7 939.2,113.2 939.4,110.9 939.5,110.3 939.7,107.9 939.9,105.0 940.0,106.3 940.2,105.5 940.4,102.5 940.5,102.1 940.7,102.2 940.9,107.8 941.0,103.6 941.2,106.1 941.4,102.1 941.5,100.4 941.7,98.5 941.9,92.3 941.9,97.4 942.0,100.4 942.2,95.0 942.4,98.5 942.5,97.4 942.7,102.2 942.9,103.0 943.0,105.5 943.2,103.6 943.4,102.3 943.5,102.6 943.7,104.3 943.9,104.1 944.0,105.6 944.2,106.1 944.4,107.1 944.5,107.9 944.7,109.4 944.7,112.9" fill="none" stroke="#000" stroke-width="2.0" stroke-linejoin="round"/>
<polyline points="525.9,383.5 525.9,382.9 526.1,383.6 526.3,379.8 526.5,381.2 526.7,382.2 526.9,382.9 527.1,382.9 527.3,383.5 527.5,382.2 527.7,381.9 527.9,381.8 528.1,381.7 528.3,382.1 528.5,382.7 528.7,381.8 528.9,382.8 529.1,382.6 529.3,382.7 529.5,381.3 529.7,382.3 529.9,380.8 530.1,380.9 530.3,381.2 530.5,380.8 530.7,379.2 530.9,379.2 531.1,380.9 531.3,380.3 531.5,381.9 531.7,381.5 531.9,381.2 532.1,381.0 532.3,381.4 532.5,380.5 532.7,381.1 532.9,379.6 533.1,379.9 533.3,379.8 533.5,380.6 533.7,380.5 533.9,380.3 534.0,380.0 534.1,382.2 534.3,379.5 534.5,378.1 534.7,376.9 534.9,376.6 535.1,374.1 535.3,373.0 535.5,370.6 535.7,368.6 535.9,370.1 536.1,370.0 536.2,368.2 536.3,368.9 536.5,369.3 536.7,368.6 536.9,369.1 537.1,370.6 537.3,371.8 537.5,371.3 537.7,371.9 537.9,372.7 538.0,372.3 538.1,372.3 538.3,372.5 538.5,372.9 538.7,371.2 538.9,373.1 539.1,372.0 539.3,374.4 539.5,374.7 539.7,374.0 539.9,373.2 540.1,373.8 540.3,373.7 540.5,374.4 540.6,374.0 540.7,374.0 540.9,375.5 541.1,374.3 541.3,374.0 541.5,372.9 541.7,373.6 541.9,371.8 542.1,373.2 542.3,374.9 542.5,373.6 542.7,372.7 542.9,373.6 543.1,373.4 543.3,374.5 543.5,373.5 543.7,374.2 543.9,374.1 544.1,374.0 544.3,372.4 544.5,374.0 544.7,371.6 544.9,370.2 545.1,370.1 545.2,372.6 545.3,370.4 545.5,369.3 545.7,369.0 545.9,367.6 546.1,365.8 546.3,364.2 546.4,364.5 546.5,366.8 546.7,366.7 546.9,369.4 547.1,372.4 547.3,373.9 547.5,374.6 547.7,377.1 547.9,378.5 548.1,379.2 548.2,383.1 548.3,383.1 548.5,384.1 548.7,384.7 548.9,384.2 549.1,385.3 549.3,385.0 549.5,386.3 549.7,385.8 549.9,386.6 550.1,386.4 550.3,388.0 550.5,388.3 550.7,389.0 550.9,387.5 551.1,388.4 551.3,391.0 551.5,390.7 551.6,391.0 551.7,391.1 551.9,390.4 552.1,390.0 552.3,390.2 552.5,389.8 552.7,389.8 552.9,389.4 553.1,392.1 553.3,391.7 553.5,392.6 553.7,391.6 553.9,391.3 554.1,389.5 554.3,389.5 554.5,390.0 554.7,389.6 554.9,389.2 555.1,389.1 555.3,389.2 555.5,389.6 555.5,388.6 555.7,389.8 555.9,386.2 556.1,385.2 556.3,385.2 556.5,381.1 556.7,381.4 556.7,380.9 556.9,383.0 557.1,384.7 557.3,385.5 557.5,386.7 557.7,388.9 557.9,391.2 558.1,392.0 558.3,396.1 558.5,397.6 558.6,398.3 558.7,396.1 558.9,389.7 559.1,382.8 559.3,377.2 559.5,372.4 559.7,368.5 559.9,364.7 560.1,357.5 560.3,351.9 560.4,349.8 560.5,351.3 560.7,353.2 560.9,356.0 561.1,357.9 561.3,359.7 561.5,361.2 561.7,364.1 561.9,366.7 562.1,368.4 562.2,369.9 562.3,370.8 562.5,371.2 562.7,371.3 562.9,373.0 563.1,371.3 563.3,373.5 563.5,375.1 563.7,374.6 563.9,375.1 564.1,375.7 564.3,376.3 564.5,376.8 564.7,378.0 564.9,379.1 565.1,378.4 565.3,377.3 565.5,378.5 565.5,378.4 565.7,378.5 565.9,377.1 566.1,378.1 566.3,377.4 566.5,378.7 566.7,376.9 566.9,377.1 567.1,377.0 567.3,379.5 567.5,379.8 567.7,379.7 567.9,379.5 568.1,379.1 568.3,379.4 568.5,378.3 568.7,380.0 568.9,379.2 569.1,378.6 569.3,377.6 569.5,379.4 569.7,379.0 569.9,378.2 570.1,379.7 570.3,378.8 570.5,377.5 570.7,377.9 570.9,377.5 571.1,376.4 571.3,377.0 571.4,378.5 571.5,378.6 571.7,378.4 571.9,377.9 572.1,376.6 572.3,377.2 572.5,377.7 572.7,377.6 572.9,376.2 573.1,376.3 573.3,377.9 573.5,377.1 573.7,376.7 573.9,376.9 574.1,377.5 574.3,376.5 574.3,378.8 574.5,375.8 574.7,372.0 574.9,369.3 575.1,369.7 575.3,368.0 575.5,365.2 575.5,366.0 575.7,366.4 575.9,365.7 576.1,367.8 576.3,370.7 576.5,371.1 576.7,371.8 576.9,371.4 577.1,371.8 577.3,374.5 577.3,373.7 577.5,373.5 577.7,374.0 577.9,374.6 578.1,375.4 578.3,376.9 578.5,377.6 578.7,375.8 578.9,376.7 579.1,376.6 579.3,378.1 579.5,377.4 579.7,378.8 579.9,378.7 580.1,378.7 580.2,378.5 580.3,377.9 580.5,378.7 580.7,378.4 580.9,379.8 581.1,380.3 581.3,378.3 581.5,378.1 581.7,377.9 581.9,377.2 582.1,378.4 582.3,377.3 582.5,377.8 582.7,377.1 582.9,379.0 583.1,377.9 583.3,378.1 583.4,377.6 583.5,376.9 583.7,374.1 583.9,373.4 584.1,373.1 584.3,374.1 584.5,372.7 584.6,372.6 584.7,375.2 584.9,378.5 585.1,381.9 585.3,386.4 585.5,391.0 585.7,395.1 585.9,400.5 586.1,405.7 586.3,407.1 586.4,409.6 586.5,411.3 586.7,414.1 586.9,415.6 587.1,419.0 587.3,419.8 587.5,422.9 587.7,423.9 587.8,425.4 587.9,417.6 588.1,407.8 588.3,396.7 588.5,385.1 588.7,374.0 588.9,362.3 589.1,350.7 589.3,341.0 589.3,342.9 589.5,346.7 589.7,347.2 589.9,348.1 590.1,349.7 590.3,353.6 590.5,355.9 590.7,358.6 590.9,359.6 591.1,363.1 591.1,362.3 591.3,362.8 591.5,364.5 591.7,363.7 591.9,362.2 592.1,365.1 592.3,367.3 592.5,368.8 592.7,366.4 592.9,368.5 593.1,369.4 593.3,370.3 593.5,370.6 593.7,369.7 593.9,370.5 594.1,370.5 594.3,371.3 594.5,371.6 594.7,371.2 594.9,372.6 594.9,372.3 595.1,371.6 595.3,372.8 595.5,374.0 595.7,374.6 595.9,373.5 596.1,374.2 596.3,373.4 596.5,372.5 596.7,373.7 596.9,373.5 597.1,373.5 597.3,372.9 597.5,374.8 597.7,374.8 597.9,373.3 598.1,375.2 598.3,375.1 598.5,374.3 598.7,375.4 598.9,377.5 599.1,377.0 599.3,377.0 599.3,377.8 599.5,378.2 599.7,376.4 599.9,376.0 600.1,375.9 600.3,377.2 600.5,378.1 600.7,376.7 600.9,375.6 601.1,375.7 601.3,374.8 601.5,375.6 601.7,375.8 601.9,376.1 602.1,376.0 602.3,375.6 602.5,374.7 602.7,374.5 602.9,376.4 603.1,377.2 603.3,375.2 603.5,373.1 603.7,374.7 603.9,376.0 604.1,374.2 604.3,374.7 604.5,374.2 604.7,372.9 604.9,372.2 605.1,373.7 605.3,373.4 605.5,373.5 605.7,374.4 605.9,372.6 606.1,372.2 606.3,374.1 606.5,374.7 606.7,373.1 606.9,373.3 607.1,372.4 607.3,372.8 607.5,374.2 607.7,373.8 607.9,373.3 608.0,373.0 608.1,372.5 608.3,372.3 608.5,372.8 608.7,373.4 608.9,375.0 609.1,374.0 609.3,373.9 609.5,374.5 609.7,374.6 609.9,374.8 610.1,375.6 610.3,375.2 610.5,373.7 610.7,375.3 610.9,375.9 611.1,376.4 611.3,376.9 611.5,375.7 611.7,376.1 611.9,374.8 612.1,375.3 612.3,375.8 612.5,375.6 612.7,376.4 612.9,377.0 613.1,377.2 613.3,376.3 613.5,376.2 613.7,376.7 613.9,377.6 614.0,378.0 614.1,376.5 614.3,377.1 614.5,376.6 614.7,376.9 614.9,376.9 615.1,378.2 615.3,378.0 615.5,378.5 615.7,377.2 615.9,377.3 616.1,377.5 616.3,378.9 616.5,378.8 616.7,376.9 616.9,377.7 617.1,378.7 617.3,375.9 617.5,375.5 617.7,375.9 617.9,376.0 618.1,375.5 618.3,377.2 618.5,376.3 618.7,375.6 618.9,374.1 619.1,374.7 619.3,375.8 619.4,375.1 619.5,373.6 619.7,371.4 619.9,367.9 620.1,365.9 620.3,361.4 620.5,359.3 620.6,358.6 620.7,359.8 620.9,361.3 621.1,365.1 621.3,365.1 621.5,367.6 621.7,370.5 621.9,371.7 622.1,373.2 622.3,375.9 622.4,376.6 622.5,376.4 622.7,377.2 622.9,378.6 623.1,380.5 623.3,379.0 623.5,381.4 623.7,380.5 623.9,381.2 624.1,380.1 624.3,381.5 624.5,383.5 624.7,384.4 624.9,383.9 625.0,384.3 625.1,384.5 625.3,384.5 625.5,383.5 625.7,382.8 625.9,382.9 626.1,382.7 626.3,382.6 626.5,383.2 626.7,382.5 626.9,383.4 627.1,382.9 627.3,382.9 627.5,383.6 627.7,383.8 627.9,382.5 628.1,382.0 628.3,381.6 628.5,381.5 628.7,381.7 628.9,382.1 629.1,382.0 629.3,381.6 629.5,381.6 629.7,382.8 629.9,384.8 630.1,383.3 630.3,382.7 630.5,382.0 630.7,381.7 630.9,383.8 631.1,382.9 631.3,382.7 631.5,382.7 631.7,383.8 631.9,382.8 632.1,382.4 632.3,381.7 632.5,381.2 632.7,382.2 632.9,381.1 633.2,384.2 633.4,380.9 633.6,381.9 633.8,382.8 634.0,383.0 634.2,382.6 634.4,382.8 634.5,381.4 634.6,381.8 634.8,379.3 635.0,377.2 635.2,374.7 635.4,372.5 635.6,370.7 635.8,369.4 636.0,366.7 636.2,365.4 636.4,364.6 636.4,362.3 636.6,364.9 636.8,367.0 637.0,367.3 637.2,369.5 637.4,371.7 637.6,373.7 637.8,376.0 638.0,378.8 638.2,379.9 638.2,380.3 638.4,380.5 638.6,381.6 638.8,380.8 639.0,382.6 639.2,384.3 639.4,383.9 639.6,384.2 639.8,384.4 640.0,385.8 640.2,386.2 640.4,386.7 640.6,385.1 640.8,387.9 641.0,389.1 641.1,388.0 641.2,388.6 641.4,388.0 641.6,389.4 641.8,388.3 642.0,388.0 642.2,387.8 642.4,386.4 642.6,387.1 642.8,387.2 643.0,386.2 643.2,386.7 643.4,387.3 643.6,387.4 643.8,388.5 644.0,387.0 644.2,386.0 644.4,385.2 644.6,385.9 644.8,387.0 645.0,386.0 645.2,386.9 645.4,386.7 645.6,385.9 645.8,385.7 646.0,387.0 646.2,385.4 646.4,386.9 646.6,385.9 646.8,387.7 647.0,387.0 647.2,386.7 647.4,386.8 647.6,385.2 647.8,386.1 648.0,386.0 648.2,386.6 648.4,386.5 648.6,386.0 648.8,385.5 649.0,384.6 649.2,384.6 649.4,383.4 649.5,385.2 649.6,382.5 649.8,380.1 650.0,376.9 650.2,375.3 650.4,374.6 650.6,372.2 650.7,369.6 650.8,371.3 651.0,369.3 651.2,372.0 651.4,373.4 651.6,373.3 651.8,374.6 652.0,374.8 652.2,375.1 652.4,376.2 652.5,376.9 652.6,375.3 652.8,374.5 653.0,376.0 653.2,375.6 653.4,376.1 653.6,376.7 653.8,377.0 654.0,376.0 654.2,376.6 654.4,377.1 654.6,376.8 654.8,378.3 655.0,379.2 655.2,378.7 655.4,379.8 655.6,378.3 655.8,378.9 656.0,379.6 656.2,378.4 656.4,379.2 656.6,380.4 656.8,379.4 657.0,379.9 657.2,381.1 657.4,379.6 657.6,380.5 657.8,379.7 658.0,379.4 658.0,380.0 658.2,380.3 658.4,380.8 658.6,382.7 658.8,383.4 659.0,384.3 659.2,384.1 659.4,382.6 659.6,383.9 659.8,384.4 660.0,385.2 660.2,384.0 660.4,385.4 660.6,386.0 660.8,386.4 661.0,388.5 661.2,389.4 661.4,388.8 661.6,390.0 661.8,390.4 662.0,391.2 662.2,391.4 662.4,392.3 662.4,391.7 662.6,392.2 662.8,391.2 663.0,389.7 663.2,389.8 663.4,389.5 663.6,389.4 663.8,388.9 663.9,386.4 664.0,386.0 664.2,382.3 664.4,375.6 664.6,371.0 664.8,365.6 665.0,361.8 665.1,356.4 665.2,358.4 665.4,360.6 665.6,362.6 665.8,366.5 666.0,367.7 666.2,369.9 666.4,372.3 666.6,373.9 666.8,377.5 666.9,379.0 667.0,378.4 667.2,382.1 667.4,382.1 667.6,384.4 667.8,385.1 668.0,386.4 668.2,388.9 668.3,388.7 668.4,386.2 668.6,388.3 668.8,388.4 669.0,389.4 669.2,388.6 669.4,387.7 669.6,386.9 669.8,386.7 670.0,387.6 670.2,387.0 670.4,389.4 670.6,388.2 670.8,388.1 671.0,385.9 671.2,386.6 671.4,386.1 671.6,386.8 671.8,387.1 672.0,386.1 672.2,386.9 672.4,386.9 672.6,387.2 672.8,384.5 673.0,385.7 673.2,385.1 673.4,383.7 673.6,383.5 673.8,382.7 674.0,384.0 674.2,382.7 674.4,384.1 674.6,383.2 674.8,384.2 675.0,382.6 675.2,383.1 675.4,383.4 675.6,382.5 675.8,382.0 676.0,382.7 676.0,383.0 676.2,382.4 676.4,381.4 676.6,381.4 676.8,382.3 677.0,382.1 677.2,383.1 677.4,383.4 677.6,381.4 677.8,382.4 678.0,381.8 678.2,381.7 678.4,381.8 678.6,381.5 678.8,380.9 679.0,380.4 679.2,379.6 679.4,381.5 679.6,379.8 679.8,381.2 680.0,380.4 680.2,380.0 680.4,378.7 680.6,380.7 680.8,380.8 681.0,380.0 681.2,378.4 681.4,379.2 681.5,379.5 681.6,377.1 681.8,373.5 682.0,370.8 682.2,369.4 682.4,363.2 682.6,360.7 682.7,359.4 682.8,359.7 683.0,361.8 683.2,361.8 683.4,363.4 683.6,366.6 683.8,368.2 684.0,371.2 684.2,372.1 684.4,375.1 684.5,374.8 684.6,377.0 684.8,376.3 685.0,375.3 685.2,376.2 685.4,374.9 685.6,375.6 685.8,376.6 686.0,377.0 686.2,377.3 686.4,377.9 686.6,376.0 686.8,376.2 687.0,378.1 687.2,380.6 687.4,380.5 687.6,379.9 687.8,379.7 688.0,381.4 688.2,381.5 688.4,380.0 688.6,381.0 688.8,382.0 688.9,381.4 689.0,382.5 689.2,381.9 689.4,383.1 689.6,384.7 689.8,384.3 690.0,384.3 690.2,385.0 690.4,386.1 690.6,385.8 690.8,385.5 691.0,385.2 691.2,385.5 691.4,386.7 691.6,387.9 691.8,388.7 692.0,387.3 692.2,388.1 692.4,387.3 692.6,387.8 692.8,390.1 693.0,390.4 693.2,391.3 693.4,390.3 693.6,392.2 693.8,390.8 694.0,393.0 694.2,392.5 694.4,393.6 694.6,395.3 694.7,394.6 694.8,393.8 695.0,390.6 695.2,387.9 695.4,384.5 695.6,382.3 695.8,377.9 696.0,377.2 696.2,373.2 696.4,368.9 696.6,366.3 696.8,362.7 697.0,359.0 697.0,359.4 697.2,361.4 697.4,362.2 697.6,364.2 697.8,367.3 698.0,370.7 698.2,372.8 698.4,375.1 698.6,377.2 698.8,380.0 698.8,379.9 699.0,381.3 699.2,380.4 699.4,380.8 699.6,381.9 699.8,382.4 700.0,382.3 700.2,383.5 700.4,383.0 700.6,382.2 700.8,382.0 701.0,385.8 701.2,386.1 701.4,386.9 701.6,387.1 701.8,387.9 702.0,387.9 702.2,388.1 702.4,387.8 702.6,387.7 702.8,388.6 702.8,388.7 703.0,387.9 703.2,388.7 703.4,389.1 703.6,388.4 703.8,387.6 704.0,386.6 704.2,386.8 704.4,387.4 704.6,387.8 704.8,388.3 705.0,388.3 705.2,388.4 705.4,389.1 705.6,388.2 705.8,389.1 706.0,389.5 706.2,389.3 706.4,388.1 706.6,387.8 706.8,388.7 707.0,388.3 707.2,388.3 707.4,388.1 707.6,387.5 707.8,387.7 708.0,387.7 708.2,387.6 708.4,387.9 708.6,387.3 708.8,388.0 709.0,386.9 709.2,387.3 709.4,387.2 709.6,385.7 709.8,385.8 710.0,386.2 710.2,386.8 710.4,387.0 710.6,387.3 710.8,385.8 711.0,385.3 711.2,385.4 711.4,384.0 711.6,384.4 711.8,383.8 712.0,384.8 712.2,384.8 712.4,385.9 712.6,388.0 712.6,385.7 712.8,384.9 713.0,383.0 713.2,378.3 713.4,374.7 713.6,370.9 713.8,368.6 713.8,368.9 714.0,368.4 714.2,371.1 714.4,372.2 714.6,373.3 714.8,374.3 715.0,375.8 715.2,376.2 715.4,376.1 715.6,375.3 715.6,376.7 715.8,376.7 716.0,377.4 716.2,379.1 716.4,378.2 716.6,379.1 716.8,378.2 717.0,378.5 717.2,377.8 717.4,378.0 717.6,379.7 717.8,379.6 718.0,380.7 718.2,379.3 718.4,379.4 718.6,378.5 718.8,378.7 719.0,379.7 719.2,378.8 719.4,380.4 719.6,379.2 719.7,380.0 719.8,379.5 720.0,382.1 720.2,380.2 720.4,381.7 720.6,383.2 720.8,383.5 721.0,381.8 721.2,384.0 721.4,383.0 721.6,383.2 721.8,385.9 722.0,385.3 722.2,386.5 722.4,387.9 722.6,387.4 722.8,387.9 723.0,388.8 723.2,390.3 723.4,389.4 723.6,391.7 723.8,391.4 724.0,391.1 724.1,391.7 724.2,391.5 724.4,389.3 724.6,387.1 724.8,384.6 725.0,382.9 725.2,380.0 725.4,378.1 725.6,373.0 725.8,372.9 726.0,370.0 726.2,369.2 726.3,366.7 726.4,367.4 726.6,368.7 726.8,370.1 727.0,371.7 727.2,372.3 727.4,373.9 727.6,374.8 727.8,377.3 728.0,379.8 728.1,378.0 728.2,379.0 728.4,378.3 728.6,377.1 728.8,379.3 729.0,380.2 729.2,379.4 729.4,380.2 729.6,378.0 729.8,379.4 730.0,379.5 730.2,380.5 730.4,379.7 730.6,379.9 730.8,382.0 731.0,380.4 731.2,382.3 731.4,383.2 731.5,382.9 731.6,382.7 731.8,382.6 732.0,383.3 732.2,382.7 732.4,381.7 732.6,381.9 732.8,381.8 733.0,384.4 733.2,383.4 733.4,382.4 733.6,382.4 733.8,383.0 734.0,382.4 734.2,381.5 734.4,380.9 734.6,382.5 734.8,381.3 735.0,381.7 735.2,382.7 735.4,381.5 735.6,381.5 735.8,380.4 736.0,381.5 736.2,382.0 736.4,383.8 736.6,380.7 736.8,380.9 737.0,380.0 737.2,379.8 737.4,379.2 737.6,379.3 737.8,380.8 738.0,381.2 738.2,379.6 738.4,379.0 738.6,379.5 738.8,380.9 739.0,379.7 739.2,378.1 739.4,380.1 739.5,379.6 739.6,378.7 739.8,377.5 740.0,375.3 740.2,371.7 740.4,371.2 740.6,369.3 740.8,366.7 741.0,363.7 741.2,362.6 741.4,360.8 741.6,360.2 741.8,356.3 741.8,357.2 742.0,358.9 742.2,360.9 742.4,362.5 742.6,365.0 742.8,366.8 743.0,369.2 743.2,370.2 743.4,373.9 743.6,376.2 743.6,375.9 743.8,378.5 744.0,378.8 744.2,378.1 744.4,379.7 744.6,378.7 744.8,380.5 745.0,382.2 745.2,383.5 745.4,383.1 745.5,384.8 745.6,383.7 745.8,384.2 746.0,382.6 746.2,383.5 746.4,383.2 746.6,384.6 746.8,382.4 747.0,382.9 747.2,383.0 747.4,383.5 747.6,383.0 747.8,383.2 748.0,383.1 748.2,383.7 748.4,381.4 748.6,382.0 748.8,381.8 749.0,381.0 749.2,381.8 749.4,382.1 749.6,380.0 749.8,382.7 750.0,381.0 750.0,381.2 750.2,381.3 750.4,379.1 750.6,380.4 750.8,380.1 751.0,380.3 751.2,381.1 751.4,380.6 751.6,381.2 751.8,380.8 752.0,380.5 752.2,381.1 752.4,380.8 752.6,380.5 752.8,379.8 753.0,378.9 753.2,379.4 753.4,379.4 753.6,378.8 753.8,379.7 754.0,379.1 754.2,378.6 754.4,379.3 754.5,379.4 754.6,379.2 754.8,378.8 755.0,375.1 755.2,374.5 755.4,373.5 755.6,372.8 755.7,370.6 755.8,372.4 756.0,372.4 756.2,373.4 756.4,374.0 756.6,373.6 756.8,374.2 757.0,375.2 757.2,378.9 757.4,378.0 757.5,377.9 757.6,378.3 757.8,379.0 758.0,378.3 758.2,377.9 758.4,378.1 758.6,377.5 758.8,378.0 759.0,379.3 759.2,379.2 759.4,378.1 759.6,380.3 759.8,379.4 760.0,378.7 760.2,380.2 760.4,380.3 760.5,381.0 760.6,380.4 760.8,379.9 761.0,381.7 761.2,381.0 761.4,380.4 761.6,379.9 761.8,379.7 762.0,380.4 762.2,378.0 762.4,378.4 762.6,379.1 762.8,379.2 763.0,378.0 763.2,378.4 763.4,378.0 763.6,376.8 763.8,377.2 764.0,377.6 764.2,377.0 764.4,377.6 764.6,377.2 764.8,376.2 765.0,375.8 765.0,376.5 765.2,374.2 765.4,375.9 765.6,375.1 765.8,377.0 766.0,374.5 766.2,373.8 766.4,373.6 766.6,373.9 766.8,373.6 767.0,374.8 767.2,376.8 767.4,376.3 767.6,377.2 767.8,377.2 768.0,374.9 768.2,375.9 768.4,377.3 768.6,376.2 768.8,374.1 769.0,375.5 769.2,376.4 769.4,372.9 769.6,373.8 769.8,374.9 769.8,374.1 770.0,372.6 770.2,372.2 770.4,372.8 770.6,370.7 770.8,371.3 771.0,369.8 771.0,370.5 771.2,370.5 771.4,370.8 771.6,374.6 771.8,374.4 772.0,375.2 772.2,374.8 772.4,376.4 772.6,378.1 772.8,378.2 772.8,376.8 773.0,376.6 773.2,375.8 773.4,377.9 773.6,378.6 773.8,378.4 774.0,379.8 774.2,380.1 774.4,382.1 774.6,380.0 774.8,381.1 775.0,380.5 775.2,382.3 775.4,382.1 775.6,381.8 775.6,381.8 775.8,383.1 776.0,382.2 776.2,380.9 776.4,381.7 776.6,381.7 776.8,380.9 777.0,381.3 777.2,382.2 777.4,382.1 777.6,381.8 777.8,382.1 778.0,382.4 778.1,380.8 778.2,380.7 778.4,377.9 778.6,377.9 778.8,376.2 779.0,377.2 779.2,375.9 779.3,375.0 779.4,376.9 779.6,378.2 779.8,380.3 780.0,381.0 780.2,382.7 780.4,384.4 780.6,388.3 780.8,387.8 780.8,387.8 781.0,385.9 781.2,381.1 781.4,375.8 781.6,373.7 781.8,369.7 782.0,365.2 782.2,362.4 782.4,358.3 782.6,354.1 782.8,352.2 782.8,351.3 783.0,354.5 783.2,357.7 783.4,361.4 783.6,365.1 783.8,367.0 784.0,369.1 784.2,371.2 784.4,375.1 784.6,377.1 784.6,377.7 784.8,379.2 785.0,381.5 785.2,383.3 785.4,384.1 785.6,385.0 785.8,386.9 786.0,387.8 786.0,388.5 786.2,388.2 786.4,386.7 786.6,387.7 786.8,386.9 787.0,387.8 787.2,387.8 787.4,387.7 787.6,388.4 787.8,387.3 788.0,387.3 788.2,386.3 788.4,386.8 788.6,386.7 788.8,387.1 789.0,387.1 789.2,385.8 789.4,388.1 789.6,387.9 789.8,385.8 790.0,387.4 790.2,388.0 790.4,387.6 790.6,387.1 790.8,386.8 790.8,386.4 791.0,385.7 791.2,386.6 791.4,384.3 791.6,383.5 791.8,380.9 792.0,381.0 792.0,381.0 792.2,382.7 792.4,384.0 792.6,383.3 792.8,386.3 793.0,385.8 793.2,387.1 793.4,389.5 793.6,389.8 793.8,391.0 793.8,393.0 794.0,391.8 794.2,392.7 794.4,393.2 794.6,392.0 794.8,392.8 795.0,393.9 795.2,392.8 795.4,394.1 795.6,395.3 795.8,396.2 796.0,394.3 796.2,395.0 796.4,394.7 796.6,395.3 796.6,394.8 796.8,390.6 797.0,385.5 797.2,378.8 797.4,374.2 797.6,367.8 797.8,362.7 798.0,358.5 798.0,357.5 798.2,361.0 798.4,363.0 798.6,365.0 798.8,366.6 799.0,370.1 799.2,371.6 799.4,373.7 799.6,374.7 799.8,379.0 799.8,378.6 800.0,379.3 800.2,381.6 800.4,382.1 800.6,382.2 800.8,381.9 801.0,384.3 801.2,384.9 801.4,383.6 801.6,385.1 801.8,385.1 802.0,386.3 802.2,387.5 802.4,387.1 802.6,387.8 802.6,388.7 802.8,388.3 803.0,388.5 803.2,388.8 803.4,387.8 803.6,386.9 803.8,387.2 804.0,387.5 804.2,386.0 804.4,386.0 804.6,386.4 804.8,386.7 805.0,385.5 805.2,385.3 805.4,386.9 805.6,386.9 805.8,388.4 806.0,385.8 806.2,388.2 806.4,388.1 806.6,385.3 806.8,385.4 807.0,385.1 807.2,385.5 807.4,385.5 807.6,386.1 807.8,385.7 808.0,384.7 808.2,386.1 808.4,385.2 808.6,384.9 808.8,386.2 809.0,385.3 809.2,384.1 809.4,383.4 809.6,383.1 809.8,384.0 810.0,384.0 810.2,383.6 810.4,384.4 810.4,384.8 810.6,381.5 810.8,377.8 811.0,373.9 811.2,371.0 811.4,369.6 811.6,365.3 811.6,365.5 811.8,367.8 812.0,368.6 812.2,370.3 812.4,371.5 812.6,373.4 812.8,375.0 813.0,375.9 813.2,379.6 813.4,380.0 813.4,380.1 813.6,381.5 813.8,383.0 814.0,383.0 814.2,381.6 814.4,382.3 814.6,382.8 814.8,381.4 815.0,385.1 815.2,384.2 815.4,383.4 815.6,383.7 815.8,383.0 816.0,385.9 816.2,386.8 816.4,385.6 816.6,386.9 816.8,386.4 816.9,386.3 817.0,385.0 817.2,386.4 817.4,384.4 817.6,384.1 817.8,385.6 818.0,385.4 818.2,385.0 818.4,385.1 818.6,384.4 818.8,386.7 819.0,386.3 819.2,386.1 819.4,388.3 819.6,385.6 819.8,385.2 820.0,386.4 820.2,384.8 820.4,383.8 820.6,385.2 820.8,383.9 821.0,383.3 821.2,383.4 821.4,383.6 821.6,384.1 821.8,384.2 822.0,382.5 822.2,384.1 822.4,382.5 822.6,382.6 822.8,381.5 823.0,384.8 823.2,384.1 823.4,383.2 823.6,382.7 823.8,383.1 823.9,382.4 824.0,379.7 824.2,373.9 824.4,372.2 824.6,367.8 824.8,364.2 825.0,361.1 825.1,360.0 825.2,362.2 825.4,362.6 825.6,365.5 825.8,364.7 826.0,365.4 826.2,367.8 826.4,368.4 826.6,371.3 826.8,372.7 826.9,373.7 827.0,373.9 827.2,376.2 827.4,376.6 827.6,376.0 827.8,376.3 828.0,377.0 828.2,378.5 828.4,377.6 828.6,379.0 828.8,380.7 828.9,379.6 829.0,379.6 829.2,379.7 829.4,379.6 829.6,378.9 829.8,378.1 830.0,376.2 830.2,376.9 830.4,378.1 830.6,379.5 830.8,379.1 831.0,378.6 831.2,378.9 831.4,378.6 831.4,378.7 831.6,379.2 831.8,375.4 832.0,374.6 832.2,372.1 832.4,372.2 832.6,372.8 832.6,372.2 832.8,374.5 833.0,376.1 833.2,377.3 833.4,378.1 833.6,378.7 833.8,380.5 834.0,379.6 834.2,379.5 834.4,380.2 834.4,380.1 834.6,380.6 834.8,380.3 835.0,380.1 835.2,382.4 835.4,381.5 835.6,382.0 835.8,381.7 836.0,381.0 836.2,381.4 836.4,380.3 836.6,382.2 836.8,381.4 837.0,380.8 837.2,381.4 837.4,383.9 837.6,384.7 837.8,384.8 838.0,385.6 838.2,383.9 838.4,383.8 838.6,383.3 838.6,383.8 838.8,384.0 839.0,384.0 839.2,384.5 839.4,382.9 839.6,384.2 839.8,383.3 840.0,383.9 840.2,381.6 840.4,381.9 840.6,380.1 840.8,380.5 840.8,380.7 841.0,375.8 841.2,375.7 841.4,371.8 841.6,369.7 841.8,367.1 842.0,364.5 842.0,364.1 842.2,365.8 842.4,366.9 842.6,368.9 842.8,369.7 843.0,371.8 843.2,373.5 843.4,375.4 843.6,376.1 843.8,376.1 843.8,375.5 844.0,377.2 844.2,378.0 844.4,377.5 844.6,376.5 844.8,376.2 845.0,376.6 845.2,378.4 845.4,377.2 845.6,377.5 845.8,381.1 846.0,380.5 846.2,380.5 846.4,379.9 846.6,381.3 846.8,380.8 846.9,381.0 847.0,380.5 847.3,380.2 847.5,381.9 847.7,381.8 847.9,380.5 848.1,380.4 848.3,380.8 848.5,381.2 848.7,380.2 848.9,381.9 849.1,381.0 849.3,378.5 849.5,379.0 849.7,379.3 849.9,380.9 850.1,380.0 850.3,378.9 850.5,378.1 850.7,379.1 850.9,379.4 851.1,379.2 851.3,379.6 851.5,379.4 851.7,377.8 851.9,376.8 852.1,377.9 852.3,377.0 852.4,378.2 852.5,377.4 852.7,376.2 852.9,373.0 853.1,369.1 853.3,366.7 853.5,363.7 853.6,362.3 853.7,362.9 853.9,365.7 854.1,366.0 854.3,366.5 854.5,370.2 854.7,371.1 854.9,375.0 855.1,376.8 855.3,377.2 855.4,378.6 855.5,378.1 855.7,377.7 855.9,378.3 856.1,380.1 856.3,380.8 856.5,383.2 856.7,382.5 856.9,383.9 857.1,384.5 857.3,383.7 857.5,386.5 857.7,385.5 857.9,386.4 858.1,386.0 858.2,385.6 858.3,386.0 858.5,385.7 858.7,385.0 858.9,385.8 859.1,384.3 859.3,384.7 859.5,383.3 859.7,383.1 859.9,383.9 860.1,384.0 860.3,383.4 860.5,384.0 860.7,384.6 860.9,384.3 861.1,384.7 861.3,383.6 861.5,382.8 861.7,382.8 861.9,382.5 862.1,383.0 862.3,382.1 862.5,381.4 862.7,379.9 862.9,381.3 863.1,383.1 863.3,383.5 863.4,381.8 863.5,383.8 863.7,385.7 863.9,387.9 864.1,391.1 864.3,396.1 864.5,400.6 864.7,405.2 864.9,406.1 865.1,409.6 865.3,412.4 865.5,416.5 865.7,419.7 865.7,420.1 865.9,411.8 866.1,403.3 866.3,391.6 866.5,383.1 866.7,372.8 866.9,363.2 867.1,354.6 867.2,345.8 867.3,347.4 867.5,350.9 867.7,353.6 867.9,357.0 868.1,359.0 868.3,363.6 868.5,367.3 868.7,369.8 868.9,372.5 869.0,374.6 869.1,374.5 869.3,375.9 869.5,376.5 869.7,378.8 869.9,379.8 870.1,380.9 870.3,381.6 870.5,381.8 870.7,382.2 870.9,383.4 871.1,385.1 871.3,385.9 871.5,386.8 871.7,388.1 871.7,387.0 871.9,388.2 872.1,387.4 872.3,386.7 872.5,388.0 872.7,386.2 872.9,386.0 873.1,385.7 873.3,385.6 873.5,383.9 873.7,385.4 873.9,387.1 874.1,388.4 874.3,386.7 874.5,386.6 874.7,386.6 874.9,385.9 875.1,386.0 875.3,387.1 875.5,387.3 875.7,386.1 875.9,386.0 876.1,385.9 876.3,386.6 876.5,387.1 876.7,388.4 876.9,388.0 877.1,387.3 877.3,387.4 877.5,386.9 877.7,386.6 877.9,387.1 878.1,387.2 878.3,386.1 878.5,386.1 878.7,385.2 878.9,385.3 879.1,385.4 879.3,384.1 879.5,385.6 879.7,386.1 879.9,383.3 880.1,384.8 880.3,384.1 880.5,382.7 880.7,382.5 880.9,384.8 881.1,384.1 881.3,384.4 881.5,386.0 881.7,385.1 881.9,385.2 882.1,387.3 882.3,386.5 882.5,386.9 882.7,385.0 882.9,384.3 883.1,385.1 883.3,384.8 883.5,385.3 883.7,384.9 883.9,384.5 884.0,384.4 884.1,383.9 884.3,380.8 884.5,380.6 884.7,377.1 884.9,376.1 885.1,371.9 885.2,369.8 885.3,370.7 885.5,371.2 885.7,371.4 885.9,373.0 886.1,374.1 886.3,374.4 886.5,373.8 886.7,373.8 886.9,376.2 887.0,376.1 887.1,377.1 887.3,376.1 887.5,375.4 887.7,376.2 887.9,376.8 888.1,378.3 888.3,376.8 888.5,377.5 888.7,376.7 888.9,377.8 889.1,380.3 889.3,378.5 889.5,379.4 889.7,378.7 889.7,378.8 889.9,379.0 890.1,377.8 890.3,377.6 890.5,379.1 890.7,379.1 890.9,379.3 891.1,378.4 891.3,378.7 891.5,380.1 891.7,377.7 891.9,379.0 892.1,378.4 892.3,376.8 892.5,376.2 892.7,375.6 892.9,376.4 893.1,376.1 893.3,375.7 893.3,376.2 893.5,374.1 893.7,372.7 893.9,368.9 894.1,366.5 894.3,363.0 894.5,362.2 894.5,361.5 894.7,363.2 894.9,364.1 895.1,364.9 895.3,367.3 895.5,369.4 895.7,370.8 895.9,371.6 896.1,372.3 896.3,374.9 896.3,375.7 896.5,375.4 896.7,374.1 896.9,373.9 897.1,376.7 897.3,376.9 897.5,376.3 897.7,378.9 897.9,378.8 898.1,378.4 898.3,379.2 898.5,378.3 898.7,378.0 898.9,377.2 899.1,379.3 899.3,378.8 899.5,380.1 899.7,380.9 899.9,379.5 900.1,382.2 900.2,381.8 900.3,382.1 900.5,383.9 900.7,381.4 900.9,381.9 901.1,381.8 901.3,380.9 901.5,381.9 901.7,382.7 901.9,382.1 902.1,381.4 902.3,380.0 902.5,381.9 902.7,381.3 902.9,381.1 903.1,379.7 903.3,381.8 903.5,380.6 903.7,381.0 903.9,381.4 904.1,382.5 904.3,381.8 904.5,381.5 904.7,382.0 904.7,381.8 904.9,386.1 905.1,390.3 905.3,397.2 905.5,401.9 905.7,405.9 905.9,411.5 906.1,417.5 906.2,421.6 906.3,418.7 906.5,410.7 906.7,402.9 906.9,393.4 907.1,384.6 907.3,377.0 907.5,368.7 907.7,359.7 907.9,352.2 908.0,346.8 908.1,346.9 908.3,350.6 908.5,353.7 908.7,356.0 908.9,359.5 909.1,363.1 909.3,365.8 909.5,368.7 909.7,371.6 909.8,373.4 909.9,373.2 910.1,375.2 910.3,376.1 910.5,376.0 910.7,377.5 910.9,377.0 911.1,375.4 911.3,379.7 911.5,379.4 911.7,379.9 911.9,381.9 912.1,381.9 912.3,381.4 912.5,382.1 912.7,382.1 912.9,382.6 913.1,383.6 913.3,383.8 913.5,385.3 913.7,385.5 913.7,384.8 913.9,386.3 914.1,385.0 914.3,384.6 914.5,384.6 914.7,383.2 914.9,383.0 915.1,383.9 915.3,383.4 915.5,384.3 915.7,384.2 915.9,385.5 916.1,384.5 916.3,385.4 916.5,383.9 916.7,384.1 916.9,384.0 917.1,384.2 917.3,383.7 917.5,383.4 917.7,383.5 917.9,385.0 918.1,384.1 918.3,384.3 918.5,383.5 918.7,382.2 918.9,385.6 919.1,385.2 919.3,384.6 919.5,384.2 919.7,383.8 919.9,381.9 920.1,383.8 920.3,383.5 920.5,384.4 920.7,384.2 920.9,384.1 921.1,384.4 921.3,384.2 921.5,382.6 921.7,384.5 921.9,383.4 922.1,384.4 922.3,385.2 922.5,383.5 922.7,382.3 922.9,380.3 923.1,381.7 923.3,382.3 923.5,382.1 923.7,382.2 923.9,380.9 924.1,383.1 924.3,382.2 924.5,382.4 924.5,382.6 924.7,380.6 924.9,378.7 925.1,376.9 925.3,375.0 925.5,372.6 925.7,369.3 925.7,369.8 925.9,370.3 926.1,370.6 926.3,371.0 926.5,372.9 926.7,375.1 926.9,376.1 927.1,377.1 927.3,378.7 927.5,378.4 927.5,378.8 927.7,380.1 927.9,380.9 928.1,379.6 928.3,379.8 928.5,379.4 928.7,379.6 928.9,379.2 929.1,379.6 929.3,382.2 929.5,383.4 929.7,383.6 929.9,383.1 930.1,382.1 930.3,383.1 930.3,382.6 930.5,382.6 930.7,382.4 930.9,381.7 931.1,381.3 931.3,380.9 931.5,381.4 931.7,383.6 931.9,381.9 932.1,382.4 932.3,382.4 932.5,381.7 932.7,381.1 932.9,380.9 933.1,380.0 933.3,381.4 933.5,380.7 933.7,381.2 933.9,380.6 934.1,381.9 934.3,381.1 934.5,381.1 934.7,381.7 934.9,379.3 935.1,379.1 935.3,377.7 935.5,379.6 935.7,380.1 935.9,380.0 936.1,380.6 936.3,380.9 936.3,379.6 936.5,381.6 936.7,382.6 936.9,383.7 937.1,384.0 937.3,385.5 937.5,387.7 937.5,387.8 937.7,385.3 937.9,380.3 938.1,376.0 938.3,372.9 938.5,369.3 938.7,365.2 938.9,361.7 939.1,358.0 939.3,355.0 939.5,350.5 939.6,348.8 939.7,351.0 939.9,354.4 940.1,357.4 940.3,361.4 940.5,364.7 940.7,365.8 940.9,369.7 941.1,372.3 941.3,374.4 941.4,376.1 941.5,376.4 941.7,377.4 941.9,378.2 942.1,378.3 942.3,376.8 942.5,379.1 942.7,378.9 942.9,381.2 943.1,381.7 943.3,384.2 943.5,385.7 943.7,386.5 943.9,385.4 944.1,386.0 944.3,386.4 944.5,387.7 944.5,387.8 944.7,388.8 944.9,386.1 945.1,386.8 945.3,387.0 945.5,386.2 945.7,385.0 945.9,385.6 946.1,384.2 946.3,383.9 946.5,383.5 946.7,384.0 946.9,384.1 947.1,383.0 947.3,384.0 947.5,383.2 947.7,382.7 947.9,382.6 948.1,381.0 948.3,380.1 948.5,381.3 948.7,381.2 948.9,381.5 949.1,379.0 949.3,380.6 949.5,379.6 949.7,378.7 949.9,379.0 950.1,379.2 950.3,378.9 950.5,378.5 950.7,377.7 950.9,379.1 951.1,377.7 951.3,378.0 951.5,376.5 951.7,376.6 951.9,376.5 952.1,376.3 952.3,376.1 952.5,373.1 952.7,374.4 952.8,374.3 952.9,373.6 953.1,376.8 953.3,375.5 953.5,376.2 953.7,376.7 953.9,375.9 954.1,377.6 954.3,378.1 954.3,376.6" fill="none" stroke="#000" stroke-width="1.8" stroke-linejoin="round"/>
<path d="M560.60 321.10L560.60 334.70M554.71 324.50L566.49 331.30M566.49 324.50L554.71 331.30" stroke="#000" stroke-width="3.0" fill="none"/>
<path d="M588.30 321.10L588.30 334.70M582.41 324.50L594.19 331.30M594.19 324.50L582.41 331.30" stroke="#000" stroke-width="3.0" fill="none"/>
<path d="M867.40 321.10L867.40 334.70M861.51 324.50L873.29 331.30M873.29 324.50L861.51 331.30" stroke="#000" stroke-width="3.0" fill="none"/>
<path d="M906.70 321.10L906.70 334.70M900.81 324.50L912.59 331.30M912.59 324.50L900.81 331.30" stroke="#000" stroke-width="3.0" fill="none"/>
<path d="M937.50 321.10L937.50 334.70M931.61 324.50L943.39 331.30M943.39 324.50L931.61 331.30" stroke="#000" stroke-width="3.0" fill="none"/>
<path d="M171 787V847.7M171 902.5V919" stroke="#1c1c1c" stroke-width="1.5" fill="none"/>
<rect x="146.5" y="847.7" width="50.5" height="54.8" fill="#FFFF00" stroke="#262626" stroke-width="1.6"/>
<path d="M146.5 868.3H197" stroke="#262626" stroke-width="2.5"/>
<path d="M322.8 736V814.5M322.8 897V908" stroke="#1c1c1c" stroke-width="1.5" fill="none"/>
<rect x="297" y="814.5" width="51" height="82.5" fill="#FFFF00" stroke="#262626" stroke-width="1.6"/>
<path d="M297 828H348" stroke="#262626" stroke-width="2.5"/>
<path d="M473.5 724V796.5M473.5 887.5V903" stroke="#1c1c1c" stroke-width="1.5" fill="none"/>
<rect x="448" y="796.5" width="50.8" height="91" fill="#FFFF00" stroke="#262626" stroke-width="1.6"/>
<path d="M448 803H498.8" stroke="#262626" stroke-width="2.5"/>
<path d="M624.5 730V774M624.5 888.3V888.3" stroke="#1c1c1c" stroke-width="1.5" fill="none"/>
<rect x="599" y="774" width="51" height="114.3" fill="#FFFF00" stroke="#262626" stroke-width="1.6"/>
<path d="M599 801.5H650" stroke="#262626" stroke-width="2.5"/>
<path d="M775.5 748.5V767.8M775.5 877V893" stroke="#1c1c1c" stroke-width="1.5" fill="none"/>
<rect x="750" y="767.8" width="51.2" height="109.2" fill="#FFFF00" stroke="#262626" stroke-width="1.6"/>
<path d="M750 841H801.2" stroke="#262626" stroke-width="2.5"/>
<path d="M926.5 791V819.5M926.5 876.5V895" stroke="#1c1c1c" stroke-width="1.5" fill="none"/>
<rect x="901" y="819.5" width="51" height="57" fill="#FFFF00" stroke="#262626" stroke-width="1.6"/>
<path d="M901 859H952" stroke="#262626" stroke-width="2.5"/>
<path d="M1077.5 795V830.5M1077.5 876.5V900" stroke="#1c1c1c" stroke-width="1.5" fill="none"/>
<rect x="1052" y="830.5" width="51" height="46" fill="#FFFF00" stroke="#262626" stroke-width="1.6"/>
<path d="M1052 862H1103" stroke="#262626" stroke-width="2.5"/>
<path d="M1228.5 805V834.5M1228.5 874.5V899" stroke="#1c1c1c" stroke-width="1.5" fill="none"/>
<rect x="1203.2" y="834.5" width="51" height="40" fill="#FFFF00" stroke="#262626" stroke-width="1.6"/>
<path d="M1203.2 864.3H1254.2" stroke="#262626" stroke-width="2.5"/>
<path d="M229 856V858.5M229 887.5V896" stroke="#1c1c1c" stroke-width="1.5" fill="none"/>
<rect x="202.8" y="858.5" width="50.7" height="29" fill="#FF0000" stroke="#262626" stroke-width="1.6"/>
<path d="M202.8 882.5H253.5" stroke="#262626" stroke-width="2.5"/>
<path d="M379.3 796V815M379.3 834V852" stroke="#1c1c1c" stroke-width="1.5" fill="none"/>
<rect x="353.5" y="815" width="51" height="19" fill="#FF0000" stroke="#262626" stroke-width="1.6"/>
<path d="M353.5 821.5H404.5" stroke="#262626" stroke-width="2.5"/>
<path d="M530 761V773M530 815V815" stroke="#1c1c1c" stroke-width="1.5" fill="none"/>
<rect x="504.5" y="773" width="51" height="42" fill="#FF0000" stroke="#262626" stroke-width="1.6"/>
<path d="M504.5 811.5H555.5" stroke="#262626" stroke-width="2.5"/>
<path d="M681 745V763.5M681 806.5V810" stroke="#1c1c1c" stroke-width="1.5" fill="none"/>
<rect x="655.5" y="763.5" width="51.5" height="43" fill="#FF0000" stroke="#262626" stroke-width="1.6"/>
<path d="M655.5 793H707" stroke="#262626" stroke-width="2.5"/>
<path d="M832 759V796.5M832 829.5V871" stroke="#1c1c1c" stroke-width="1.5" fill="none"/>
<rect x="806.5" y="796.5" width="51.3" height="33" fill="#FF0000" stroke="#262626" stroke-width="1.6"/>
<path d="M806.5 811.5H857.8" stroke="#262626" stroke-width="2.5"/>
<path d="M983 822V826M983 858V868" stroke="#1c1c1c" stroke-width="1.5" fill="none"/>
<rect x="957.5" y="826" width="51" height="32" fill="#FF0000" stroke="#262626" stroke-width="1.6"/>
<path d="M957.5 851.5H1008.5" stroke="#262626" stroke-width="2.5"/>
<path d="M1134 824V836.5M1134 859.5V867" stroke="#1c1c1c" stroke-width="1.5" fill="none"/>
<rect x="1109" y="836.5" width="50.8" height="23" fill="#FF0000" stroke="#262626" stroke-width="1.6"/>
<path d="M1109 857H1159.8" stroke="#262626" stroke-width="2.5"/>
<path d="M1285 837V844.5M1285 858V867" stroke="#1c1c1c" stroke-width="1.5" fill="none"/>
<rect x="1260" y="844.5" width="50.5" height="13.5" fill="#FF0000" stroke="#262626" stroke-width="1.6"/>
<path d="M1260 852H1310.5" stroke="#262626" stroke-width="2.5"/>
<path d="M168.90 787.20L179.10 787.20L174.00 778.00ZM159.90 838.70L170.10 838.70L165.00 829.50ZM158.90 848.20L169.10 848.20L164.00 839.00ZM169.40 857.70L179.60 857.70L174.50 848.50ZM166.90 866.20L177.10 866.20L172.00 857.00ZM153.90 875.70L164.10 875.70L159.00 866.50ZM164.40 905.20L174.60 905.20L169.50 896.00ZM171.40 904.20L181.60 904.20L176.50 895.00ZM153.40 922.70L163.60 922.70L158.50 913.50ZM151.40 923.20L161.60 923.20L156.50 914.00ZM304.90 739.20L315.10 739.20L310.00 730.00ZM304.70 783.20L314.90 783.20L309.80 774.00ZM326.10 816.20L336.30 816.20L331.20 807.00ZM302.40 822.20L312.60 822.20L307.50 813.00ZM311.70 828.20L321.90 828.20L316.80 819.00ZM329.40 834.20L339.60 834.20L334.50 825.00ZM313.90 879.70L324.10 879.70L319.00 870.50ZM320.40 907.70L330.60 907.70L325.50 898.50ZM311.40 909.20L321.60 909.20L316.50 900.00ZM305.90 912.20L316.10 912.20L311.00 903.00ZM468.10 733.20L478.30 733.20L473.20 724.00ZM467.10 763.70L477.30 763.70L472.20 754.50ZM468.10 801.20L478.30 801.20L473.20 792.00ZM473.90 800.20L484.10 800.20L479.00 791.00ZM477.90 810.20L488.10 810.20L483.00 801.00ZM462.90 863.20L473.10 863.20L468.00 854.00ZM462.70 900.20L472.90 900.20L467.80 891.00ZM466.90 904.70L477.10 904.70L472.00 895.50ZM477.40 904.20L487.60 904.20L482.50 895.00ZM633.90 733.20L644.10 733.20L639.00 724.00ZM606.90 753.70L617.10 753.70L612.00 744.50ZM606.40 777.70L616.60 777.70L611.50 768.50ZM632.70 799.20L642.90 799.20L637.80 790.00ZM619.90 804.70L630.10 804.70L625.00 795.50ZM606.70 847.20L616.90 847.20L611.80 838.00ZM613.40 892.20L623.60 892.20L618.50 883.00ZM619.90 895.70L630.10 895.70L625.00 886.50ZM616.70 900.20L626.90 900.20L621.80 891.00ZM763.40 754.70L773.60 754.70L768.50 745.50ZM780.40 751.70L790.60 751.70L785.50 742.50ZM773.10 771.20L783.30 771.20L778.20 762.00ZM761.90 815.20L772.10 815.20L767.00 806.00ZM769.10 844.20L779.30 844.20L774.20 835.00ZM771.10 858.70L781.30 858.70L776.20 849.50ZM777.70 880.20L787.90 880.20L782.80 871.00ZM781.90 889.70L792.10 889.70L787.00 880.50ZM769.70 897.20L779.90 897.20L774.80 888.00ZM928.40 794.20L938.60 794.20L933.50 785.00ZM909.10 803.20L919.30 803.20L914.20 794.00ZM912.40 822.70L922.60 822.70L917.50 813.50ZM925.40 829.70L935.60 829.70L930.50 820.50ZM934.40 862.70L944.60 862.70L939.50 853.50ZM912.10 870.70L922.30 870.70L917.20 861.50ZM935.40 879.70L945.60 879.70L940.50 870.50ZM916.90 898.70L927.10 898.70L922.00 889.50ZM936.40 898.20L946.60 898.20L941.50 889.00ZM1071.90 799.20L1082.10 799.20L1077.00 790.00ZM1085.70 816.70L1095.90 816.70L1090.80 807.50ZM1059.10 833.70L1069.30 833.70L1064.20 824.50ZM1061.40 839.70L1071.60 839.70L1066.50 830.50ZM1058.40 865.70L1068.60 865.70L1063.50 856.50ZM1081.90 870.70L1092.10 870.70L1087.00 861.50ZM1076.90 880.20L1087.10 880.20L1082.00 871.00ZM1064.40 900.70L1074.60 900.70L1069.50 891.50ZM1080.70 903.70L1090.90 903.70L1085.80 894.50ZM1226.40 806.20L1236.60 806.20L1231.50 797.00ZM1210.90 823.70L1221.10 823.70L1216.00 814.50ZM1215.90 838.70L1226.10 838.70L1221.00 829.50ZM1230.90 839.20L1241.10 839.20L1236.00 830.00ZM1226.90 868.70L1237.10 868.70L1232.00 859.50ZM1233.90 867.70L1244.10 867.70L1239.00 858.50ZM1217.70 878.70L1227.90 878.70L1222.80 869.50ZM1233.70 898.70L1243.90 898.70L1238.80 889.50ZM1218.90 903.20L1229.10 903.20L1224.00 894.00ZM216.60 853.60h7.8v7.8h-7.8ZM226.60 851.10h7.8v7.8h-7.8ZM230.10 853.60h7.8v7.8h-7.8ZM222.10 855.10h7.8v7.8h-7.8ZM237.10 878.60h7.8v7.8h-7.8ZM213.10 883.60h7.8v7.8h-7.8ZM230.60 887.10h7.8v7.8h-7.8ZM227.60 897.10h7.8v7.8h-7.8ZM389.90 791.60h7.8v7.8h-7.8ZM388.40 802.60h7.8v7.8h-7.8ZM387.90 811.60h7.8v7.8h-7.8ZM380.60 814.10h7.8v7.8h-7.8ZM386.60 820.10h7.8v7.8h-7.8ZM387.90 826.10h7.8v7.8h-7.8ZM370.60 830.10h7.8v7.8h-7.8ZM369.90 848.60h7.8v7.8h-7.8ZM389.90 888.60h7.8v7.8h-7.8ZM536.90 756.60h7.8v7.8h-7.8ZM513.60 769.10h7.8v7.8h-7.8ZM525.10 767.10h7.8v7.8h-7.8ZM527.30 795.10h7.8v7.8h-7.8ZM530.90 807.60h7.8v7.8h-7.8ZM513.10 812.60h7.8v7.8h-7.8ZM521.60 811.10h7.8v7.8h-7.8ZM530.60 811.10h7.8v7.8h-7.8ZM512.90 880.60h7.8v7.8h-7.8ZM677.90 741.10h7.8v7.8h-7.8ZM663.10 757.10h7.8v7.8h-7.8ZM685.10 757.60h7.8v7.8h-7.8ZM691.10 763.10h7.8v7.8h-7.8ZM665.30 783.60h7.8v7.8h-7.8ZM662.60 794.60h7.8v7.8h-7.8ZM676.30 805.10h7.8v7.8h-7.8ZM672.90 811.60h7.8v7.8h-7.8ZM673.60 876.60h7.8v7.8h-7.8ZM817.10 754.60h7.8v7.8h-7.8ZM828.10 790.10h7.8v7.8h-7.8ZM814.90 793.10h7.8v7.8h-7.8ZM830.10 796.10h7.8v7.8h-7.8ZM816.60 818.10h7.8v7.8h-7.8ZM826.10 820.10h7.8v7.8h-7.8ZM822.90 840.10h7.8v7.8h-7.8ZM831.90 867.10h7.8v7.8h-7.8ZM991.90 815.60h7.8v7.8h-7.8ZM965.90 821.60h7.8v7.8h-7.8ZM977.10 820.10h7.8v7.8h-7.8ZM979.60 825.10h7.8v7.8h-7.8ZM978.90 848.10h7.8v7.8h-7.8ZM991.60 853.60h7.8v7.8h-7.8ZM967.30 857.60h7.8v7.8h-7.8ZM979.90 864.60h7.8v7.8h-7.8ZM1123.60 819.60h7.8v7.8h-7.8ZM1128.60 819.60h7.8v7.8h-7.8ZM1116.60 835.10h7.8v7.8h-7.8ZM1135.30 832.60h7.8v7.8h-7.8ZM1118.10 853.60h7.8v7.8h-7.8ZM1130.10 853.60h7.8v7.8h-7.8ZM1144.10 856.10h7.8v7.8h-7.8ZM1135.60 860.10h7.8v7.8h-7.8ZM1129.10 862.60h7.8v7.8h-7.8ZM1266.60 826.10h7.8v7.8h-7.8ZM1283.60 829.10h7.8v7.8h-7.8ZM1271.60 840.10h7.8v7.8h-7.8ZM1285.10 841.60h7.8v7.8h-7.8ZM1269.60 848.10h7.8v7.8h-7.8ZM1275.10 854.10h7.8v7.8h-7.8ZM1288.60 854.10h7.8v7.8h-7.8ZM1295.10 861.60h7.8v7.8h-7.8ZM1287.10 863.60h7.8v7.8h-7.8Z" fill="#000"/>
<path d="M109 645.8V1013.6H1348" fill="none" stroke="#000" stroke-width="1.5" stroke-linecap="square"/>
<path d="M103.8 997.1H109M103.8 900.2H109M103.8 803.3H109M103.8 706.4H109M199.6 1013.6V1018.8M350.6 1013.6V1018.8M501.6 1013.6V1018.8M652.6 1013.6V1018.8M803.6 1013.6V1018.8M954.6 1013.6V1018.8M1105.6 1013.6V1018.8M1256.6 1013.6V1018.8" stroke="#262626" stroke-width="1.5"/>
<text x="88.2" y="1003.9" font-size="19.2" textLength="10.71" lengthAdjust="spacingAndGlyphs" fill="#000">0</text>
<text x="88.45" y="907" font-size="19.2" textLength="10.71" lengthAdjust="spacingAndGlyphs" fill="#000">2</text>
<text x="87.95" y="810.1" font-size="19.2" textLength="10.71" lengthAdjust="spacingAndGlyphs" fill="#000">4</text>
<text x="88.2" y="713.2" font-size="19.2" textLength="10.71" lengthAdjust="spacingAndGlyphs" fill="#000">6</text>
<text x="188.85" y="1038.2" font-size="19.2" textLength="21.41" lengthAdjust="spacingAndGlyphs" fill="#000">50</text>
<text x="334.23" y="1038.2" font-size="19.2" textLength="32.12" lengthAdjust="spacingAndGlyphs" fill="#000">100</text>
<text x="485.23" y="1038.2" font-size="19.2" textLength="32.12" lengthAdjust="spacingAndGlyphs" fill="#000">150</text>
<text x="636.48" y="1038.2" font-size="19.2" textLength="32.12" lengthAdjust="spacingAndGlyphs" fill="#000">200</text>
<text x="787.73" y="1038.2" font-size="19.2" textLength="32.12" lengthAdjust="spacingAndGlyphs" fill="#000">400</text>
<text x="938.48" y="1038.2" font-size="19.2" textLength="32.12" lengthAdjust="spacingAndGlyphs" fill="#000">600</text>
<text x="1089.47" y="1038.2" font-size="19.2" textLength="32.12" lengthAdjust="spacingAndGlyphs" fill="#000">800</text>
<text x="1234.97" y="1038.2" font-size="19.2" textLength="42.83" lengthAdjust="spacingAndGlyphs" fill="#000">1000</text>
<text x="458.1" y="601.4" font-size="25.8" font-weight="bold" textLength="539.67" lengthAdjust="spacingAndGlyphs" fill="#000">Area power in miR-324-null and WT samples</text>
<text x="434.5" y="631.6" font-size="19.3" textLength="587.99" lengthAdjust="spacingAndGlyphs" fill="#000">P-value (effect of genotype) = 0.068; P-value (effect of KA) = 2.4e-25</text>
<text x="617.62" y="1063.8" font-size="22" textLength="220.81" lengthAdjust="spacingAndGlyphs" fill="#000">KA concentration (nM)</text>
<g transform="translate(0,0)">
<text x="1369.81" y="808.2" font-size="22" textLength="94.53" lengthAdjust="spacingAndGlyphs" fill="#000">Genotype</text>
<text x="1406.4" y="840.8" font-size="19" textLength="29.39" lengthAdjust="spacingAndGlyphs" fill="#000">WT</text>
<text x="1404.88" y="865.5" font-size="19" textLength="27.83" lengthAdjust="spacingAndGlyphs" fill="#000">KO</text>
<path d="M1382 823.8V843.8M1382 848V868.5" stroke="#262626" stroke-width="1.35"/>
<rect x="1372.4" y="827.3" width="19.1" height="12.6" fill="#FFFF00" stroke="#262626" stroke-width="1.35"/>
<path d="M1372.4 833.6H1391.5" stroke="#262626" stroke-width="2.5"/>
<rect x="1372.4" y="851.6" width="19.1" height="12.6" fill="#FF0000" stroke="#262626" stroke-width="1.35"/>
<path d="M1372.4 857.9H1391.5" stroke="#262626" stroke-width="2.5"/>
<path d="M1377.30 836.40L1386.10 836.40L1381.70 828.60ZM1378.20 854.60h7.4v7.4h-7.4Z" fill="#000"/>
</g>
<text transform="translate(72.7,947.3) rotate(-90)" font-size="22"><tspan x="-1.25" y="0" font-size="22">log</tspan><tspan x="28.55" y="4.4" font-size="16.5">10</tspan><tspan x="46.1" y="0" font-size="27">(</tspan><tspan x="55.1" y="0" font-size="22">Area power</tspan><tspan x="167.1" y="0" font-size="27">)</tspan><tspan x="182" y="0" font-size="27">(</tspan><tspan x="190.8" y="0.3" font-size="23">μ</tspan><tspan x="203.8" y="0" font-size="22">V</tspan><tspan x="217.75" y="-11.2" font-size="18">2</tspan><tspan x="227.9" y="0" font-size="27">)</tspan></text>
<path d="M171.8 1474.3V1474.3M171.8 1496.3V1508.8" stroke="#1c1c1c" stroke-width="1.5" fill="none"/>
<rect x="146.3" y="1474.3" width="50.8" height="22" fill="#FFFF00" stroke="#262626" stroke-width="1.6"/>
<path d="M146.3 1483.2H197.1" stroke="#262626" stroke-width="2.5"/>
<path d="M322.7 1390.4V1428.9M322.7 1481.4V1557.4" stroke="#1c1c1c" stroke-width="1.5" fill="none"/>
<rect x="297" y="1428.9" width="51.1" height="52.5" fill="#FFFF00" stroke="#262626" stroke-width="1.6"/>
<path d="M297 1453.5H348.1" stroke="#262626" stroke-width="2.5"/>
<path d="M473.8 1329.5V1413.9M473.8 1533.4V1548.5" stroke="#1c1c1c" stroke-width="1.5" fill="none"/>
<rect x="448.4" y="1413.9" width="50.3" height="119.5" fill="#FFFF00" stroke="#262626" stroke-width="1.6"/>
<path d="M448.4 1421.5H498.7" stroke="#262626" stroke-width="2.5"/>
<path d="M624.7 1322.3V1387.1M624.7 1527.2V1548.5" stroke="#1c1c1c" stroke-width="1.5" fill="none"/>
<rect x="599" y="1387.1" width="50.8" height="140.1" fill="#FFFF00" stroke="#262626" stroke-width="1.6"/>
<path d="M599 1415.6H649.8" stroke="#262626" stroke-width="2.5"/>
<path d="M775.6 1356.2V1387.9M775.6 1509.3V1541.7" stroke="#1c1c1c" stroke-width="1.5" fill="none"/>
<rect x="749.9" y="1387.9" width="51.4" height="121.4" fill="#FFFF00" stroke="#262626" stroke-width="1.6"/>
<path d="M749.9 1471.9H801.3" stroke="#262626" stroke-width="2.5"/>
<path d="M926.5 1442V1460.5M926.5 1520V1542" stroke="#1c1c1c" stroke-width="1.5" fill="none"/>
<rect x="900.8" y="1460.5" width="51.4" height="59.5" fill="#FFFF00" stroke="#262626" stroke-width="1.6"/>
<path d="M900.8 1508.5H952.2" stroke="#262626" stroke-width="2.5"/>
<path d="M1077.5 1437.5V1463.5M1077.5 1511.5V1546.5" stroke="#1c1c1c" stroke-width="1.5" fill="none"/>
<rect x="1052" y="1463.5" width="51" height="48" fill="#FFFF00" stroke="#262626" stroke-width="1.6"/>
<path d="M1052 1491.5H1103" stroke="#262626" stroke-width="2.5"/>
<path d="M1228.5 1443.5V1471M1228.5 1509V1540" stroke="#1c1c1c" stroke-width="1.5" fill="none"/>
<rect x="1203.2" y="1471" width="51" height="38" fill="#FFFF00" stroke="#262626" stroke-width="1.6"/>
<path d="M1203.2 1492H1254.2" stroke="#262626" stroke-width="2.5"/>
<path d="M228.2 1489.4V1493.1M228.2 1524.5V1539.5" stroke="#1c1c1c" stroke-width="1.5" fill="none"/>
<rect x="202.5" y="1493.1" width="51.3" height="31.4" fill="#FF0000" stroke="#262626" stroke-width="1.6"/>
<path d="M202.5 1500H253.8" stroke="#262626" stroke-width="2.5"/>
<path d="M379.2 1417.7V1434.2M379.2 1453.1V1459.6" stroke="#1c1c1c" stroke-width="1.5" fill="none"/>
<rect x="353.7" y="1434.2" width="50.8" height="18.9" fill="#FF0000" stroke="#262626" stroke-width="1.6"/>
<path d="M353.7 1447.9H404.5" stroke="#262626" stroke-width="2.5"/>
<path d="M530 1358V1381.7M530 1427.1V1446.3" stroke="#1c1c1c" stroke-width="1.5" fill="none"/>
<rect x="504.8" y="1381.7" width="50.9" height="45.4" fill="#FF0000" stroke="#262626" stroke-width="1.6"/>
<path d="M504.8 1423.4H555.7" stroke="#262626" stroke-width="2.5"/>
<path d="M681.4 1343V1372.8M681.4 1409.4V1442.9" stroke="#1c1c1c" stroke-width="1.5" fill="none"/>
<rect x="655.7" y="1372.8" width="51.1" height="36.6" fill="#FF0000" stroke="#262626" stroke-width="1.6"/>
<path d="M655.7 1386.8H706.8" stroke="#262626" stroke-width="2.5"/>
<path d="M831.9 1382.5V1397.9M831.9 1458.4V1494.2" stroke="#1c1c1c" stroke-width="1.5" fill="none"/>
<rect x="806.8" y="1397.9" width="51.1" height="60.5" fill="#FF0000" stroke="#262626" stroke-width="1.6"/>
<path d="M806.8 1418.5H857.9" stroke="#262626" stroke-width="2.5"/>
<path d="M983 1464V1467M983 1496.5V1506" stroke="#1c1c1c" stroke-width="1.5" fill="none"/>
<rect x="957.5" y="1467" width="51" height="29.5" fill="#FF0000" stroke="#262626" stroke-width="1.6"/>
<path d="M957.5 1475.5H1008.5" stroke="#262626" stroke-width="2.5"/>
<path d="M1134 1473V1478.5M1134 1505.5V1514" stroke="#1c1c1c" stroke-width="1.5" fill="none"/>
<rect x="1109" y="1478.5" width="50.5" height="27" fill="#FF0000" stroke="#262626" stroke-width="1.6"/>
<path d="M1109 1491.5H1159.5" stroke="#262626" stroke-width="2.5"/>
<path d="M1285 1483V1488M1285 1502.5V1510" stroke="#1c1c1c" stroke-width="1.5" fill="none"/>
<rect x="1260" y="1488" width="50.5" height="14.5" fill="#FF0000" stroke="#262626" stroke-width="1.6"/>
<path d="M1260 1494.5H1310.5" stroke="#262626" stroke-width="2.5"/>
<path d="M173.80 1404.00L184.00 1404.00L178.90 1394.80ZM166.70 1476.30L176.90 1476.30L171.80 1467.10ZM177.40 1482.60L187.60 1482.60L182.50 1473.40ZM151.90 1491.50L162.10 1491.50L157.00 1482.30ZM163.80 1502.20L174.00 1502.20L168.90 1493.00ZM162.60 1513.00L172.80 1513.00L167.70 1503.80ZM307.50 1335.90L317.70 1335.90L312.60 1326.70ZM312.00 1394.00L322.20 1394.00L317.10 1384.80ZM325.40 1444.80L335.60 1444.80L330.50 1435.60ZM316.00 1456.60L326.20 1456.60L321.10 1447.40ZM328.50 1457.10L338.70 1457.10L333.60 1447.90ZM321.30 1462.70L331.50 1462.70L326.40 1453.50ZM321.80 1552.10L332.00 1552.10L326.90 1542.90ZM305.10 1561.60L315.30 1561.60L310.20 1552.40ZM479.10 1332.60L489.30 1332.60L484.20 1323.40ZM460.60 1362.20L470.80 1362.20L465.70 1353.00ZM473.50 1416.40L483.70 1416.40L478.60 1407.20ZM483.00 1418.10L493.20 1418.10L488.10 1408.90ZM458.40 1420.90L468.60 1420.90L463.50 1411.70ZM475.20 1428.70L485.40 1428.70L480.30 1419.50ZM464.60 1520.30L474.80 1520.30L469.70 1511.10ZM481.30 1543.20L491.50 1543.20L486.40 1534.00ZM470.10 1548.80L480.30 1548.80L475.20 1539.60ZM461.80 1554.90L472.00 1554.90L466.90 1545.70ZM617.10 1325.90L627.30 1325.90L622.20 1316.70ZM616.80 1352.20L627.00 1352.20L621.90 1343.00ZM609.50 1390.70L619.70 1390.70L614.60 1381.50ZM614.60 1418.60L624.80 1418.60L619.70 1409.40ZM624.00 1418.60L634.20 1418.60L629.10 1409.40ZM619.40 1477.80L629.60 1477.80L624.50 1468.60ZM610.10 1530.90L620.30 1530.90L615.20 1521.70ZM621.80 1538.10L632.00 1538.10L626.90 1528.90ZM611.80 1552.10L622.00 1552.10L616.90 1542.90ZM769.40 1356.50L779.60 1356.50L774.50 1347.30ZM772.90 1364.40L783.10 1364.40L778.00 1355.20ZM766.40 1391.20L776.60 1391.20L771.50 1382.00ZM784.10 1425.80L794.30 1425.80L789.20 1416.60ZM762.00 1475.50L772.20 1475.50L767.10 1466.30ZM760.60 1498.90L770.80 1498.90L765.70 1489.70ZM781.90 1512.90L792.10 1512.90L787.00 1503.70ZM775.20 1534.70L785.40 1534.70L780.30 1525.50ZM759.00 1545.90L769.20 1545.90L764.10 1536.70ZM933.70 1445.20L943.90 1445.20L938.80 1436.00ZM924.40 1453.70L934.60 1453.70L929.50 1444.50ZM931.10 1467.20L941.30 1467.20L936.20 1458.00ZM930.90 1508.20L941.10 1508.20L936.00 1499.00ZM911.10 1516.20L921.30 1516.20L916.20 1507.00ZM919.90 1515.70L930.10 1515.70L925.00 1506.50ZM918.40 1544.70L928.60 1544.70L923.50 1535.50ZM927.90 1545.20L938.10 1545.20L933.00 1536.00ZM1061.90 1440.70L1072.10 1440.70L1067.00 1431.50ZM1067.10 1452.70L1077.30 1452.70L1072.20 1443.50ZM1087.70 1471.70L1097.90 1471.70L1092.80 1462.50ZM1080.90 1480.70L1091.10 1480.70L1086.00 1471.50ZM1086.40 1509.70L1096.60 1509.70L1091.50 1500.50ZM1066.40 1513.20L1076.60 1513.20L1071.50 1504.00ZM1077.90 1519.20L1088.10 1519.20L1083.00 1510.00ZM1078.90 1550.70L1089.10 1550.70L1084.00 1541.50ZM1212.40 1446.70L1222.60 1446.70L1217.50 1437.50ZM1213.90 1468.20L1224.10 1468.20L1219.00 1459.00ZM1228.70 1476.20L1238.90 1476.20L1233.80 1467.00ZM1213.90 1483.70L1224.10 1483.70L1219.00 1474.50ZM1233.90 1507.70L1244.10 1507.70L1239.00 1498.50ZM1224.40 1511.20L1234.60 1511.20L1229.50 1502.00ZM1222.90 1516.70L1233.10 1516.70L1228.00 1507.50ZM1213.90 1543.70L1224.10 1543.70L1219.00 1534.50ZM214.00 1485.20h7.8v7.8h-7.8ZM211.50 1492.90h7.8v7.8h-7.8ZM222.80 1498.90h7.8v7.8h-7.8ZM238.30 1487.90h7.8v7.8h-7.8ZM218.50 1527.90h7.8v7.8h-7.8ZM214.10 1535.60h7.8v7.8h-7.8ZM360.70 1413.30h7.8v7.8h-7.8ZM380.50 1430.00h7.8v7.8h-7.8ZM382.80 1430.60h7.8v7.8h-7.8ZM368.80 1444.00h7.8v7.8h-7.8ZM364.90 1446.80h7.8v7.8h-7.8ZM367.50 1456.30h7.8v7.8h-7.8ZM377.20 1486.40h7.8v7.8h-7.8ZM529.10 1354.10h7.8v7.8h-7.8ZM525.70 1368.90h7.8v7.8h-7.8ZM530.50 1380.70h7.8v7.8h-7.8ZM519.90 1420.00h7.8v7.8h-7.8ZM524.90 1418.90h7.8v7.8h-7.8ZM536.70 1420.00h7.8v7.8h-7.8ZM530.50 1430.60h7.8v7.8h-7.8ZM523.80 1441.80h7.8v7.8h-7.8ZM684.20 1337.90h7.8v7.8h-7.8ZM679.80 1341.60h7.8v7.8h-7.8ZM665.50 1368.40h7.8v7.8h-7.8ZM671.00 1377.40h7.8v7.8h-7.8ZM684.70 1382.90h7.8v7.8h-7.8ZM686.10 1402.70h7.8v7.8h-7.8ZM678.00 1405.50h7.8v7.8h-7.8ZM666.30 1413.10h7.8v7.8h-7.8ZM671.00 1439.00h7.8v7.8h-7.8ZM823.80 1378.40h7.8v7.8h-7.8ZM828.60 1394.00h7.8v7.8h-7.8ZM835.00 1394.00h7.8v7.8h-7.8ZM838.00 1414.30h7.8v7.8h-7.8ZM823.50 1449.50h7.8v7.8h-7.8ZM818.20 1459.00h7.8v7.8h-7.8ZM835.30 1490.30h7.8v7.8h-7.8ZM986.60 1461.60h7.8v7.8h-7.8ZM992.10 1459.10h7.8v7.8h-7.8ZM991.10 1468.10h7.8v7.8h-7.8ZM977.60 1477.10h7.8v7.8h-7.8ZM983.60 1498.10h7.8v7.8h-7.8ZM970.60 1502.60h7.8v7.8h-7.8ZM1139.30 1468.60h7.8v7.8h-7.8ZM1122.10 1476.10h7.8v7.8h-7.8ZM1121.90 1498.90h7.8v7.8h-7.8ZM1141.60 1510.10h7.8v7.8h-7.8ZM1269.30 1478.60h7.8v7.8h-7.8ZM1290.30 1486.10h7.8v7.8h-7.8ZM1292.30 1495.60h7.8v7.8h-7.8ZM1280.90 1505.60h7.8v7.8h-7.8Z" fill="#000"/>
<path d="M109 1238.5V1606H1348" fill="none" stroke="#000" stroke-width="1.5" stroke-linecap="square"/>
<path d="M103.8 1589.1H109M103.8 1480.2H109M103.8 1371.2H109M103.8 1261.9H109M199.6 1606V1611.2M350.6 1606V1611.2M501.6 1606V1611.2M652.6 1606V1611.2M803.6 1606V1611.2M954.6 1606V1611.2M1105.6 1606V1611.2M1256.6 1606V1611.2" stroke="#262626" stroke-width="1.5"/>
<text x="88.2" y="1595.9" font-size="19.2" textLength="10.71" lengthAdjust="spacingAndGlyphs" fill="#000">0</text>
<text x="88.45" y="1487" font-size="19.2" textLength="10.71" lengthAdjust="spacingAndGlyphs" fill="#000">2</text>
<text x="87.95" y="1378" font-size="19.2" textLength="10.71" lengthAdjust="spacingAndGlyphs" fill="#000">4</text>
<text x="88.2" y="1268.7" font-size="19.2" textLength="10.71" lengthAdjust="spacingAndGlyphs" fill="#000">6</text>
<text x="188.85" y="1630.6" font-size="19.2" textLength="21.41" lengthAdjust="spacingAndGlyphs" fill="#000">50</text>
<text x="334.23" y="1630.6" font-size="19.2" textLength="32.12" lengthAdjust="spacingAndGlyphs" fill="#000">100</text>
<text x="485.23" y="1630.6" font-size="19.2" textLength="32.12" lengthAdjust="spacingAndGlyphs" fill="#000">150</text>
<text x="636.48" y="1630.6" font-size="19.2" textLength="32.12" lengthAdjust="spacingAndGlyphs" fill="#000">200</text>
<text x="787.73" y="1630.6" font-size="19.2" textLength="32.12" lengthAdjust="spacingAndGlyphs" fill="#000">400</text>
<text x="938.48" y="1630.6" font-size="19.2" textLength="32.12" lengthAdjust="spacingAndGlyphs" fill="#000">600</text>
<text x="1089.47" y="1630.6" font-size="19.2" textLength="32.12" lengthAdjust="spacingAndGlyphs" fill="#000">800</text>
<text x="1234.97" y="1630.6" font-size="19.2" textLength="42.83" lengthAdjust="spacingAndGlyphs" fill="#000">1000</text>
<text x="433.5" y="1193.8" font-size="25.8" font-weight="bold" textLength="589.13" lengthAdjust="spacingAndGlyphs" fill="#000">Peak amplitude in miR-324-null and WT samples</text>
<text x="439" y="1224" font-size="19.3" textLength="577.13" lengthAdjust="spacingAndGlyphs" fill="#000">P-value (effect of genotype) = 0.20; P-value (effect of KA) = 1.8e-20</text>
<text x="617.62" y="1656.4" font-size="22" textLength="220.81" lengthAdjust="spacingAndGlyphs" fill="#000">KA concentration (nM)</text>
<g transform="translate(0,0)">
<text x="1369.81" y="1400.8" font-size="22" textLength="94.53" lengthAdjust="spacingAndGlyphs" fill="#000">Genotype</text>
<text x="1406.4" y="1433.4" font-size="19" textLength="29.39" lengthAdjust="spacingAndGlyphs" fill="#000">WT</text>
<text x="1404.88" y="1458.1" font-size="19" textLength="27.83" lengthAdjust="spacingAndGlyphs" fill="#000">KO</text>
<path d="M1382 1416.4V1436.4M1382 1440.6V1461.1" stroke="#262626" stroke-width="1.35"/>
<rect x="1372.4" y="1419.9" width="19.1" height="12.6" fill="#FFFF00" stroke="#262626" stroke-width="1.35"/>
<path d="M1372.4 1426.2H1391.5" stroke="#262626" stroke-width="2.5"/>
<rect x="1372.4" y="1444.2" width="19.1" height="12.6" fill="#FF0000" stroke="#262626" stroke-width="1.35"/>
<path d="M1372.4 1450.5H1391.5" stroke="#262626" stroke-width="2.5"/>
<path d="M1377.30 1429.00L1386.10 1429.00L1381.70 1421.20ZM1378.20 1447.20h7.4v7.4h-7.4Z" fill="#000"/>
</g>
<text transform="translate(72.8,1580.3) rotate(-90)" font-size="22"><tspan x="-1.25" y="0" font-size="22">log</tspan><tspan x="29.75" y="4.4" font-size="16.5">10</tspan><tspan x="46.1" y="0" font-size="27">(</tspan><tspan x="54.25" y="0" font-size="22">Peak amplitude</tspan><tspan x="208.6" y="0" font-size="27">)</tspan><tspan x="222.5" y="0" font-size="27">(</tspan><tspan x="231.5" y="0.3" font-size="23">μ</tspan><tspan x="244.9" y="0" font-size="22">V</tspan><tspan x="258.95" y="-11.2" font-size="18">2</tspan><tspan x="270.5" y="1.5" font-size="27">/</tspan><tspan x="280.55" y="0" font-size="22">Hz</tspan><tspan x="307.6" y="0" font-size="27">)</tspan></text>
<path d="M168.8 1983.5V2002M168.8 2048V2071.5" stroke="#1c1c1c" stroke-width="1.5" fill="none"/>
<rect x="143.5" y="2002" width="51" height="46" fill="#FFFF00" stroke="#262626" stroke-width="1.6"/>
<path d="M143.5 2034.5H194.5" stroke="#262626" stroke-width="2.5"/>
<path d="M320.2 1965.5V2002M320.2 2052.5V2058" stroke="#1c1c1c" stroke-width="1.5" fill="none"/>
<rect x="294.5" y="2002" width="51.3" height="50.5" fill="#FFFF00" stroke="#262626" stroke-width="1.6"/>
<path d="M294.5 2019.5H345.8" stroke="#262626" stroke-width="2.5"/>
<path d="M471.3 1982V2020.5M471.3 2053V2070" stroke="#1c1c1c" stroke-width="1.5" fill="none"/>
<rect x="446" y="2020.5" width="51" height="32.5" fill="#FFFF00" stroke="#262626" stroke-width="1.6"/>
<path d="M446 2028H497" stroke="#262626" stroke-width="2.5"/>
<path d="M623 2015V2027.5M623 2041.5V2059" stroke="#1c1c1c" stroke-width="1.5" fill="none"/>
<rect x="597.2" y="2027.5" width="51" height="14" fill="#FFFF00" stroke="#262626" stroke-width="1.6"/>
<path d="M597.2 2032H648.2" stroke="#262626" stroke-width="2.5"/>
<path d="M773.8 1944V1991M773.8 2030V2053" stroke="#1c1c1c" stroke-width="1.5" fill="none"/>
<rect x="748.5" y="1991" width="51" height="39" fill="#FFFF00" stroke="#262626" stroke-width="1.6"/>
<path d="M748.5 2017.5H799.5" stroke="#262626" stroke-width="2.5"/>
<path d="M925.2 1863V1910.5M925.2 2027.2V2088.9" stroke="#1c1c1c" stroke-width="1.5" fill="none"/>
<rect x="899.5" y="1910.5" width="51.4" height="116.7" fill="#FFFF00" stroke="#262626" stroke-width="1.6"/>
<path d="M899.5 1968H950.9" stroke="#262626" stroke-width="2.5"/>
<path d="M1076.7 1868.6V1893.2M1076.7 1939V1965.8" stroke="#1c1c1c" stroke-width="1.5" fill="none"/>
<rect x="1051" y="1893.2" width="51.4" height="45.8" fill="#FFFF00" stroke="#262626" stroke-width="1.6"/>
<path d="M1051 1909.4H1102.4" stroke="#262626" stroke-width="2.5"/>
<path d="M1228 1829.6V1884.9M1228 1952.5V2043.5" stroke="#1c1c1c" stroke-width="1.5" fill="none"/>
<rect x="1202.3" y="1884.9" width="50.9" height="67.6" fill="#FFFF00" stroke="#262626" stroke-width="1.6"/>
<path d="M1202.3 1937.6H1253.2" stroke="#262626" stroke-width="2.5"/>
<path d="M225.8 2006V2006M225.8 2039V2059" stroke="#1c1c1c" stroke-width="1.5" fill="none"/>
<rect x="200" y="2006" width="51.5" height="33" fill="#FF0000" stroke="#262626" stroke-width="1.6"/>
<path d="M200 2023.5H251.5" stroke="#262626" stroke-width="2.5"/>
<path d="M376.8 1968.5V1997.5M376.8 2023V2033.5" stroke="#1c1c1c" stroke-width="1.5" fill="none"/>
<rect x="351.5" y="1997.5" width="51" height="25.5" fill="#FF0000" stroke="#262626" stroke-width="1.6"/>
<path d="M351.5 2007.5H402.5" stroke="#262626" stroke-width="2.5"/>
<path d="M528 1974V1987.5M528 2011V2036" stroke="#1c1c1c" stroke-width="1.5" fill="none"/>
<rect x="502.5" y="1987.5" width="51" height="23.5" fill="#FF0000" stroke="#262626" stroke-width="1.6"/>
<path d="M502.5 2003.5H553.5" stroke="#262626" stroke-width="2.5"/>
<path d="M679.2 1966.5V1984.5M679.2 2022V2030" stroke="#1c1c1c" stroke-width="1.5" fill="none"/>
<rect x="654" y="1984.5" width="51" height="37.5" fill="#FF0000" stroke="#262626" stroke-width="1.6"/>
<path d="M654 2007.5H705" stroke="#262626" stroke-width="2.5"/>
<path d="M830.5 1940V1968.5M830.5 2021.5V2043" stroke="#1c1c1c" stroke-width="1.5" fill="none"/>
<rect x="805.5" y="1968.5" width="51" height="53" fill="#FF0000" stroke="#262626" stroke-width="1.6"/>
<path d="M805.5 2000H856.5" stroke="#262626" stroke-width="2.5"/>
<path d="M982 1849V1886.5M982 1934.7V1950.9" stroke="#1c1c1c" stroke-width="1.5" fill="none"/>
<rect x="956.8" y="1886.5" width="50.5" height="48.2" fill="#FF0000" stroke="#262626" stroke-width="1.6"/>
<path d="M956.8 1914.8H1007.3" stroke="#262626" stroke-width="2.5"/>
<path d="M1133.3 1845.7V1901.8M1133.3 1952.7V2006.5" stroke="#1c1c1c" stroke-width="1.5" fill="none"/>
<rect x="1108.2" y="1901.8" width="50.8" height="50.9" fill="#FF0000" stroke="#262626" stroke-width="1.6"/>
<path d="M1108.2 1934.5H1159" stroke="#262626" stroke-width="2.5"/>
<path d="M1284.4 1855.3V1865.9M1284.4 1948.6V1973.7" stroke="#1c1c1c" stroke-width="1.5" fill="none"/>
<rect x="1259.1" y="1865.9" width="51" height="82.7" fill="#FF0000" stroke="#262626" stroke-width="1.6"/>
<path d="M1259.1 1889.4H1310.1" stroke="#262626" stroke-width="2.5"/>
<path d="M170.90 1986.20L181.10 1986.20L176.00 1977.00ZM160.70 1996.20L170.90 1996.20L165.80 1987.00ZM173.40 2014.70L183.60 2014.70L178.50 2005.50ZM153.70 2038.20L163.90 2038.20L158.80 2029.00ZM156.70 2043.20L166.90 2043.20L161.80 2034.00ZM156.90 2060.20L167.10 2060.20L162.00 2051.00ZM176.40 2075.70L186.60 2075.70L181.50 2066.50ZM311.10 1967.70L321.30 1967.70L316.20 1958.50ZM304.90 1987.70L315.10 1987.70L310.00 1978.50ZM301.90 2000.70L312.10 2000.70L307.00 1991.50ZM309.90 2019.20L320.10 2019.20L315.00 2010.00ZM306.90 2024.20L317.10 2024.20L312.00 2015.00ZM327.40 2053.70L337.60 2053.70L332.50 2044.50ZM302.40 2056.20L312.60 2056.20L307.50 2047.00ZM316.40 2058.20L326.60 2058.20L321.50 2049.00ZM316.90 2063.70L327.10 2063.70L322.00 2054.50ZM455.40 1985.20L465.60 1985.20L460.50 1976.00ZM467.40 2001.20L477.60 2001.20L472.50 1992.00ZM458.90 2019.70L469.10 2019.70L464.00 2010.50ZM451.70 2023.20L461.90 2023.20L456.80 2014.00ZM478.40 2023.70L488.60 2023.70L483.50 2014.50ZM476.90 2027.70L487.10 2027.70L482.00 2018.50ZM479.40 2031.70L489.60 2031.70L484.50 2022.50ZM467.90 2049.70L478.10 2049.70L473.00 2040.50ZM472.90 2056.20L483.10 2056.20L478.00 2047.00ZM454.70 2057.20L464.90 2057.20L459.80 2048.00ZM480.40 2067.20L490.60 2067.20L485.50 2058.00ZM469.90 2073.70L480.10 2073.70L475.00 2064.50ZM621.40 2020.20L631.60 2020.20L626.50 2011.00ZM632.90 2017.70L643.10 2017.70L638.00 2008.50ZM632.40 2028.20L642.60 2028.20L637.50 2019.00ZM618.90 2031.20L629.10 2031.20L624.00 2022.00ZM623.40 2033.20L633.60 2033.20L628.50 2024.00ZM614.40 2038.70L624.60 2038.70L619.50 2029.50ZM630.90 2038.20L641.10 2038.20L636.00 2029.00ZM606.40 2062.70L616.60 2062.70L611.50 2053.50ZM622.90 2067.20L633.10 2067.20L628.00 2058.00ZM628.90 2070.20L639.10 2070.20L634.00 2061.00ZM768.10 1948.70L778.30 1948.70L773.20 1939.50ZM779.40 1962.70L789.60 1962.70L784.50 1953.50ZM755.40 1979.20L765.60 1979.20L760.50 1970.00ZM768.40 2000.70L778.60 2000.70L773.50 1991.50ZM777.40 2012.70L787.60 2012.70L782.50 2003.50ZM770.40 2018.20L780.60 2018.20L775.50 2009.00ZM762.90 2023.20L773.10 2023.20L768.00 2014.00ZM767.40 2029.20L777.60 2029.20L772.50 2020.00ZM756.10 2030.70L766.30 2030.70L761.20 2021.50ZM765.90 2040.70L776.10 2040.70L771.00 2031.50ZM763.40 2043.20L773.60 2043.20L768.50 2034.00ZM782.10 2057.20L792.30 2057.20L787.20 2048.00ZM912.10 1866.70L922.30 1866.70L917.20 1857.50ZM914.90 1889.70L925.10 1889.70L920.00 1880.50ZM932.10 1910.20L942.30 1910.20L937.20 1901.00ZM930.40 1926.70L940.60 1926.70L935.50 1917.50ZM924.90 1960.20L935.10 1960.20L930.00 1951.00ZM912.30 1981.90L922.50 1981.90L917.40 1972.70ZM913.40 2021.60L923.60 2021.60L918.50 2012.40ZM909.50 2033.30L919.70 2033.30L914.60 2024.10ZM919.60 2037.80L929.80 2037.80L924.70 2028.60ZM920.70 2089.70L930.90 2089.70L925.80 2080.50ZM1062.90 1871.70L1073.10 1871.70L1068.00 1862.50ZM1065.70 1871.70L1075.90 1871.70L1070.80 1862.50ZM1059.00 1896.80L1069.20 1896.80L1064.10 1887.60ZM1066.20 1907.70L1076.40 1907.70L1071.30 1898.50ZM1079.60 1913.00L1089.80 1913.00L1084.70 1903.80ZM1084.10 1928.10L1094.30 1928.10L1089.20 1918.90ZM1075.70 1942.40L1085.90 1942.40L1080.80 1933.20ZM1081.60 1947.60L1091.80 1947.60L1086.70 1938.40ZM1066.20 1969.40L1076.40 1969.40L1071.30 1960.20ZM1214.60 1832.10L1224.80 1832.10L1219.70 1822.90ZM1210.90 1880.70L1221.10 1880.70L1216.00 1871.50ZM1231.60 1878.50L1241.80 1878.50L1236.70 1869.30ZM1233.00 1910.30L1243.20 1910.30L1238.10 1901.10ZM1228.30 1941.00L1238.50 1941.00L1233.40 1931.80ZM1225.70 1944.40L1235.90 1944.40L1230.80 1935.20ZM1231.90 1960.00L1242.10 1960.00L1237.00 1950.80ZM1231.60 2034.30L1241.80 2034.30L1236.70 2025.10ZM1235.20 2048.20L1245.40 2048.20L1240.30 2039.00ZM214.90 1947.90h7.8v7.8h-7.8ZM211.90 2000.60h7.8v7.8h-7.8ZM216.10 2003.60h7.8v7.8h-7.8ZM231.10 2020.10h7.8v7.8h-7.8ZM221.90 2036.60h7.8v7.8h-7.8ZM229.60 2034.60h7.8v7.8h-7.8ZM228.10 2055.60h7.8v7.8h-7.8ZM376.30 1952.10h7.8v7.8h-7.8ZM376.10 1964.60h7.8v7.8h-7.8ZM367.60 1991.60h7.8v7.8h-7.8ZM361.60 1999.10h7.8v7.8h-7.8ZM365.60 2004.10h7.8v7.8h-7.8ZM369.60 2011.60h7.8v7.8h-7.8ZM380.60 2018.60h7.8v7.8h-7.8ZM361.60 2026.10h7.8v7.8h-7.8ZM385.30 2029.60h7.8v7.8h-7.8ZM512.30 1969.60h7.8v7.8h-7.8ZM532.90 1973.10h7.8v7.8h-7.8ZM524.60 1982.60h7.8v7.8h-7.8ZM517.90 1984.10h7.8v7.8h-7.8ZM535.60 1987.10h7.8v7.8h-7.8ZM526.60 1996.60h7.8v7.8h-7.8ZM516.60 2003.60h7.8v7.8h-7.8ZM510.10 2006.60h7.8v7.8h-7.8ZM530.60 2006.60h7.8v7.8h-7.8ZM510.60 2024.10h7.8v7.8h-7.8ZM513.60 2032.60h7.8v7.8h-7.8ZM682.60 1962.10h7.8v7.8h-7.8ZM662.30 1968.60h7.8v7.8h-7.8ZM670.10 1971.60h7.8v7.8h-7.8ZM662.30 1980.60h7.8v7.8h-7.8ZM689.60 1997.60h7.8v7.8h-7.8ZM681.60 2000.10h7.8v7.8h-7.8ZM688.90 2004.10h7.8v7.8h-7.8ZM670.60 2017.60h7.8v7.8h-7.8ZM687.60 2016.10h7.8v7.8h-7.8ZM677.30 2022.10h7.8v7.8h-7.8ZM667.30 2024.60h7.8v7.8h-7.8ZM679.90 2031.60h7.8v7.8h-7.8ZM839.90 1935.60h7.8v7.8h-7.8ZM814.60 1958.60h7.8v7.8h-7.8ZM817.90 1962.10h7.8v7.8h-7.8ZM833.60 1971.60h7.8v7.8h-7.8ZM831.10 1987.10h7.8v7.8h-7.8ZM817.60 2006.10h7.8v7.8h-7.8ZM841.60 2021.10h7.8v7.8h-7.8ZM828.60 2028.10h7.8v7.8h-7.8ZM831.90 2040.10h7.8v7.8h-7.8ZM963.90 1845.10h7.8v7.8h-7.8ZM979.60 1873.60h7.8v7.8h-7.8ZM970.90 1891.60h7.8v7.8h-7.8ZM984.10 1911.10h7.8v7.8h-7.8ZM977.30 1914.60h7.8v7.8h-7.8ZM964.10 1947.80h7.8v7.8h-7.8ZM974.60 2007.00h7.8v7.8h-7.8ZM1116.00 1841.60h7.8v7.8h-7.8ZM1142.30 1897.40h7.8v7.8h-7.8ZM1114.60 1930.30h7.8v7.8h-7.8ZM1138.70 1948.80h7.8v7.8h-7.8ZM1121.30 2003.70h7.8v7.8h-7.8ZM1278.60 1851.40h7.8v7.8h-7.8ZM1271.00 1862.00h7.8v7.8h-7.8ZM1292.80 1885.50h7.8v7.8h-7.8ZM1293.90 1944.70h7.8v7.8h-7.8ZM1283.90 1969.80h7.8v7.8h-7.8Z" fill="#000"/>
<path d="M106.7 1811.6V2179.7H1347.6" fill="none" stroke="#000" stroke-width="1.5" stroke-linecap="square"/>
<path d="M101.5 2162.7H106.7M101.5 2071.3H106.7M101.5 1979.7H106.7M101.5 1888.1H106.7M197.5 2179.7V2184.9M348.8 2179.7V2184.9M500.1 2179.7V2184.9M651.4 2179.7V2184.9M802.7 2179.7V2184.9M954 2179.7V2184.9M1105.3 2179.7V2184.9M1256.6 2179.7V2184.9" stroke="#262626" stroke-width="1.5"/>
<text x="75.55" y="2169.5" font-size="19.2" textLength="21.41" lengthAdjust="spacingAndGlyphs" fill="#000">10</text>
<text x="75.55" y="2078.1" font-size="19.2" textLength="21.41" lengthAdjust="spacingAndGlyphs" fill="#000">20</text>
<text x="75.55" y="1986.5" font-size="19.2" textLength="21.41" lengthAdjust="spacingAndGlyphs" fill="#000">30</text>
<text x="75.55" y="1894.9" font-size="19.2" textLength="21.41" lengthAdjust="spacingAndGlyphs" fill="#000">40</text>
<text x="186.75" y="2204.3" font-size="19.2" textLength="21.41" lengthAdjust="spacingAndGlyphs" fill="#000">50</text>
<text x="332.43" y="2204.3" font-size="19.2" textLength="32.12" lengthAdjust="spacingAndGlyphs" fill="#000">100</text>
<text x="483.73" y="2204.3" font-size="19.2" textLength="32.12" lengthAdjust="spacingAndGlyphs" fill="#000">150</text>
<text x="635.27" y="2204.3" font-size="19.2" textLength="32.12" lengthAdjust="spacingAndGlyphs" fill="#000">200</text>
<text x="786.83" y="2204.3" font-size="19.2" textLength="32.12" lengthAdjust="spacingAndGlyphs" fill="#000">400</text>
<text x="937.88" y="2204.3" font-size="19.2" textLength="32.12" lengthAdjust="spacingAndGlyphs" fill="#000">600</text>
<text x="1089.17" y="2204.3" font-size="19.2" textLength="32.12" lengthAdjust="spacingAndGlyphs" fill="#000">800</text>
<text x="1234.97" y="2204.3" font-size="19.2" textLength="42.83" lengthAdjust="spacingAndGlyphs" fill="#000">1000</text>
<text x="432.21" y="1767.3" font-size="25.8" font-weight="bold" textLength="589.08" lengthAdjust="spacingAndGlyphs" fill="#000">Peak frequency in miR-324-null and WT samples</text>
<text x="437.7" y="1797.5" font-size="19.3" textLength="577.13" lengthAdjust="spacingAndGlyphs" fill="#000">P-value (effect of genotype) = 0.21; P-value (effect of KA) = 1.0e-20</text>
<text x="617.72" y="2229.9" font-size="22" textLength="220.81" lengthAdjust="spacingAndGlyphs" fill="#000">KA concentration (nM)</text>
<g transform="translate(-0.8,0)">
<text x="1369.81" y="1974.3" font-size="22" textLength="94.53" lengthAdjust="spacingAndGlyphs" fill="#000">Genotype</text>
<text x="1406.4" y="2006.9" font-size="19" textLength="29.39" lengthAdjust="spacingAndGlyphs" fill="#000">WT</text>
<text x="1404.88" y="2031.6" font-size="19" textLength="27.83" lengthAdjust="spacingAndGlyphs" fill="#000">KO</text>
<path d="M1382 1989.9V2009.9M1382 2014.1V2034.6" stroke="#262626" stroke-width="1.35"/>
<rect x="1372.4" y="1993.4" width="19.1" height="12.6" fill="#FFFF00" stroke="#262626" stroke-width="1.35"/>
<path d="M1372.4 1999.7H1391.5" stroke="#262626" stroke-width="2.5"/>
<rect x="1372.4" y="2017.7" width="19.1" height="12.6" fill="#FF0000" stroke="#262626" stroke-width="1.35"/>
<path d="M1372.4 2024H1391.5" stroke="#262626" stroke-width="2.5"/>
<path d="M1377.30 2002.50L1386.10 2002.50L1381.70 1994.70ZM1378.20 2020.70h7.4v7.4h-7.4Z" fill="#000"/>
</g>
<text transform="translate(65.2,2094.7) rotate(-90)" x="-1.75" y="0" font-size="22" textLength="200.22" lengthAdjust="spacingAndGlyphs">Peak frequency (Hz)</text>
<text transform="translate(10.03,633.18) scale(0.8574,0.9156)" x="0" y="0" font-size="100" font-weight="bold">b</text>
<text transform="translate(10.04,1189.13) scale(0.7367,0.8694)" x="0" y="0" font-size="100" font-weight="bold">c</text>
<text transform="translate(9.31,1792.09) scale(0.8713,0.9143)" x="0" y="0" font-size="100" font-weight="bold">d</text>
</svg>
</body></html>
